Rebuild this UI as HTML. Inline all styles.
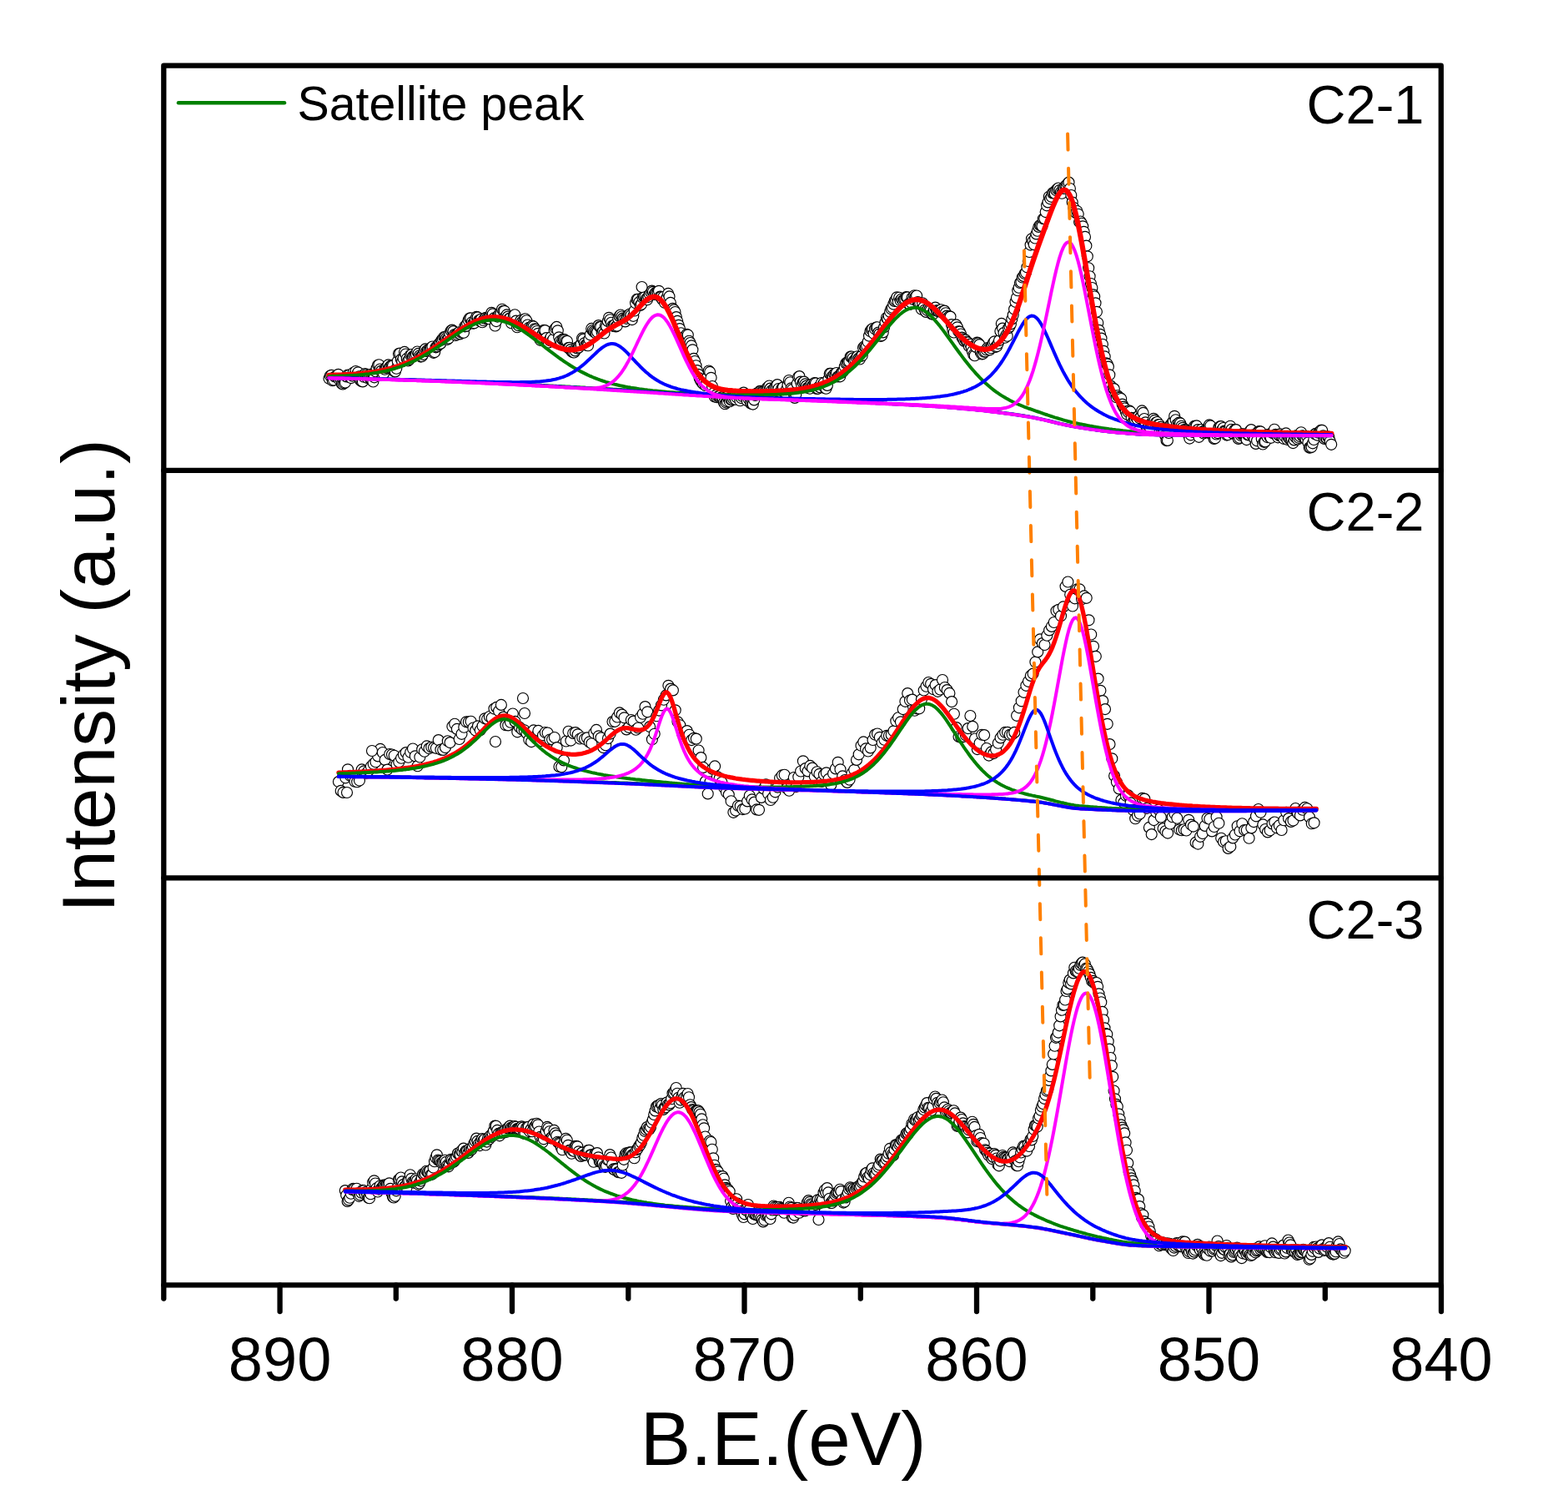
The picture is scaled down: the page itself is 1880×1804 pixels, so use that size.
<!DOCTYPE html><html><head><meta charset="utf-8"><style>html,body{margin:0;padding:0;background:#fff;}svg{display:block;}text{font-family:"Liberation Sans",Arial,sans-serif;fill:#000;}</style></head><body>
<svg width="1880" height="1804" viewBox="0 0 1880 1804">
<rect width="1880" height="1804" fill="#fff"/>
<g fill="#fff" stroke="#000" stroke-width="1.15"><circle cx="394.5" cy="453.8" r="6.5"/><circle cx="395.9" cy="450.5" r="6.5"/><circle cx="397.3" cy="449.8" r="6.5"/><circle cx="398.7" cy="456.2" r="6.5"/><circle cx="400.1" cy="455.5" r="6.5"/><circle cx="401.5" cy="451.5" r="6.5"/><circle cx="402.9" cy="451.2" r="6.5"/><circle cx="404.2" cy="451.1" r="6.5"/><circle cx="405.6" cy="448.8" r="6.5"/><circle cx="407" cy="455.3" r="6.5"/><circle cx="408.4" cy="454.1" r="6.5"/><circle cx="409.8" cy="460.1" r="6.5"/><circle cx="411.2" cy="460.5" r="6.5"/><circle cx="412.6" cy="459.3" r="6.5"/><circle cx="414" cy="458.6" r="6.5"/><circle cx="415.4" cy="451.4" r="6.5"/><circle cx="416.8" cy="449.5" r="6.5"/><circle cx="418.2" cy="450" r="6.5"/><circle cx="419.6" cy="452.2" r="6.5"/><circle cx="421" cy="453.1" r="6.5"/><circle cx="422.3" cy="450.6" r="6.5"/><circle cx="423.7" cy="446.8" r="6.5"/><circle cx="425.1" cy="449.1" r="6.5"/><circle cx="426.5" cy="445" r="6.5"/><circle cx="427.9" cy="449.1" r="6.5"/><circle cx="429.3" cy="446.3" r="6.5"/><circle cx="430.7" cy="451.3" r="6.5"/><circle cx="432.1" cy="456.1" r="6.5"/><circle cx="433.5" cy="457" r="6.5"/><circle cx="434.9" cy="457.4" r="6.5"/><circle cx="436.3" cy="451.7" r="6.5"/><circle cx="437.7" cy="448.1" r="6.5"/><circle cx="439.1" cy="449.2" r="6.5"/><circle cx="440.5" cy="453" r="6.5"/><circle cx="441.8" cy="451.3" r="6.5"/><circle cx="443.2" cy="449.1" r="6.5"/><circle cx="444.6" cy="454.9" r="6.5"/><circle cx="446" cy="455.6" r="6.5"/><circle cx="447.4" cy="457.5" r="6.5"/><circle cx="448.8" cy="452.3" r="6.5"/><circle cx="450.2" cy="445.3" r="6.5"/><circle cx="451.6" cy="441.4" r="6.5"/><circle cx="453" cy="437.8" r="6.5"/><circle cx="454.4" cy="437.2" r="6.5"/><circle cx="455.8" cy="442.5" r="6.5"/><circle cx="457.2" cy="444.6" r="6.5"/><circle cx="458.6" cy="449.6" r="6.5"/><circle cx="459.9" cy="448" r="6.5"/><circle cx="461.3" cy="442.7" r="6.5"/><circle cx="462.7" cy="441" r="6.5"/><circle cx="464.1" cy="439.6" r="6.5"/><circle cx="465.5" cy="437.4" r="6.5"/><circle cx="466.9" cy="440.6" r="6.5"/><circle cx="468.3" cy="438.8" r="6.5"/><circle cx="469.7" cy="437.9" r="6.5"/><circle cx="471.1" cy="438.3" r="6.5"/><circle cx="472.5" cy="445.1" r="6.5"/><circle cx="473.9" cy="445.4" r="6.5"/><circle cx="475.3" cy="441.7" r="6.5"/><circle cx="476.7" cy="432.9" r="6.5"/><circle cx="478" cy="424" r="6.5"/><circle cx="479.4" cy="423.6" r="6.5"/><circle cx="480.8" cy="430.8" r="6.5"/><circle cx="482.2" cy="433.2" r="6.5"/><circle cx="483.6" cy="429.5" r="6.5"/><circle cx="485" cy="421.9" r="6.5"/><circle cx="486.4" cy="424.5" r="6.5"/><circle cx="487.8" cy="429.9" r="6.5"/><circle cx="489.2" cy="432.5" r="6.5"/><circle cx="490.6" cy="431.3" r="6.5"/><circle cx="492" cy="425.7" r="6.5"/><circle cx="493.4" cy="425" r="6.5"/><circle cx="494.8" cy="427.4" r="6.5"/><circle cx="496.2" cy="427" r="6.5"/><circle cx="497.5" cy="425.7" r="6.5"/><circle cx="498.9" cy="424.2" r="6.5"/><circle cx="500.3" cy="421.5" r="6.5"/><circle cx="501.7" cy="423.8" r="6.5"/><circle cx="503.1" cy="426.2" r="6.5"/><circle cx="504.5" cy="427.6" r="6.5"/><circle cx="505.9" cy="427" r="6.5"/><circle cx="507.3" cy="424.8" r="6.5"/><circle cx="508.7" cy="419.9" r="6.5"/><circle cx="510.1" cy="418.3" r="6.5"/><circle cx="511.5" cy="420.8" r="6.5"/><circle cx="512.9" cy="419.4" r="6.5"/><circle cx="514.3" cy="419.7" r="6.5"/><circle cx="515.6" cy="418.3" r="6.5"/><circle cx="517" cy="416.9" r="6.5"/><circle cx="518.4" cy="415.5" r="6.5"/><circle cx="519.8" cy="422.8" r="6.5"/><circle cx="521.2" cy="422.1" r="6.5"/><circle cx="522.6" cy="416.3" r="6.5"/><circle cx="524" cy="415.4" r="6.5"/><circle cx="525.4" cy="413.4" r="6.5"/><circle cx="526.8" cy="411.6" r="6.5"/><circle cx="528.2" cy="411.9" r="6.5"/><circle cx="529.6" cy="407.4" r="6.5"/><circle cx="531" cy="406.2" r="6.5"/><circle cx="532.4" cy="404" r="6.5"/><circle cx="533.7" cy="404.2" r="6.5"/><circle cx="535.1" cy="405.5" r="6.5"/><circle cx="536.5" cy="406.8" r="6.5"/><circle cx="537.9" cy="405.6" r="6.5"/><circle cx="539.3" cy="399.4" r="6.5"/><circle cx="540.7" cy="396.4" r="6.5"/><circle cx="542.1" cy="395.6" r="6.5"/><circle cx="543.5" cy="397.1" r="6.5"/><circle cx="544.9" cy="401.1" r="6.5"/><circle cx="546.3" cy="402" r="6.5"/><circle cx="547.7" cy="400.7" r="6.5"/><circle cx="549.1" cy="399.1" r="6.5"/><circle cx="550.5" cy="398.2" r="6.5"/><circle cx="551.9" cy="400.3" r="6.5"/><circle cx="553.2" cy="398.6" r="6.5"/><circle cx="554.6" cy="398.1" r="6.5"/><circle cx="556" cy="398.7" r="6.5"/><circle cx="557.4" cy="391.3" r="6.5"/><circle cx="558.8" cy="390.9" r="6.5"/><circle cx="560.2" cy="387.7" r="6.5"/><circle cx="561.6" cy="383.8" r="6.5"/><circle cx="563" cy="381.5" r="6.5"/><circle cx="564.4" cy="381.3" r="6.5"/><circle cx="565.8" cy="386.3" r="6.5"/><circle cx="567.2" cy="387.7" r="6.5"/><circle cx="568.6" cy="387.2" r="6.5"/><circle cx="570" cy="383" r="6.5"/><circle cx="571.3" cy="379.8" r="6.5"/><circle cx="572.7" cy="380.4" r="6.5"/><circle cx="574.1" cy="384.1" r="6.5"/><circle cx="575.5" cy="384.3" r="6.5"/><circle cx="576.9" cy="382.5" r="6.5"/><circle cx="578.3" cy="386.2" r="6.5"/><circle cx="579.7" cy="384" r="6.5"/><circle cx="581.1" cy="381.7" r="6.5"/><circle cx="582.5" cy="380.8" r="6.5"/><circle cx="583.9" cy="381.4" r="6.5"/><circle cx="585.3" cy="381.7" r="6.5"/><circle cx="586.7" cy="382.2" r="6.5"/><circle cx="588.1" cy="378.3" r="6.5"/><circle cx="589.4" cy="374.8" r="6.5"/><circle cx="590.8" cy="376.4" r="6.5"/><circle cx="592.2" cy="381.4" r="6.5"/><circle cx="593.6" cy="390.5" r="6.5"/><circle cx="595" cy="385.1" r="6.5"/><circle cx="596.4" cy="379.6" r="6.5"/><circle cx="597.8" cy="377.9" r="6.5"/><circle cx="599.2" cy="375.6" r="6.5"/><circle cx="600.6" cy="375.9" r="6.5"/><circle cx="602" cy="370.7" r="6.5"/><circle cx="603.4" cy="372.8" r="6.5"/><circle cx="604.8" cy="372.8" r="6.5"/><circle cx="606.2" cy="379.4" r="6.5"/><circle cx="607.6" cy="377.4" r="6.5"/><circle cx="608.9" cy="379.6" r="6.5"/><circle cx="610.3" cy="382" r="6.5"/><circle cx="611.7" cy="381.4" r="6.5"/><circle cx="613.1" cy="387.2" r="6.5"/><circle cx="614.5" cy="383.6" r="6.5"/><circle cx="615.9" cy="378.4" r="6.5"/><circle cx="617.3" cy="377.2" r="6.5"/><circle cx="618.7" cy="384.6" r="6.5"/><circle cx="620.1" cy="392.2" r="6.5"/><circle cx="621.5" cy="390.1" r="6.5"/><circle cx="622.9" cy="387.1" r="6.5"/><circle cx="624.3" cy="384.1" r="6.5"/><circle cx="625.7" cy="386.1" r="6.5"/><circle cx="627" cy="387.7" r="6.5"/><circle cx="628.4" cy="382.9" r="6.5"/><circle cx="629.8" cy="382.2" r="6.5"/><circle cx="631.2" cy="384.2" r="6.5"/><circle cx="632.6" cy="389.5" r="6.5"/><circle cx="634" cy="392.9" r="6.5"/><circle cx="635.4" cy="396.2" r="6.5"/><circle cx="636.8" cy="392.1" r="6.5"/><circle cx="638.2" cy="390.6" r="6.5"/><circle cx="639.6" cy="391.5" r="6.5"/><circle cx="641" cy="394.2" r="6.5"/><circle cx="642.4" cy="394.9" r="6.5"/><circle cx="643.8" cy="397" r="6.5"/><circle cx="645.1" cy="399.8" r="6.5"/><circle cx="646.5" cy="405.4" r="6.5"/><circle cx="647.9" cy="407.8" r="6.5"/><circle cx="649.3" cy="403.8" r="6.5"/><circle cx="650.7" cy="400.2" r="6.5"/><circle cx="652.1" cy="395.9" r="6.5"/><circle cx="653.5" cy="396.1" r="6.5"/><circle cx="654.9" cy="405.1" r="6.5"/><circle cx="656.3" cy="409.7" r="6.5"/><circle cx="657.7" cy="410.6" r="6.5"/><circle cx="659.1" cy="408" r="6.5"/><circle cx="660.5" cy="404.3" r="6.5"/><circle cx="661.9" cy="408.9" r="6.5"/><circle cx="663.3" cy="406.7" r="6.5"/><circle cx="664.6" cy="395.6" r="6.5"/><circle cx="666" cy="393.5" r="6.5"/><circle cx="667.4" cy="391.9" r="6.5"/><circle cx="668.8" cy="396.3" r="6.5"/><circle cx="670.2" cy="404.3" r="6.5"/><circle cx="671.6" cy="408.7" r="6.5"/><circle cx="673" cy="411.1" r="6.5"/><circle cx="674.4" cy="406.9" r="6.5"/><circle cx="675.8" cy="406.7" r="6.5"/><circle cx="677.2" cy="407.3" r="6.5"/><circle cx="678.6" cy="409" r="6.5"/><circle cx="680" cy="409" r="6.5"/><circle cx="681.4" cy="417.1" r="6.5"/><circle cx="682.7" cy="416.9" r="6.5"/><circle cx="684.1" cy="419.1" r="6.5"/><circle cx="685.5" cy="421.2" r="6.5"/><circle cx="686.9" cy="422.2" r="6.5"/><circle cx="688.3" cy="422.5" r="6.5"/><circle cx="689.7" cy="420.4" r="6.5"/><circle cx="691.1" cy="416.9" r="6.5"/><circle cx="692.5" cy="417.6" r="6.5"/><circle cx="693.9" cy="416.6" r="6.5"/><circle cx="695.3" cy="414" r="6.5"/><circle cx="696.7" cy="412.5" r="6.5"/><circle cx="698.1" cy="405.4" r="6.5"/><circle cx="699.5" cy="406.6" r="6.5"/><circle cx="700.8" cy="411.3" r="6.5"/><circle cx="702.2" cy="413.4" r="6.5"/><circle cx="703.6" cy="413.6" r="6.5"/><circle cx="705" cy="414.2" r="6.5"/><circle cx="706.4" cy="406.6" r="6.5"/><circle cx="707.8" cy="401.3" r="6.5"/><circle cx="709.2" cy="393.9" r="6.5"/><circle cx="710.6" cy="396" r="6.5"/><circle cx="712" cy="397.4" r="6.5"/><circle cx="713.4" cy="398.5" r="6.5"/><circle cx="714.8" cy="399.6" r="6.5"/><circle cx="716.2" cy="398" r="6.5"/><circle cx="717.6" cy="390.1" r="6.5"/><circle cx="719" cy="391.8" r="6.5"/><circle cx="720.3" cy="392" r="6.5"/><circle cx="721.7" cy="398.6" r="6.5"/><circle cx="723.1" cy="397.2" r="6.5"/><circle cx="724.5" cy="399.5" r="6.5"/><circle cx="725.9" cy="390.7" r="6.5"/><circle cx="727.3" cy="391.4" r="6.5"/><circle cx="728.7" cy="384.9" r="6.5"/><circle cx="730.1" cy="380.8" r="6.5"/><circle cx="731.5" cy="383.2" r="6.5"/><circle cx="732.9" cy="386.7" r="6.5"/><circle cx="734.3" cy="390.5" r="6.5"/><circle cx="735.7" cy="390.8" r="6.5"/><circle cx="737.1" cy="389.3" r="6.5"/><circle cx="738.4" cy="391.4" r="6.5"/><circle cx="739.8" cy="390.6" r="6.5"/><circle cx="741.2" cy="381.8" r="6.5"/><circle cx="742.6" cy="378.9" r="6.5"/><circle cx="744" cy="377.5" r="6.5"/><circle cx="745.4" cy="379.5" r="6.5"/><circle cx="746.8" cy="381.6" r="6.5"/><circle cx="748.2" cy="382.9" r="6.5"/><circle cx="749.6" cy="385.4" r="6.5"/><circle cx="751" cy="381.8" r="6.5"/><circle cx="752.4" cy="379.7" r="6.5"/><circle cx="753.8" cy="377.5" r="6.5"/><circle cx="755.2" cy="376.5" r="6.5"/><circle cx="756.5" cy="377.9" r="6.5"/><circle cx="757.9" cy="383.1" r="6.5"/><circle cx="759.3" cy="378.8" r="6.5"/><circle cx="760.7" cy="372.5" r="6.5"/><circle cx="762.1" cy="363.2" r="6.5"/><circle cx="763.5" cy="358.9" r="6.5"/><circle cx="764.9" cy="358.8" r="6.5"/><circle cx="766.3" cy="362.2" r="6.5"/><circle cx="767.7" cy="365.9" r="6.5"/><circle cx="769.1" cy="364.7" r="6.5"/><circle cx="770.5" cy="356.7" r="6.5"/><circle cx="771.9" cy="355.7" r="6.5"/><circle cx="773.3" cy="355.9" r="6.5"/><circle cx="774.7" cy="358.4" r="6.5"/><circle cx="776" cy="359.2" r="6.5"/><circle cx="777.4" cy="355.8" r="6.5"/><circle cx="778.8" cy="352.4" r="6.5"/><circle cx="780.2" cy="350" r="6.5"/><circle cx="781.6" cy="348.6" r="6.5"/><circle cx="783" cy="349.8" r="6.5"/><circle cx="784.4" cy="353" r="6.5"/><circle cx="785.8" cy="350.9" r="6.5"/><circle cx="787.2" cy="351" r="6.5"/><circle cx="788.6" cy="350.2" r="6.5"/><circle cx="790" cy="348.8" r="6.5"/><circle cx="791.4" cy="355.6" r="6.5"/><circle cx="792.8" cy="355.8" r="6.5"/><circle cx="794.1" cy="359.1" r="6.5"/><circle cx="795.5" cy="355.8" r="6.5"/><circle cx="796.9" cy="362.8" r="6.5"/><circle cx="798.3" cy="360.1" r="6.5"/><circle cx="799.7" cy="356.5" r="6.5"/><circle cx="801.1" cy="351.9" r="6.5"/><circle cx="802.5" cy="355.4" r="6.5"/><circle cx="803.9" cy="362.9" r="6.5"/><circle cx="805.3" cy="370.7" r="6.5"/><circle cx="806.7" cy="369.9" r="6.5"/><circle cx="808.1" cy="371.4" r="6.5"/><circle cx="809.5" cy="374" r="6.5"/><circle cx="810.9" cy="380.1" r="6.5"/><circle cx="812.2" cy="384.9" r="6.5"/><circle cx="813.6" cy="389.8" r="6.5"/><circle cx="815" cy="394.1" r="6.5"/><circle cx="816.4" cy="399.2" r="6.5"/><circle cx="817.8" cy="405.5" r="6.5"/><circle cx="819.2" cy="405.8" r="6.5"/><circle cx="820.6" cy="403.8" r="6.5"/><circle cx="822" cy="404.5" r="6.5"/><circle cx="823.4" cy="400.8" r="6.5"/><circle cx="824.8" cy="401.5" r="6.5"/><circle cx="826.2" cy="408.7" r="6.5"/><circle cx="827.6" cy="411" r="6.5"/><circle cx="829" cy="414.4" r="6.5"/><circle cx="830.4" cy="419.3" r="6.5"/><circle cx="831.7" cy="429.9" r="6.5"/><circle cx="833.1" cy="433" r="6.5"/><circle cx="834.5" cy="438.2" r="6.5"/><circle cx="835.9" cy="444.1" r="6.5"/><circle cx="837.3" cy="448.8" r="6.5"/><circle cx="838.7" cy="453.4" r="6.5"/><circle cx="840.1" cy="456.3" r="6.5"/><circle cx="841.5" cy="458.3" r="6.5"/><circle cx="842.9" cy="460.1" r="6.5"/><circle cx="844.3" cy="458.7" r="6.5"/><circle cx="845.7" cy="462.1" r="6.5"/><circle cx="847.1" cy="460.5" r="6.5"/><circle cx="848.5" cy="452" r="6.5"/><circle cx="849.8" cy="444.5" r="6.5"/><circle cx="851.2" cy="445.9" r="6.5"/><circle cx="852.6" cy="452.8" r="6.5"/><circle cx="854" cy="463" r="6.5"/><circle cx="855.4" cy="471.4" r="6.5"/><circle cx="856.8" cy="475.4" r="6.5"/><circle cx="858.2" cy="473.9" r="6.5"/><circle cx="859.6" cy="476.2" r="6.5"/><circle cx="861" cy="475.3" r="6.5"/><circle cx="862.4" cy="474.9" r="6.5"/><circle cx="863.8" cy="477.1" r="6.5"/><circle cx="865.2" cy="476.4" r="6.5"/><circle cx="866.6" cy="478.3" r="6.5"/><circle cx="867.9" cy="482.6" r="6.5"/><circle cx="869.3" cy="484.2" r="6.5"/><circle cx="870.7" cy="482.6" r="6.5"/><circle cx="872.1" cy="481.2" r="6.5"/><circle cx="873.5" cy="478" r="6.5"/><circle cx="874.9" cy="481.2" r="6.5"/><circle cx="876.3" cy="479.1" r="6.5"/><circle cx="877.7" cy="479.4" r="6.5"/><circle cx="879.1" cy="478.1" r="6.5"/><circle cx="880.5" cy="476.2" r="6.5"/><circle cx="881.9" cy="478.7" r="6.5"/><circle cx="883.3" cy="476.2" r="6.5"/><circle cx="884.7" cy="474.1" r="6.5"/><circle cx="886.1" cy="475.2" r="6.5"/><circle cx="887.4" cy="480.2" r="6.5"/><circle cx="888.8" cy="477.1" r="6.5"/><circle cx="890.2" cy="475" r="6.5"/><circle cx="891.6" cy="470.6" r="6.5"/><circle cx="893" cy="474.4" r="6.5"/><circle cx="894.4" cy="475.6" r="6.5"/><circle cx="895.8" cy="480.2" r="6.5"/><circle cx="897.2" cy="477.8" r="6.5"/><circle cx="898.6" cy="476" r="6.5"/><circle cx="900" cy="483.5" r="6.5"/><circle cx="901.4" cy="483.9" r="6.5"/><circle cx="902.8" cy="484.6" r="6.5"/><circle cx="904.2" cy="479.4" r="6.5"/><circle cx="905.5" cy="473.9" r="6.5"/><circle cx="906.9" cy="471.8" r="6.5"/><circle cx="908.3" cy="471.4" r="6.5"/><circle cx="909.7" cy="473" r="6.5"/><circle cx="911.1" cy="468.8" r="6.5"/><circle cx="912.5" cy="468.7" r="6.5"/><circle cx="913.9" cy="469.6" r="6.5"/><circle cx="915.3" cy="469.2" r="6.5"/><circle cx="916.7" cy="471.2" r="6.5"/><circle cx="918.1" cy="468.2" r="6.5"/><circle cx="919.5" cy="465.3" r="6.5"/><circle cx="920.9" cy="464" r="6.5"/><circle cx="922.3" cy="462.5" r="6.5"/><circle cx="923.6" cy="465.6" r="6.5"/><circle cx="925" cy="468.3" r="6.5"/><circle cx="926.4" cy="470.4" r="6.5"/><circle cx="927.8" cy="466.2" r="6.5"/><circle cx="929.2" cy="464" r="6.5"/><circle cx="930.6" cy="462.7" r="6.5"/><circle cx="932" cy="461.1" r="6.5"/><circle cx="933.4" cy="466" r="6.5"/><circle cx="934.8" cy="470.2" r="6.5"/><circle cx="936.2" cy="470.4" r="6.5"/><circle cx="937.6" cy="465.2" r="6.5"/><circle cx="939" cy="464.3" r="6.5"/><circle cx="940.4" cy="470.8" r="6.5"/><circle cx="941.8" cy="471.1" r="6.5"/><circle cx="943.1" cy="466.7" r="6.5"/><circle cx="944.5" cy="461.6" r="6.5"/><circle cx="945.9" cy="456" r="6.5"/><circle cx="947.3" cy="458.2" r="6.5"/><circle cx="948.7" cy="465.3" r="6.5"/><circle cx="950.1" cy="466.8" r="6.5"/><circle cx="951.5" cy="471.6" r="6.5"/><circle cx="952.9" cy="476.9" r="6.5"/><circle cx="954.3" cy="472.7" r="6.5"/><circle cx="955.7" cy="459.9" r="6.5"/><circle cx="957.1" cy="452" r="6.5"/><circle cx="958.5" cy="451.1" r="6.5"/><circle cx="959.9" cy="457.6" r="6.5"/><circle cx="961.2" cy="461.9" r="6.5"/><circle cx="962.6" cy="458.8" r="6.5"/><circle cx="964" cy="457.6" r="6.5"/><circle cx="965.4" cy="460.4" r="6.5"/><circle cx="966.8" cy="462.6" r="6.5"/><circle cx="968.2" cy="464.7" r="6.5"/><circle cx="969.6" cy="464.6" r="6.5"/><circle cx="971" cy="465.7" r="6.5"/><circle cx="972.4" cy="461.1" r="6.5"/><circle cx="973.8" cy="462.7" r="6.5"/><circle cx="975.2" cy="461.8" r="6.5"/><circle cx="976.6" cy="459" r="6.5"/><circle cx="978" cy="459.4" r="6.5"/><circle cx="979.3" cy="465.9" r="6.5"/><circle cx="980.7" cy="465.8" r="6.5"/><circle cx="982.1" cy="463.5" r="6.5"/><circle cx="983.5" cy="464.4" r="6.5"/><circle cx="984.9" cy="459" r="6.5"/><circle cx="986.3" cy="461.7" r="6.5"/><circle cx="987.7" cy="459.2" r="6.5"/><circle cx="989.1" cy="465.2" r="6.5"/><circle cx="990.5" cy="465.7" r="6.5"/><circle cx="991.9" cy="461.9" r="6.5"/><circle cx="993.3" cy="454.5" r="6.5"/><circle cx="994.7" cy="447.9" r="6.5"/><circle cx="996.1" cy="447.8" r="6.5"/><circle cx="997.5" cy="451.5" r="6.5"/><circle cx="998.8" cy="452.3" r="6.5"/><circle cx="1000.2" cy="448.6" r="6.5"/><circle cx="1001.6" cy="449.1" r="6.5"/><circle cx="1003" cy="447" r="6.5"/><circle cx="1004.4" cy="451.5" r="6.5"/><circle cx="1005.8" cy="451" r="6.5"/><circle cx="1007.2" cy="451.3" r="6.5"/><circle cx="1008.6" cy="447.1" r="6.5"/><circle cx="1010" cy="446.1" r="6.5"/><circle cx="1011.4" cy="444.4" r="6.5"/><circle cx="1012.8" cy="439.6" r="6.5"/><circle cx="1014.2" cy="435.4" r="6.5"/><circle cx="1015.6" cy="434.8" r="6.5"/><circle cx="1016.9" cy="433.5" r="6.5"/><circle cx="1018.3" cy="433.3" r="6.5"/><circle cx="1019.7" cy="427.6" r="6.5"/><circle cx="1021.1" cy="427.5" r="6.5"/><circle cx="1022.5" cy="429.4" r="6.5"/><circle cx="1023.9" cy="432.5" r="6.5"/><circle cx="1025.3" cy="431.2" r="6.5"/><circle cx="1026.7" cy="428.7" r="6.5"/><circle cx="1028.1" cy="427.2" r="6.5"/><circle cx="1029.5" cy="429.6" r="6.5"/><circle cx="1030.9" cy="430.5" r="6.5"/><circle cx="1032.3" cy="426.7" r="6.5"/><circle cx="1033.7" cy="426.3" r="6.5"/><circle cx="1035" cy="416.8" r="6.5"/><circle cx="1036.4" cy="415.2" r="6.5"/><circle cx="1037.8" cy="415.9" r="6.5"/><circle cx="1039.2" cy="414.5" r="6.5"/><circle cx="1040.6" cy="409.8" r="6.5"/><circle cx="1042" cy="402.6" r="6.5"/><circle cx="1043.4" cy="397.1" r="6.5"/><circle cx="1044.8" cy="395.1" r="6.5"/><circle cx="1046.2" cy="394" r="6.5"/><circle cx="1047.6" cy="399.7" r="6.5"/><circle cx="1049" cy="394.3" r="6.5"/><circle cx="1050.4" cy="392.5" r="6.5"/><circle cx="1051.8" cy="392.2" r="6.5"/><circle cx="1053.2" cy="398.6" r="6.5"/><circle cx="1054.5" cy="400.3" r="6.5"/><circle cx="1055.9" cy="403" r="6.5"/><circle cx="1057.3" cy="402" r="6.5"/><circle cx="1058.7" cy="398.4" r="6.5"/><circle cx="1060.1" cy="392.2" r="6.5"/><circle cx="1061.5" cy="386.4" r="6.5"/><circle cx="1062.9" cy="381" r="6.5"/><circle cx="1064.3" cy="382.2" r="6.5"/><circle cx="1065.7" cy="378.6" r="6.5"/><circle cx="1067.1" cy="373.7" r="6.5"/><circle cx="1068.5" cy="370.3" r="6.5"/><circle cx="1069.9" cy="368.7" r="6.5"/><circle cx="1071.3" cy="364.6" r="6.5"/><circle cx="1072.6" cy="360.9" r="6.5"/><circle cx="1074" cy="359.7" r="6.5"/><circle cx="1075.4" cy="356.3" r="6.5"/><circle cx="1076.8" cy="361.5" r="6.5"/><circle cx="1078.2" cy="356.7" r="6.5"/><circle cx="1079.6" cy="360.3" r="6.5"/><circle cx="1081" cy="358.5" r="6.5"/><circle cx="1082.4" cy="360.3" r="6.5"/><circle cx="1083.8" cy="359" r="6.5"/><circle cx="1085.2" cy="358.5" r="6.5"/><circle cx="1086.6" cy="356.1" r="6.5"/><circle cx="1088" cy="356.3" r="6.5"/><circle cx="1089.4" cy="364.2" r="6.5"/><circle cx="1090.7" cy="364.9" r="6.5"/><circle cx="1092.1" cy="362.2" r="6.5"/><circle cx="1093.5" cy="357.1" r="6.5"/><circle cx="1094.9" cy="358.8" r="6.5"/><circle cx="1096.3" cy="354.2" r="6.5"/><circle cx="1097.7" cy="355.5" r="6.5"/><circle cx="1099.1" cy="354.5" r="6.5"/><circle cx="1100.5" cy="362" r="6.5"/><circle cx="1101.9" cy="363.9" r="6.5"/><circle cx="1103.3" cy="363.6" r="6.5"/><circle cx="1104.7" cy="370.6" r="6.5"/><circle cx="1106.1" cy="363.2" r="6.5"/><circle cx="1107.5" cy="368.3" r="6.5"/><circle cx="1108.9" cy="371.5" r="6.5"/><circle cx="1110.2" cy="373.9" r="6.5"/><circle cx="1111.6" cy="371.7" r="6.5"/><circle cx="1113" cy="370" r="6.5"/><circle cx="1114.4" cy="371.1" r="6.5"/><circle cx="1115.8" cy="371.9" r="6.5"/><circle cx="1117.2" cy="376.4" r="6.5"/><circle cx="1118.6" cy="376.6" r="6.5"/><circle cx="1120" cy="371.3" r="6.5"/><circle cx="1121.4" cy="368.6" r="6.5"/><circle cx="1122.8" cy="372.4" r="6.5"/><circle cx="1124.2" cy="372.5" r="6.5"/><circle cx="1125.6" cy="373.5" r="6.5"/><circle cx="1127" cy="372.9" r="6.5"/><circle cx="1128.3" cy="371.2" r="6.5"/><circle cx="1129.7" cy="373.6" r="6.5"/><circle cx="1131.1" cy="375.7" r="6.5"/><circle cx="1132.5" cy="372.6" r="6.5"/><circle cx="1133.9" cy="375.2" r="6.5"/><circle cx="1135.3" cy="378.6" r="6.5"/><circle cx="1136.7" cy="380.8" r="6.5"/><circle cx="1138.1" cy="379.2" r="6.5"/><circle cx="1139.5" cy="379.6" r="6.5"/><circle cx="1140.9" cy="389.1" r="6.5"/><circle cx="1142.3" cy="395.2" r="6.5"/><circle cx="1143.7" cy="398.5" r="6.5"/><circle cx="1145.1" cy="391.2" r="6.5"/><circle cx="1146.4" cy="389.4" r="6.5"/><circle cx="1147.8" cy="392.3" r="6.5"/><circle cx="1149.2" cy="397.2" r="6.5"/><circle cx="1150.6" cy="397.6" r="6.5"/><circle cx="1152" cy="400.5" r="6.5"/><circle cx="1153.4" cy="404.6" r="6.5"/><circle cx="1154.8" cy="406.3" r="6.5"/><circle cx="1156.2" cy="408.9" r="6.5"/><circle cx="1157.6" cy="407.4" r="6.5"/><circle cx="1159" cy="409.5" r="6.5"/><circle cx="1160.4" cy="410.4" r="6.5"/><circle cx="1161.8" cy="415" r="6.5"/><circle cx="1163.2" cy="412.6" r="6.5"/><circle cx="1164.6" cy="415.9" r="6.5"/><circle cx="1165.9" cy="421.2" r="6.5"/><circle cx="1167.3" cy="425.3" r="6.5"/><circle cx="1168.7" cy="426.2" r="6.5"/><circle cx="1170.1" cy="415.9" r="6.5"/><circle cx="1171.5" cy="410.6" r="6.5"/><circle cx="1172.9" cy="411.4" r="6.5"/><circle cx="1174.3" cy="413.1" r="6.5"/><circle cx="1175.7" cy="422.2" r="6.5"/><circle cx="1177.1" cy="424.5" r="6.5"/><circle cx="1178.5" cy="424.1" r="6.5"/><circle cx="1179.9" cy="421.7" r="6.5"/><circle cx="1181.3" cy="421.3" r="6.5"/><circle cx="1182.7" cy="419.2" r="6.5"/><circle cx="1184" cy="417.1" r="6.5"/><circle cx="1185.4" cy="418.3" r="6.5"/><circle cx="1186.8" cy="419.3" r="6.5"/><circle cx="1188.2" cy="417.2" r="6.5"/><circle cx="1189.6" cy="413.6" r="6.5"/><circle cx="1191" cy="411.1" r="6.5"/><circle cx="1192.4" cy="409.3" r="6.5"/><circle cx="1193.8" cy="415.8" r="6.5"/><circle cx="1195.2" cy="415.1" r="6.5"/><circle cx="1196.6" cy="411.8" r="6.5"/><circle cx="1198" cy="408.1" r="6.5"/><circle cx="1199.4" cy="397.1" r="6.5"/><circle cx="1200.8" cy="387.9" r="6.5"/><circle cx="1202.1" cy="393.6" r="6.5"/><circle cx="1203.5" cy="399.1" r="6.5"/><circle cx="1204.9" cy="404.7" r="6.5"/><circle cx="1206.3" cy="401.8" r="6.5"/><circle cx="1207.7" cy="402.7" r="6.5"/><circle cx="1209.1" cy="393.3" r="6.5"/><circle cx="1210.5" cy="391.5" r="6.5"/><circle cx="1211.9" cy="388.4" r="6.5"/><circle cx="1213.3" cy="382.4" r="6.5"/><circle cx="1214.7" cy="377.6" r="6.5"/><circle cx="1216.1" cy="370.6" r="6.5"/><circle cx="1217.5" cy="361.8" r="6.5"/><circle cx="1218.9" cy="356.9" r="6.5"/><circle cx="1220.3" cy="348.2" r="6.5"/><circle cx="1221.6" cy="344.7" r="6.5"/><circle cx="1223" cy="339" r="6.5"/><circle cx="1224.4" cy="338" r="6.5"/><circle cx="1225.8" cy="332.5" r="6.5"/><circle cx="1227.2" cy="330.9" r="6.5"/><circle cx="1228.6" cy="328" r="6.5"/><circle cx="1230" cy="326.8" r="6.5"/><circle cx="1231.4" cy="320.3" r="6.5"/><circle cx="1232.8" cy="313" r="6.5"/><circle cx="1234.2" cy="302" r="6.5"/><circle cx="1235.6" cy="293.6" r="6.5"/><circle cx="1237" cy="286.3" r="6.5"/><circle cx="1238.4" cy="289.2" r="6.5"/><circle cx="1239.7" cy="293.1" r="6.5"/><circle cx="1241.1" cy="285.5" r="6.5"/><circle cx="1242.5" cy="280.4" r="6.5"/><circle cx="1243.9" cy="276.7" r="6.5"/><circle cx="1245.3" cy="271.9" r="6.5"/><circle cx="1246.7" cy="270" r="6.5"/><circle cx="1248.1" cy="270.3" r="6.5"/><circle cx="1249.5" cy="271.1" r="6.5"/><circle cx="1250.9" cy="262.2" r="6.5"/><circle cx="1252.3" cy="262" r="6.5"/><circle cx="1253.7" cy="254.1" r="6.5"/><circle cx="1255.1" cy="246.3" r="6.5"/><circle cx="1256.5" cy="242.4" r="6.5"/><circle cx="1257.8" cy="235.8" r="6.5"/><circle cx="1259.2" cy="238.3" r="6.5"/><circle cx="1260.6" cy="235.8" r="6.5"/><circle cx="1262" cy="231.4" r="6.5"/><circle cx="1263.4" cy="231" r="6.5"/><circle cx="1264.8" cy="231.8" r="6.5"/><circle cx="1266.2" cy="228.1" r="6.5"/><circle cx="1267.6" cy="226.6" r="6.5"/><circle cx="1269" cy="225.5" r="6.5"/><circle cx="1270.4" cy="228" r="6.5"/><circle cx="1271.8" cy="230.5" r="6.5"/><circle cx="1273.2" cy="231.7" r="6.5"/><circle cx="1274.6" cy="225.8" r="6.5"/><circle cx="1276" cy="225.9" r="6.5"/><circle cx="1277.3" cy="222.9" r="6.5"/><circle cx="1278.7" cy="223.2" r="6.5"/><circle cx="1280.1" cy="220.1" r="6.5"/><circle cx="1281.5" cy="218.6" r="6.5"/><circle cx="1282.9" cy="226" r="6.5"/><circle cx="1284.3" cy="234" r="6.5"/><circle cx="1285.7" cy="242.5" r="6.5"/><circle cx="1287.1" cy="248.7" r="6.5"/><circle cx="1288.5" cy="253.8" r="6.5"/><circle cx="1289.9" cy="255.1" r="6.5"/><circle cx="1291.3" cy="253" r="6.5"/><circle cx="1292.7" cy="256.7" r="6.5"/><circle cx="1294.1" cy="266.1" r="6.5"/><circle cx="1295.4" cy="265.5" r="6.5"/><circle cx="1296.8" cy="267.7" r="6.5"/><circle cx="1298.2" cy="271.3" r="6.5"/><circle cx="1299.6" cy="277.8" r="6.5"/><circle cx="1301" cy="283.9" r="6.5"/><circle cx="1302.4" cy="294.6" r="6.5"/><circle cx="1303.8" cy="307.3" r="6.5"/><circle cx="1305.2" cy="321.2" r="6.5"/><circle cx="1306.6" cy="331.2" r="6.5"/><circle cx="1308" cy="340" r="6.5"/><circle cx="1309.4" cy="345" r="6.5"/><circle cx="1310.8" cy="353.3" r="6.5"/><circle cx="1312.2" cy="355.5" r="6.5"/><circle cx="1313.5" cy="363.3" r="6.5"/><circle cx="1314.9" cy="373.8" r="6.5"/><circle cx="1316.3" cy="387" r="6.5"/><circle cx="1317.7" cy="395.9" r="6.5"/><circle cx="1319.1" cy="400.9" r="6.5"/><circle cx="1320.5" cy="405.6" r="6.5"/><circle cx="1321.9" cy="412.7" r="6.5"/><circle cx="1323.3" cy="420.9" r="6.5"/><circle cx="1324.7" cy="427.4" r="6.5"/><circle cx="1326.1" cy="435.4" r="6.5"/><circle cx="1327.5" cy="436.3" r="6.5"/><circle cx="1328.9" cy="439.6" r="6.5"/><circle cx="1330.3" cy="449.3" r="6.5"/><circle cx="1331.7" cy="462.6" r="6.5"/><circle cx="1333" cy="468.1" r="6.5"/><circle cx="1334.4" cy="465.5" r="6.5"/><circle cx="1335.8" cy="466.1" r="6.5"/><circle cx="1337.2" cy="474.5" r="6.5"/><circle cx="1338.6" cy="476.2" r="6.5"/><circle cx="1340" cy="474.2" r="6.5"/><circle cx="1341.4" cy="476" r="6.5"/><circle cx="1342.8" cy="476.7" r="6.5"/><circle cx="1344.2" cy="478" r="6.5"/><circle cx="1345.6" cy="484.6" r="6.5"/><circle cx="1347" cy="487.6" r="6.5"/><circle cx="1348.4" cy="489.5" r="6.5"/><circle cx="1349.8" cy="493.3" r="6.5"/><circle cx="1351.1" cy="496.6" r="6.5"/><circle cx="1352.5" cy="493.7" r="6.5"/><circle cx="1353.9" cy="492.3" r="6.5"/><circle cx="1355.3" cy="493.4" r="6.5"/><circle cx="1356.7" cy="500.9" r="6.5"/><circle cx="1358.1" cy="506.2" r="6.5"/><circle cx="1359.5" cy="503" r="6.5"/><circle cx="1360.9" cy="502.6" r="6.5"/><circle cx="1362.3" cy="500.4" r="6.5"/><circle cx="1363.7" cy="502.6" r="6.5"/><circle cx="1365.1" cy="499" r="6.5"/><circle cx="1366.5" cy="501.3" r="6.5"/><circle cx="1367.9" cy="499.6" r="6.5"/><circle cx="1369.2" cy="492.4" r="6.5"/><circle cx="1370.6" cy="494.9" r="6.5"/><circle cx="1372" cy="502" r="6.5"/><circle cx="1373.4" cy="506.3" r="6.5"/><circle cx="1374.8" cy="514.2" r="6.5"/><circle cx="1376.2" cy="514.7" r="6.5"/><circle cx="1377.6" cy="511.4" r="6.5"/><circle cx="1379" cy="512.8" r="6.5"/><circle cx="1380.4" cy="507.5" r="6.5"/><circle cx="1381.8" cy="507.1" r="6.5"/><circle cx="1383.2" cy="501.8" r="6.5"/><circle cx="1384.6" cy="503.8" r="6.5"/><circle cx="1386" cy="506.5" r="6.5"/><circle cx="1387.4" cy="506" r="6.5"/><circle cx="1388.7" cy="509" r="6.5"/><circle cx="1390.1" cy="509.2" r="6.5"/><circle cx="1391.5" cy="511.9" r="6.5"/><circle cx="1392.9" cy="514.6" r="6.5"/><circle cx="1394.3" cy="514.3" r="6.5"/><circle cx="1395.7" cy="517.9" r="6.5"/><circle cx="1397.1" cy="522" r="6.5"/><circle cx="1398.5" cy="528.1" r="6.5"/><circle cx="1399.9" cy="527.9" r="6.5"/><circle cx="1401.3" cy="519" r="6.5"/><circle cx="1402.7" cy="510.3" r="6.5"/><circle cx="1404.1" cy="508.4" r="6.5"/><circle cx="1405.5" cy="506.6" r="6.5"/><circle cx="1406.8" cy="504.9" r="6.5"/><circle cx="1408.2" cy="498.8" r="6.5"/><circle cx="1409.6" cy="503.2" r="6.5"/><circle cx="1411" cy="508.8" r="6.5"/><circle cx="1412.4" cy="509.9" r="6.5"/><circle cx="1413.8" cy="506.6" r="6.5"/><circle cx="1415.2" cy="507.4" r="6.5"/><circle cx="1416.6" cy="510.7" r="6.5"/><circle cx="1418" cy="512.8" r="6.5"/><circle cx="1419.4" cy="515.3" r="6.5"/><circle cx="1420.8" cy="515" r="6.5"/><circle cx="1422.2" cy="515.4" r="6.5"/><circle cx="1423.6" cy="516.6" r="6.5"/><circle cx="1424.9" cy="521.2" r="6.5"/><circle cx="1426.3" cy="525.6" r="6.5"/><circle cx="1427.7" cy="521.3" r="6.5"/><circle cx="1429.1" cy="517.2" r="6.5"/><circle cx="1430.5" cy="517.9" r="6.5"/><circle cx="1431.9" cy="510.9" r="6.5"/><circle cx="1433.3" cy="511.2" r="6.5"/><circle cx="1434.7" cy="510.4" r="6.5"/><circle cx="1436.1" cy="515.1" r="6.5"/><circle cx="1437.5" cy="523.8" r="6.5"/><circle cx="1438.9" cy="516.9" r="6.5"/><circle cx="1440.3" cy="515" r="6.5"/><circle cx="1441.7" cy="517.6" r="6.5"/><circle cx="1443.1" cy="519.6" r="6.5"/><circle cx="1444.4" cy="518.2" r="6.5"/><circle cx="1445.8" cy="514.8" r="6.5"/><circle cx="1447.2" cy="514.9" r="6.5"/><circle cx="1448.6" cy="514.2" r="6.5"/><circle cx="1450" cy="509.3" r="6.5"/><circle cx="1451.4" cy="510.4" r="6.5"/><circle cx="1452.8" cy="520.9" r="6.5"/><circle cx="1454.2" cy="521" r="6.5"/><circle cx="1455.6" cy="525.9" r="6.5"/><circle cx="1457" cy="525.2" r="6.5"/><circle cx="1458.4" cy="520.5" r="6.5"/><circle cx="1459.8" cy="519.1" r="6.5"/><circle cx="1461.2" cy="512.7" r="6.5"/><circle cx="1462.5" cy="511.4" r="6.5"/><circle cx="1463.9" cy="511.1" r="6.5"/><circle cx="1465.3" cy="514.9" r="6.5"/><circle cx="1466.7" cy="513" r="6.5"/><circle cx="1468.1" cy="516.6" r="6.5"/><circle cx="1469.5" cy="516.9" r="6.5"/><circle cx="1470.9" cy="521.6" r="6.5"/><circle cx="1472.3" cy="521" r="6.5"/><circle cx="1473.7" cy="514.2" r="6.5"/><circle cx="1475.1" cy="510.7" r="6.5"/><circle cx="1476.5" cy="514.7" r="6.5"/><circle cx="1477.9" cy="519.4" r="6.5"/><circle cx="1479.3" cy="517.3" r="6.5"/><circle cx="1480.6" cy="515.1" r="6.5"/><circle cx="1482" cy="515.1" r="6.5"/><circle cx="1483.4" cy="522.8" r="6.5"/><circle cx="1484.8" cy="525.9" r="6.5"/><circle cx="1486.2" cy="524.7" r="6.5"/><circle cx="1487.6" cy="521.8" r="6.5"/><circle cx="1489" cy="520.4" r="6.5"/><circle cx="1490.4" cy="520.2" r="6.5"/><circle cx="1491.8" cy="521.1" r="6.5"/><circle cx="1493.2" cy="520.9" r="6.5"/><circle cx="1494.6" cy="527.1" r="6.5"/><circle cx="1496" cy="521.2" r="6.5"/><circle cx="1497.4" cy="521.4" r="6.5"/><circle cx="1498.8" cy="516.5" r="6.5"/><circle cx="1500.1" cy="515.1" r="6.5"/><circle cx="1501.5" cy="522.1" r="6.5"/><circle cx="1502.9" cy="521.3" r="6.5"/><circle cx="1504.3" cy="526.4" r="6.5"/><circle cx="1505.7" cy="531.9" r="6.5"/><circle cx="1507.1" cy="528.3" r="6.5"/><circle cx="1508.5" cy="517.6" r="6.5"/><circle cx="1509.9" cy="517.1" r="6.5"/><circle cx="1511.3" cy="517.3" r="6.5"/><circle cx="1512.7" cy="525.9" r="6.5"/><circle cx="1514.1" cy="532.5" r="6.5"/><circle cx="1515.5" cy="529.8" r="6.5"/><circle cx="1516.9" cy="529.4" r="6.5"/><circle cx="1518.2" cy="521.5" r="6.5"/><circle cx="1519.6" cy="524.1" r="6.5"/><circle cx="1521" cy="520.7" r="6.5"/><circle cx="1522.4" cy="523.7" r="6.5"/><circle cx="1523.8" cy="524.8" r="6.5"/><circle cx="1525.2" cy="518.8" r="6.5"/><circle cx="1526.6" cy="519.1" r="6.5"/><circle cx="1528" cy="514.7" r="6.5"/><circle cx="1529.4" cy="520.8" r="6.5"/><circle cx="1530.8" cy="521.7" r="6.5"/><circle cx="1532.2" cy="524.3" r="6.5"/><circle cx="1533.6" cy="521.9" r="6.5"/><circle cx="1535" cy="520.3" r="6.5"/><circle cx="1536.3" cy="522.9" r="6.5"/><circle cx="1537.7" cy="522" r="6.5"/><circle cx="1539.1" cy="525.8" r="6.5"/><circle cx="1540.5" cy="523.3" r="6.5"/><circle cx="1541.9" cy="519.4" r="6.5"/><circle cx="1543.3" cy="526.8" r="6.5"/><circle cx="1544.7" cy="524.2" r="6.5"/><circle cx="1546.1" cy="526.3" r="6.5"/><circle cx="1547.5" cy="526.4" r="6.5"/><circle cx="1548.9" cy="526.8" r="6.5"/><circle cx="1550.3" cy="531.1" r="6.5"/><circle cx="1551.7" cy="527.4" r="6.5"/><circle cx="1553.1" cy="523.9" r="6.5"/><circle cx="1554.5" cy="522" r="6.5"/><circle cx="1555.8" cy="526.5" r="6.5"/><circle cx="1557.2" cy="524.8" r="6.5"/><circle cx="1558.6" cy="523.1" r="6.5"/><circle cx="1560" cy="518.2" r="6.5"/><circle cx="1561.4" cy="522.2" r="6.5"/><circle cx="1562.8" cy="522.8" r="6.5"/><circle cx="1564.2" cy="524.7" r="6.5"/><circle cx="1565.6" cy="526.2" r="6.5"/><circle cx="1567" cy="523" r="6.5"/><circle cx="1568.4" cy="530.4" r="6.5"/><circle cx="1569.8" cy="536.6" r="6.5"/><circle cx="1571.2" cy="536.4" r="6.5"/><circle cx="1572.6" cy="535.8" r="6.5"/><circle cx="1573.9" cy="531.3" r="6.5"/><circle cx="1575.3" cy="527" r="6.5"/><circle cx="1576.7" cy="520.3" r="6.5"/><circle cx="1578.1" cy="519.5" r="6.5"/><circle cx="1579.5" cy="521.6" r="6.5"/><circle cx="1580.9" cy="518.7" r="6.5"/><circle cx="1582.3" cy="517.6" r="6.5"/><circle cx="1583.7" cy="515.8" r="6.5"/><circle cx="1585.1" cy="515.8" r="6.5"/><circle cx="1586.5" cy="522.4" r="6.5"/><circle cx="1587.9" cy="525.9" r="6.5"/><circle cx="1589.3" cy="524.4" r="6.5"/><circle cx="1590.7" cy="525.4" r="6.5"/><circle cx="1592" cy="523.4" r="6.5"/><circle cx="1593.4" cy="524.1" r="6.5"/><circle cx="1594.8" cy="528.9" r="6.5"/><circle cx="1596.2" cy="532.8" r="6.5"/><circle cx="769.6" cy="344" r="6.5"/></g>
<g fill="none" stroke-linejoin="round" stroke-linecap="round">
<path d="M394.5,449.9 L396.5,449.8 L398.5,449.8 L400.5,449.7 L402.5,449.7 L404.5,449.6 L406.5,449.6 L408.5,449.5 L410.5,449.4 L412.5,449.3 L414.5,449.2 L416.5,449.1 L418.5,449 L420.5,448.9 L422.5,448.8 L424.5,448.7 L426.5,448.5 L428.5,448.4 L430.5,448.2 L432.5,448 L434.5,447.8 L436.5,447.6 L438.5,447.4 L440.5,447.2 L442.5,446.9 L444.5,446.6 L446.5,446.3 L448.5,446 L450.5,445.7 L452.5,445.4 L454.5,445 L456.5,444.6 L458.5,444.2 L460.5,443.7 L462.5,443.3 L464.5,442.8 L466.5,442.3 L468.5,441.7 L470.5,441.1 L472.5,440.5 L474.5,439.9 L476.5,439.3 L478.5,438.6 L480.5,437.8 L482.5,437.1 L484.5,436.3 L486.5,435.5 L488.5,434.6 L490.5,433.7 L492.5,432.8 L494.5,431.9 L496.5,430.9 L498.5,429.9 L500.5,428.9 L502.5,427.8 L504.5,426.7 L506.5,425.5 L508.5,424.4 L510.5,423.2 L512.5,422 L514.5,420.7 L516.5,419.5 L518.5,418.2 L520.5,416.9 L522.5,415.5 L524.5,414.2 L526.5,412.8 L528.5,411.5 L530.5,410.1 L532.5,408.7 L534.5,407.3 L536.5,405.9 L538.5,404.5 L540.5,403.1 L542.5,401.7 L544.5,400.4 L546.5,399 L548.5,397.7 L550.5,396.4 L552.5,395.1 L554.5,393.8 L556.5,392.6 L558.5,391.4 L560.5,390.2 L562.5,389.1 L564.5,388.1 L566.5,387 L568.5,386.1 L570.5,385.2 L572.5,384.4 L574.5,383.6 L576.5,382.9 L578.5,382.3 L580.5,381.8 L582.5,381.3 L584.5,380.9 L586.5,380.6 L588.5,380.4 L590.5,380.3 L592.5,380.2 L594.5,380.3 L596.5,380.4 L598.5,380.6 L600.5,381 L602.5,381.3 L604.5,381.8 L606.5,382.4 L608.5,383 L610.5,383.7 L612.5,384.5 L614.5,385.3 L616.5,386.2 L618.5,387.1 L620.5,388.2 L622.5,389.2 L624.5,390.3 L626.5,391.5 L628.5,392.7 L630.5,393.9 L632.5,395.1 L634.5,396.4 L636.5,397.6 L638.5,398.9 L640.5,400.2 L642.5,401.5 L644.5,402.8 L646.5,404.1 L648.5,405.4 L650.5,406.6 L652.5,407.8 L654.5,409 L656.5,410.2 L658.5,411.3 L660.5,412.4 L662.5,413.4 L664.5,414.3 L666.5,415.2 L668.5,416.1 L670.5,416.8 L672.5,417.5 L674.5,418 L676.5,418.5 L678.5,418.9 L680.5,419.2 L682.5,419.3 L684.5,419.4 L686.5,419.4 L688.5,419.2 L690.5,418.9 L692.5,418.5 L694.5,418 L696.5,417.3 L698.5,416.5 L700.5,415.7 L702.5,414.7 L704.5,413.5 L706.5,412.3 L708.5,411 L710.5,409.6 L712.5,408.1 L714.5,406.6 L716.5,405 L718.5,403.4 L720.5,401.8 L722.5,400.2 L724.5,398.6 L726.5,397.1 L728.5,395.6 L730.5,394.3 L732.5,393 L734.5,391.8 L736.5,390.7 L738.5,389.6 L740.5,388.6 L742.5,387.6 L744.5,386.5 L746.5,385.4 L748.5,384.2 L750.5,383 L752.5,381.5 L754.5,380 L756.5,378.3 L758.5,376.4 L760.5,374.4 L762.5,372.4 L764.5,370.2 L766.5,368.1 L768.5,365.9 L770.5,363.9 L772.5,361.9 L774.5,360.1 L776.5,358.6 L778.5,357.3 L780.5,356.4 L782.5,355.9 L784.5,355.7 L786.5,356.1 L788.5,356.8 L790.5,358.1 L792.5,359.8 L794.5,362.1 L796.5,364.7 L798.5,367.8 L800.5,371.3 L802.5,375.2 L804.5,379.3 L806.5,383.7 L808.5,388.3 L810.5,393.1 L812.5,397.9 L814.5,402.8 L816.5,407.7 L818.5,412.5 L820.5,417.2 L822.5,421.7 L824.5,426.1 L826.5,430.2 L828.5,434.2 L830.5,437.8 L832.5,441.3 L834.5,444.4 L836.5,447.3 L838.5,450 L840.5,452.3 L842.5,454.5 L844.5,456.4 L846.5,458.1 L848.5,459.6 L850.5,461 L852.5,462.1 L854.5,463.1 L856.5,464 L858.5,464.8 L860.5,465.4 L862.5,466 L864.5,466.5 L866.5,466.9 L868.5,467.2 L870.5,467.5 L872.5,467.8 L874.5,468 L876.5,468.2 L878.5,468.4 L880.5,468.5 L882.5,468.7 L884.5,468.8 L886.5,468.9 L888.5,469 L890.5,469 L892.5,469.1 L894.5,469.1 L896.5,469.2 L898.5,469.2 L900.5,469.3 L902.5,469.3 L904.5,469.3 L906.5,469.3 L908.5,469.3 L910.5,469.3 L912.5,469.3 L914.5,469.3 L916.5,469.3 L918.5,469.2 L920.5,469.2 L922.5,469.2 L924.5,469.1 L926.5,469.1 L928.5,469 L930.5,468.9 L932.5,468.8 L934.5,468.7 L936.5,468.6 L938.5,468.5 L940.5,468.4 L942.5,468.2 L944.5,468.1 L946.5,467.9 L948.5,467.7 L950.5,467.5 L952.5,467.3 L954.5,467 L956.5,466.8 L958.5,466.5 L960.5,466.2 L962.5,465.9 L964.5,465.5 L966.5,465.1 L968.5,464.7 L970.5,464.3 L972.5,463.8 L974.5,463.3 L976.5,462.8 L978.5,462.2 L980.5,461.6 L982.5,461 L984.5,460.3 L986.5,459.5 L988.5,458.7 L990.5,457.9 L992.5,457 L994.5,456 L996.5,455 L998.5,454 L1000.5,452.9 L1002.5,451.7 L1004.5,450.5 L1006.5,449.2 L1008.5,447.8 L1010.5,446.3 L1012.5,444.8 L1014.5,443.3 L1016.5,441.6 L1018.5,439.9 L1020.5,438.1 L1022.5,436.3 L1024.5,434.3 L1026.5,432.3 L1028.5,430.3 L1030.5,428.2 L1032.5,426 L1034.5,423.7 L1036.5,421.4 L1038.5,419 L1040.5,416.6 L1042.5,414.1 L1044.5,411.6 L1046.5,409.1 L1048.5,406.5 L1050.5,403.9 L1052.5,401.3 L1054.5,398.6 L1056.5,396 L1058.5,393.3 L1060.5,390.7 L1062.5,388.1 L1064.5,385.5 L1066.5,383 L1068.5,380.5 L1070.5,378.1 L1072.5,375.8 L1074.5,373.6 L1076.5,371.5 L1078.5,369.5 L1080.5,367.6 L1082.5,365.9 L1084.5,364.4 L1086.5,363 L1088.5,361.9 L1090.5,360.9 L1092.5,360.1 L1094.5,359.5 L1096.5,359.2 L1098.5,359 L1100.5,359.1 L1102.5,359.4 L1104.5,359.9 L1106.5,360.6 L1108.5,361.5 L1110.5,362.6 L1112.5,363.8 L1114.5,365.2 L1116.5,366.8 L1118.5,368.5 L1120.5,370.3 L1122.5,372.2 L1124.5,374.2 L1126.5,376.3 L1128.5,378.4 L1130.5,380.6 L1132.5,382.8 L1134.5,385 L1136.5,387.2 L1138.5,389.5 L1140.5,391.7 L1142.5,393.9 L1144.5,396 L1146.5,398.1 L1148.5,400.2 L1150.5,402.2 L1152.5,404.1 L1154.5,405.9 L1156.5,407.6 L1158.5,409.3 L1160.5,410.8 L1162.5,412.2 L1164.5,413.5 L1166.5,414.7 L1168.5,415.8 L1170.5,416.7 L1172.5,417.4 L1174.5,418 L1176.5,418.5 L1178.5,418.7 L1180.5,418.8 L1182.5,418.7 L1184.5,418.5 L1186.5,418 L1188.5,417.3 L1190.5,416.3 L1192.5,415.1 L1194.5,413.7 L1196.5,412 L1198.5,410.1 L1200.5,407.8 L1202.5,405.3 L1204.5,402.4 L1206.5,399.3 L1208.5,395.8 L1210.5,391.9 L1212.5,387.7 L1214.5,383.2 L1216.5,378.4 L1218.5,373.2 L1220.5,367.8 L1222.5,362.1 L1224.5,356.2 L1226.5,350.1 L1228.5,344 L1230.5,337.8 L1232.5,331.6 L1234.5,325.4 L1236.5,319.3 L1238.5,313.3 L1240.5,307.4 L1242.5,301.7 L1244.5,296 L1246.5,290.4 L1248.5,284.9 L1250.5,279.4 L1252.5,273.9 L1254.5,268.5 L1256.5,263 L1258.5,257.7 L1260.5,252.4 L1262.5,247.4 L1264.5,242.7 L1266.5,238.4 L1268.5,234.6 L1270.5,231.6 L1272.5,229.3 L1274.5,227.9 L1276.5,227.6 L1278.5,228.4 L1280.5,230.5 L1282.5,233.8 L1284.5,238.3 L1286.5,244.1 L1288.5,251.1 L1290.5,259.1 L1292.5,268.1 L1294.5,277.9 L1296.5,288.4 L1298.5,299.5 L1300.5,311 L1302.5,322.8 L1304.5,334.6 L1306.5,346.5 L1308.5,358.3 L1310.5,369.8 L1312.5,381 L1314.5,391.8 L1316.5,402.1 L1318.5,411.9 L1320.5,421.1 L1322.5,429.8 L1324.5,437.8 L1326.5,445.2 L1328.5,452 L1330.5,458.2 L1332.5,463.8 L1334.5,468.8 L1336.5,473.4 L1338.5,477.5 L1340.5,481.1 L1342.5,484.3 L1344.5,487.2 L1346.5,489.7 L1348.5,492 L1350.5,494 L1352.5,495.8 L1354.5,497.4 L1356.5,498.8 L1358.5,500 L1360.5,501.1 L1362.5,502.1 L1364.5,503 L1366.5,503.9 L1368.5,504.6 L1370.5,505.3 L1372.5,505.9 L1374.5,506.4 L1376.5,507 L1378.5,507.4 L1380.5,507.9 L1382.5,508.3 L1384.5,508.7 L1386.5,509 L1388.5,509.4 L1390.5,509.7 L1392.5,510 L1394.5,510.3 L1396.5,510.6 L1398.5,510.9 L1400.5,511.2 L1402.5,511.4 L1404.5,511.7 L1406.5,511.9 L1408.5,512.2 L1410.5,512.4 L1412.5,512.6 L1414.5,512.8 L1416.5,513 L1418.5,513.2 L1420.5,513.4 L1422.5,513.6 L1424.5,513.8 L1426.5,513.9 L1428.5,514.1 L1430.5,514.3 L1432.5,514.4 L1434.5,514.6 L1436.5,514.7 L1438.5,514.9 L1440.5,515 L1442.5,515.1 L1444.5,515.2 L1446.5,515.4 L1448.5,515.5 L1450.5,515.6 L1452.5,515.7 L1454.5,515.8 L1456.5,515.9 L1458.5,516.1 L1460.5,516.2 L1462.5,516.3 L1464.5,516.4 L1466.5,516.5 L1468.5,516.5 L1470.5,516.6 L1472.5,516.7 L1474.5,516.8 L1476.5,516.9 L1478.5,517 L1480.5,517.1 L1482.5,517.1 L1484.5,517.2 L1486.5,517.3 L1488.5,517.4 L1490.5,517.4 L1492.5,517.5 L1494.5,517.6 L1496.5,517.7 L1498.5,517.7 L1500.5,517.8 L1502.5,517.9 L1504.5,517.9 L1506.5,518 L1508.5,518 L1510.5,518.1 L1512.5,518.2 L1514.5,518.2 L1516.5,518.3 L1518.5,518.3 L1520.5,518.4 L1522.5,518.4 L1524.5,518.5 L1526.5,518.5 L1528.5,518.6 L1530.5,518.6 L1532.5,518.7 L1534.5,518.7 L1536.5,518.8 L1538.5,518.8 L1540.5,518.9 L1542.5,518.9 L1544.5,518.9 L1546.5,519 L1548.5,519 L1550.5,519.1 L1552.5,519.1 L1554.5,519.1 L1556.5,519.2 L1558.5,519.2 L1560.5,519.2 L1562.5,519.3 L1564.5,519.3 L1566.5,519.4 L1568.5,519.4 L1570.5,519.4 L1572.5,519.4 L1574.5,519.5 L1576.5,519.5 L1578.5,519.5 L1580.5,519.6 L1582.5,519.6 L1584.5,519.6 L1586.5,519.7 L1588.5,519.7 L1590.5,519.7 L1592.5,519.7 L1594.5,519.8 L1596.4,519.8" stroke="#FF0000" stroke-width="6.2"/>
<path d="M394.5,450.9 L396.5,450.9 L398.5,450.8 L400.5,450.8 L402.5,450.8 L404.5,450.7 L406.5,450.6 L408.5,450.6 L410.5,450.5 L412.5,450.4 L414.5,450.4 L416.5,450.3 L418.5,450.2 L420.5,450.1 L422.5,450 L424.5,449.8 L426.5,449.7 L428.5,449.6 L430.5,449.4 L432.5,449.2 L434.5,449.1 L436.5,448.9 L438.5,448.6 L440.5,448.4 L442.5,448.2 L444.5,447.9 L446.5,447.6 L448.5,447.3 L450.5,447 L452.5,446.7 L454.5,446.3 L456.5,445.9 L458.5,445.5 L460.5,445.1 L462.5,444.7 L464.5,444.2 L466.5,443.7 L468.5,443.1 L470.5,442.6 L472.5,442 L474.5,441.4 L476.5,440.7 L478.5,440.1 L480.5,439.4 L482.5,438.6 L484.5,437.8 L486.5,437 L488.5,436.2 L490.5,435.3 L492.5,434.4 L494.5,433.5 L496.5,432.6 L498.5,431.6 L500.5,430.5 L502.5,429.5 L504.5,428.4 L506.5,427.3 L508.5,426.1 L510.5,425 L512.5,423.8 L514.5,422.6 L516.5,421.3 L518.5,420 L520.5,418.8 L522.5,417.5 L524.5,416.1 L526.5,414.8 L528.5,413.5 L530.5,412.1 L532.5,410.7 L534.5,409.4 L536.5,408 L538.5,406.6 L540.5,405.3 L542.5,403.9 L544.5,402.6 L546.5,401.3 L548.5,400 L550.5,398.7 L552.5,397.4 L554.5,396.2 L556.5,395 L558.5,393.8 L560.5,392.7 L562.5,391.6 L564.5,390.6 L566.5,389.7 L568.5,388.7 L570.5,387.9 L572.5,387.1 L574.5,386.4 L576.5,385.8 L578.5,385.2 L580.5,384.7 L582.5,384.3 L584.5,384 L586.5,383.7 L588.5,383.6 L590.5,383.5 L592.5,383.5 L594.5,383.6 L596.5,383.8 L598.5,384.1 L600.5,384.5 L602.5,385 L604.5,385.5 L606.5,386.2 L608.5,386.9 L610.5,387.7 L612.5,388.5 L614.5,389.5 L616.5,390.5 L618.5,391.5 L620.5,392.6 L622.5,393.8 L624.5,395.1 L626.5,396.3 L628.5,397.7 L630.5,399 L632.5,400.4 L634.5,401.8 L636.5,403.3 L638.5,404.8 L640.5,406.3 L642.5,407.8 L644.5,409.3 L646.5,410.9 L648.5,412.4 L650.5,414 L652.5,415.5 L654.5,417.1 L656.5,418.6 L658.5,420.1 L660.5,421.7 L662.5,423.2 L664.5,424.7 L666.5,426.2 L668.5,427.6 L670.5,429.1 L672.5,430.5 L674.5,431.9 L676.5,433.3 L678.5,434.6 L680.5,435.9 L682.5,437.2 L684.5,438.5 L686.5,439.7 L688.5,440.9 L690.5,442.1 L692.5,443.2 L694.5,444.3 L696.5,445.4 L698.5,446.4 L700.5,447.4 L702.5,448.4 L704.5,449.4 L706.5,450.3 L708.5,451.1 L710.5,452 L712.5,452.8 L714.5,453.6 L716.5,454.4 L718.5,455.1 L720.5,455.8 L722.5,456.5 L724.5,457.1 L726.5,457.8 L728.5,458.4 L730.5,459 L732.5,459.5 L734.5,460 L736.5,460.6 L738.5,461 L740.5,461.5 L742.5,462 L744.5,462.4 L746.5,462.8 L748.5,463.2 L750.5,463.6 L752.5,464 L754.5,464.3 L756.5,464.7 L758.5,465 L760.5,465.3 L762.5,465.6 L764.5,465.9 L766.5,466.2 L768.5,466.4 L770.5,466.7 L772.5,467 L774.5,467.2 L776.5,467.5 L778.5,467.7 L780.5,467.9 L782.5,468.2 L784.5,468.4 L786.5,468.6 L788.5,468.8 L790.5,469 L792.5,469.2 L794.5,469.4 L796.5,469.6 L798.5,469.8 L800.5,470 L802.5,470.2 L804.5,470.4 L806.5,470.6 L808.5,470.8 L810.5,471 L812.5,471.1 L814.5,471.3 L816.5,471.5 L818.5,471.6 L820.5,471.8 L822.5,472 L824.5,472.1 L826.5,472.3 L828.5,472.5 L830.5,472.6 L832.5,472.8 L834.5,472.9 L836.5,473.1 L838.5,473.2 L840.5,473.4 L842.5,473.5 L844.5,473.7 L846.5,473.8 L848.5,474 L850.5,474.1 L852.5,474.2 L854.5,474.4 L856.5,474.5 L858.5,474.7 L860.5,474.8 L862.5,474.9 L864.5,475 L866.5,475.2 L868.5,475.3 L870.5,475.4 L872.5,475.5 L874.5,475.6 L876.5,475.8 L878.5,475.9 L880.5,476 L882.5,476.1 L884.5,476.2 L886.5,476.3 L888.5,476.4 L890.5,476.5 L892.5,476.6 L894.5,476.7 L896.5,476.8 L898.5,476.9 L900.5,477 L902.5,477.1 L904.5,477.1 L906.5,477.2 L908.5,477.3 L910.5,477.4 L912.5,477.5 L914.5,477.6 L916.5,477.7 L918.5,477.7 L920.5,477.8 L922.5,477.9 L924.5,478 L926.5,478.1 L928.5,478.1 L930.5,478.2 L932.5,478.3 L934.5,478.4 L936.5,478.5 L938.5,478.5 L940.5,478.6 L942.5,478.7 L944.5,478.8 L946.5,478.8 L948.5,478.9 L950.5,479 L952.5,479.1 L954.5,479.1 L956.5,479.2 L958.5,479.3 L960.5,479.4 L962.5,479.4 L964.5,479.5 L966.5,479.6 L968.5,479.7 L970.5,479.7 L972.5,479.8 L974.5,479.9 L976.5,480 L978.5,480.1 L980.5,480.1 L982.5,480.2 L984.5,480.3 L986.5,480.4 L988.5,480.5 L990.5,480.5 L992.5,480.6 L994.5,480.7 L996.5,480.8 L998.5,480.9 L1000.5,481 L1002.5,481.1 L1004.5,481.2 L1006.5,481.2 L1008.5,481.3 L1010.5,481.4 L1012.5,481.5 L1014.5,481.6 L1016.5,481.7 L1018.5,481.8 L1020.5,481.9 L1022.5,482 L1024.5,482 L1026.5,482.1 L1028.5,482.2 L1030.5,482.3 L1032.5,482.4 L1034.5,482.5 L1036.5,482.6 L1038.5,482.7 L1040.5,482.8 L1042.5,482.8 L1044.5,482.9 L1046.5,483 L1048.5,483.1 L1050.5,483.2 L1052.5,483.3 L1054.5,483.4 L1056.5,483.5 L1058.5,483.6 L1060.5,483.7 L1062.5,483.8 L1064.5,483.9 L1066.5,484 L1068.5,484.1 L1070.5,484.2 L1072.5,484.3 L1074.5,484.4 L1076.5,484.5 L1078.5,484.6 L1080.5,484.7 L1082.5,484.8 L1084.5,484.9 L1086.5,485 L1088.5,485.1 L1090.5,485.2 L1092.5,485.3 L1094.5,485.4 L1096.5,485.5 L1098.5,485.7 L1100.5,485.8 L1102.5,485.9 L1104.5,486 L1106.5,486.1 L1108.5,486.2 L1110.5,486.4 L1112.5,486.5 L1114.5,486.6 L1116.5,486.7 L1118.5,486.9 L1120.5,487 L1122.5,487.1 L1124.5,487.3 L1126.5,487.4 L1128.5,487.6 L1130.5,487.7 L1132.5,487.9 L1134.5,488 L1136.5,488.2 L1138.5,488.3 L1140.5,488.5 L1142.5,488.7 L1144.5,488.8 L1146.5,489 L1148.5,489.2 L1150.5,489.3 L1152.5,489.5 L1154.5,489.7 L1156.5,489.9 L1158.5,490.1 L1160.5,490.3 L1162.5,490.5 L1164.5,490.6 L1166.5,490.8 L1168.5,491 L1170.5,491.2 L1172.5,491.5 L1174.5,491.7 L1176.5,491.9 L1178.5,492.1 L1180.5,492.3 L1182.5,492.5 L1184.5,492.7 L1186.5,492.9 L1188.5,493.2 L1190.5,493.4 L1192.5,493.6 L1194.5,493.9 L1196.5,494.1 L1198.5,494.4 L1200.5,494.6 L1202.5,494.9 L1204.5,495.2 L1206.5,495.4 L1208.5,495.7 L1210.5,496 L1212.5,496.2 L1214.5,496.5 L1216.5,496.8 L1218.5,497.1 L1220.5,497.4 L1222.5,497.7 L1224.5,498 L1226.5,498.3 L1228.5,498.6 L1230.5,499 L1232.5,499.3 L1234.5,499.6 L1236.5,500 L1238.5,500.4 L1240.5,500.7 L1242.5,501.2 L1244.5,501.6 L1246.5,502 L1248.5,502.5 L1250.5,502.9 L1252.5,503.4 L1254.5,503.8 L1256.5,504.3 L1258.5,504.8 L1260.5,505.3 L1262.5,505.7 L1264.5,506.2 L1266.5,506.7 L1268.5,507.2 L1270.5,507.6 L1272.5,508.1 L1274.5,508.5 L1276.5,509 L1278.5,509.4 L1280.5,509.8 L1282.5,510.2 L1284.5,510.6 L1286.5,511 L1288.5,511.4 L1290.5,511.7 L1292.5,512 L1294.5,512.3 L1296.5,512.7 L1298.5,513 L1300.5,513.3 L1302.5,513.6 L1304.5,513.9 L1306.5,514.2 L1308.5,514.5 L1310.5,514.8 L1312.5,515.1 L1314.5,515.4 L1316.5,515.7 L1318.5,515.9 L1320.5,516.2 L1322.5,516.4 L1324.5,516.7 L1326.5,516.9 L1328.5,517.2 L1330.5,517.4 L1332.5,517.6 L1334.5,517.8 L1336.5,518 L1338.5,518.2 L1340.5,518.4 L1342.5,518.6 L1344.5,518.7 L1346.5,518.9 L1348.5,519.1 L1350.5,519.3 L1352.5,519.4 L1354.5,519.6 L1356.5,519.8 L1358.5,519.9 L1360.5,520.1 L1362.5,520.2 L1364.5,520.3 L1366.5,520.5 L1368.5,520.6 L1370.5,520.7 L1372.5,520.8 L1374.5,520.9 L1376.5,521 L1378.5,521 L1380.5,521.1 L1382.5,521.1 L1384.5,521.1 L1386.5,521.2 L1388.5,521.2 L1390.5,521.3 L1392.5,521.3 L1394.5,521.3 L1396.5,521.4 L1398.5,521.4 L1400.5,521.4 L1402.5,521.5 L1404.5,521.5 L1406.5,521.5 L1408.5,521.5 L1410.5,521.6 L1412.5,521.6 L1414.5,521.6 L1416.5,521.6 L1418.5,521.7 L1420.5,521.7 L1422.5,521.7 L1424.5,521.7 L1426.5,521.7 L1428.5,521.7 L1430.5,521.8 L1432.5,521.8 L1434.5,521.8 L1436.5,521.8 L1438.5,521.8 L1440.5,521.8 L1442.5,521.8 L1444.5,521.9 L1446.5,521.9 L1448.5,521.9 L1450.5,521.9 L1452.5,521.9 L1454.5,521.9 L1456.5,521.9 L1458.5,521.9 L1460.5,521.9 L1462.5,521.9 L1464.5,521.9 L1466.5,521.9 L1468.5,521.9 L1470.5,522 L1472.5,522 L1474.5,522 L1476.5,522 L1478.5,522 L1480.5,522 L1482.5,522 L1484.5,522 L1486.5,522 L1488.5,522 L1490.5,522 L1492.5,522 L1494.5,522 L1496.5,522 L1498.5,522 L1500.5,522.1 L1502.5,522.1 L1504.5,522.1 L1506.5,522.1 L1508.5,522.1 L1510.5,522.1 L1512.5,522.1 L1514.5,522.1 L1516.5,522.1 L1518.5,522.1 L1520.5,522.1 L1522.5,522.1 L1524.5,522.1 L1526.5,522.1 L1528.5,522.1 L1530.5,522.1 L1532.5,522.1 L1534.5,522.1 L1536.5,522.1 L1538.5,522.1 L1540.5,522.1 L1542.5,522.2 L1544.5,522.2 L1546.5,522.2 L1548.5,522.2 L1550.5,522.2 L1552.5,522.2 L1554.5,522.2 L1556.5,522.2 L1558.5,522.2 L1560.5,522.2 L1562.5,522.2 L1564.5,522.2 L1566.5,522.2 L1568.5,522.2 L1570.5,522.2 L1572.5,522.2 L1574.5,522.2 L1576.5,522.2 L1578.5,522.2 L1580.5,522.2 L1582.5,522.2 L1584.5,522.2 L1586.5,522.2 L1588.5,522.2 L1590.5,522.2 L1592.5,522.2 L1594.5,522.2 L1596.4,522.2" stroke="#008000" stroke-width="4"/>
<path d="M394.5,452.9 L396.5,453 L398.5,453 L400.5,453 L402.5,453.1 L404.5,453.1 L406.5,453.2 L408.5,453.2 L410.5,453.3 L412.5,453.3 L414.5,453.3 L416.5,453.4 L418.5,453.4 L420.5,453.5 L422.5,453.5 L424.5,453.6 L426.5,453.6 L428.5,453.7 L430.5,453.7 L432.5,453.8 L434.5,453.8 L436.5,453.9 L438.5,453.9 L440.5,454 L442.5,454 L444.5,454.1 L446.5,454.1 L448.5,454.2 L450.5,454.2 L452.5,454.3 L454.5,454.3 L456.5,454.4 L458.5,454.4 L460.5,454.5 L462.5,454.5 L464.5,454.6 L466.5,454.7 L468.5,454.7 L470.5,454.8 L472.5,454.8 L474.5,454.9 L476.5,455 L478.5,455 L480.5,455.1 L482.5,455.1 L484.5,455.2 L486.5,455.3 L488.5,455.3 L490.5,455.4 L492.5,455.4 L494.5,455.5 L496.5,455.6 L498.5,455.6 L500.5,455.7 L502.5,455.8 L504.5,455.8 L506.5,455.9 L508.5,455.9 L510.5,456 L512.5,456.1 L514.5,456.1 L516.5,456.2 L518.5,456.3 L520.5,456.3 L522.5,456.4 L524.5,456.5 L526.5,456.5 L528.5,456.6 L530.5,456.7 L532.5,456.8 L534.5,456.8 L536.5,456.9 L538.5,457 L540.5,457.1 L542.5,457.1 L544.5,457.2 L546.5,457.3 L548.5,457.4 L550.5,457.4 L552.5,457.5 L554.5,457.6 L556.5,457.7 L558.5,457.8 L560.5,457.8 L562.5,457.9 L564.5,458 L566.5,458.1 L568.5,458.2 L570.5,458.3 L572.5,458.3 L574.5,458.4 L576.5,458.5 L578.5,458.6 L580.5,458.7 L582.5,458.8 L584.5,458.9 L586.5,458.9 L588.5,459 L590.5,459.1 L592.5,459.2 L594.5,459.3 L596.5,459.4 L598.5,459.5 L600.5,459.6 L602.5,459.7 L604.5,459.8 L606.5,459.9 L608.5,459.9 L610.5,460 L612.5,460.1 L614.5,460.2 L616.5,460.3 L618.5,460.4 L620.5,460.5 L622.5,460.6 L624.5,460.7 L626.5,460.8 L628.5,460.9 L630.5,461 L632.5,461.1 L634.5,461.2 L636.5,461.3 L638.5,461.4 L640.5,461.5 L642.5,461.6 L644.5,461.7 L646.5,461.8 L648.5,461.8 L650.5,461.9 L652.5,462.1 L654.5,462.2 L656.5,462.3 L658.5,462.4 L660.5,462.5 L662.5,462.6 L664.5,462.7 L666.5,462.8 L668.5,462.9 L670.5,463 L672.5,463.1 L674.5,463.2 L676.5,463.3 L678.5,463.4 L680.5,463.5 L682.5,463.6 L684.5,463.8 L686.5,463.9 L688.5,464 L690.5,464.1 L692.5,464.2 L694.5,464.3 L696.5,464.4 L698.5,464.5 L700.5,464.6 L702.5,464.8 L704.5,464.9 L706.5,465 L708.5,465.1 L710.5,465.2 L712.5,465.3 L714.5,465.4 L716.5,465.5 L718.5,465.7 L720.5,465.8 L722.5,465.9 L724.5,466 L726.5,466.1 L728.5,466.2 L730.5,466.3 L732.5,466.4 L734.5,466.6 L736.5,466.7 L738.5,466.8 L740.5,466.9 L742.5,467 L744.5,467.1 L746.5,467.2 L748.5,467.3 L750.5,467.4 L752.5,467.5 L754.5,467.6 L756.5,467.7 L758.5,467.9 L760.5,468 L762.5,468.1 L764.5,468.2 L766.5,468.3 L768.5,468.4 L770.5,468.5 L772.5,468.6 L774.5,468.7 L776.5,468.8 L778.5,468.9 L780.5,469 L782.5,469.1 L784.5,469.3 L786.5,469.4 L788.5,469.5 L790.5,469.6 L792.5,469.7 L794.5,469.8 L796.5,469.9 L798.5,470 L800.5,470.1 L802.5,470.3 L804.5,470.4 L806.5,470.5 L808.5,470.6 L810.5,470.7 L812.5,470.8 L814.5,470.9 L816.5,471 L818.5,471.1 L820.5,471.2 L822.5,471.3 L824.5,471.4 L826.5,471.5 L828.5,471.6 L830.5,471.7 L832.5,471.8 L834.5,471.9 L836.5,472 L838.5,472.1 L840.5,472.2 L842.5,472.2 L844.5,472.3 L846.5,472.4 L848.5,472.5 L850.5,472.6 L852.5,472.6 L854.5,472.7 L856.5,472.8 L858.5,472.8 L860.5,472.9 L862.5,473 L864.5,473 L866.5,473.1 L868.5,473.1 L870.5,473.2 L872.5,473.2 L874.5,473.3 L876.5,473.3 L878.5,473.4 L880.5,473.4 L882.5,473.4 L884.5,473.4 L886.5,473.5 L888.5,473.5 L890.5,473.5 L892.5,473.5 L894.5,473.5 L896.5,473.5 L898.5,473.5 L900.5,473.5 L902.5,473.5 L904.5,473.5 L906.5,473.5 L908.5,473.5 L910.5,473.4 L912.5,473.4 L914.5,473.4 L916.5,473.3 L918.5,473.3 L920.5,473.2 L922.5,473.2 L924.5,473.1 L926.5,473 L928.5,473 L930.5,472.9 L932.5,472.8 L934.5,472.7 L936.5,472.6 L938.5,472.5 L940.5,472.3 L942.5,472.2 L944.5,472 L946.5,471.9 L948.5,471.7 L950.5,471.5 L952.5,471.3 L954.5,471 L956.5,470.8 L958.5,470.5 L960.5,470.2 L962.5,469.9 L964.5,469.6 L966.5,469.2 L968.5,468.8 L970.5,468.4 L972.5,468 L974.5,467.5 L976.5,467 L978.5,466.4 L980.5,465.8 L982.5,465.2 L984.5,464.5 L986.5,463.8 L988.5,463 L990.5,462.2 L992.5,461.4 L994.5,460.5 L996.5,459.5 L998.5,458.5 L1000.5,457.4 L1002.5,456.3 L1004.5,455.1 L1006.5,453.8 L1008.5,452.5 L1010.5,451.1 L1012.5,449.6 L1014.5,448.1 L1016.5,446.5 L1018.5,444.8 L1020.5,443.1 L1022.5,441.3 L1024.5,439.5 L1026.5,437.5 L1028.5,435.5 L1030.5,433.5 L1032.5,431.3 L1034.5,429.2 L1036.5,426.9 L1038.5,424.6 L1040.5,422.3 L1042.5,419.9 L1044.5,417.5 L1046.5,415 L1048.5,412.5 L1050.5,410 L1052.5,407.5 L1054.5,404.9 L1056.5,402.4 L1058.5,399.9 L1060.5,397.3 L1062.5,394.8 L1064.5,392.4 L1066.5,390 L1068.5,387.7 L1070.5,385.4 L1072.5,383.2 L1074.5,381.1 L1076.5,379.2 L1078.5,377.3 L1080.5,375.7 L1082.5,374.1 L1084.5,372.8 L1086.5,371.6 L1088.5,370.6 L1090.5,369.8 L1092.5,369.2 L1094.5,368.9 L1096.5,368.7 L1098.5,368.8 L1100.5,369.1 L1102.5,369.7 L1104.5,370.4 L1106.5,371.4 L1108.5,372.6 L1110.5,373.9 L1112.5,375.5 L1114.5,377.2 L1116.5,379.1 L1118.5,381.1 L1120.5,383.3 L1122.5,385.6 L1124.5,388 L1126.5,390.4 L1128.5,393 L1130.5,395.6 L1132.5,398.3 L1134.5,401 L1136.5,403.8 L1138.5,406.6 L1140.5,409.4 L1142.5,412.2 L1144.5,415 L1146.5,417.7 L1148.5,420.5 L1150.5,423.2 L1152.5,425.9 L1154.5,428.6 L1156.5,431.2 L1158.5,433.8 L1160.5,436.3 L1162.5,438.8 L1164.5,441.2 L1166.5,443.5 L1168.5,445.8 L1170.5,448.1 L1172.5,450.2 L1174.5,452.3 L1176.5,454.3 L1178.5,456.3 L1180.5,458.2 L1182.5,460.1 L1184.5,461.8 L1186.5,463.5 L1188.5,465.2 L1190.5,466.8 L1192.5,468.3 L1194.5,469.8 L1196.5,471.2 L1198.5,472.6 L1200.5,473.9 L1202.5,475.1 L1204.5,476.3 L1206.5,477.5 L1208.5,478.6 L1210.5,479.7 L1212.5,480.7 L1214.5,481.7 L1216.5,482.7 L1218.5,483.6 L1220.5,484.5 L1222.5,485.3 L1224.5,486.2 L1226.5,487 L1228.5,487.8 L1230.5,488.5 L1232.5,489.3 L1234.5,490 L1236.5,490.7 L1238.5,491.4 L1240.5,492.1 L1242.5,492.8 L1244.5,493.5 L1246.5,494.2 L1248.5,494.9 L1250.5,495.6 L1252.5,496.3 L1254.5,497 L1256.5,497.7 L1258.5,498.3 L1260.5,499 L1262.5,499.6 L1264.5,500.3 L1266.5,500.9 L1268.5,501.5 L1270.5,502.1 L1272.5,502.7 L1274.5,503.3 L1276.5,503.9 L1278.5,504.4 L1280.5,505 L1282.5,505.5 L1284.5,506 L1286.5,506.4 L1288.5,506.9 L1290.5,507.3 L1292.5,507.7 L1294.5,508.1 L1296.5,508.5 L1298.5,508.9 L1300.5,509.3 L1302.5,509.7 L1304.5,510.1 L1306.5,510.5 L1308.5,510.8 L1310.5,511.2 L1312.5,511.6 L1314.5,511.9 L1316.5,512.2 L1318.5,512.6 L1320.5,512.9 L1322.5,513.2 L1324.5,513.5 L1326.5,513.8 L1328.5,514.1 L1330.5,514.4 L1332.5,514.6 L1334.5,514.9 L1336.5,515.1 L1338.5,515.4 L1340.5,515.6 L1342.5,515.8 L1344.5,516 L1346.5,516.3 L1348.5,516.5 L1350.5,516.7 L1352.5,516.9 L1354.5,517.1 L1356.5,517.3 L1358.5,517.5 L1360.5,517.7 L1362.5,517.9 L1364.5,518 L1366.5,518.2 L1368.5,518.3 L1370.5,518.5 L1372.5,518.6 L1374.5,518.7 L1376.5,518.8 L1378.5,518.9 L1380.5,519 L1382.5,519.1 L1384.5,519.1 L1386.5,519.2 L1388.5,519.3 L1390.5,519.3 L1392.5,519.4 L1394.5,519.5 L1396.5,519.5 L1398.5,519.6 L1400.5,519.6 L1402.5,519.7 L1404.5,519.7 L1406.5,519.8 L1408.5,519.8 L1410.5,519.9 L1412.5,519.9 L1414.5,520 L1416.5,520 L1418.5,520.1 L1420.5,520.1 L1422.5,520.1 L1424.5,520.2 L1426.5,520.2 L1428.5,520.2 L1430.5,520.3 L1432.5,520.3 L1434.5,520.3 L1436.5,520.4 L1438.5,520.4 L1440.5,520.4 L1442.5,520.5 L1444.5,520.5 L1446.5,520.5 L1448.5,520.5 L1450.5,520.6 L1452.5,520.6 L1454.5,520.6 L1456.5,520.6 L1458.5,520.7 L1460.5,520.7 L1462.5,520.7 L1464.5,520.7 L1466.5,520.7 L1468.5,520.8 L1470.5,520.8 L1472.5,520.8 L1474.5,520.8 L1476.5,520.8 L1478.5,520.9 L1480.5,520.9 L1482.5,520.9 L1484.5,520.9 L1486.5,520.9 L1488.5,521 L1490.5,521 L1492.5,521 L1494.5,521 L1496.5,521 L1498.5,521 L1500.5,521.1 L1502.5,521.1 L1504.5,521.1 L1506.5,521.1 L1508.5,521.1 L1510.5,521.1 L1512.5,521.1 L1514.5,521.2 L1516.5,521.2 L1518.5,521.2 L1520.5,521.2 L1522.5,521.2 L1524.5,521.2 L1526.5,521.2 L1528.5,521.3 L1530.5,521.3 L1532.5,521.3 L1534.5,521.3 L1536.5,521.3 L1538.5,521.3 L1540.5,521.3 L1542.5,521.3 L1544.5,521.4 L1546.5,521.4 L1548.5,521.4 L1550.5,521.4 L1552.5,521.4 L1554.5,521.4 L1556.5,521.4 L1558.5,521.4 L1560.5,521.4 L1562.5,521.4 L1564.5,521.5 L1566.5,521.5 L1568.5,521.5 L1570.5,521.5 L1572.5,521.5 L1574.5,521.5 L1576.5,521.5 L1578.5,521.5 L1580.5,521.5 L1582.5,521.5 L1584.5,521.5 L1586.5,521.5 L1588.5,521.5 L1590.5,521.6 L1592.5,521.6 L1594.5,521.6 L1596.4,521.6" stroke="#008000" stroke-width="4"/>
<path d="M394.5,452.9 L396.5,453 L398.5,453 L400.5,453 L402.5,453.1 L404.5,453.1 L406.5,453.1 L408.5,453.2 L410.5,453.2 L412.5,453.3 L414.5,453.3 L416.5,453.3 L418.5,453.4 L420.5,453.4 L422.5,453.5 L424.5,453.5 L426.5,453.6 L428.5,453.6 L430.5,453.6 L432.5,453.7 L434.5,453.7 L436.5,453.8 L438.5,453.8 L440.5,453.9 L442.5,453.9 L444.5,454 L446.5,454 L448.5,454.1 L450.5,454.1 L452.5,454.2 L454.5,454.2 L456.5,454.3 L458.5,454.3 L460.5,454.4 L462.5,454.4 L464.5,454.5 L466.5,454.5 L468.5,454.6 L470.5,454.6 L472.5,454.7 L474.5,454.7 L476.5,454.8 L478.5,454.8 L480.5,454.9 L482.5,454.9 L484.5,455 L486.5,455 L488.5,455.1 L490.5,455.1 L492.5,455.2 L494.5,455.2 L496.5,455.3 L498.5,455.4 L500.5,455.4 L502.5,455.5 L504.5,455.5 L506.5,455.6 L508.5,455.6 L510.5,455.7 L512.5,455.7 L514.5,455.8 L516.5,455.8 L518.5,455.9 L520.5,455.9 L522.5,456 L524.5,456 L526.5,456.1 L528.5,456.2 L530.5,456.2 L532.5,456.3 L534.5,456.3 L536.5,456.4 L538.5,456.4 L540.5,456.5 L542.5,456.5 L544.5,456.6 L546.5,456.7 L548.5,456.7 L550.5,456.8 L552.5,456.8 L554.5,456.9 L556.5,456.9 L558.5,457 L560.5,457.1 L562.5,457.1 L564.5,457.2 L566.5,457.2 L568.5,457.3 L570.5,457.3 L572.5,457.4 L574.5,457.4 L576.5,457.5 L578.5,457.5 L580.5,457.6 L582.5,457.6 L584.5,457.7 L586.5,457.7 L588.5,457.8 L590.5,457.8 L592.5,457.8 L594.5,457.9 L596.5,457.9 L598.5,458 L600.5,458 L602.5,458 L604.5,458.1 L606.5,458.1 L608.5,458.1 L610.5,458.1 L612.5,458.1 L614.5,458.2 L616.5,458.2 L618.5,458.2 L620.5,458.2 L622.5,458.2 L624.5,458.1 L626.5,458.1 L628.5,458.1 L630.5,458.1 L632.5,458 L634.5,458 L636.5,457.9 L638.5,457.8 L640.5,457.7 L642.5,457.6 L644.5,457.5 L646.5,457.4 L648.5,457.2 L650.5,457 L652.5,456.8 L654.5,456.6 L656.5,456.3 L658.5,456 L660.5,455.7 L662.5,455.3 L664.5,454.9 L666.5,454.5 L668.5,453.9 L670.5,453.4 L672.5,452.7 L674.5,452.1 L676.5,451.3 L678.5,450.5 L680.5,449.6 L682.5,448.6 L684.5,447.5 L686.5,446.4 L688.5,445.2 L690.5,443.9 L692.5,442.5 L694.5,441.1 L696.5,439.5 L698.5,437.9 L700.5,436.2 L702.5,434.4 L704.5,432.6 L706.5,430.8 L708.5,428.9 L710.5,427 L712.5,425.1 L714.5,423.2 L716.5,421.3 L718.5,419.6 L720.5,417.9 L722.5,416.4 L724.5,415.1 L726.5,413.9 L728.5,413 L730.5,412.4 L732.5,412.1 L734.5,412 L736.5,412.3 L738.5,412.8 L740.5,413.7 L742.5,414.8 L744.5,416.2 L746.5,417.8 L748.5,419.5 L750.5,421.4 L752.5,423.4 L754.5,425.5 L756.5,427.6 L758.5,429.8 L760.5,431.9 L762.5,434.1 L764.5,436.2 L766.5,438.2 L768.5,440.3 L770.5,442.2 L772.5,444.1 L774.5,445.9 L776.5,447.6 L778.5,449.3 L780.5,450.8 L782.5,452.3 L784.5,453.7 L786.5,455 L788.5,456.2 L790.5,457.4 L792.5,458.5 L794.5,459.5 L796.5,460.5 L798.5,461.3 L800.5,462.2 L802.5,462.9 L804.5,463.7 L806.5,464.3 L808.5,464.9 L810.5,465.5 L812.5,466.1 L814.5,466.6 L816.5,467.1 L818.5,467.5 L820.5,467.9 L822.5,468.3 L824.5,468.7 L826.5,469.1 L828.5,469.4 L830.5,469.7 L832.5,470.1 L834.5,470.4 L836.5,470.6 L838.5,470.9 L840.5,471.2 L842.5,471.4 L844.5,471.7 L846.5,471.9 L848.5,472.1 L850.5,472.4 L852.5,472.6 L854.5,472.8 L856.5,473 L858.5,473.2 L860.5,473.4 L862.5,473.6 L864.5,473.8 L866.5,473.9 L868.5,474.1 L870.5,474.3 L872.5,474.4 L874.5,474.6 L876.5,474.7 L878.5,474.9 L880.5,475 L882.5,475.2 L884.5,475.3 L886.5,475.5 L888.5,475.6 L890.5,475.7 L892.5,475.9 L894.5,476 L896.5,476.1 L898.5,476.2 L900.5,476.3 L902.5,476.5 L904.5,476.6 L906.5,476.7 L908.5,476.8 L910.5,476.9 L912.5,477 L914.5,477.1 L916.5,477.2 L918.5,477.3 L920.5,477.4 L922.5,477.5 L924.5,477.6 L926.5,477.7 L928.5,477.8 L930.5,477.9 L932.5,478 L934.5,478 L936.5,478.1 L938.5,478.2 L940.5,478.3 L942.5,478.4 L944.5,478.5 L946.5,478.6 L948.5,478.7 L950.5,478.7 L952.5,478.8 L954.5,478.9 L956.5,479 L958.5,479.1 L960.5,479.2 L962.5,479.2 L964.5,479.3 L966.5,479.4 L968.5,479.5 L970.5,479.6 L972.5,479.7 L974.5,479.7 L976.5,479.8 L978.5,479.9 L980.5,480 L982.5,480.1 L984.5,480.2 L986.5,480.3 L988.5,480.4 L990.5,480.4 L992.5,480.5 L994.5,480.6 L996.5,480.7 L998.5,480.8 L1000.5,480.9 L1002.5,481 L1004.5,481.1 L1006.5,481.2 L1008.5,481.3 L1010.5,481.4 L1012.5,481.5 L1014.5,481.5 L1016.5,481.6 L1018.5,481.7 L1020.5,481.8 L1022.5,481.9 L1024.5,482 L1026.5,482.1 L1028.5,482.2 L1030.5,482.3 L1032.5,482.4 L1034.5,482.5 L1036.5,482.6 L1038.5,482.6 L1040.5,482.7 L1042.5,482.8 L1044.5,482.9 L1046.5,483 L1048.5,483.1 L1050.5,483.2 L1052.5,483.3 L1054.5,483.4 L1056.5,483.5 L1058.5,483.6 L1060.5,483.7 L1062.5,483.8 L1064.5,483.9 L1066.5,484 L1068.5,484.1 L1070.5,484.2 L1072.5,484.3 L1074.5,484.4 L1076.5,484.5 L1078.5,484.6 L1080.5,484.7 L1082.5,484.8 L1084.5,484.9 L1086.5,485 L1088.5,485.1 L1090.5,485.2 L1092.5,485.3 L1094.5,485.5 L1096.5,485.6 L1098.5,485.7 L1100.5,485.8 L1102.5,485.9 L1104.5,486 L1106.5,486.2 L1108.5,486.3 L1110.5,486.4 L1112.5,486.5 L1114.5,486.6 L1116.5,486.8 L1118.5,486.9 L1120.5,487 L1122.5,487.2 L1124.5,487.3 L1126.5,487.4 L1128.5,487.6 L1130.5,487.7 L1132.5,487.9 L1134.5,488 L1136.5,488.2 L1138.5,488.4 L1140.5,488.5 L1142.5,488.7 L1144.5,488.9 L1146.5,489 L1148.5,489.2 L1150.5,489.4 L1152.5,489.6 L1154.5,489.7 L1156.5,489.9 L1158.5,490.1 L1160.5,490.3 L1162.5,490.5 L1164.5,490.7 L1166.5,490.9 L1168.5,491.1 L1170.5,491.3 L1172.5,491.5 L1174.5,491.7 L1176.5,491.9 L1178.5,492.1 L1180.5,492.3 L1182.5,492.5 L1184.5,492.8 L1186.5,493 L1188.5,493.2 L1190.5,493.5 L1192.5,493.7 L1194.5,493.9 L1196.5,494.2 L1198.5,494.4 L1200.5,494.7 L1202.5,494.9 L1204.5,495.2 L1206.5,495.5 L1208.5,495.7 L1210.5,496 L1212.5,496.3 L1214.5,496.6 L1216.5,496.9 L1218.5,497.2 L1220.5,497.5 L1222.5,497.8 L1224.5,498.1 L1226.5,498.4 L1228.5,498.7 L1230.5,499 L1232.5,499.3 L1234.5,499.7 L1236.5,500 L1238.5,500.4 L1240.5,500.8 L1242.5,501.2 L1244.5,501.6 L1246.5,502.1 L1248.5,502.5 L1250.5,502.9 L1252.5,503.4 L1254.5,503.9 L1256.5,504.3 L1258.5,504.8 L1260.5,505.3 L1262.5,505.8 L1264.5,506.3 L1266.5,506.7 L1268.5,507.2 L1270.5,507.7 L1272.5,508.1 L1274.5,508.6 L1276.5,509 L1278.5,509.5 L1280.5,509.9 L1282.5,510.3 L1284.5,510.7 L1286.5,511 L1288.5,511.4 L1290.5,511.7 L1292.5,512.1 L1294.5,512.4 L1296.5,512.7 L1298.5,513 L1300.5,513.3 L1302.5,513.7 L1304.5,514 L1306.5,514.3 L1308.5,514.6 L1310.5,514.9 L1312.5,515.1 L1314.5,515.4 L1316.5,515.7 L1318.5,516 L1320.5,516.2 L1322.5,516.5 L1324.5,516.7 L1326.5,517 L1328.5,517.2 L1330.5,517.4 L1332.5,517.6 L1334.5,517.9 L1336.5,518.1 L1338.5,518.2 L1340.5,518.4 L1342.5,518.6 L1344.5,518.8 L1346.5,519 L1348.5,519.1 L1350.5,519.3 L1352.5,519.5 L1354.5,519.6 L1356.5,519.8 L1358.5,520 L1360.5,520.1 L1362.5,520.3 L1364.5,520.4 L1366.5,520.5 L1368.5,520.6 L1370.5,520.7 L1372.5,520.8 L1374.5,520.9 L1376.5,521 L1378.5,521.1 L1380.5,521.1 L1382.5,521.1 L1384.5,521.2 L1386.5,521.2 L1388.5,521.3 L1390.5,521.3 L1392.5,521.3 L1394.5,521.4 L1396.5,521.4 L1398.5,521.4 L1400.5,521.5 L1402.5,521.5 L1404.5,521.5 L1406.5,521.5 L1408.5,521.6 L1410.5,521.6 L1412.5,521.6 L1414.5,521.6 L1416.5,521.7 L1418.5,521.7 L1420.5,521.7 L1422.5,521.7 L1424.5,521.7 L1426.5,521.8 L1428.5,521.8 L1430.5,521.8 L1432.5,521.8 L1434.5,521.8 L1436.5,521.8 L1438.5,521.9 L1440.5,521.9 L1442.5,521.9 L1444.5,521.9 L1446.5,521.9 L1448.5,521.9 L1450.5,521.9 L1452.5,521.9 L1454.5,521.9 L1456.5,521.9 L1458.5,521.9 L1460.5,522 L1462.5,522 L1464.5,522 L1466.5,522 L1468.5,522 L1470.5,522 L1472.5,522 L1474.5,522 L1476.5,522 L1478.5,522 L1480.5,522 L1482.5,522 L1484.5,522 L1486.5,522 L1488.5,522.1 L1490.5,522.1 L1492.5,522.1 L1494.5,522.1 L1496.5,522.1 L1498.5,522.1 L1500.5,522.1 L1502.5,522.1 L1504.5,522.1 L1506.5,522.1 L1508.5,522.1 L1510.5,522.1 L1512.5,522.1 L1514.5,522.1 L1516.5,522.1 L1518.5,522.1 L1520.5,522.1 L1522.5,522.1 L1524.5,522.2 L1526.5,522.2 L1528.5,522.2 L1530.5,522.2 L1532.5,522.2 L1534.5,522.2 L1536.5,522.2 L1538.5,522.2 L1540.5,522.2 L1542.5,522.2 L1544.5,522.2 L1546.5,522.2 L1548.5,522.2 L1550.5,522.2 L1552.5,522.2 L1554.5,522.2 L1556.5,522.2 L1558.5,522.2 L1560.5,522.2 L1562.5,522.2 L1564.5,522.2 L1566.5,522.2 L1568.5,522.2 L1570.5,522.2 L1572.5,522.2 L1574.5,522.2 L1576.5,522.2 L1578.5,522.2 L1580.5,522.2 L1582.5,522.2 L1584.5,522.2 L1586.5,522.2 L1588.5,522.2 L1590.5,522.2 L1592.5,522.2 L1594.5,522.2 L1596.4,522.2" stroke="#0000FF" stroke-width="4"/>
<path d="M394.5,453.1 L396.5,453.1 L398.5,453.1 L400.5,453.2 L402.5,453.2 L404.5,453.3 L406.5,453.3 L408.5,453.3 L410.5,453.4 L412.5,453.4 L414.5,453.5 L416.5,453.5 L418.5,453.6 L420.5,453.6 L422.5,453.7 L424.5,453.7 L426.5,453.8 L428.5,453.8 L430.5,453.9 L432.5,453.9 L434.5,454 L436.5,454 L438.5,454.1 L440.5,454.1 L442.5,454.2 L444.5,454.2 L446.5,454.3 L448.5,454.3 L450.5,454.4 L452.5,454.4 L454.5,454.5 L456.5,454.5 L458.5,454.6 L460.5,454.7 L462.5,454.7 L464.5,454.8 L466.5,454.8 L468.5,454.9 L470.5,455 L472.5,455 L474.5,455.1 L476.5,455.1 L478.5,455.2 L480.5,455.3 L482.5,455.3 L484.5,455.4 L486.5,455.4 L488.5,455.5 L490.5,455.6 L492.5,455.6 L494.5,455.7 L496.5,455.8 L498.5,455.8 L500.5,455.9 L502.5,456 L504.5,456 L506.5,456.1 L508.5,456.1 L510.5,456.2 L512.5,456.3 L514.5,456.3 L516.5,456.4 L518.5,456.5 L520.5,456.6 L522.5,456.6 L524.5,456.7 L526.5,456.8 L528.5,456.8 L530.5,456.9 L532.5,457 L534.5,457.1 L536.5,457.1 L538.5,457.2 L540.5,457.3 L542.5,457.4 L544.5,457.4 L546.5,457.5 L548.5,457.6 L550.5,457.7 L552.5,457.8 L554.5,457.8 L556.5,457.9 L558.5,458 L560.5,458.1 L562.5,458.2 L564.5,458.3 L566.5,458.3 L568.5,458.4 L570.5,458.5 L572.5,458.6 L574.5,458.7 L576.5,458.8 L578.5,458.9 L580.5,459 L582.5,459.1 L584.5,459.1 L586.5,459.2 L588.5,459.3 L590.5,459.4 L592.5,459.5 L594.5,459.6 L596.5,459.7 L598.5,459.8 L600.5,459.9 L602.5,460 L604.5,460.1 L606.5,460.2 L608.5,460.3 L610.5,460.4 L612.5,460.5 L614.5,460.6 L616.5,460.7 L618.5,460.8 L620.5,460.9 L622.5,461 L624.5,461.1 L626.5,461.1 L628.5,461.2 L630.5,461.3 L632.5,461.4 L634.5,461.5 L636.5,461.6 L638.5,461.7 L640.5,461.8 L642.5,461.9 L644.5,462 L646.5,462.1 L648.5,462.3 L650.5,462.4 L652.5,462.5 L654.5,462.6 L656.5,462.7 L658.5,462.8 L660.5,462.9 L662.5,463 L664.5,463.1 L666.5,463.2 L668.5,463.3 L670.5,463.4 L672.5,463.6 L674.5,463.7 L676.5,463.8 L678.5,463.9 L680.5,464 L682.5,464.1 L684.5,464.2 L686.5,464.4 L688.5,464.5 L690.5,464.6 L692.5,464.7 L694.5,464.8 L696.5,465 L698.5,465.1 L700.5,465.2 L702.5,465.3 L704.5,465.4 L706.5,465.6 L708.5,465.7 L710.5,465.8 L712.5,465.9 L714.5,466 L716.5,466.2 L718.5,466.3 L720.5,466.4 L722.5,466.5 L724.5,466.6 L726.5,466.8 L728.5,466.9 L730.5,467 L732.5,467.1 L734.5,467.2 L736.5,467.4 L738.5,467.5 L740.5,467.6 L742.5,467.7 L744.5,467.8 L746.5,468 L748.5,468.1 L750.5,468.2 L752.5,468.3 L754.5,468.4 L756.5,468.5 L758.5,468.7 L760.5,468.8 L762.5,468.9 L764.5,469 L766.5,469.1 L768.5,469.3 L770.5,469.4 L772.5,469.5 L774.5,469.6 L776.5,469.7 L778.5,469.9 L780.5,470 L782.5,470.1 L784.5,470.2 L786.5,470.4 L788.5,470.5 L790.5,470.6 L792.5,470.7 L794.5,470.9 L796.5,471 L798.5,471.1 L800.5,471.3 L802.5,471.4 L804.5,471.5 L806.5,471.6 L808.5,471.8 L810.5,471.9 L812.5,472 L814.5,472.1 L816.5,472.3 L818.5,472.4 L820.5,472.5 L822.5,472.6 L824.5,472.8 L826.5,472.9 L828.5,473 L830.5,473.1 L832.5,473.2 L834.5,473.4 L836.5,473.5 L838.5,473.6 L840.5,473.7 L842.5,473.8 L844.5,473.9 L846.5,474.1 L848.5,474.2 L850.5,474.3 L852.5,474.4 L854.5,474.5 L856.5,474.6 L858.5,474.7 L860.5,474.8 L862.5,474.9 L864.5,475 L866.5,475.1 L868.5,475.2 L870.5,475.3 L872.5,475.4 L874.5,475.4 L876.5,475.5 L878.5,475.6 L880.5,475.7 L882.5,475.8 L884.5,475.8 L886.5,475.9 L888.5,476 L890.5,476.1 L892.5,476.1 L894.5,476.2 L896.5,476.3 L898.5,476.3 L900.5,476.4 L902.5,476.5 L904.5,476.5 L906.5,476.6 L908.5,476.6 L910.5,476.7 L912.5,476.7 L914.5,476.8 L916.5,476.9 L918.5,476.9 L920.5,477 L922.5,477 L924.5,477.1 L926.5,477.1 L928.5,477.2 L930.5,477.2 L932.5,477.2 L934.5,477.3 L936.5,477.3 L938.5,477.4 L940.5,477.4 L942.5,477.5 L944.5,477.5 L946.5,477.5 L948.5,477.6 L950.5,477.6 L952.5,477.7 L954.5,477.7 L956.5,477.7 L958.5,477.8 L960.5,477.8 L962.5,477.9 L964.5,477.9 L966.5,477.9 L968.5,478 L970.5,478 L972.5,478 L974.5,478.1 L976.5,478.1 L978.5,478.2 L980.5,478.2 L982.5,478.2 L984.5,478.3 L986.5,478.3 L988.5,478.3 L990.5,478.4 L992.5,478.4 L994.5,478.4 L996.5,478.5 L998.5,478.5 L1000.5,478.5 L1002.5,478.6 L1004.5,478.6 L1006.5,478.6 L1008.5,478.7 L1010.5,478.7 L1012.5,478.7 L1014.5,478.8 L1016.5,478.8 L1018.5,478.8 L1020.5,478.8 L1022.5,478.8 L1024.5,478.9 L1026.5,478.9 L1028.5,478.9 L1030.5,478.9 L1032.5,478.9 L1034.5,478.9 L1036.5,478.9 L1038.5,478.9 L1040.5,479 L1042.5,479 L1044.5,479 L1046.5,479 L1048.5,478.9 L1050.5,478.9 L1052.5,478.9 L1054.5,478.9 L1056.5,478.9 L1058.5,478.9 L1060.5,478.9 L1062.5,478.9 L1064.5,478.8 L1066.5,478.8 L1068.5,478.8 L1070.5,478.7 L1072.5,478.7 L1074.5,478.7 L1076.5,478.6 L1078.5,478.6 L1080.5,478.5 L1082.5,478.4 L1084.5,478.4 L1086.5,478.3 L1088.5,478.2 L1090.5,478.2 L1092.5,478.1 L1094.5,478 L1096.5,477.9 L1098.5,477.8 L1100.5,477.7 L1102.5,477.6 L1104.5,477.4 L1106.5,477.3 L1108.5,477.2 L1110.5,477 L1112.5,476.8 L1114.5,476.7 L1116.5,476.5 L1118.5,476.3 L1120.5,476.1 L1122.5,475.8 L1124.5,475.6 L1126.5,475.4 L1128.5,475.1 L1130.5,474.8 L1132.5,474.5 L1134.5,474.2 L1136.5,473.9 L1138.5,473.5 L1140.5,473.1 L1142.5,472.7 L1144.5,472.3 L1146.5,471.8 L1148.5,471.3 L1150.5,470.8 L1152.5,470.2 L1154.5,469.6 L1156.5,468.9 L1158.5,468.3 L1160.5,467.5 L1162.5,466.7 L1164.5,465.9 L1166.5,464.9 L1168.5,464 L1170.5,462.9 L1172.5,461.8 L1174.5,460.6 L1176.5,459.3 L1178.5,457.9 L1180.5,456.4 L1182.5,454.8 L1184.5,453.1 L1186.5,451.3 L1188.5,449.3 L1190.5,447.2 L1192.5,445 L1194.5,442.6 L1196.5,440.1 L1198.5,437.4 L1200.5,434.5 L1202.5,431.5 L1204.5,428.3 L1206.5,424.9 L1208.5,421.4 L1210.5,417.7 L1212.5,413.9 L1214.5,410.1 L1216.5,406.2 L1218.5,402.3 L1220.5,398.4 L1222.5,394.7 L1224.5,391.2 L1226.5,387.9 L1228.5,385 L1230.5,382.6 L1232.5,380.6 L1234.5,379.3 L1236.5,378.6 L1238.5,378.7 L1240.5,379.4 L1242.5,380.8 L1244.5,382.9 L1246.5,385.6 L1248.5,388.8 L1250.5,392.5 L1252.5,396.5 L1254.5,400.8 L1256.5,405.3 L1258.5,409.9 L1260.5,414.6 L1262.5,419.3 L1264.5,423.9 L1266.5,428.4 L1268.5,432.8 L1270.5,437.1 L1272.5,441.1 L1274.5,445.1 L1276.5,448.8 L1278.5,452.3 L1280.5,455.7 L1282.5,458.9 L1284.5,461.9 L1286.5,464.8 L1288.5,467.4 L1290.5,470 L1292.5,472.3 L1294.5,474.6 L1296.5,476.7 L1298.5,478.7 L1300.5,480.6 L1302.5,482.5 L1304.5,484.2 L1306.5,485.8 L1308.5,487.3 L1310.5,488.8 L1312.5,490.2 L1314.5,491.5 L1316.5,492.8 L1318.5,494 L1320.5,495.1 L1322.5,496.2 L1324.5,497.3 L1326.5,498.2 L1328.5,499.2 L1330.5,500.1 L1332.5,500.9 L1334.5,501.7 L1336.5,502.5 L1338.5,503.2 L1340.5,503.9 L1342.5,504.6 L1344.5,505.2 L1346.5,505.9 L1348.5,506.5 L1350.5,507 L1352.5,507.6 L1354.5,508.1 L1356.5,508.7 L1358.5,509.2 L1360.5,509.6 L1362.5,510.1 L1364.5,510.5 L1366.5,510.9 L1368.5,511.3 L1370.5,511.7 L1372.5,512 L1374.5,512.4 L1376.5,512.7 L1378.5,512.9 L1380.5,513.2 L1382.5,513.5 L1384.5,513.7 L1386.5,513.9 L1388.5,514.1 L1390.5,514.4 L1392.5,514.6 L1394.5,514.8 L1396.5,515 L1398.5,515.1 L1400.5,515.3 L1402.5,515.5 L1404.5,515.7 L1406.5,515.8 L1408.5,516 L1410.5,516.1 L1412.5,516.3 L1414.5,516.4 L1416.5,516.5 L1418.5,516.7 L1420.5,516.8 L1422.5,516.9 L1424.5,517 L1426.5,517.2 L1428.5,517.3 L1430.5,517.4 L1432.5,517.5 L1434.5,517.6 L1436.5,517.7 L1438.5,517.8 L1440.5,517.9 L1442.5,518 L1444.5,518 L1446.5,518.1 L1448.5,518.2 L1450.5,518.3 L1452.5,518.3 L1454.5,518.4 L1456.5,518.5 L1458.5,518.6 L1460.5,518.6 L1462.5,518.7 L1464.5,518.8 L1466.5,518.8 L1468.5,518.9 L1470.5,518.9 L1472.5,519 L1474.5,519.1 L1476.5,519.1 L1478.5,519.2 L1480.5,519.2 L1482.5,519.3 L1484.5,519.3 L1486.5,519.4 L1488.5,519.4 L1490.5,519.5 L1492.5,519.5 L1494.5,519.6 L1496.5,519.6 L1498.5,519.7 L1500.5,519.7 L1502.5,519.7 L1504.5,519.8 L1506.5,519.8 L1508.5,519.9 L1510.5,519.9 L1512.5,519.9 L1514.5,520 L1516.5,520 L1518.5,520 L1520.5,520.1 L1522.5,520.1 L1524.5,520.1 L1526.5,520.2 L1528.5,520.2 L1530.5,520.2 L1532.5,520.3 L1534.5,520.3 L1536.5,520.3 L1538.5,520.4 L1540.5,520.4 L1542.5,520.4 L1544.5,520.4 L1546.5,520.5 L1548.5,520.5 L1550.5,520.5 L1552.5,520.5 L1554.5,520.6 L1556.5,520.6 L1558.5,520.6 L1560.5,520.6 L1562.5,520.7 L1564.5,520.7 L1566.5,520.7 L1568.5,520.7 L1570.5,520.7 L1572.5,520.8 L1574.5,520.8 L1576.5,520.8 L1578.5,520.8 L1580.5,520.8 L1582.5,520.9 L1584.5,520.9 L1586.5,520.9 L1588.5,520.9 L1590.5,520.9 L1592.5,520.9 L1594.5,521 L1596.4,521" stroke="#0000FF" stroke-width="4"/>
<path d="M394.5,453.3 L396.5,453.3 L398.5,453.4 L400.5,453.4 L402.5,453.5 L404.5,453.5 L406.5,453.5 L408.5,453.6 L410.5,453.6 L412.5,453.7 L414.5,453.7 L416.5,453.8 L418.5,453.8 L420.5,453.9 L422.5,453.9 L424.5,454 L426.5,454 L428.5,454.1 L430.5,454.1 L432.5,454.2 L434.5,454.2 L436.5,454.3 L438.5,454.3 L440.5,454.4 L442.5,454.4 L444.5,454.5 L446.5,454.5 L448.5,454.6 L450.5,454.6 L452.5,454.7 L454.5,454.8 L456.5,454.8 L458.5,454.9 L460.5,454.9 L462.5,455 L464.5,455.1 L466.5,455.1 L468.5,455.2 L470.5,455.2 L472.5,455.3 L474.5,455.4 L476.5,455.4 L478.5,455.5 L480.5,455.5 L482.5,455.6 L484.5,455.7 L486.5,455.7 L488.5,455.8 L490.5,455.9 L492.5,455.9 L494.5,456 L496.5,456.1 L498.5,456.1 L500.5,456.2 L502.5,456.3 L504.5,456.3 L506.5,456.4 L508.5,456.5 L510.5,456.5 L512.5,456.6 L514.5,456.7 L516.5,456.7 L518.5,456.8 L520.5,456.9 L522.5,456.9 L524.5,457 L526.5,457.1 L528.5,457.2 L530.5,457.2 L532.5,457.3 L534.5,457.4 L536.5,457.5 L538.5,457.5 L540.5,457.6 L542.5,457.7 L544.5,457.8 L546.5,457.9 L548.5,457.9 L550.5,458 L552.5,458.1 L554.5,458.2 L556.5,458.3 L558.5,458.4 L560.5,458.5 L562.5,458.5 L564.5,458.6 L566.5,458.7 L568.5,458.8 L570.5,458.9 L572.5,459 L574.5,459.1 L576.5,459.2 L578.5,459.3 L580.5,459.3 L582.5,459.4 L584.5,459.5 L586.5,459.6 L588.5,459.7 L590.5,459.8 L592.5,459.9 L594.5,460 L596.5,460.1 L598.5,460.2 L600.5,460.3 L602.5,460.4 L604.5,460.5 L606.5,460.6 L608.5,460.7 L610.5,460.8 L612.5,460.9 L614.5,461 L616.5,461.1 L618.5,461.2 L620.5,461.3 L622.5,461.4 L624.5,461.5 L626.5,461.6 L628.5,461.7 L630.5,461.8 L632.5,461.9 L634.5,462 L636.5,462.1 L638.5,462.2 L640.5,462.3 L642.5,462.4 L644.5,462.5 L646.5,462.6 L648.5,462.7 L650.5,462.8 L652.5,462.9 L654.5,463 L656.5,463.1 L658.5,463.2 L660.5,463.4 L662.5,463.5 L664.5,463.6 L666.5,463.7 L668.5,463.8 L670.5,463.9 L672.5,464 L674.5,464.1 L676.5,464.3 L678.5,464.4 L680.5,464.5 L682.5,464.6 L684.5,464.7 L686.5,464.8 L688.5,464.9 L690.5,465 L692.5,465.1 L694.5,465.2 L696.5,465.3 L698.5,465.4 L700.5,465.4 L702.5,465.5 L704.5,465.5 L706.5,465.5 L708.5,465.4 L710.5,465.4 L712.5,465.2 L714.5,465.1 L716.5,464.8 L718.5,464.5 L720.5,464.1 L722.5,463.6 L724.5,463 L726.5,462.3 L728.5,461.4 L730.5,460.3 L732.5,459.1 L734.5,457.7 L736.5,456.1 L738.5,454.2 L740.5,452.1 L742.5,449.8 L744.5,447.3 L746.5,444.4 L748.5,441.4 L750.5,438.1 L752.5,434.6 L754.5,430.9 L756.5,426.9 L758.5,422.9 L760.5,418.7 L762.5,414.5 L764.5,410.2 L766.5,406 L768.5,401.8 L770.5,397.8 L772.5,394 L774.5,390.5 L776.5,387.3 L778.5,384.4 L780.5,382 L782.5,380 L784.5,378.6 L786.5,377.7 L788.5,377.3 L790.5,377.5 L792.5,378.2 L794.5,379.5 L796.5,381.3 L798.5,383.7 L800.5,386.4 L802.5,389.6 L804.5,393.2 L806.5,397.1 L808.5,401.2 L810.5,405.5 L812.5,409.9 L814.5,414.4 L816.5,418.9 L818.5,423.4 L820.5,427.8 L822.5,432.1 L824.5,436.2 L826.5,440.2 L828.5,443.9 L830.5,447.4 L832.5,450.7 L834.5,453.7 L836.5,456.5 L838.5,459 L840.5,461.3 L842.5,463.3 L844.5,465.1 L846.5,466.8 L848.5,468.2 L850.5,469.5 L852.5,470.6 L854.5,471.5 L856.5,472.3 L858.5,473.1 L860.5,473.7 L862.5,474.2 L864.5,474.7 L866.5,475.1 L868.5,475.4 L870.5,475.7 L872.5,476 L874.5,476.2 L876.5,476.4 L878.5,476.6 L880.5,476.7 L882.5,476.9 L884.5,477 L886.5,477.1 L888.5,477.2 L890.5,477.3 L892.5,477.4 L894.5,477.5 L896.5,477.6 L898.5,477.7 L900.5,477.8 L902.5,477.9 L904.5,478 L906.5,478.1 L908.5,478.1 L910.5,478.2 L912.5,478.3 L914.5,478.4 L916.5,478.4 L918.5,478.5 L920.5,478.6 L922.5,478.7 L924.5,478.7 L926.5,478.8 L928.5,478.9 L930.5,479 L932.5,479 L934.5,479.1 L936.5,479.2 L938.5,479.2 L940.5,479.3 L942.5,479.4 L944.5,479.4 L946.5,479.5 L948.5,479.6 L950.5,479.6 L952.5,479.7 L954.5,479.8 L956.5,479.8 L958.5,479.9 L960.5,480 L962.5,480.1 L964.5,480.1 L966.5,480.2 L968.5,480.3 L970.5,480.3 L972.5,480.4 L974.5,480.5 L976.5,480.6 L978.5,480.6 L980.5,480.7 L982.5,480.8 L984.5,480.9 L986.5,480.9 L988.5,481 L990.5,481.1 L992.5,481.2 L994.5,481.3 L996.5,481.3 L998.5,481.4 L1000.5,481.5 L1002.5,481.6 L1004.5,481.7 L1006.5,481.8 L1008.5,481.8 L1010.5,481.9 L1012.5,482 L1014.5,482.1 L1016.5,482.2 L1018.5,482.3 L1020.5,482.3 L1022.5,482.4 L1024.5,482.5 L1026.5,482.6 L1028.5,482.7 L1030.5,482.8 L1032.5,482.8 L1034.5,482.9 L1036.5,483 L1038.5,483.1 L1040.5,483.2 L1042.5,483.3 L1044.5,483.4 L1046.5,483.5 L1048.5,483.5 L1050.5,483.6 L1052.5,483.7 L1054.5,483.8 L1056.5,483.9 L1058.5,484 L1060.5,484.1 L1062.5,484.2 L1064.5,484.3 L1066.5,484.4 L1068.5,484.5 L1070.5,484.6 L1072.5,484.7 L1074.5,484.7 L1076.5,484.8 L1078.5,484.9 L1080.5,485 L1082.5,485.1 L1084.5,485.3 L1086.5,485.4 L1088.5,485.5 L1090.5,485.6 L1092.5,485.7 L1094.5,485.8 L1096.5,485.9 L1098.5,486 L1100.5,486.1 L1102.5,486.2 L1104.5,486.3 L1106.5,486.5 L1108.5,486.6 L1110.5,486.7 L1112.5,486.8 L1114.5,486.9 L1116.5,487.1 L1118.5,487.2 L1120.5,487.3 L1122.5,487.5 L1124.5,487.6 L1126.5,487.7 L1128.5,487.9 L1130.5,488 L1132.5,488.2 L1134.5,488.3 L1136.5,488.5 L1138.5,488.6 L1140.5,488.8 L1142.5,488.9 L1144.5,489.1 L1146.5,489.3 L1148.5,489.5 L1150.5,489.6 L1152.5,489.8 L1154.5,490 L1156.5,490.2 L1158.5,490.4 L1160.5,490.5 L1162.5,490.7 L1164.5,490.9 L1166.5,491.1 L1168.5,491.3 L1170.5,491.5 L1172.5,491.7 L1174.5,491.9 L1176.5,492.1 L1178.5,492.3 L1180.5,492.5 L1182.5,492.8 L1184.5,493 L1186.5,493.2 L1188.5,493.4 L1190.5,493.7 L1192.5,493.9 L1194.5,494.1 L1196.5,494.4 L1198.5,494.6 L1200.5,494.9 L1202.5,495.1 L1204.5,495.4 L1206.5,495.7 L1208.5,495.9 L1210.5,496.2 L1212.5,496.5 L1214.5,496.8 L1216.5,497 L1218.5,497.3 L1220.5,497.6 L1222.5,497.9 L1224.5,498.2 L1226.5,498.6 L1228.5,498.9 L1230.5,499.2 L1232.5,499.5 L1234.5,499.8 L1236.5,500.2 L1238.5,500.6 L1240.5,501 L1242.5,501.4 L1244.5,501.8 L1246.5,502.2 L1248.5,502.7 L1250.5,503.1 L1252.5,503.6 L1254.5,504 L1256.5,504.5 L1258.5,505 L1260.5,505.5 L1262.5,505.9 L1264.5,506.4 L1266.5,506.9 L1268.5,507.4 L1270.5,507.8 L1272.5,508.3 L1274.5,508.7 L1276.5,509.2 L1278.5,509.6 L1280.5,510 L1282.5,510.4 L1284.5,510.8 L1286.5,511.2 L1288.5,511.5 L1290.5,511.9 L1292.5,512.2 L1294.5,512.5 L1296.5,512.8 L1298.5,513.2 L1300.5,513.5 L1302.5,513.8 L1304.5,514.1 L1306.5,514.4 L1308.5,514.7 L1310.5,515 L1312.5,515.3 L1314.5,515.5 L1316.5,515.8 L1318.5,516.1 L1320.5,516.4 L1322.5,516.6 L1324.5,516.9 L1326.5,517.1 L1328.5,517.3 L1330.5,517.6 L1332.5,517.8 L1334.5,518 L1336.5,518.2 L1338.5,518.4 L1340.5,518.5 L1342.5,518.7 L1344.5,518.9 L1346.5,519.1 L1348.5,519.2 L1350.5,519.4 L1352.5,519.6 L1354.5,519.8 L1356.5,519.9 L1358.5,520.1 L1360.5,520.2 L1362.5,520.4 L1364.5,520.5 L1366.5,520.6 L1368.5,520.7 L1370.5,520.9 L1372.5,520.9 L1374.5,521 L1376.5,521.1 L1378.5,521.2 L1380.5,521.2 L1382.5,521.2 L1384.5,521.3 L1386.5,521.3 L1388.5,521.4 L1390.5,521.4 L1392.5,521.4 L1394.5,521.5 L1396.5,521.5 L1398.5,521.5 L1400.5,521.6 L1402.5,521.6 L1404.5,521.6 L1406.5,521.6 L1408.5,521.7 L1410.5,521.7 L1412.5,521.7 L1414.5,521.7 L1416.5,521.8 L1418.5,521.8 L1420.5,521.8 L1422.5,521.8 L1424.5,521.8 L1426.5,521.9 L1428.5,521.9 L1430.5,521.9 L1432.5,521.9 L1434.5,521.9 L1436.5,521.9 L1438.5,521.9 L1440.5,522 L1442.5,522 L1444.5,522 L1446.5,522 L1448.5,522 L1450.5,522 L1452.5,522 L1454.5,522 L1456.5,522 L1458.5,522 L1460.5,522 L1462.5,522 L1464.5,522.1 L1466.5,522.1 L1468.5,522.1 L1470.5,522.1 L1472.5,522.1 L1474.5,522.1 L1476.5,522.1 L1478.5,522.1 L1480.5,522.1 L1482.5,522.1 L1484.5,522.1 L1486.5,522.1 L1488.5,522.1 L1490.5,522.1 L1492.5,522.1 L1494.5,522.1 L1496.5,522.2 L1498.5,522.2 L1500.5,522.2 L1502.5,522.2 L1504.5,522.2 L1506.5,522.2 L1508.5,522.2 L1510.5,522.2 L1512.5,522.2 L1514.5,522.2 L1516.5,522.2 L1518.5,522.2 L1520.5,522.2 L1522.5,522.2 L1524.5,522.2 L1526.5,522.2 L1528.5,522.2 L1530.5,522.2 L1532.5,522.2 L1534.5,522.2 L1536.5,522.2 L1538.5,522.2 L1540.5,522.3 L1542.5,522.3 L1544.5,522.3 L1546.5,522.3 L1548.5,522.3 L1550.5,522.3 L1552.5,522.3 L1554.5,522.3 L1556.5,522.3 L1558.5,522.3 L1560.5,522.3 L1562.5,522.3 L1564.5,522.3 L1566.5,522.3 L1568.5,522.3 L1570.5,522.3 L1572.5,522.3 L1574.5,522.3 L1576.5,522.3 L1578.5,522.3 L1580.5,522.3 L1582.5,522.3 L1584.5,522.3 L1586.5,522.3 L1588.5,522.3 L1590.5,522.3 L1592.5,522.3 L1594.5,522.3 L1596.4,522.3" stroke="#FF00FF" stroke-width="4"/>
<path d="M394.5,453.3 L396.5,453.3 L398.5,453.3 L400.5,453.4 L402.5,453.4 L404.5,453.5 L406.5,453.5 L408.5,453.6 L410.5,453.6 L412.5,453.6 L414.5,453.7 L416.5,453.7 L418.5,453.8 L420.5,453.8 L422.5,453.9 L424.5,453.9 L426.5,454 L428.5,454 L430.5,454.1 L432.5,454.1 L434.5,454.2 L436.5,454.2 L438.5,454.3 L440.5,454.3 L442.5,454.4 L444.5,454.4 L446.5,454.5 L448.5,454.6 L450.5,454.6 L452.5,454.7 L454.5,454.7 L456.5,454.8 L458.5,454.8 L460.5,454.9 L462.5,455 L464.5,455 L466.5,455.1 L468.5,455.1 L470.5,455.2 L472.5,455.3 L474.5,455.3 L476.5,455.4 L478.5,455.4 L480.5,455.5 L482.5,455.6 L484.5,455.6 L486.5,455.7 L488.5,455.8 L490.5,455.8 L492.5,455.9 L494.5,456 L496.5,456 L498.5,456.1 L500.5,456.2 L502.5,456.2 L504.5,456.3 L506.5,456.4 L508.5,456.4 L510.5,456.5 L512.5,456.6 L514.5,456.6 L516.5,456.7 L518.5,456.8 L520.5,456.8 L522.5,456.9 L524.5,457 L526.5,457.1 L528.5,457.1 L530.5,457.2 L532.5,457.3 L534.5,457.4 L536.5,457.4 L538.5,457.5 L540.5,457.6 L542.5,457.7 L544.5,457.7 L546.5,457.8 L548.5,457.9 L550.5,458 L552.5,458.1 L554.5,458.2 L556.5,458.2 L558.5,458.3 L560.5,458.4 L562.5,458.5 L564.5,458.6 L566.5,458.7 L568.5,458.8 L570.5,458.9 L572.5,458.9 L574.5,459 L576.5,459.1 L578.5,459.2 L580.5,459.3 L582.5,459.4 L584.5,459.5 L586.5,459.6 L588.5,459.7 L590.5,459.8 L592.5,459.9 L594.5,460 L596.5,460.1 L598.5,460.2 L600.5,460.3 L602.5,460.3 L604.5,460.4 L606.5,460.5 L608.5,460.6 L610.5,460.7 L612.5,460.8 L614.5,460.9 L616.5,461 L618.5,461.1 L620.5,461.2 L622.5,461.3 L624.5,461.4 L626.5,461.5 L628.5,461.6 L630.5,461.7 L632.5,461.8 L634.5,461.9 L636.5,462 L638.5,462.2 L640.5,462.3 L642.5,462.4 L644.5,462.5 L646.5,462.6 L648.5,462.7 L650.5,462.8 L652.5,462.9 L654.5,463 L656.5,463.1 L658.5,463.2 L660.5,463.3 L662.5,463.4 L664.5,463.6 L666.5,463.7 L668.5,463.8 L670.5,463.9 L672.5,464 L674.5,464.1 L676.5,464.2 L678.5,464.4 L680.5,464.5 L682.5,464.6 L684.5,464.7 L686.5,464.8 L688.5,465 L690.5,465.1 L692.5,465.2 L694.5,465.3 L696.5,465.5 L698.5,465.6 L700.5,465.7 L702.5,465.8 L704.5,465.9 L706.5,466.1 L708.5,466.2 L710.5,466.3 L712.5,466.4 L714.5,466.6 L716.5,466.7 L718.5,466.8 L720.5,466.9 L722.5,467.1 L724.5,467.2 L726.5,467.3 L728.5,467.4 L730.5,467.6 L732.5,467.7 L734.5,467.8 L736.5,467.9 L738.5,468.1 L740.5,468.2 L742.5,468.3 L744.5,468.4 L746.5,468.6 L748.5,468.7 L750.5,468.8 L752.5,468.9 L754.5,469.1 L756.5,469.2 L758.5,469.3 L760.5,469.4 L762.5,469.5 L764.5,469.7 L766.5,469.8 L768.5,469.9 L770.5,470 L772.5,470.2 L774.5,470.3 L776.5,470.4 L778.5,470.6 L780.5,470.7 L782.5,470.8 L784.5,471 L786.5,471.1 L788.5,471.2 L790.5,471.4 L792.5,471.5 L794.5,471.6 L796.5,471.8 L798.5,471.9 L800.5,472 L802.5,472.2 L804.5,472.3 L806.5,472.4 L808.5,472.6 L810.5,472.7 L812.5,472.8 L814.5,473 L816.5,473.1 L818.5,473.2 L820.5,473.4 L822.5,473.5 L824.5,473.6 L826.5,473.8 L828.5,473.9 L830.5,474 L832.5,474.1 L834.5,474.3 L836.5,474.4 L838.5,474.5 L840.5,474.6 L842.5,474.8 L844.5,474.9 L846.5,475 L848.5,475.1 L850.5,475.3 L852.5,475.4 L854.5,475.5 L856.5,475.6 L858.5,475.7 L860.5,475.8 L862.5,475.9 L864.5,476 L866.5,476.1 L868.5,476.3 L870.5,476.4 L872.5,476.5 L874.5,476.6 L876.5,476.7 L878.5,476.7 L880.5,476.8 L882.5,476.9 L884.5,477 L886.5,477.1 L888.5,477.2 L890.5,477.3 L892.5,477.4 L894.5,477.4 L896.5,477.5 L898.5,477.6 L900.5,477.7 L902.5,477.8 L904.5,477.8 L906.5,477.9 L908.5,478 L910.5,478.1 L912.5,478.1 L914.5,478.2 L916.5,478.3 L918.5,478.3 L920.5,478.4 L922.5,478.5 L924.5,478.6 L926.5,478.6 L928.5,478.7 L930.5,478.8 L932.5,478.8 L934.5,478.9 L936.5,479 L938.5,479 L940.5,479.1 L942.5,479.1 L944.5,479.2 L946.5,479.3 L948.5,479.3 L950.5,479.4 L952.5,479.5 L954.5,479.5 L956.5,479.6 L958.5,479.7 L960.5,479.7 L962.5,479.8 L964.5,479.9 L966.5,479.9 L968.5,480 L970.5,480.1 L972.5,480.1 L974.5,480.2 L976.5,480.3 L978.5,480.3 L980.5,480.4 L982.5,480.5 L984.5,480.5 L986.5,480.6 L988.5,480.7 L990.5,480.8 L992.5,480.8 L994.5,480.9 L996.5,481 L998.5,481.1 L1000.5,481.1 L1002.5,481.2 L1004.5,481.3 L1006.5,481.4 L1008.5,481.5 L1010.5,481.5 L1012.5,481.6 L1014.5,481.7 L1016.5,481.8 L1018.5,481.9 L1020.5,481.9 L1022.5,482 L1024.5,482.1 L1026.5,482.2 L1028.5,482.2 L1030.5,482.3 L1032.5,482.4 L1034.5,482.5 L1036.5,482.5 L1038.5,482.6 L1040.5,482.7 L1042.5,482.8 L1044.5,482.9 L1046.5,482.9 L1048.5,483 L1050.5,483.1 L1052.5,483.2 L1054.5,483.3 L1056.5,483.3 L1058.5,483.4 L1060.5,483.5 L1062.5,483.6 L1064.5,483.7 L1066.5,483.7 L1068.5,483.8 L1070.5,483.9 L1072.5,484 L1074.5,484.1 L1076.5,484.2 L1078.5,484.3 L1080.5,484.3 L1082.5,484.4 L1084.5,484.5 L1086.5,484.6 L1088.5,484.7 L1090.5,484.8 L1092.5,484.9 L1094.5,485 L1096.5,485.1 L1098.5,485.1 L1100.5,485.2 L1102.5,485.3 L1104.5,485.4 L1106.5,485.5 L1108.5,485.6 L1110.5,485.7 L1112.5,485.8 L1114.5,485.9 L1116.5,486 L1118.5,486.1 L1120.5,486.2 L1122.5,486.3 L1124.5,486.4 L1126.5,486.5 L1128.5,486.7 L1130.5,486.8 L1132.5,486.9 L1134.5,487 L1136.5,487.1 L1138.5,487.2 L1140.5,487.4 L1142.5,487.5 L1144.5,487.6 L1146.5,487.7 L1148.5,487.9 L1150.5,488 L1152.5,488.1 L1154.5,488.2 L1156.5,488.4 L1158.5,488.5 L1160.5,488.6 L1162.5,488.8 L1164.5,488.9 L1166.5,489 L1168.5,489.1 L1170.5,489.3 L1172.5,489.4 L1174.5,489.5 L1176.5,489.6 L1178.5,489.7 L1180.5,489.8 L1182.5,489.9 L1184.5,490 L1186.5,490 L1188.5,490.1 L1190.5,490.1 L1192.5,490.1 L1194.5,490.1 L1196.5,490 L1198.5,489.9 L1200.5,489.7 L1202.5,489.4 L1204.5,489.1 L1206.5,488.7 L1208.5,488.1 L1210.5,487.4 L1212.5,486.5 L1214.5,485.4 L1216.5,484 L1218.5,482.4 L1220.5,480.6 L1222.5,478.4 L1224.5,475.8 L1226.5,472.8 L1228.5,469.4 L1230.5,465.5 L1232.5,461.1 L1234.5,456.2 L1236.5,450.7 L1238.5,444.8 L1240.5,438.2 L1242.5,431.1 L1244.5,423.5 L1246.5,415.4 L1248.5,406.9 L1250.5,397.9 L1252.5,388.7 L1254.5,379.1 L1256.5,369.5 L1258.5,359.8 L1260.5,350.2 L1262.5,340.8 L1264.5,331.8 L1266.5,323.2 L1268.5,315.4 L1270.5,308.4 L1272.5,302.3 L1274.5,297.4 L1276.5,293.6 L1278.5,291.2 L1280.5,290.2 L1282.5,290.6 L1284.5,292.4 L1286.5,295.7 L1288.5,300.2 L1290.5,305.9 L1292.5,312.8 L1294.5,320.6 L1296.5,329.2 L1298.5,338.5 L1300.5,348.3 L1302.5,358.5 L1304.5,368.9 L1306.5,379.4 L1308.5,389.8 L1310.5,400.1 L1312.5,410.1 L1314.5,419.8 L1316.5,429.1 L1318.5,437.9 L1320.5,446.1 L1322.5,453.9 L1324.5,461 L1326.5,467.6 L1328.5,473.7 L1330.5,479.1 L1332.5,484.1 L1334.5,488.5 L1336.5,492.4 L1338.5,495.9 L1340.5,499 L1342.5,501.6 L1344.5,504 L1346.5,506.1 L1348.5,507.8 L1350.5,509.4 L1352.5,510.7 L1354.5,511.9 L1356.5,512.9 L1358.5,513.8 L1360.5,514.5 L1362.5,515.2 L1364.5,515.8 L1366.5,516.3 L1368.5,516.7 L1370.5,517.1 L1372.5,517.4 L1374.5,517.7 L1376.5,517.9 L1378.5,518.2 L1380.5,518.3 L1382.5,518.5 L1384.5,518.7 L1386.5,518.8 L1388.5,518.9 L1390.5,519.1 L1392.5,519.2 L1394.5,519.3 L1396.5,519.4 L1398.5,519.5 L1400.5,519.6 L1402.5,519.7 L1404.5,519.8 L1406.5,519.8 L1408.5,519.9 L1410.5,520 L1412.5,520.1 L1414.5,520.1 L1416.5,520.2 L1418.5,520.3 L1420.5,520.3 L1422.5,520.4 L1424.5,520.5 L1426.5,520.5 L1428.5,520.6 L1430.5,520.6 L1432.5,520.7 L1434.5,520.7 L1436.5,520.7 L1438.5,520.8 L1440.5,520.8 L1442.5,520.9 L1444.5,520.9 L1446.5,520.9 L1448.5,521 L1450.5,521 L1452.5,521 L1454.5,521.1 L1456.5,521.1 L1458.5,521.1 L1460.5,521.1 L1462.5,521.2 L1464.5,521.2 L1466.5,521.2 L1468.5,521.2 L1470.5,521.3 L1472.5,521.3 L1474.5,521.3 L1476.5,521.3 L1478.5,521.4 L1480.5,521.4 L1482.5,521.4 L1484.5,521.4 L1486.5,521.4 L1488.5,521.5 L1490.5,521.5 L1492.5,521.5 L1494.5,521.5 L1496.5,521.5 L1498.5,521.5 L1500.5,521.6 L1502.5,521.6 L1504.5,521.6 L1506.5,521.6 L1508.5,521.6 L1510.5,521.6 L1512.5,521.6 L1514.5,521.7 L1516.5,521.7 L1518.5,521.7 L1520.5,521.7 L1522.5,521.7 L1524.5,521.7 L1526.5,521.7 L1528.5,521.8 L1530.5,521.8 L1532.5,521.8 L1534.5,521.8 L1536.5,521.8 L1538.5,521.8 L1540.5,521.8 L1542.5,521.8 L1544.5,521.8 L1546.5,521.8 L1548.5,521.9 L1550.5,521.9 L1552.5,521.9 L1554.5,521.9 L1556.5,521.9 L1558.5,521.9 L1560.5,521.9 L1562.5,521.9 L1564.5,521.9 L1566.5,521.9 L1568.5,521.9 L1570.5,521.9 L1572.5,521.9 L1574.5,522 L1576.5,522 L1578.5,522 L1580.5,522 L1582.5,522 L1584.5,522 L1586.5,522 L1588.5,522 L1590.5,522 L1592.5,522 L1594.5,522 L1596.4,522" stroke="#FF00FF" stroke-width="4"/>
</g>
<g fill="#fff" stroke="#000" stroke-width="1.15"><circle cx="405.9" cy="937.1" r="6.5"/><circle cx="408.7" cy="947.9" r="6.5"/><circle cx="411.5" cy="949.9" r="6.5"/><circle cx="414.3" cy="932.3" r="6.5"/><circle cx="417" cy="922.3" r="6.5"/><circle cx="419.8" cy="929.8" r="6.5"/><circle cx="422.6" cy="930.6" r="6.5"/><circle cx="425.4" cy="936.7" r="6.5"/><circle cx="428.2" cy="937.2" r="6.5"/><circle cx="431" cy="935.6" r="6.5"/><circle cx="433.8" cy="922.4" r="6.5"/><circle cx="436.5" cy="924.3" r="6.5"/><circle cx="439.3" cy="927.1" r="6.5"/><circle cx="442.1" cy="923.5" r="6.5"/><circle cx="444.9" cy="918.8" r="6.5"/><circle cx="447.7" cy="915.8" r="6.5"/><circle cx="450.5" cy="913.2" r="6.5"/><circle cx="453.2" cy="906.4" r="6.5"/><circle cx="456" cy="897.9" r="6.5"/><circle cx="458.8" cy="902" r="6.5"/><circle cx="461.6" cy="910.9" r="6.5"/><circle cx="464.4" cy="922.6" r="6.5"/><circle cx="467.2" cy="904" r="6.5"/><circle cx="470" cy="904.5" r="6.5"/><circle cx="472.7" cy="905.7" r="6.5"/><circle cx="475.5" cy="916.2" r="6.5"/><circle cx="478.3" cy="913.4" r="6.5"/><circle cx="481.1" cy="908.7" r="6.5"/><circle cx="483.9" cy="904.7" r="6.5"/><circle cx="486.7" cy="902.1" r="6.5"/><circle cx="489.5" cy="907.7" r="6.5"/><circle cx="492.2" cy="901.8" r="6.5"/><circle cx="495" cy="897.5" r="6.5"/><circle cx="497.8" cy="906.3" r="6.5"/><circle cx="500.6" cy="918.2" r="6.5"/><circle cx="503.4" cy="907.5" r="6.5"/><circle cx="506.2" cy="898.2" r="6.5"/><circle cx="508.9" cy="900.7" r="6.5"/><circle cx="511.7" cy="894.4" r="6.5"/><circle cx="514.5" cy="897.1" r="6.5"/><circle cx="517.3" cy="895.5" r="6.5"/><circle cx="520.1" cy="896.1" r="6.5"/><circle cx="522.9" cy="896.8" r="6.5"/><circle cx="525.7" cy="887.1" r="6.5"/><circle cx="528.4" cy="898.6" r="6.5"/><circle cx="531.2" cy="898.9" r="6.5"/><circle cx="534" cy="896.1" r="6.5"/><circle cx="536.8" cy="888.2" r="6.5"/><circle cx="539.6" cy="890.1" r="6.5"/><circle cx="542.4" cy="870.8" r="6.5"/><circle cx="545.2" cy="867.7" r="6.5"/><circle cx="547.9" cy="873.9" r="6.5"/><circle cx="550.7" cy="886" r="6.5"/><circle cx="553.5" cy="879.8" r="6.5"/><circle cx="556.3" cy="871.7" r="6.5"/><circle cx="559.1" cy="865.3" r="6.5"/><circle cx="561.9" cy="865.4" r="6.5"/><circle cx="564.6" cy="864.7" r="6.5"/><circle cx="567.4" cy="872.5" r="6.5"/><circle cx="570.2" cy="875.6" r="6.5"/><circle cx="573" cy="870.3" r="6.5"/><circle cx="575.8" cy="875.2" r="6.5"/><circle cx="578.6" cy="870.3" r="6.5"/><circle cx="581.4" cy="861.3" r="6.5"/><circle cx="584.1" cy="861.9" r="6.5"/><circle cx="586.9" cy="859" r="6.5"/><circle cx="589.7" cy="860.7" r="6.5"/><circle cx="592.5" cy="849.6" r="6.5"/><circle cx="595.3" cy="847.9" r="6.5"/><circle cx="598.1" cy="852.3" r="6.5"/><circle cx="600.9" cy="844.9" r="6.5"/><circle cx="603.6" cy="859.6" r="6.5"/><circle cx="606.4" cy="869.2" r="6.5"/><circle cx="609.2" cy="869.4" r="6.5"/><circle cx="612" cy="865.7" r="6.5"/><circle cx="614.8" cy="855.5" r="6.5"/><circle cx="617.6" cy="864.9" r="6.5"/><circle cx="620.3" cy="877.3" r="6.5"/><circle cx="623.1" cy="871.9" r="6.5"/><circle cx="625.9" cy="874.5" r="6.5"/><circle cx="628.7" cy="875.2" r="6.5"/><circle cx="631.5" cy="879.1" r="6.5"/><circle cx="634.3" cy="886.8" r="6.5"/><circle cx="637.1" cy="889.1" r="6.5"/><circle cx="639.8" cy="875.4" r="6.5"/><circle cx="642.6" cy="882.3" r="6.5"/><circle cx="645.4" cy="875.9" r="6.5"/><circle cx="648.2" cy="888.1" r="6.5"/><circle cx="651" cy="881.4" r="6.5"/><circle cx="653.8" cy="878" r="6.5"/><circle cx="656.6" cy="878.5" r="6.5"/><circle cx="659.3" cy="886.5" r="6.5"/><circle cx="662.1" cy="886.4" r="6.5"/><circle cx="664.9" cy="884" r="6.5"/><circle cx="667.7" cy="896.1" r="6.5"/><circle cx="670.5" cy="918.9" r="6.5"/><circle cx="673.3" cy="919.3" r="6.5"/><circle cx="676" cy="911.4" r="6.5"/><circle cx="678.8" cy="888.5" r="6.5"/><circle cx="681.6" cy="876.7" r="6.5"/><circle cx="684.4" cy="887.6" r="6.5"/><circle cx="687.2" cy="878.9" r="6.5"/><circle cx="690" cy="878.1" r="6.5"/><circle cx="692.8" cy="880.3" r="6.5"/><circle cx="695.5" cy="885.5" r="6.5"/><circle cx="698.3" cy="884.2" r="6.5"/><circle cx="701.1" cy="885.8" r="6.5"/><circle cx="703.9" cy="884.4" r="6.5"/><circle cx="706.7" cy="889.4" r="6.5"/><circle cx="709.5" cy="891.2" r="6.5"/><circle cx="712.3" cy="878.7" r="6.5"/><circle cx="715" cy="874.9" r="6.5"/><circle cx="717.8" cy="882.3" r="6.5"/><circle cx="720.6" cy="884.3" r="6.5"/><circle cx="723.4" cy="896.1" r="6.5"/><circle cx="726.2" cy="893.2" r="6.5"/><circle cx="729" cy="885.1" r="6.5"/><circle cx="731.7" cy="879.6" r="6.5"/><circle cx="734.5" cy="865.1" r="6.5"/><circle cx="737.3" cy="864.8" r="6.5"/><circle cx="740.1" cy="859.5" r="6.5"/><circle cx="742.9" cy="854.4" r="6.5"/><circle cx="745.7" cy="856.6" r="6.5"/><circle cx="748.5" cy="860.3" r="6.5"/><circle cx="751.2" cy="874.4" r="6.5"/><circle cx="754" cy="871.8" r="6.5"/><circle cx="756.8" cy="863" r="6.5"/><circle cx="759.6" cy="864.6" r="6.5"/><circle cx="762.4" cy="874.7" r="6.5"/><circle cx="765.2" cy="872.5" r="6.5"/><circle cx="768" cy="859.8" r="6.5"/><circle cx="770.7" cy="855.7" r="6.5"/><circle cx="773.5" cy="847.1" r="6.5"/><circle cx="776.3" cy="853.3" r="6.5"/><circle cx="779.1" cy="871.1" r="6.5"/><circle cx="781.9" cy="886.3" r="6.5"/><circle cx="784.7" cy="879.7" r="6.5"/><circle cx="787.4" cy="858.2" r="6.5"/><circle cx="790.2" cy="851.6" r="6.5"/><circle cx="793" cy="845.3" r="6.5"/><circle cx="795.8" cy="838.7" r="6.5"/><circle cx="798.6" cy="833.4" r="6.5"/><circle cx="801.4" cy="821.8" r="6.5"/><circle cx="804.2" cy="825.6" r="6.5"/><circle cx="806.9" cy="827.4" r="6.5"/><circle cx="809.7" cy="851.3" r="6.5"/><circle cx="812.5" cy="865.3" r="6.5"/><circle cx="815.3" cy="869.2" r="6.5"/><circle cx="818.1" cy="879.5" r="6.5"/><circle cx="820.9" cy="878.2" r="6.5"/><circle cx="823.7" cy="876.1" r="6.5"/><circle cx="826.4" cy="880.7" r="6.5"/><circle cx="829.2" cy="887.1" r="6.5"/><circle cx="832" cy="884.8" r="6.5"/><circle cx="834.8" cy="885.6" r="6.5"/><circle cx="837.6" cy="899.5" r="6.5"/><circle cx="840.4" cy="908.1" r="6.5"/><circle cx="843.1" cy="919.9" r="6.5"/><circle cx="845.9" cy="936.6" r="6.5"/><circle cx="848.7" cy="951.4" r="6.5"/><circle cx="851.5" cy="937.2" r="6.5"/><circle cx="854.3" cy="921.8" r="6.5"/><circle cx="857.1" cy="918.4" r="6.5"/><circle cx="859.9" cy="931" r="6.5"/><circle cx="862.6" cy="933.1" r="6.5"/><circle cx="865.4" cy="937.7" r="6.5"/><circle cx="868.2" cy="944.3" r="6.5"/><circle cx="871" cy="949.7" r="6.5"/><circle cx="873.8" cy="952.6" r="6.5"/><circle cx="876.6" cy="960.2" r="6.5"/><circle cx="879.4" cy="973.8" r="6.5"/><circle cx="882.1" cy="971.6" r="6.5"/><circle cx="884.9" cy="965.7" r="6.5"/><circle cx="887.7" cy="966.3" r="6.5"/><circle cx="890.5" cy="970.1" r="6.5"/><circle cx="893.3" cy="969.5" r="6.5"/><circle cx="896.1" cy="960.4" r="6.5"/><circle cx="898.8" cy="953.7" r="6.5"/><circle cx="901.6" cy="958.4" r="6.5"/><circle cx="904.4" cy="961.6" r="6.5"/><circle cx="907.2" cy="970.4" r="6.5"/><circle cx="910" cy="970.8" r="6.5"/><circle cx="912.8" cy="955.9" r="6.5"/><circle cx="915.6" cy="945.4" r="6.5"/><circle cx="918.3" cy="940.3" r="6.5"/><circle cx="921.1" cy="951.5" r="6.5"/><circle cx="923.9" cy="959" r="6.5"/><circle cx="926.7" cy="955.7" r="6.5"/><circle cx="929.5" cy="949.3" r="6.5"/><circle cx="932.3" cy="943.6" r="6.5"/><circle cx="935.1" cy="932.8" r="6.5"/><circle cx="937.8" cy="929.4" r="6.5"/><circle cx="940.6" cy="928.7" r="6.5"/><circle cx="943.4" cy="945" r="6.5"/><circle cx="946.2" cy="947.7" r="6.5"/><circle cx="949" cy="938.8" r="6.5"/><circle cx="951.8" cy="932" r="6.5"/><circle cx="954.5" cy="943.1" r="6.5"/><circle cx="957.3" cy="931.3" r="6.5"/><circle cx="960.1" cy="924.5" r="6.5"/><circle cx="962.9" cy="912.3" r="6.5"/><circle cx="965.7" cy="921.1" r="6.5"/><circle cx="968.5" cy="924.4" r="6.5"/><circle cx="971.3" cy="917.9" r="6.5"/><circle cx="974" cy="920.6" r="6.5"/><circle cx="976.8" cy="930.8" r="6.5"/><circle cx="979.6" cy="925.2" r="6.5"/><circle cx="982.4" cy="927.9" r="6.5"/><circle cx="985.2" cy="936.9" r="6.5"/><circle cx="988" cy="928.6" r="6.5"/><circle cx="990.8" cy="926.3" r="6.5"/><circle cx="993.5" cy="933.9" r="6.5"/><circle cx="996.3" cy="940.9" r="6.5"/><circle cx="999.1" cy="927.3" r="6.5"/><circle cx="1001.9" cy="921.4" r="6.5"/><circle cx="1004.7" cy="913.8" r="6.5"/><circle cx="1007.5" cy="922.3" r="6.5"/><circle cx="1010.2" cy="930.4" r="6.5"/><circle cx="1013" cy="935" r="6.5"/><circle cx="1015.8" cy="937.9" r="6.5"/><circle cx="1018.6" cy="934.6" r="6.5"/><circle cx="1021.4" cy="927" r="6.5"/><circle cx="1024.2" cy="922.8" r="6.5"/><circle cx="1027" cy="910.9" r="6.5"/><circle cx="1029.7" cy="904.3" r="6.5"/><circle cx="1032.5" cy="893.7" r="6.5"/><circle cx="1035.3" cy="889.4" r="6.5"/><circle cx="1038.1" cy="897.4" r="6.5"/><circle cx="1040.9" cy="900.5" r="6.5"/><circle cx="1043.7" cy="896.4" r="6.5"/><circle cx="1046.5" cy="887" r="6.5"/><circle cx="1049.2" cy="880.6" r="6.5"/><circle cx="1052" cy="879.5" r="6.5"/><circle cx="1054.8" cy="883.8" r="6.5"/><circle cx="1057.6" cy="890.2" r="6.5"/><circle cx="1060.4" cy="886.7" r="6.5"/><circle cx="1063.2" cy="881.8" r="6.5"/><circle cx="1065.9" cy="881.9" r="6.5"/><circle cx="1068.7" cy="880.9" r="6.5"/><circle cx="1071.5" cy="876.3" r="6.5"/><circle cx="1074.3" cy="864.2" r="6.5"/><circle cx="1077.1" cy="860.2" r="6.5"/><circle cx="1079.9" cy="865.3" r="6.5"/><circle cx="1082.7" cy="850.1" r="6.5"/><circle cx="1085.4" cy="840.8" r="6.5"/><circle cx="1088.2" cy="831.1" r="6.5"/><circle cx="1091" cy="839.5" r="6.5"/><circle cx="1093.8" cy="838.6" r="6.5"/><circle cx="1096.6" cy="851.7" r="6.5"/><circle cx="1099.4" cy="849.3" r="6.5"/><circle cx="1102.2" cy="849.3" r="6.5"/><circle cx="1104.9" cy="838.4" r="6.5"/><circle cx="1107.7" cy="827.5" r="6.5"/><circle cx="1110.5" cy="822.7" r="6.5"/><circle cx="1113.3" cy="818" r="6.5"/><circle cx="1116.1" cy="819.8" r="6.5"/><circle cx="1118.9" cy="826.1" r="6.5"/><circle cx="1121.6" cy="821.1" r="6.5"/><circle cx="1124.4" cy="828.8" r="6.5"/><circle cx="1127.2" cy="826.5" r="6.5"/><circle cx="1130" cy="815" r="6.5"/><circle cx="1132.8" cy="824" r="6.5"/><circle cx="1135.6" cy="827.1" r="6.5"/><circle cx="1138.4" cy="830.9" r="6.5"/><circle cx="1141.1" cy="841.1" r="6.5"/><circle cx="1143.9" cy="855.7" r="6.5"/><circle cx="1146.7" cy="872.1" r="6.5"/><circle cx="1149.5" cy="883" r="6.5"/><circle cx="1152.3" cy="883.9" r="6.5"/><circle cx="1155.1" cy="882.9" r="6.5"/><circle cx="1157.9" cy="881.3" r="6.5"/><circle cx="1160.6" cy="873.1" r="6.5"/><circle cx="1163.4" cy="858" r="6.5"/><circle cx="1166.2" cy="870.9" r="6.5"/><circle cx="1169" cy="885.5" r="6.5"/><circle cx="1171.8" cy="898.1" r="6.5"/><circle cx="1174.6" cy="890.7" r="6.5"/><circle cx="1177.3" cy="880.7" r="6.5"/><circle cx="1180.1" cy="881.1" r="6.5"/><circle cx="1182.9" cy="897" r="6.5"/><circle cx="1185.7" cy="905.6" r="6.5"/><circle cx="1188.5" cy="901.4" r="6.5"/><circle cx="1191.3" cy="903.1" r="6.5"/><circle cx="1194.1" cy="898.5" r="6.5"/><circle cx="1196.8" cy="890.7" r="6.5"/><circle cx="1199.6" cy="884.4" r="6.5"/><circle cx="1202.4" cy="880.7" r="6.5"/><circle cx="1205.2" cy="877.8" r="6.5"/><circle cx="1208" cy="877.8" r="6.5"/><circle cx="1210.8" cy="880.8" r="6.5"/><circle cx="1213.6" cy="880.2" r="6.5"/><circle cx="1216.3" cy="877.9" r="6.5"/><circle cx="1219.1" cy="857.8" r="6.5"/><circle cx="1221.9" cy="848.3" r="6.5"/><circle cx="1224.7" cy="840.3" r="6.5"/><circle cx="1227.5" cy="829.8" r="6.5"/><circle cx="1230.3" cy="821.8" r="6.5"/><circle cx="1233" cy="816.8" r="6.5"/><circle cx="1235.8" cy="809.9" r="6.5"/><circle cx="1238.6" cy="807.6" r="6.5"/><circle cx="1241.4" cy="793.5" r="6.5"/><circle cx="1244.2" cy="781.4" r="6.5"/><circle cx="1247" cy="766.4" r="6.5"/><circle cx="1249.8" cy="771.1" r="6.5"/><circle cx="1252.5" cy="773" r="6.5"/><circle cx="1255.3" cy="761.7" r="6.5"/><circle cx="1258.1" cy="755.4" r="6.5"/><circle cx="1260.9" cy="750.9" r="6.5"/><circle cx="1263.7" cy="746" r="6.5"/><circle cx="1266.5" cy="732.2" r="6.5"/><circle cx="1269.3" cy="730.8" r="6.5"/><circle cx="1272" cy="738.3" r="6.5"/><circle cx="1274.8" cy="727.4" r="6.5"/><circle cx="1277.6" cy="702.9" r="6.5"/><circle cx="1280.4" cy="697.5" r="6.5"/><circle cx="1283.2" cy="712.7" r="6.5"/><circle cx="1286" cy="726.5" r="6.5"/><circle cx="1288.7" cy="717.3" r="6.5"/><circle cx="1291.5" cy="706.4" r="6.5"/><circle cx="1294.3" cy="706.3" r="6.5"/><circle cx="1297.1" cy="718.2" r="6.5"/><circle cx="1299.9" cy="714.4" r="6.5"/><circle cx="1302.7" cy="716.8" r="6.5"/><circle cx="1305.5" cy="743.3" r="6.5"/><circle cx="1308.2" cy="760.5" r="6.5"/><circle cx="1311" cy="774.8" r="6.5"/><circle cx="1313.8" cy="786.8" r="6.5"/><circle cx="1316.6" cy="813.6" r="6.5"/><circle cx="1319.4" cy="827.8" r="6.5"/><circle cx="1322.2" cy="840.1" r="6.5"/><circle cx="1325" cy="850.1" r="6.5"/><circle cx="1327.7" cy="867.8" r="6.5"/><circle cx="1330.5" cy="892.1" r="6.5"/><circle cx="1333.3" cy="909.3" r="6.5"/><circle cx="1336.1" cy="930.1" r="6.5"/><circle cx="1338.9" cy="937.4" r="6.5"/><circle cx="1341.7" cy="945.4" r="6.5"/><circle cx="1344.4" cy="958.9" r="6.5"/><circle cx="1347.2" cy="962.1" r="6.5"/><circle cx="1350" cy="953.8" r="6.5"/><circle cx="1352.8" cy="953.4" r="6.5"/><circle cx="1355.6" cy="962.4" r="6.5"/><circle cx="1358.4" cy="970.7" r="6.5"/><circle cx="1361.2" cy="981.2" r="6.5"/><circle cx="1363.9" cy="977.8" r="6.5"/><circle cx="1366.7" cy="975.5" r="6.5"/><circle cx="1369.5" cy="956.9" r="6.5"/><circle cx="1372.3" cy="957.6" r="6.5"/><circle cx="1375.1" cy="968.8" r="6.5"/><circle cx="1377.9" cy="991.9" r="6.5"/><circle cx="1380.7" cy="1000.1" r="6.5"/><circle cx="1383.4" cy="983.1" r="6.5"/><circle cx="1386.2" cy="973.5" r="6.5"/><circle cx="1389" cy="970.6" r="6.5"/><circle cx="1391.8" cy="979.5" r="6.5"/><circle cx="1394.6" cy="993.1" r="6.5"/><circle cx="1397.4" cy="996.2" r="6.5"/><circle cx="1400.1" cy="998.6" r="6.5"/><circle cx="1402.9" cy="987.5" r="6.5"/><circle cx="1405.7" cy="979.2" r="6.5"/><circle cx="1408.5" cy="975.5" r="6.5"/><circle cx="1411.3" cy="980.7" r="6.5"/><circle cx="1414.1" cy="994.3" r="6.5"/><circle cx="1416.9" cy="995.2" r="6.5"/><circle cx="1419.6" cy="994.2" r="6.5"/><circle cx="1422.4" cy="995.5" r="6.5"/><circle cx="1425.2" cy="982.8" r="6.5"/><circle cx="1428" cy="988.6" r="6.5"/><circle cx="1430.8" cy="990.6" r="6.5"/><circle cx="1433.6" cy="1009.9" r="6.5"/><circle cx="1436.4" cy="1011.6" r="6.5"/><circle cx="1439.1" cy="1002.8" r="6.5"/><circle cx="1441.9" cy="999.1" r="6.5"/><circle cx="1444.7" cy="989.9" r="6.5"/><circle cx="1447.5" cy="980.8" r="6.5"/><circle cx="1450.3" cy="981.7" r="6.5"/><circle cx="1453.1" cy="996.4" r="6.5"/><circle cx="1455.8" cy="991" r="6.5"/><circle cx="1458.6" cy="979.2" r="6.5"/><circle cx="1461.4" cy="986.7" r="6.5"/><circle cx="1464.2" cy="1004.7" r="6.5"/><circle cx="1467" cy="1009.1" r="6.5"/><circle cx="1469.8" cy="1008.2" r="6.5"/><circle cx="1472.6" cy="1016.9" r="6.5"/><circle cx="1475.3" cy="1014.7" r="6.5"/><circle cx="1478.1" cy="1004.4" r="6.5"/><circle cx="1480.9" cy="1000.5" r="6.5"/><circle cx="1483.7" cy="990.2" r="6.5"/><circle cx="1486.5" cy="996.3" r="6.5"/><circle cx="1489.3" cy="987.2" r="6.5"/><circle cx="1492.1" cy="995.1" r="6.5"/><circle cx="1494.8" cy="995" r="6.5"/><circle cx="1497.6" cy="1004.7" r="6.5"/><circle cx="1500.4" cy="992.4" r="6.5"/><circle cx="1503.2" cy="985.1" r="6.5"/><circle cx="1506" cy="978.3" r="6.5"/><circle cx="1508.8" cy="970" r="6.5"/><circle cx="1511.5" cy="973.7" r="6.5"/><circle cx="1514.3" cy="988.4" r="6.5"/><circle cx="1517.1" cy="994" r="6.5"/><circle cx="1519.9" cy="997.4" r="6.5"/><circle cx="1522.7" cy="995.2" r="6.5"/><circle cx="1525.5" cy="987.4" r="6.5"/><circle cx="1528.3" cy="985.5" r="6.5"/><circle cx="1531" cy="992.3" r="6.5"/><circle cx="1533.8" cy="989.4" r="6.5"/><circle cx="1536.6" cy="995" r="6.5"/><circle cx="1539.4" cy="983.2" r="6.5"/><circle cx="1542.2" cy="973.7" r="6.5"/><circle cx="1545" cy="981.1" r="6.5"/><circle cx="1547.8" cy="984.9" r="6.5"/><circle cx="1550.5" cy="983.5" r="6.5"/><circle cx="1553.3" cy="969" r="6.5"/><circle cx="1556.1" cy="975.1" r="6.5"/><circle cx="1558.9" cy="977.4" r="6.5"/><circle cx="1561.7" cy="970.7" r="6.5"/><circle cx="1564.5" cy="967.9" r="6.5"/><circle cx="1567.2" cy="969.2" r="6.5"/><circle cx="1570" cy="979.4" r="6.5"/><circle cx="1572.8" cy="987.2" r="6.5"/><circle cx="1575.6" cy="986.3" r="6.5"/><circle cx="446" cy="900" r="6.5"/><circle cx="627" cy="837" r="6.5"/><circle cx="629" cy="855" r="6.5"/><circle cx="594" cy="889" r="6.5"/><circle cx="416" cy="950" r="6.5"/></g>
<g fill="none" stroke-linejoin="round" stroke-linecap="round">
<path d="M405.9,926.2 L407.9,926.1 L409.9,926.1 L411.9,926 L413.9,925.9 L415.9,925.9 L417.9,925.8 L419.9,925.7 L421.9,925.6 L423.9,925.5 L425.9,925.4 L427.9,925.4 L429.9,925.3 L431.9,925.2 L433.9,925.1 L435.9,925 L437.9,924.9 L439.9,924.8 L441.9,924.6 L443.9,924.5 L445.9,924.4 L447.9,924.3 L449.9,924.2 L451.9,924 L453.9,923.9 L455.9,923.7 L457.9,923.6 L459.9,923.4 L461.9,923.3 L463.9,923.1 L465.9,922.9 L467.9,922.7 L469.9,922.6 L471.9,922.4 L473.9,922.2 L475.9,921.9 L477.9,921.7 L479.9,921.5 L481.9,921.2 L483.9,921 L485.9,920.7 L487.9,920.5 L489.9,920.2 L491.9,919.9 L493.9,919.5 L495.9,919.2 L497.9,918.9 L499.9,918.5 L501.9,918.1 L503.9,917.7 L505.9,917.3 L507.9,916.9 L509.9,916.4 L511.9,915.9 L513.9,915.4 L515.9,914.9 L517.9,914.3 L519.9,913.8 L521.9,913.1 L523.9,912.5 L525.9,911.8 L527.9,911.1 L529.9,910.3 L531.9,909.5 L533.9,908.7 L535.9,907.8 L537.9,906.9 L539.9,905.9 L541.9,904.9 L543.9,903.8 L545.9,902.7 L547.9,901.5 L549.9,900.2 L551.9,898.9 L553.9,897.5 L555.9,896 L557.9,894.5 L559.9,892.9 L561.9,891.2 L563.9,889.5 L565.9,887.7 L567.9,885.9 L569.9,884 L571.9,882 L573.9,880 L575.9,878 L577.9,876 L579.9,874 L581.9,871.9 L583.9,870 L585.9,868.1 L587.9,866.2 L589.9,864.5 L591.9,863 L593.9,861.6 L595.9,860.4 L597.9,859.4 L599.9,858.6 L601.9,858.1 L603.9,857.8 L605.9,857.8 L607.9,858.1 L609.9,858.6 L611.9,859.4 L613.9,860.4 L615.9,861.6 L617.9,863 L619.9,864.5 L621.9,866.2 L623.9,867.9 L625.9,869.8 L627.9,871.7 L629.9,873.6 L631.9,875.5 L633.9,877.4 L635.9,879.3 L637.9,881.2 L639.9,883 L641.9,884.7 L643.9,886.4 L645.9,888 L647.9,889.5 L649.9,891 L651.9,892.4 L653.9,893.7 L655.9,894.9 L657.9,896.1 L659.9,897.1 L661.9,898.1 L663.9,899 L665.9,899.9 L667.9,900.7 L669.9,901.3 L671.9,902 L673.9,902.5 L675.9,903 L677.9,903.4 L679.9,903.7 L681.9,904 L683.9,904.2 L685.9,904.3 L687.9,904.3 L689.9,904.3 L691.9,904.1 L693.9,903.9 L695.9,903.7 L697.9,903.3 L699.9,902.8 L701.9,902.3 L703.9,901.6 L705.9,900.9 L707.9,900.1 L709.9,899.1 L711.9,898 L713.9,896.9 L715.9,895.6 L717.9,894.2 L719.9,892.7 L721.9,891.1 L723.9,889.5 L725.9,887.7 L727.9,885.9 L729.9,884.1 L731.9,882.3 L733.9,880.6 L735.9,878.9 L737.9,877.4 L739.9,876 L741.9,874.9 L743.9,873.9 L745.9,873.2 L747.9,872.8 L749.9,872.6 L751.9,872.7 L753.9,872.9 L755.9,873.3 L757.9,873.8 L759.9,874.2 L761.9,874.7 L763.9,875 L765.9,875.2 L767.9,875.1 L769.9,874.7 L771.9,874 L773.9,872.8 L775.9,871.2 L777.9,869 L779.9,866.3 L781.9,863 L783.9,859.1 L785.9,854.6 L787.9,849.8 L789.9,844.7 L791.9,839.7 L793.9,835.3 L795.9,831.9 L797.9,830 L799.9,830 L801.9,832 L803.9,835.8 L805.9,841.2 L807.9,847.5 L809.9,854.4 L811.9,861.4 L813.9,868.2 L815.9,874.6 L817.9,880.5 L819.9,885.9 L821.9,890.7 L823.9,895 L825.9,898.9 L827.9,902.3 L829.9,905.4 L831.9,908.1 L833.9,910.6 L835.9,912.7 L837.9,914.7 L839.9,916.5 L841.9,918.1 L843.9,919.6 L845.9,920.9 L847.9,922.1 L849.9,923.2 L851.9,924.2 L853.9,925.1 L855.9,926 L857.9,926.8 L859.9,927.5 L861.9,928.2 L863.9,928.8 L865.9,929.4 L867.9,930 L869.9,930.5 L871.9,931 L873.9,931.4 L875.9,931.8 L877.9,932.2 L879.9,932.6 L881.9,933 L883.9,933.3 L885.9,933.6 L887.9,933.9 L889.9,934.2 L891.9,934.4 L893.9,934.7 L895.9,934.9 L897.9,935.1 L899.9,935.3 L901.9,935.5 L903.9,935.7 L905.9,935.9 L907.9,936.1 L909.9,936.2 L911.9,936.4 L913.9,936.5 L915.9,936.6 L917.9,936.8 L919.9,936.9 L921.9,937 L923.9,937.1 L925.9,937.2 L927.9,937.3 L929.9,937.4 L931.9,937.4 L933.9,937.5 L935.9,937.6 L937.9,937.6 L939.9,937.7 L941.9,937.7 L943.9,937.7 L945.9,937.8 L947.9,937.8 L949.9,937.8 L951.9,937.8 L953.9,937.8 L955.9,937.8 L957.9,937.8 L959.9,937.8 L961.9,937.8 L963.9,937.7 L965.9,937.7 L967.9,937.6 L969.9,937.6 L971.9,937.5 L973.9,937.4 L975.9,937.3 L977.9,937.2 L979.9,937.1 L981.9,937 L983.9,936.8 L985.9,936.7 L987.9,936.5 L989.9,936.3 L991.9,936.1 L993.9,935.8 L995.9,935.6 L997.9,935.3 L999.9,935 L1001.9,934.6 L1003.9,934.2 L1005.9,933.8 L1007.9,933.4 L1009.9,932.9 L1011.9,932.3 L1013.9,931.7 L1015.9,931.1 L1017.9,930.4 L1019.9,929.6 L1021.9,928.8 L1023.9,927.9 L1025.9,927 L1027.9,926 L1029.9,924.9 L1031.9,923.7 L1033.9,922.4 L1035.9,921.1 L1037.9,919.6 L1039.9,918.1 L1041.9,916.5 L1043.9,914.8 L1045.9,913 L1047.9,911.1 L1049.9,909.1 L1051.9,907 L1053.9,904.8 L1055.9,902.5 L1057.9,900.1 L1059.9,897.6 L1061.9,895 L1063.9,892.3 L1065.9,889.6 L1067.9,886.8 L1069.9,883.9 L1071.9,881 L1073.9,878 L1075.9,874.9 L1077.9,871.9 L1079.9,868.9 L1081.9,865.8 L1083.9,862.8 L1085.9,859.8 L1087.9,856.9 L1089.9,854.1 L1091.9,851.4 L1093.9,848.9 L1095.9,846.5 L1097.9,844.3 L1099.9,842.4 L1101.9,840.6 L1103.9,839.2 L1105.9,838 L1107.9,837.2 L1109.9,836.6 L1111.9,836.4 L1113.9,836.5 L1115.9,837 L1117.9,837.7 L1119.9,838.8 L1121.9,840.1 L1123.9,841.7 L1125.9,843.6 L1127.9,845.6 L1129.9,847.8 L1131.9,850.2 L1133.9,852.8 L1135.9,855.4 L1137.9,858.1 L1139.9,860.9 L1141.9,863.7 L1143.9,866.5 L1145.9,869.3 L1147.9,872.1 L1149.9,874.8 L1151.9,877.5 L1153.9,880.1 L1155.9,882.7 L1157.9,885.1 L1159.9,887.5 L1161.9,889.7 L1163.9,891.8 L1165.9,893.8 L1167.9,895.7 L1169.9,897.4 L1171.9,899 L1173.9,900.5 L1175.9,901.8 L1177.9,902.9 L1179.9,903.8 L1181.9,904.6 L1183.9,905.3 L1185.9,905.7 L1187.9,905.9 L1189.9,906 L1191.9,905.8 L1193.9,905.5 L1195.9,904.9 L1197.9,904 L1199.9,903 L1201.9,901.6 L1203.9,900 L1205.9,898 L1207.9,895.8 L1209.9,893.2 L1211.9,890.2 L1213.9,886.8 L1215.9,883 L1217.9,878.7 L1219.9,874 L1221.9,868.9 L1223.9,863.3 L1225.9,857.3 L1227.9,851.1 L1229.9,844.6 L1231.9,837.9 L1233.9,831.4 L1235.9,825 L1237.9,819 L1239.9,813.6 L1241.9,808.8 L1243.9,804.6 L1245.9,801.1 L1247.9,798.1 L1249.9,795.5 L1251.9,792.9 L1253.9,790.3 L1255.9,787.4 L1257.9,784.1 L1259.9,780.1 L1261.9,775.6 L1263.9,770.3 L1265.9,764.5 L1267.9,758.2 L1269.9,751.4 L1271.9,744.5 L1273.9,737.5 L1275.9,730.7 L1277.9,724.3 L1279.9,718.6 L1281.9,713.9 L1283.9,710.4 L1285.9,708.3 L1287.9,707.8 L1289.9,709.1 L1291.9,712.1 L1293.9,716.8 L1295.9,723.2 L1297.9,731.1 L1299.9,740.3 L1301.9,750.6 L1303.9,761.7 L1305.9,773.5 L1307.9,785.6 L1309.9,798 L1311.9,810.4 L1313.9,822.6 L1315.9,834.5 L1317.9,846.1 L1319.9,857.1 L1321.9,867.5 L1323.9,877.3 L1325.9,886.3 L1327.9,894.7 L1329.9,902.4 L1331.9,909.4 L1333.9,915.7 L1335.9,921.3 L1337.9,926.4 L1339.9,930.8 L1341.9,934.8 L1343.9,938.2 L1345.9,941.3 L1347.9,943.9 L1349.9,946.2 L1351.9,948.2 L1353.9,950 L1355.9,951.5 L1357.9,952.8 L1359.9,954 L1361.9,955 L1363.9,955.9 L1365.9,956.7 L1367.9,957.4 L1369.9,958.1 L1371.9,958.7 L1373.9,959.2 L1375.9,959.7 L1377.9,960.2 L1379.9,960.6 L1381.9,961 L1383.9,961.3 L1385.9,961.7 L1387.9,962 L1389.9,962.3 L1391.9,962.6 L1393.9,962.8 L1395.9,963.1 L1397.9,963.4 L1399.9,963.6 L1401.9,963.8 L1403.9,964 L1405.9,964.2 L1407.9,964.4 L1409.9,964.6 L1411.9,964.8 L1413.9,965 L1415.9,965.1 L1417.9,965.3 L1419.9,965.5 L1421.9,965.6 L1423.9,965.8 L1425.9,965.9 L1427.9,966 L1429.9,966.2 L1431.9,966.3 L1433.9,966.4 L1435.9,966.5 L1437.9,966.6 L1439.9,966.8 L1441.9,966.9 L1443.9,967 L1445.9,967.1 L1447.9,967.2 L1449.9,967.2 L1451.9,967.3 L1453.9,967.4 L1455.9,967.5 L1457.9,967.6 L1459.9,967.7 L1461.9,967.7 L1463.9,967.8 L1465.9,967.9 L1467.9,968 L1469.9,968 L1471.9,968.1 L1473.9,968.1 L1475.9,968.2 L1477.9,968.3 L1479.9,968.3 L1481.9,968.4 L1483.9,968.4 L1485.9,968.5 L1487.9,968.5 L1489.9,968.6 L1491.9,968.6 L1493.9,968.7 L1495.9,968.7 L1497.9,968.7 L1499.9,968.8 L1501.9,968.8 L1503.9,968.9 L1505.9,968.9 L1507.9,968.9 L1509.9,969 L1511.9,969 L1513.9,969 L1515.9,969.1 L1517.9,969.1 L1519.9,969.1 L1521.9,969.1 L1523.9,969.2 L1525.9,969.2 L1527.9,969.2 L1529.9,969.2 L1531.9,969.2 L1533.9,969.3 L1535.9,969.3 L1537.9,969.3 L1539.9,969.3 L1541.9,969.3 L1543.9,969.3 L1545.9,969.3 L1547.9,969.3 L1549.9,969.3 L1551.9,969.4 L1553.9,969.4 L1555.9,969.4 L1557.9,969.4 L1559.9,969.4 L1561.9,969.4 L1563.9,969.4 L1565.9,969.4 L1567.9,969.4 L1569.9,969.4 L1571.9,969.4 L1573.9,969.4 L1575.9,969.4 L1577.9,969.4 L1578.3,969.4" stroke="#FF0000" stroke-width="5.3"/>
<path d="M405.9,927.3 L407.9,927.3 L409.9,927.2 L411.9,927.1 L413.9,927.1 L415.9,927 L417.9,926.9 L419.9,926.9 L421.9,926.8 L423.9,926.7 L425.9,926.7 L427.9,926.6 L429.9,926.5 L431.9,926.4 L433.9,926.3 L435.9,926.2 L437.9,926.1 L439.9,926 L441.9,925.9 L443.9,925.8 L445.9,925.7 L447.9,925.6 L449.9,925.5 L451.9,925.4 L453.9,925.3 L455.9,925.1 L457.9,925 L459.9,924.9 L461.9,924.7 L463.9,924.6 L465.9,924.4 L467.9,924.2 L469.9,924.1 L471.9,923.9 L473.9,923.7 L475.9,923.5 L477.9,923.3 L479.9,923.1 L481.9,922.9 L483.9,922.6 L485.9,922.4 L487.9,922.1 L489.9,921.9 L491.9,921.6 L493.9,921.3 L495.9,921 L497.9,920.7 L499.9,920.3 L501.9,920 L503.9,919.6 L505.9,919.2 L507.9,918.8 L509.9,918.3 L511.9,917.9 L513.9,917.4 L515.9,916.9 L517.9,916.4 L519.9,915.8 L521.9,915.2 L523.9,914.6 L525.9,913.9 L527.9,913.3 L529.9,912.5 L531.9,911.8 L533.9,911 L535.9,910.1 L537.9,909.2 L539.9,908.3 L541.9,907.3 L543.9,906.2 L545.9,905.1 L547.9,904 L549.9,902.7 L551.9,901.5 L553.9,900.1 L555.9,898.7 L557.9,897.2 L559.9,895.7 L561.9,894.1 L563.9,892.4 L565.9,890.6 L567.9,888.8 L569.9,887 L571.9,885.1 L573.9,883.2 L575.9,881.2 L577.9,879.2 L579.9,877.2 L581.9,875.3 L583.9,873.4 L585.9,871.5 L587.9,869.8 L589.9,868.1 L591.9,866.7 L593.9,865.3 L595.9,864.2 L597.9,863.3 L599.9,862.6 L601.9,862.2 L603.9,862 L605.9,862.1 L607.9,862.5 L609.9,863.1 L611.9,864 L613.9,865.1 L615.9,866.4 L617.9,867.9 L619.9,869.5 L621.9,871.3 L623.9,873.2 L625.9,875.2 L627.9,877.2 L629.9,879.3 L631.9,881.4 L633.9,883.4 L635.9,885.5 L637.9,887.5 L639.9,889.5 L641.9,891.4 L643.9,893.3 L645.9,895.1 L647.9,896.9 L649.9,898.6 L651.9,900.2 L653.9,901.8 L655.9,903.3 L657.9,904.7 L659.9,906.1 L661.9,907.4 L663.9,908.6 L665.9,909.8 L667.9,911 L669.9,912 L671.9,913.1 L673.9,914.1 L675.9,915 L677.9,915.9 L679.9,916.8 L681.9,917.6 L683.9,918.4 L685.9,919.1 L687.9,919.8 L689.9,920.5 L691.9,921.2 L693.9,921.8 L695.9,922.4 L697.9,923 L699.9,923.6 L701.9,924.1 L703.9,924.6 L705.9,925.1 L707.9,925.6 L709.9,926.1 L711.9,926.5 L713.9,926.9 L715.9,927.4 L717.9,927.8 L719.9,928.1 L721.9,928.5 L723.9,928.9 L725.9,929.2 L727.9,929.6 L729.9,929.9 L731.9,930.2 L733.9,930.5 L735.9,930.8 L737.9,931.1 L739.9,931.4 L741.9,931.7 L743.9,932 L745.9,932.2 L747.9,932.5 L749.9,932.7 L751.9,933 L753.9,933.2 L755.9,933.5 L757.9,933.7 L759.9,933.9 L761.9,934.2 L763.9,934.4 L765.9,934.6 L767.9,934.8 L769.9,935.1 L771.9,935.3 L773.9,935.5 L775.9,935.7 L777.9,935.9 L779.9,936.1 L781.9,936.3 L783.9,936.5 L785.9,936.7 L787.9,936.9 L789.9,937.1 L791.9,937.3 L793.9,937.5 L795.9,937.7 L797.9,937.8 L799.9,938 L801.9,938.2 L803.9,938.4 L805.9,938.6 L807.9,938.7 L809.9,938.9 L811.9,939.1 L813.9,939.2 L815.9,939.4 L817.9,939.6 L819.9,939.7 L821.9,939.9 L823.9,940 L825.9,940.2 L827.9,940.4 L829.9,940.5 L831.9,940.7 L833.9,940.8 L835.9,940.9 L837.9,941.1 L839.9,941.2 L841.9,941.4 L843.9,941.5 L845.9,941.6 L847.9,941.7 L849.9,941.9 L851.9,942 L853.9,942.1 L855.9,942.2 L857.9,942.3 L859.9,942.5 L861.9,942.6 L863.9,942.7 L865.9,942.8 L867.9,942.9 L869.9,943 L871.9,943.1 L873.9,943.2 L875.9,943.3 L877.9,943.4 L879.9,943.5 L881.9,943.6 L883.9,943.7 L885.9,943.8 L887.9,943.8 L889.9,943.9 L891.9,944 L893.9,944.1 L895.9,944.2 L897.9,944.3 L899.9,944.4 L901.9,944.5 L903.9,944.5 L905.9,944.6 L907.9,944.7 L909.9,944.8 L911.9,944.9 L913.9,944.9 L915.9,945 L917.9,945.1 L919.9,945.2 L921.9,945.2 L923.9,945.3 L925.9,945.4 L927.9,945.5 L929.9,945.5 L931.9,945.6 L933.9,945.7 L935.9,945.7 L937.9,945.8 L939.9,945.9 L941.9,946 L943.9,946 L945.9,946.1 L947.9,946.2 L949.9,946.2 L951.9,946.3 L953.9,946.4 L955.9,946.4 L957.9,946.5 L959.9,946.6 L961.9,946.7 L963.9,946.7 L965.9,946.8 L967.9,946.9 L969.9,946.9 L971.9,947 L973.9,947.1 L975.9,947.1 L977.9,947.2 L979.9,947.3 L981.9,947.4 L983.9,947.4 L985.9,947.5 L987.9,947.6 L989.9,947.6 L991.9,947.7 L993.9,947.8 L995.9,947.9 L997.9,947.9 L999.9,948 L1001.9,948.1 L1003.9,948.2 L1005.9,948.2 L1007.9,948.3 L1009.9,948.4 L1011.9,948.4 L1013.9,948.5 L1015.9,948.6 L1017.9,948.7 L1019.9,948.7 L1021.9,948.8 L1023.9,948.9 L1025.9,948.9 L1027.9,949 L1029.9,949.1 L1031.9,949.1 L1033.9,949.2 L1035.9,949.3 L1037.9,949.3 L1039.9,949.4 L1041.9,949.5 L1043.9,949.6 L1045.9,949.6 L1047.9,949.7 L1049.9,949.8 L1051.9,949.8 L1053.9,949.9 L1055.9,950 L1057.9,950 L1059.9,950.1 L1061.9,950.2 L1063.9,950.2 L1065.9,950.3 L1067.9,950.4 L1069.9,950.5 L1071.9,950.5 L1073.9,950.6 L1075.9,950.7 L1077.9,950.8 L1079.9,950.8 L1081.9,950.9 L1083.9,951 L1085.9,951 L1087.9,951.1 L1089.9,951.2 L1091.9,951.3 L1093.9,951.4 L1095.9,951.4 L1097.9,951.5 L1099.9,951.6 L1101.9,951.7 L1103.9,951.8 L1105.9,951.8 L1107.9,951.9 L1109.9,952 L1111.9,952.1 L1113.9,952.2 L1115.9,952.3 L1117.9,952.4 L1119.9,952.5 L1121.9,952.6 L1123.9,952.6 L1125.9,952.7 L1127.9,952.8 L1129.9,952.9 L1131.9,953 L1133.9,953.1 L1135.9,953.2 L1137.9,953.3 L1139.9,953.4 L1141.9,953.5 L1143.9,953.6 L1145.9,953.7 L1147.9,953.8 L1149.9,954 L1151.9,954.1 L1153.9,954.2 L1155.9,954.3 L1157.9,954.4 L1159.9,954.5 L1161.9,954.6 L1163.9,954.7 L1165.9,954.9 L1167.9,955 L1169.9,955.1 L1171.9,955.2 L1173.9,955.3 L1175.9,955.5 L1177.9,955.6 L1179.9,955.7 L1181.9,955.9 L1183.9,956 L1185.9,956.1 L1187.9,956.3 L1189.9,956.4 L1191.9,956.5 L1193.9,956.7 L1195.9,956.8 L1197.9,957 L1199.9,957.1 L1201.9,957.3 L1203.9,957.4 L1205.9,957.6 L1207.9,957.7 L1209.9,957.9 L1211.9,958.1 L1213.9,958.2 L1215.9,958.4 L1217.9,958.6 L1219.9,958.7 L1221.9,958.9 L1223.9,959.1 L1225.9,959.3 L1227.9,959.5 L1229.9,959.6 L1231.9,959.8 L1233.9,960 L1235.9,960.2 L1237.9,960.4 L1239.9,960.6 L1241.9,960.8 L1243.9,961 L1245.9,961.3 L1247.9,961.6 L1249.9,961.9 L1251.9,962.2 L1253.9,962.5 L1255.9,962.9 L1257.9,963.3 L1259.9,963.6 L1261.9,964 L1263.9,964.4 L1265.9,964.8 L1267.9,965.2 L1269.9,965.6 L1271.9,966 L1273.9,966.3 L1275.9,966.7 L1277.9,967.1 L1279.9,967.4 L1281.9,967.7 L1283.9,968 L1285.9,968.3 L1287.9,968.6 L1289.9,968.8 L1291.9,969 L1293.9,969.1 L1295.9,969.3 L1297.9,969.4 L1299.9,969.5 L1301.9,969.6 L1303.9,969.7 L1305.9,969.8 L1307.9,969.9 L1309.9,970 L1311.9,970.1 L1313.9,970.2 L1315.9,970.3 L1317.9,970.4 L1319.9,970.5 L1321.9,970.5 L1323.9,970.6 L1325.9,970.7 L1327.9,970.8 L1329.9,970.9 L1331.9,970.9 L1333.9,971 L1335.9,971.1 L1337.9,971.2 L1339.9,971.2 L1341.9,971.3 L1343.9,971.4 L1345.9,971.4 L1347.9,971.5 L1349.9,971.5 L1351.9,971.6 L1353.9,971.7 L1355.9,971.7 L1357.9,971.8 L1359.9,971.8 L1361.9,971.8 L1363.9,971.9 L1365.9,971.9 L1367.9,972 L1369.9,972 L1371.9,972 L1373.9,972 L1375.9,972.1 L1377.9,972.1 L1379.9,972.1 L1381.9,972.1 L1383.9,972.1 L1385.9,972.1 L1387.9,972.1 L1389.9,972.1 L1391.9,972.1 L1393.9,972.1 L1395.9,972.1 L1397.9,972.2 L1399.9,972.2 L1401.9,972.2 L1403.9,972.2 L1405.9,972.2 L1407.9,972.2 L1409.9,972.2 L1411.9,972.2 L1413.9,972.2 L1415.9,972.2 L1417.9,972.2 L1419.9,972.2 L1421.9,972.2 L1423.9,972.2 L1425.9,972.2 L1427.9,972.2 L1429.9,972.2 L1431.9,972.2 L1433.9,972.2 L1435.9,972.2 L1437.9,972.2 L1439.9,972.2 L1441.9,972.2 L1443.9,972.2 L1445.9,972.2 L1447.9,972.2 L1449.9,972.2 L1451.9,972.1 L1453.9,972.1 L1455.9,972.1 L1457.9,972.1 L1459.9,972.1 L1461.9,972.1 L1463.9,972.1 L1465.9,972.1 L1467.9,972.1 L1469.9,972.1 L1471.9,972.1 L1473.9,972.1 L1475.9,972.1 L1477.9,972.1 L1479.9,972.1 L1481.9,972.1 L1483.9,972.1 L1485.9,972.1 L1487.9,972.1 L1489.9,972.1 L1491.9,972.1 L1493.9,972.1 L1495.9,972 L1497.9,972 L1499.9,972 L1501.9,972 L1503.9,972 L1505.9,972 L1507.9,972 L1509.9,972 L1511.9,972 L1513.9,972 L1515.9,971.9 L1517.9,971.9 L1519.9,971.9 L1521.9,971.9 L1523.9,971.9 L1525.9,971.9 L1527.9,971.9 L1529.9,971.8 L1531.9,971.8 L1533.9,971.8 L1535.9,971.8 L1537.9,971.8 L1539.9,971.8 L1541.9,971.7 L1543.9,971.7 L1545.9,971.7 L1547.9,971.7 L1549.9,971.7 L1551.9,971.7 L1553.9,971.6 L1555.9,971.6 L1557.9,971.6 L1559.9,971.6 L1561.9,971.5 L1563.9,971.5 L1565.9,971.5 L1567.9,971.5 L1569.9,971.4 L1571.9,971.4 L1573.9,971.4 L1575.9,971.4 L1577.9,971.3 L1578.3,971.3" stroke="#008000" stroke-width="4"/>
<path d="M405.9,930.9 L407.9,930.9 L409.9,930.9 L411.9,930.9 L413.9,930.9 L415.9,930.9 L417.9,930.9 L419.9,931 L421.9,931 L423.9,931 L425.9,931 L427.9,931 L429.9,931.1 L431.9,931.1 L433.9,931.1 L435.9,931.1 L437.9,931.1 L439.9,931.2 L441.9,931.2 L443.9,931.2 L445.9,931.2 L447.9,931.2 L449.9,931.3 L451.9,931.3 L453.9,931.3 L455.9,931.3 L457.9,931.4 L459.9,931.4 L461.9,931.4 L463.9,931.4 L465.9,931.5 L467.9,931.5 L469.9,931.5 L471.9,931.6 L473.9,931.6 L475.9,931.6 L477.9,931.6 L479.9,931.7 L481.9,931.7 L483.9,931.7 L485.9,931.8 L487.9,931.8 L489.9,931.8 L491.9,931.9 L493.9,931.9 L495.9,931.9 L497.9,932 L499.9,932 L501.9,932 L503.9,932.1 L505.9,932.1 L507.9,932.1 L509.9,932.2 L511.9,932.2 L513.9,932.2 L515.9,932.3 L517.9,932.3 L519.9,932.3 L521.9,932.4 L523.9,932.4 L525.9,932.4 L527.9,932.5 L529.9,932.5 L531.9,932.6 L533.9,932.6 L535.9,932.6 L537.9,932.7 L539.9,932.7 L541.9,932.7 L543.9,932.8 L545.9,932.8 L547.9,932.9 L549.9,932.9 L551.9,932.9 L553.9,933 L555.9,933 L557.9,933.1 L559.9,933.1 L561.9,933.1 L563.9,933.2 L565.9,933.2 L567.9,933.3 L569.9,933.3 L571.9,933.3 L573.9,933.4 L575.9,933.4 L577.9,933.5 L579.9,933.5 L581.9,933.6 L583.9,933.6 L585.9,933.6 L587.9,933.7 L589.9,933.7 L591.9,933.8 L593.9,933.8 L595.9,933.8 L597.9,933.9 L599.9,933.9 L601.9,934 L603.9,934 L605.9,934.1 L607.9,934.1 L609.9,934.2 L611.9,934.2 L613.9,934.2 L615.9,934.3 L617.9,934.3 L619.9,934.4 L621.9,934.4 L623.9,934.5 L625.9,934.5 L627.9,934.6 L629.9,934.6 L631.9,934.7 L633.9,934.8 L635.9,934.8 L637.9,934.9 L639.9,934.9 L641.9,935 L643.9,935 L645.9,935.1 L647.9,935.2 L649.9,935.2 L651.9,935.3 L653.9,935.3 L655.9,935.4 L657.9,935.4 L659.9,935.5 L661.9,935.6 L663.9,935.6 L665.9,935.7 L667.9,935.8 L669.9,935.8 L671.9,935.9 L673.9,935.9 L675.9,936 L677.9,936.1 L679.9,936.1 L681.9,936.2 L683.9,936.3 L685.9,936.3 L687.9,936.4 L689.9,936.5 L691.9,936.5 L693.9,936.6 L695.9,936.7 L697.9,936.7 L699.9,936.8 L701.9,936.9 L703.9,937 L705.9,937 L707.9,937.1 L709.9,937.2 L711.9,937.2 L713.9,937.3 L715.9,937.4 L717.9,937.4 L719.9,937.5 L721.9,937.6 L723.9,937.6 L725.9,937.7 L727.9,937.8 L729.9,937.9 L731.9,937.9 L733.9,938 L735.9,938.1 L737.9,938.1 L739.9,938.2 L741.9,938.3 L743.9,938.4 L745.9,938.4 L747.9,938.5 L749.9,938.6 L751.9,938.6 L753.9,938.7 L755.9,938.8 L757.9,938.9 L759.9,938.9 L761.9,939 L763.9,939.1 L765.9,939.2 L767.9,939.3 L769.9,939.3 L771.9,939.4 L773.9,939.5 L775.9,939.6 L777.9,939.7 L779.9,939.8 L781.9,939.9 L783.9,940 L785.9,940 L787.9,940.1 L789.9,940.2 L791.9,940.3 L793.9,940.4 L795.9,940.5 L797.9,940.6 L799.9,940.7 L801.9,940.8 L803.9,940.9 L805.9,940.9 L807.9,941 L809.9,941.1 L811.9,941.2 L813.9,941.3 L815.9,941.4 L817.9,941.5 L819.9,941.6 L821.9,941.6 L823.9,941.7 L825.9,941.8 L827.9,941.9 L829.9,942 L831.9,942 L833.9,942.1 L835.9,942.2 L837.9,942.3 L839.9,942.3 L841.9,942.4 L843.9,942.5 L845.9,942.5 L847.9,942.6 L849.9,942.6 L851.9,942.7 L853.9,942.8 L855.9,942.8 L857.9,942.9 L859.9,942.9 L861.9,943 L863.9,943 L865.9,943 L867.9,943.1 L869.9,943.1 L871.9,943.2 L873.9,943.2 L875.9,943.2 L877.9,943.3 L879.9,943.3 L881.9,943.3 L883.9,943.3 L885.9,943.4 L887.9,943.4 L889.9,943.4 L891.9,943.4 L893.9,943.5 L895.9,943.5 L897.9,943.5 L899.9,943.5 L901.9,943.5 L903.9,943.5 L905.9,943.5 L907.9,943.5 L909.9,943.5 L911.9,943.5 L913.9,943.5 L915.9,943.5 L917.9,943.5 L919.9,943.5 L921.9,943.5 L923.9,943.5 L925.9,943.5 L927.9,943.5 L929.9,943.5 L931.9,943.5 L933.9,943.4 L935.9,943.4 L937.9,943.4 L939.9,943.4 L941.9,943.3 L943.9,943.3 L945.9,943.3 L947.9,943.2 L949.9,943.2 L951.9,943.1 L953.9,943.1 L955.9,943 L957.9,942.9 L959.9,942.9 L961.9,942.8 L963.9,942.7 L965.9,942.6 L967.9,942.6 L969.9,942.5 L971.9,942.3 L973.9,942.2 L975.9,942.1 L977.9,942 L979.9,941.8 L981.9,941.7 L983.9,941.5 L985.9,941.3 L987.9,941.1 L989.9,940.9 L991.9,940.7 L993.9,940.4 L995.9,940.1 L997.9,939.8 L999.9,939.5 L1001.9,939.2 L1003.9,938.8 L1005.9,938.3 L1007.9,937.9 L1009.9,937.4 L1011.9,936.8 L1013.9,936.2 L1015.9,935.6 L1017.9,934.9 L1019.9,934.2 L1021.9,933.4 L1023.9,932.5 L1025.9,931.5 L1027.9,930.5 L1029.9,929.4 L1031.9,928.3 L1033.9,927 L1035.9,925.7 L1037.9,924.3 L1039.9,922.8 L1041.9,921.2 L1043.9,919.5 L1045.9,917.7 L1047.9,915.9 L1049.9,913.9 L1051.9,911.8 L1053.9,909.7 L1055.9,907.4 L1057.9,905 L1059.9,902.6 L1061.9,900.1 L1063.9,897.4 L1065.9,894.7 L1067.9,892 L1069.9,889.2 L1071.9,886.3 L1073.9,883.4 L1075.9,880.4 L1077.9,877.4 L1079.9,874.4 L1081.9,871.5 L1083.9,868.5 L1085.9,865.6 L1087.9,862.8 L1089.9,860.1 L1091.9,857.5 L1093.9,855.1 L1095.9,852.8 L1097.9,850.7 L1099.9,848.9 L1101.9,847.3 L1103.9,845.9 L1105.9,844.9 L1107.9,844.2 L1109.9,843.8 L1111.9,843.7 L1113.9,844 L1115.9,844.6 L1117.9,845.5 L1119.9,846.7 L1121.9,848.2 L1123.9,850 L1125.9,852.1 L1127.9,854.3 L1129.9,856.8 L1131.9,859.4 L1133.9,862.2 L1135.9,865.1 L1137.9,868.1 L1139.9,871.2 L1141.9,874.3 L1143.9,877.4 L1145.9,880.5 L1147.9,883.7 L1149.9,886.8 L1151.9,889.9 L1153.9,893 L1155.9,896 L1157.9,898.9 L1159.9,901.7 L1161.9,904.5 L1163.9,907.2 L1165.9,909.8 L1167.9,912.4 L1169.9,914.8 L1171.9,917.1 L1173.9,919.4 L1175.9,921.5 L1177.9,923.6 L1179.9,925.5 L1181.9,927.4 L1183.9,929.2 L1185.9,930.9 L1187.9,932.5 L1189.9,934 L1191.9,935.4 L1193.9,936.8 L1195.9,938.1 L1197.9,939.3 L1199.9,940.4 L1201.9,941.5 L1203.9,942.5 L1205.9,943.5 L1207.9,944.4 L1209.9,945.2 L1211.9,946 L1213.9,946.8 L1215.9,947.5 L1217.9,948.2 L1219.9,948.8 L1221.9,949.5 L1223.9,950.1 L1225.9,950.6 L1227.9,951.2 L1229.9,951.7 L1231.9,952.2 L1233.9,952.7 L1235.9,953.1 L1237.9,953.6 L1239.9,954 L1241.9,954.5 L1243.9,954.9 L1245.9,955.3 L1247.9,955.8 L1249.9,956.3 L1251.9,956.8 L1253.9,957.3 L1255.9,957.8 L1257.9,958.3 L1259.9,958.8 L1261.9,959.3 L1263.9,959.8 L1265.9,960.4 L1267.9,960.9 L1269.9,961.4 L1271.9,961.9 L1273.9,962.3 L1275.9,962.8 L1277.9,963.2 L1279.9,963.7 L1281.9,964.1 L1283.9,964.5 L1285.9,964.8 L1287.9,965.2 L1289.9,965.5 L1291.9,965.7 L1293.9,966 L1295.9,966.2 L1297.9,966.3 L1299.9,966.5 L1301.9,966.7 L1303.9,966.8 L1305.9,967 L1307.9,967.2 L1309.9,967.3 L1311.9,967.5 L1313.9,967.6 L1315.9,967.8 L1317.9,967.9 L1319.9,968 L1321.9,968.2 L1323.9,968.3 L1325.9,968.4 L1327.9,968.6 L1329.9,968.7 L1331.9,968.8 L1333.9,968.9 L1335.9,969 L1337.9,969.1 L1339.9,969.2 L1341.9,969.3 L1343.9,969.4 L1345.9,969.5 L1347.9,969.6 L1349.9,969.7 L1351.9,969.8 L1353.9,969.9 L1355.9,970 L1357.9,970.1 L1359.9,970.1 L1361.9,970.2 L1363.9,970.3 L1365.9,970.3 L1367.9,970.4 L1369.9,970.5 L1371.9,970.5 L1373.9,970.6 L1375.9,970.6 L1377.9,970.6 L1379.9,970.7 L1381.9,970.7 L1383.9,970.8 L1385.9,970.8 L1387.9,970.8 L1389.9,970.8 L1391.9,970.9 L1393.9,970.9 L1395.9,970.9 L1397.9,970.9 L1399.9,970.9 L1401.9,971 L1403.9,971 L1405.9,971 L1407.9,971 L1409.9,971 L1411.9,971.1 L1413.9,971.1 L1415.9,971.1 L1417.9,971.1 L1419.9,971.1 L1421.9,971.1 L1423.9,971.2 L1425.9,971.2 L1427.9,971.2 L1429.9,971.2 L1431.9,971.2 L1433.9,971.2 L1435.9,971.2 L1437.9,971.2 L1439.9,971.3 L1441.9,971.3 L1443.9,971.3 L1445.9,971.3 L1447.9,971.3 L1449.9,971.3 L1451.9,971.3 L1453.9,971.3 L1455.9,971.3 L1457.9,971.3 L1459.9,971.4 L1461.9,971.4 L1463.9,971.4 L1465.9,971.4 L1467.9,971.4 L1469.9,971.4 L1471.9,971.4 L1473.9,971.4 L1475.9,971.4 L1477.9,971.4 L1479.9,971.4 L1481.9,971.4 L1483.9,971.4 L1485.9,971.4 L1487.9,971.4 L1489.9,971.4 L1491.9,971.4 L1493.9,971.4 L1495.9,971.4 L1497.9,971.4 L1499.9,971.4 L1501.9,971.4 L1503.9,971.4 L1505.9,971.4 L1507.9,971.4 L1509.9,971.4 L1511.9,971.4 L1513.9,971.4 L1515.9,971.4 L1517.9,971.4 L1519.9,971.4 L1521.9,971.4 L1523.9,971.4 L1525.9,971.3 L1527.9,971.3 L1529.9,971.3 L1531.9,971.3 L1533.9,971.3 L1535.9,971.3 L1537.9,971.3 L1539.9,971.3 L1541.9,971.3 L1543.9,971.3 L1545.9,971.2 L1547.9,971.2 L1549.9,971.2 L1551.9,971.2 L1553.9,971.2 L1555.9,971.2 L1557.9,971.1 L1559.9,971.1 L1561.9,971.1 L1563.9,971.1 L1565.9,971.1 L1567.9,971.1 L1569.9,971 L1571.9,971 L1573.9,971 L1575.9,971 L1577.9,970.9 L1578.3,970.9" stroke="#008000" stroke-width="4"/>
<path d="M405.9,930.9 L407.9,930.9 L409.9,930.9 L411.9,930.9 L413.9,930.9 L415.9,931 L417.9,931 L419.9,931 L421.9,931 L423.9,931 L425.9,931 L427.9,931.1 L429.9,931.1 L431.9,931.1 L433.9,931.1 L435.9,931.1 L437.9,931.2 L439.9,931.2 L441.9,931.2 L443.9,931.2 L445.9,931.2 L447.9,931.3 L449.9,931.3 L451.9,931.3 L453.9,931.3 L455.9,931.4 L457.9,931.4 L459.9,931.4 L461.9,931.4 L463.9,931.4 L465.9,931.5 L467.9,931.5 L469.9,931.5 L471.9,931.6 L473.9,931.6 L475.9,931.6 L477.9,931.6 L479.9,931.7 L481.9,931.7 L483.9,931.7 L485.9,931.7 L487.9,931.8 L489.9,931.8 L491.9,931.8 L493.9,931.9 L495.9,931.9 L497.9,931.9 L499.9,932 L501.9,932 L503.9,932 L505.9,932 L507.9,932.1 L509.9,932.1 L511.9,932.1 L513.9,932.2 L515.9,932.2 L517.9,932.2 L519.9,932.3 L521.9,932.3 L523.9,932.3 L525.9,932.4 L527.9,932.4 L529.9,932.4 L531.9,932.5 L533.9,932.5 L535.9,932.5 L537.9,932.6 L539.9,932.6 L541.9,932.6 L543.9,932.7 L545.9,932.7 L547.9,932.7 L549.9,932.8 L551.9,932.8 L553.9,932.8 L555.9,932.9 L557.9,932.9 L559.9,932.9 L561.9,933 L563.9,933 L565.9,933 L567.9,933.1 L569.9,933.1 L571.9,933.1 L573.9,933.2 L575.9,933.2 L577.9,933.2 L579.9,933.3 L581.9,933.3 L583.9,933.3 L585.9,933.4 L587.9,933.4 L589.9,933.4 L591.9,933.5 L593.9,933.5 L595.9,933.5 L597.9,933.5 L599.9,933.6 L601.9,933.6 L603.9,933.6 L605.9,933.7 L607.9,933.7 L609.9,933.7 L611.9,933.8 L613.9,933.8 L615.9,933.8 L617.9,933.9 L619.9,933.9 L621.9,933.9 L623.9,934 L625.9,934 L627.9,934 L629.9,934 L631.9,934.1 L633.9,934.1 L635.9,934.1 L637.9,934.2 L639.9,934.2 L641.9,934.2 L643.9,934.3 L645.9,934.3 L647.9,934.3 L649.9,934.3 L651.9,934.4 L653.9,934.4 L655.9,934.4 L657.9,934.4 L659.9,934.5 L661.9,934.5 L663.9,934.5 L665.9,934.5 L667.9,934.5 L669.9,934.5 L671.9,934.5 L673.9,934.6 L675.9,934.6 L677.9,934.6 L679.9,934.6 L681.9,934.6 L683.9,934.6 L685.9,934.5 L687.9,934.5 L689.9,934.5 L691.9,934.5 L693.9,934.5 L695.9,934.4 L697.9,934.4 L699.9,934.3 L701.9,934.3 L703.9,934.2 L705.9,934.2 L707.9,934.1 L709.9,934 L711.9,933.9 L713.9,933.8 L715.9,933.7 L717.9,933.6 L719.9,933.4 L721.9,933.2 L723.9,933.1 L725.9,932.9 L727.9,932.6 L729.9,932.4 L731.9,932.1 L733.9,931.8 L735.9,931.5 L737.9,931.1 L739.9,930.7 L741.9,930.3 L743.9,929.8 L745.9,929.2 L747.9,928.6 L749.9,927.9 L751.9,927.1 L753.9,926.3 L755.9,925.3 L757.9,924.2 L759.9,923 L761.9,921.6 L763.9,920 L765.9,918.3 L767.9,916.3 L769.9,914 L771.9,911.4 L773.9,908.5 L775.9,905.1 L777.9,901.3 L779.9,897.1 L781.9,892.3 L783.9,887 L785.9,881.2 L787.9,875.1 L789.9,868.9 L791.9,862.8 L793.9,857.4 L795.9,853.1 L797.9,850.3 L799.9,849.5 L801.9,850.8 L803.9,853.9 L805.9,858.6 L807.9,864.3 L809.9,870.6 L811.9,877 L813.9,883.3 L815.9,889.2 L817.9,894.7 L819.9,899.6 L821.9,904 L823.9,908 L825.9,911.5 L827.9,914.6 L829.9,917.3 L831.9,919.8 L833.9,922 L835.9,923.9 L837.9,925.6 L839.9,927.2 L841.9,928.5 L843.9,929.8 L845.9,930.9 L847.9,932 L849.9,932.9 L851.9,933.7 L853.9,934.5 L855.9,935.2 L857.9,935.9 L859.9,936.5 L861.9,937 L863.9,937.6 L865.9,938 L867.9,938.5 L869.9,938.9 L871.9,939.3 L873.9,939.7 L875.9,940 L877.9,940.3 L879.9,940.6 L881.9,940.9 L883.9,941.2 L885.9,941.4 L887.9,941.7 L889.9,941.9 L891.9,942.2 L893.9,942.4 L895.9,942.6 L897.9,942.8 L899.9,942.9 L901.9,943.1 L903.9,943.3 L905.9,943.5 L907.9,943.6 L909.9,943.8 L911.9,943.9 L913.9,944.1 L915.9,944.2 L917.9,944.3 L919.9,944.5 L921.9,944.6 L923.9,944.7 L925.9,944.8 L927.9,945 L929.9,945.1 L931.9,945.2 L933.9,945.3 L935.9,945.4 L937.9,945.5 L939.9,945.6 L941.9,945.7 L943.9,945.8 L945.9,945.9 L947.9,946 L949.9,946.1 L951.9,946.2 L953.9,946.3 L955.9,946.4 L957.9,946.5 L959.9,946.5 L961.9,946.6 L963.9,946.7 L965.9,946.8 L967.9,946.9 L969.9,947 L971.9,947 L973.9,947.1 L975.9,947.2 L977.9,947.3 L979.9,947.4 L981.9,947.5 L983.9,947.5 L985.9,947.6 L987.9,947.7 L989.9,947.8 L991.9,947.9 L993.9,947.9 L995.9,948 L997.9,948.1 L999.9,948.2 L1001.9,948.3 L1003.9,948.3 L1005.9,948.4 L1007.9,948.5 L1009.9,948.6 L1011.9,948.6 L1013.9,948.7 L1015.9,948.8 L1017.9,948.9 L1019.9,948.9 L1021.9,949 L1023.9,949.1 L1025.9,949.2 L1027.9,949.2 L1029.9,949.3 L1031.9,949.4 L1033.9,949.5 L1035.9,949.5 L1037.9,949.6 L1039.9,949.7 L1041.9,949.7 L1043.9,949.8 L1045.9,949.9 L1047.9,949.9 L1049.9,950 L1051.9,950.1 L1053.9,950.2 L1055.9,950.2 L1057.9,950.3 L1059.9,950.4 L1061.9,950.4 L1063.9,950.5 L1065.9,950.6 L1067.9,950.7 L1069.9,950.7 L1071.9,950.8 L1073.9,950.9 L1075.9,950.9 L1077.9,951 L1079.9,951.1 L1081.9,951.2 L1083.9,951.2 L1085.9,951.3 L1087.9,951.4 L1089.9,951.5 L1091.9,951.6 L1093.9,951.6 L1095.9,951.7 L1097.9,951.8 L1099.9,951.9 L1101.9,952 L1103.9,952 L1105.9,952.1 L1107.9,952.2 L1109.9,952.3 L1111.9,952.4 L1113.9,952.5 L1115.9,952.5 L1117.9,952.6 L1119.9,952.7 L1121.9,952.8 L1123.9,952.9 L1125.9,953 L1127.9,953.1 L1129.9,953.2 L1131.9,953.3 L1133.9,953.4 L1135.9,953.5 L1137.9,953.6 L1139.9,953.7 L1141.9,953.8 L1143.9,953.9 L1145.9,954 L1147.9,954.1 L1149.9,954.2 L1151.9,954.3 L1153.9,954.4 L1155.9,954.5 L1157.9,954.6 L1159.9,954.8 L1161.9,954.9 L1163.9,955 L1165.9,955.1 L1167.9,955.2 L1169.9,955.3 L1171.9,955.5 L1173.9,955.6 L1175.9,955.7 L1177.9,955.8 L1179.9,956 L1181.9,956.1 L1183.9,956.2 L1185.9,956.4 L1187.9,956.5 L1189.9,956.6 L1191.9,956.8 L1193.9,956.9 L1195.9,957.1 L1197.9,957.2 L1199.9,957.4 L1201.9,957.5 L1203.9,957.7 L1205.9,957.8 L1207.9,958 L1209.9,958.1 L1211.9,958.3 L1213.9,958.5 L1215.9,958.6 L1217.9,958.8 L1219.9,959 L1221.9,959.1 L1223.9,959.3 L1225.9,959.5 L1227.9,959.7 L1229.9,959.9 L1231.9,960 L1233.9,960.2 L1235.9,960.4 L1237.9,960.6 L1239.9,960.8 L1241.9,961 L1243.9,961.3 L1245.9,961.5 L1247.9,961.8 L1249.9,962.1 L1251.9,962.4 L1253.9,962.8 L1255.9,963.1 L1257.9,963.5 L1259.9,963.8 L1261.9,964.2 L1263.9,964.6 L1265.9,965 L1267.9,965.4 L1269.9,965.8 L1271.9,966.2 L1273.9,966.5 L1275.9,966.9 L1277.9,967.3 L1279.9,967.6 L1281.9,967.9 L1283.9,968.2 L1285.9,968.5 L1287.9,968.8 L1289.9,969 L1291.9,969.2 L1293.9,969.3 L1295.9,969.5 L1297.9,969.6 L1299.9,969.7 L1301.9,969.8 L1303.9,969.9 L1305.9,970 L1307.9,970.1 L1309.9,970.2 L1311.9,970.3 L1313.9,970.4 L1315.9,970.5 L1317.9,970.5 L1319.9,970.6 L1321.9,970.7 L1323.9,970.8 L1325.9,970.9 L1327.9,971 L1329.9,971 L1331.9,971.1 L1333.9,971.2 L1335.9,971.3 L1337.9,971.3 L1339.9,971.4 L1341.9,971.5 L1343.9,971.5 L1345.9,971.6 L1347.9,971.7 L1349.9,971.7 L1351.9,971.8 L1353.9,971.8 L1355.9,971.9 L1357.9,971.9 L1359.9,972 L1361.9,972 L1363.9,972 L1365.9,972.1 L1367.9,972.1 L1369.9,972.1 L1371.9,972.2 L1373.9,972.2 L1375.9,972.2 L1377.9,972.2 L1379.9,972.3 L1381.9,972.3 L1383.9,972.3 L1385.9,972.3 L1387.9,972.3 L1389.9,972.3 L1391.9,972.3 L1393.9,972.3 L1395.9,972.3 L1397.9,972.3 L1399.9,972.3 L1401.9,972.3 L1403.9,972.3 L1405.9,972.3 L1407.9,972.3 L1409.9,972.3 L1411.9,972.3 L1413.9,972.3 L1415.9,972.3 L1417.9,972.3 L1419.9,972.3 L1421.9,972.3 L1423.9,972.3 L1425.9,972.3 L1427.9,972.3 L1429.9,972.3 L1431.9,972.3 L1433.9,972.3 L1435.9,972.3 L1437.9,972.3 L1439.9,972.3 L1441.9,972.3 L1443.9,972.3 L1445.9,972.3 L1447.9,972.3 L1449.9,972.3 L1451.9,972.3 L1453.9,972.3 L1455.9,972.3 L1457.9,972.3 L1459.9,972.3 L1461.9,972.3 L1463.9,972.3 L1465.9,972.3 L1467.9,972.3 L1469.9,972.3 L1471.9,972.3 L1473.9,972.2 L1475.9,972.2 L1477.9,972.2 L1479.9,972.2 L1481.9,972.2 L1483.9,972.2 L1485.9,972.2 L1487.9,972.2 L1489.9,972.2 L1491.9,972.2 L1493.9,972.2 L1495.9,972.2 L1497.9,972.2 L1499.9,972.2 L1501.9,972.1 L1503.9,972.1 L1505.9,972.1 L1507.9,972.1 L1509.9,972.1 L1511.9,972.1 L1513.9,972.1 L1515.9,972.1 L1517.9,972.1 L1519.9,972 L1521.9,972 L1523.9,972 L1525.9,972 L1527.9,972 L1529.9,972 L1531.9,972 L1533.9,971.9 L1535.9,971.9 L1537.9,971.9 L1539.9,971.9 L1541.9,971.9 L1543.9,971.8 L1545.9,971.8 L1547.9,971.8 L1549.9,971.8 L1551.9,971.8 L1553.9,971.7 L1555.9,971.7 L1557.9,971.7 L1559.9,971.7 L1561.9,971.7 L1563.9,971.6 L1565.9,971.6 L1567.9,971.6 L1569.9,971.6 L1571.9,971.5 L1573.9,971.5 L1575.9,971.5 L1577.9,971.5 L1578.3,971.4" stroke="#FF00FF" stroke-width="4"/>
<path d="M405.9,931 L407.9,931.1 L409.9,931.1 L411.9,931.1 L413.9,931.1 L415.9,931.1 L417.9,931.1 L419.9,931.2 L421.9,931.2 L423.9,931.2 L425.9,931.2 L427.9,931.2 L429.9,931.3 L431.9,931.3 L433.9,931.3 L435.9,931.3 L437.9,931.3 L439.9,931.4 L441.9,931.4 L443.9,931.4 L445.9,931.4 L447.9,931.5 L449.9,931.5 L451.9,931.5 L453.9,931.5 L455.9,931.6 L457.9,931.6 L459.9,931.6 L461.9,931.6 L463.9,931.7 L465.9,931.7 L467.9,931.7 L469.9,931.8 L471.9,931.8 L473.9,931.8 L475.9,931.8 L477.9,931.9 L479.9,931.9 L481.9,931.9 L483.9,932 L485.9,932 L487.9,932 L489.9,932.1 L491.9,932.1 L493.9,932.1 L495.9,932.2 L497.9,932.2 L499.9,932.2 L501.9,932.3 L503.9,932.3 L505.9,932.3 L507.9,932.4 L509.9,932.4 L511.9,932.5 L513.9,932.5 L515.9,932.5 L517.9,932.6 L519.9,932.6 L521.9,932.6 L523.9,932.7 L525.9,932.7 L527.9,932.8 L529.9,932.8 L531.9,932.8 L533.9,932.9 L535.9,932.9 L537.9,933 L539.9,933 L541.9,933 L543.9,933.1 L545.9,933.1 L547.9,933.2 L549.9,933.2 L551.9,933.2 L553.9,933.3 L555.9,933.3 L557.9,933.4 L559.9,933.4 L561.9,933.5 L563.9,933.5 L565.9,933.5 L567.9,933.6 L569.9,933.6 L571.9,933.7 L573.9,933.7 L575.9,933.8 L577.9,933.8 L579.9,933.8 L581.9,933.9 L583.9,933.9 L585.9,934 L587.9,934 L589.9,934.1 L591.9,934.1 L593.9,934.2 L595.9,934.2 L597.9,934.3 L599.9,934.3 L601.9,934.3 L603.9,934.4 L605.9,934.4 L607.9,934.5 L609.9,934.5 L611.9,934.6 L613.9,934.6 L615.9,934.7 L617.9,934.7 L619.9,934.8 L621.9,934.8 L623.9,934.9 L625.9,935 L627.9,935 L629.9,935.1 L631.9,935.1 L633.9,935.2 L635.9,935.2 L637.9,935.3 L639.9,935.4 L641.9,935.4 L643.9,935.5 L645.9,935.5 L647.9,935.6 L649.9,935.7 L651.9,935.7 L653.9,935.8 L655.9,935.9 L657.9,935.9 L659.9,936 L661.9,936.1 L663.9,936.1 L665.9,936.2 L667.9,936.3 L669.9,936.3 L671.9,936.4 L673.9,936.5 L675.9,936.5 L677.9,936.6 L679.9,936.7 L681.9,936.7 L683.9,936.8 L685.9,936.9 L687.9,937 L689.9,937 L691.9,937.1 L693.9,937.2 L695.9,937.2 L697.9,937.3 L699.9,937.4 L701.9,937.5 L703.9,937.5 L705.9,937.6 L707.9,937.7 L709.9,937.8 L711.9,937.8 L713.9,937.9 L715.9,938 L717.9,938.1 L719.9,938.2 L721.9,938.2 L723.9,938.3 L725.9,938.4 L727.9,938.5 L729.9,938.5 L731.9,938.6 L733.9,938.7 L735.9,938.8 L737.9,938.9 L739.9,938.9 L741.9,939 L743.9,939.1 L745.9,939.2 L747.9,939.3 L749.9,939.3 L751.9,939.4 L753.9,939.5 L755.9,939.6 L757.9,939.7 L759.9,939.7 L761.9,939.8 L763.9,939.9 L765.9,940 L767.9,940.1 L769.9,940.2 L771.9,940.3 L773.9,940.4 L775.9,940.5 L777.9,940.6 L779.9,940.7 L781.9,940.8 L783.9,940.9 L785.9,941 L787.9,941.1 L789.9,941.2 L791.9,941.3 L793.9,941.4 L795.9,941.5 L797.9,941.6 L799.9,941.7 L801.9,941.8 L803.9,941.9 L805.9,942 L807.9,942.1 L809.9,942.2 L811.9,942.3 L813.9,942.4 L815.9,942.5 L817.9,942.6 L819.9,942.8 L821.9,942.9 L823.9,943 L825.9,943.1 L827.9,943.1 L829.9,943.2 L831.9,943.3 L833.9,943.4 L835.9,943.5 L837.9,943.6 L839.9,943.7 L841.9,943.8 L843.9,943.9 L845.9,944 L847.9,944.1 L849.9,944.1 L851.9,944.2 L853.9,944.3 L855.9,944.4 L857.9,944.5 L859.9,944.5 L861.9,944.6 L863.9,944.7 L865.9,944.7 L867.9,944.8 L869.9,944.9 L871.9,945 L873.9,945 L875.9,945.1 L877.9,945.1 L879.9,945.2 L881.9,945.3 L883.9,945.3 L885.9,945.4 L887.9,945.5 L889.9,945.5 L891.9,945.6 L893.9,945.6 L895.9,945.7 L897.9,945.8 L899.9,945.8 L901.9,945.9 L903.9,945.9 L905.9,946 L907.9,946 L909.9,946.1 L911.9,946.1 L913.9,946.2 L915.9,946.3 L917.9,946.3 L919.9,946.4 L921.9,946.4 L923.9,946.5 L925.9,946.5 L927.9,946.6 L929.9,946.6 L931.9,946.7 L933.9,946.7 L935.9,946.8 L937.9,946.8 L939.9,946.9 L941.9,946.9 L943.9,947 L945.9,947 L947.9,947.1 L949.9,947.1 L951.9,947.2 L953.9,947.2 L955.9,947.3 L957.9,947.3 L959.9,947.4 L961.9,947.4 L963.9,947.5 L965.9,947.5 L967.9,947.6 L969.9,947.6 L971.9,947.7 L973.9,947.7 L975.9,947.8 L977.9,947.8 L979.9,947.9 L981.9,947.9 L983.9,948 L985.9,948 L987.9,948.1 L989.9,948.1 L991.9,948.2 L993.9,948.3 L995.9,948.3 L997.9,948.4 L999.9,948.4 L1001.9,948.5 L1003.9,948.5 L1005.9,948.6 L1007.9,948.6 L1009.9,948.7 L1011.9,948.8 L1013.9,948.8 L1015.9,948.9 L1017.9,948.9 L1019.9,949 L1021.9,949 L1023.9,949.1 L1025.9,949.1 L1027.9,949.2 L1029.9,949.2 L1031.9,949.3 L1033.9,949.3 L1035.9,949.4 L1037.9,949.4 L1039.9,949.5 L1041.9,949.5 L1043.9,949.6 L1045.9,949.6 L1047.9,949.7 L1049.9,949.7 L1051.9,949.8 L1053.9,949.8 L1055.9,949.9 L1057.9,949.9 L1059.9,949.9 L1061.9,950 L1063.9,950 L1065.9,950.1 L1067.9,950.1 L1069.9,950.2 L1071.9,950.2 L1073.9,950.3 L1075.9,950.3 L1077.9,950.4 L1079.9,950.4 L1081.9,950.5 L1083.9,950.5 L1085.9,950.6 L1087.9,950.6 L1089.9,950.7 L1091.9,950.7 L1093.9,950.8 L1095.9,950.8 L1097.9,950.9 L1099.9,950.9 L1101.9,951 L1103.9,951 L1105.9,951.1 L1107.9,951.1 L1109.9,951.2 L1111.9,951.2 L1113.9,951.3 L1115.9,951.3 L1117.9,951.4 L1119.9,951.4 L1121.9,951.5 L1123.9,951.5 L1125.9,951.6 L1127.9,951.6 L1129.9,951.6 L1131.9,951.7 L1133.9,951.7 L1135.9,951.8 L1137.9,951.8 L1139.9,951.9 L1141.9,951.9 L1143.9,952 L1145.9,952 L1147.9,952 L1149.9,952.1 L1151.9,952.1 L1153.9,952.2 L1155.9,952.2 L1157.9,952.2 L1159.9,952.3 L1161.9,952.3 L1163.9,952.3 L1165.9,952.3 L1167.9,952.4 L1169.9,952.4 L1171.9,952.4 L1173.9,952.4 L1175.9,952.4 L1177.9,952.4 L1179.9,952.4 L1181.9,952.4 L1183.9,952.4 L1185.9,952.4 L1187.9,952.4 L1189.9,952.3 L1191.9,952.3 L1193.9,952.2 L1195.9,952.2 L1197.9,952.1 L1199.9,952 L1201.9,951.9 L1203.9,951.7 L1205.9,951.6 L1207.9,951.4 L1209.9,951.1 L1211.9,950.8 L1213.9,950.5 L1215.9,950.1 L1217.9,949.5 L1219.9,948.9 L1221.9,948.2 L1223.9,947.3 L1225.9,946.2 L1227.9,944.9 L1229.9,943.4 L1231.9,941.6 L1233.9,939.4 L1235.9,936.9 L1237.9,934 L1239.9,930.6 L1241.9,926.7 L1243.9,922.2 L1245.9,917.2 L1247.9,911.6 L1249.9,905.4 L1251.9,898.5 L1253.9,891 L1255.9,882.8 L1257.9,873.9 L1259.9,864.5 L1261.9,854.5 L1263.9,844.1 L1265.9,833.3 L1267.9,822.3 L1269.9,811.3 L1271.9,800.3 L1273.9,789.5 L1275.9,779.3 L1277.9,769.8 L1279.9,761.2 L1281.9,753.8 L1283.9,747.8 L1285.9,743.5 L1287.9,741 L1289.9,740.3 L1291.9,741.6 L1293.9,744.7 L1295.9,749.6 L1297.9,756.1 L1299.9,764.1 L1301.9,773.2 L1303.9,783.3 L1305.9,794 L1307.9,805.3 L1309.9,816.8 L1311.9,828.3 L1313.9,839.8 L1315.9,851 L1317.9,861.9 L1319.9,872.3 L1321.9,882.1 L1323.9,891.3 L1325.9,899.9 L1327.9,907.8 L1329.9,915 L1331.9,921.5 L1333.9,927.4 L1335.9,932.7 L1337.9,937.4 L1339.9,941.5 L1341.9,945.1 L1343.9,948.2 L1345.9,951 L1347.9,953.3 L1349.9,955.3 L1351.9,957.1 L1353.9,958.6 L1355.9,959.9 L1357.9,961 L1359.9,961.9 L1361.9,962.7 L1363.9,963.5 L1365.9,964.1 L1367.9,964.6 L1369.9,965.1 L1371.9,965.5 L1373.9,965.9 L1375.9,966.2 L1377.9,966.5 L1379.9,966.8 L1381.9,967.1 L1383.9,967.3 L1385.9,967.5 L1387.9,967.7 L1389.9,967.9 L1391.9,968 L1393.9,968.2 L1395.9,968.3 L1397.9,968.5 L1399.9,968.6 L1401.9,968.7 L1403.9,968.9 L1405.9,969 L1407.9,969.1 L1409.9,969.2 L1411.9,969.3 L1413.9,969.4 L1415.9,969.5 L1417.9,969.6 L1419.9,969.6 L1421.9,969.7 L1423.9,969.8 L1425.9,969.9 L1427.9,969.9 L1429.9,970 L1431.9,970.1 L1433.9,970.1 L1435.9,970.2 L1437.9,970.2 L1439.9,970.3 L1441.9,970.3 L1443.9,970.4 L1445.9,970.4 L1447.9,970.5 L1449.9,970.5 L1451.9,970.6 L1453.9,970.6 L1455.9,970.6 L1457.9,970.7 L1459.9,970.7 L1461.9,970.8 L1463.9,970.8 L1465.9,970.8 L1467.9,970.8 L1469.9,970.9 L1471.9,970.9 L1473.9,970.9 L1475.9,970.9 L1477.9,971 L1479.9,971 L1481.9,971 L1483.9,971 L1485.9,971 L1487.9,971.1 L1489.9,971.1 L1491.9,971.1 L1493.9,971.1 L1495.9,971.1 L1497.9,971.1 L1499.9,971.1 L1501.9,971.1 L1503.9,971.2 L1505.9,971.2 L1507.9,971.2 L1509.9,971.2 L1511.9,971.2 L1513.9,971.2 L1515.9,971.2 L1517.9,971.2 L1519.9,971.2 L1521.9,971.2 L1523.9,971.2 L1525.9,971.2 L1527.9,971.2 L1529.9,971.2 L1531.9,971.2 L1533.9,971.2 L1535.9,971.2 L1537.9,971.2 L1539.9,971.2 L1541.9,971.2 L1543.9,971.2 L1545.9,971.2 L1547.9,971.1 L1549.9,971.1 L1551.9,971.1 L1553.9,971.1 L1555.9,971.1 L1557.9,971.1 L1559.9,971.1 L1561.9,971.1 L1563.9,971.1 L1565.9,971 L1567.9,971 L1569.9,971 L1571.9,971 L1573.9,971 L1575.9,970.9 L1577.9,970.9 L1578.3,970.9" stroke="#FF00FF" stroke-width="4"/>
<path d="M405.9,930.6 L407.9,930.6 L409.9,930.7 L411.9,930.7 L413.9,930.7 L415.9,930.7 L417.9,930.7 L419.9,930.7 L421.9,930.7 L423.9,930.7 L425.9,930.7 L427.9,930.8 L429.9,930.8 L431.9,930.8 L433.9,930.8 L435.9,930.8 L437.9,930.8 L439.9,930.9 L441.9,930.9 L443.9,930.9 L445.9,930.9 L447.9,930.9 L449.9,930.9 L451.9,931 L453.9,931 L455.9,931 L457.9,931 L459.9,931 L461.9,931 L463.9,931.1 L465.9,931.1 L467.9,931.1 L469.9,931.1 L471.9,931.1 L473.9,931.2 L475.9,931.2 L477.9,931.2 L479.9,931.2 L481.9,931.2 L483.9,931.3 L485.9,931.3 L487.9,931.3 L489.9,931.3 L491.9,931.3 L493.9,931.4 L495.9,931.4 L497.9,931.4 L499.9,931.4 L501.9,931.5 L503.9,931.5 L505.9,931.5 L507.9,931.5 L509.9,931.5 L511.9,931.6 L513.9,931.6 L515.9,931.6 L517.9,931.6 L519.9,931.6 L521.9,931.7 L523.9,931.7 L525.9,931.7 L527.9,931.7 L529.9,931.7 L531.9,931.8 L533.9,931.8 L535.9,931.8 L537.9,931.8 L539.9,931.8 L541.9,931.9 L543.9,931.9 L545.9,931.9 L547.9,931.9 L549.9,931.9 L551.9,931.9 L553.9,931.9 L555.9,932 L557.9,932 L559.9,932 L561.9,932 L563.9,932 L565.9,932 L567.9,932 L569.9,932 L571.9,932 L573.9,932 L575.9,932 L577.9,932 L579.9,932 L581.9,932 L583.9,932 L585.9,932 L587.9,932 L589.9,932 L591.9,932 L593.9,932 L595.9,932 L597.9,932 L599.9,932 L601.9,932 L603.9,931.9 L605.9,931.9 L607.9,931.9 L609.9,931.9 L611.9,931.8 L613.9,931.8 L615.9,931.8 L617.9,931.7 L619.9,931.7 L621.9,931.7 L623.9,931.6 L625.9,931.6 L627.9,931.5 L629.9,931.5 L631.9,931.4 L633.9,931.3 L635.9,931.3 L637.9,931.2 L639.9,931.1 L641.9,931 L643.9,930.9 L645.9,930.8 L647.9,930.7 L649.9,930.6 L651.9,930.4 L653.9,930.3 L655.9,930.1 L657.9,930 L659.9,929.8 L661.9,929.6 L663.9,929.4 L665.9,929.2 L667.9,928.9 L669.9,928.7 L671.9,928.4 L673.9,928.1 L675.9,927.8 L677.9,927.4 L679.9,927 L681.9,926.6 L683.9,926.2 L685.9,925.7 L687.9,925.2 L689.9,924.6 L691.9,924 L693.9,923.4 L695.9,922.7 L697.9,921.9 L699.9,921.1 L701.9,920.3 L703.9,919.3 L705.9,918.3 L707.9,917.2 L709.9,916 L711.9,914.8 L713.9,913.5 L715.9,912.1 L717.9,910.6 L719.9,909 L721.9,907.4 L723.9,905.7 L725.9,904 L727.9,902.2 L729.9,900.5 L731.9,898.8 L733.9,897.3 L735.9,895.8 L737.9,894.5 L739.9,893.4 L741.9,892.6 L743.9,892.1 L745.9,891.9 L747.9,892 L749.9,892.4 L751.9,893.2 L753.9,894.2 L755.9,895.5 L757.9,897 L759.9,898.6 L761.9,900.4 L763.9,902.3 L765.9,904.2 L767.9,906.1 L769.9,908 L771.9,909.8 L773.9,911.6 L775.9,913.3 L777.9,915 L779.9,916.6 L781.9,918.1 L783.9,919.5 L785.9,920.8 L787.9,922 L789.9,923.2 L791.9,924.3 L793.9,925.4 L795.9,926.4 L797.9,927.3 L799.9,928.1 L801.9,929 L803.9,929.7 L805.9,930.5 L807.9,931.1 L809.9,931.8 L811.9,932.4 L813.9,933 L815.9,933.5 L817.9,934 L819.9,934.5 L821.9,935 L823.9,935.5 L825.9,935.9 L827.9,936.3 L829.9,936.7 L831.9,937 L833.9,937.4 L835.9,937.7 L837.9,938.1 L839.9,938.4 L841.9,938.7 L843.9,939 L845.9,939.2 L847.9,939.5 L849.9,939.7 L851.9,940 L853.9,940.2 L855.9,940.4 L857.9,940.7 L859.9,940.9 L861.9,941.1 L863.9,941.3 L865.9,941.4 L867.9,941.6 L869.9,941.8 L871.9,942 L873.9,942.1 L875.9,942.3 L877.9,942.4 L879.9,942.6 L881.9,942.7 L883.9,942.9 L885.9,943 L887.9,943.2 L889.9,943.3 L891.9,943.4 L893.9,943.5 L895.9,943.7 L897.9,943.8 L899.9,943.9 L901.9,944 L903.9,944.1 L905.9,944.2 L907.9,944.3 L909.9,944.4 L911.9,944.6 L913.9,944.7 L915.9,944.8 L917.9,944.8 L919.9,944.9 L921.9,945 L923.9,945.1 L925.9,945.2 L927.9,945.3 L929.9,945.4 L931.9,945.5 L933.9,945.6 L935.9,945.7 L937.9,945.8 L939.9,945.8 L941.9,945.9 L943.9,946 L945.9,946.1 L947.9,946.2 L949.9,946.2 L951.9,946.3 L953.9,946.4 L955.9,946.5 L957.9,946.6 L959.9,946.6 L961.9,946.7 L963.9,946.8 L965.9,946.9 L967.9,946.9 L969.9,947 L971.9,947.1 L973.9,947.2 L975.9,947.2 L977.9,947.3 L979.9,947.4 L981.9,947.5 L983.9,947.5 L985.9,947.6 L987.9,947.7 L989.9,947.8 L991.9,947.8 L993.9,947.9 L995.9,948 L997.9,948.1 L999.9,948.2 L1001.9,948.2 L1003.9,948.3 L1005.9,948.4 L1007.9,948.5 L1009.9,948.5 L1011.9,948.6 L1013.9,948.7 L1015.9,948.8 L1017.9,948.8 L1019.9,948.9 L1021.9,949 L1023.9,949 L1025.9,949.1 L1027.9,949.2 L1029.9,949.3 L1031.9,949.3 L1033.9,949.4 L1035.9,949.5 L1037.9,949.5 L1039.9,949.6 L1041.9,949.7 L1043.9,949.7 L1045.9,949.8 L1047.9,949.9 L1049.9,950 L1051.9,950 L1053.9,950.1 L1055.9,950.2 L1057.9,950.2 L1059.9,950.3 L1061.9,950.4 L1063.9,950.4 L1065.9,950.5 L1067.9,950.6 L1069.9,950.7 L1071.9,950.7 L1073.9,950.8 L1075.9,950.9 L1077.9,951 L1079.9,951 L1081.9,951.1 L1083.9,951.2 L1085.9,951.3 L1087.9,951.3 L1089.9,951.4 L1091.9,951.5 L1093.9,951.6 L1095.9,951.6 L1097.9,951.7 L1099.9,951.8 L1101.9,951.9 L1103.9,952 L1105.9,952 L1107.9,952.1 L1109.9,952.2 L1111.9,952.3 L1113.9,952.4 L1115.9,952.5 L1117.9,952.6 L1119.9,952.7 L1121.9,952.7 L1123.9,952.8 L1125.9,952.9 L1127.9,953 L1129.9,953.1 L1131.9,953.2 L1133.9,953.3 L1135.9,953.4 L1137.9,953.5 L1139.9,953.6 L1141.9,953.7 L1143.9,953.8 L1145.9,953.9 L1147.9,954 L1149.9,954.1 L1151.9,954.2 L1153.9,954.4 L1155.9,954.5 L1157.9,954.6 L1159.9,954.7 L1161.9,954.8 L1163.9,954.9 L1165.9,955 L1167.9,955.2 L1169.9,955.3 L1171.9,955.4 L1173.9,955.5 L1175.9,955.7 L1177.9,955.8 L1179.9,955.9 L1181.9,956 L1183.9,956.2 L1185.9,956.3 L1187.9,956.4 L1189.9,956.6 L1191.9,956.7 L1193.9,956.9 L1195.9,957 L1197.9,957.2 L1199.9,957.3 L1201.9,957.5 L1203.9,957.6 L1205.9,957.8 L1207.9,957.9 L1209.9,958.1 L1211.9,958.2 L1213.9,958.4 L1215.9,958.6 L1217.9,958.7 L1219.9,958.9 L1221.9,959.1 L1223.9,959.3 L1225.9,959.4 L1227.9,959.6 L1229.9,959.8 L1231.9,960 L1233.9,960.2 L1235.9,960.4 L1237.9,960.6 L1239.9,960.8 L1241.9,961 L1243.9,961.2 L1245.9,961.5 L1247.9,961.7 L1249.9,962 L1251.9,962.4 L1253.9,962.7 L1255.9,963.1 L1257.9,963.4 L1259.9,963.8 L1261.9,964.2 L1263.9,964.6 L1265.9,965 L1267.9,965.3 L1269.9,965.7 L1271.9,966.1 L1273.9,966.5 L1275.9,966.9 L1277.9,967.2 L1279.9,967.6 L1281.9,967.9 L1283.9,968.2 L1285.9,968.5 L1287.9,968.7 L1289.9,968.9 L1291.9,969.1 L1293.9,969.3 L1295.9,969.4 L1297.9,969.5 L1299.9,969.6 L1301.9,969.7 L1303.9,969.8 L1305.9,969.9 L1307.9,970 L1309.9,970.1 L1311.9,970.2 L1313.9,970.3 L1315.9,970.4 L1317.9,970.5 L1319.9,970.6 L1321.9,970.7 L1323.9,970.8 L1325.9,970.8 L1327.9,970.9 L1329.9,971 L1331.9,971.1 L1333.9,971.2 L1335.9,971.2 L1337.9,971.3 L1339.9,971.4 L1341.9,971.4 L1343.9,971.5 L1345.9,971.6 L1347.9,971.6 L1349.9,971.7 L1351.9,971.7 L1353.9,971.8 L1355.9,971.8 L1357.9,971.9 L1359.9,971.9 L1361.9,972 L1363.9,972 L1365.9,972 L1367.9,972.1 L1369.9,972.1 L1371.9,972.1 L1373.9,972.2 L1375.9,972.2 L1377.9,972.2 L1379.9,972.2 L1381.9,972.2 L1383.9,972.3 L1385.9,972.3 L1387.9,972.3 L1389.9,972.3 L1391.9,972.3 L1393.9,972.3 L1395.9,972.3 L1397.9,972.3 L1399.9,972.3 L1401.9,972.3 L1403.9,972.3 L1405.9,972.3 L1407.9,972.3 L1409.9,972.3 L1411.9,972.3 L1413.9,972.3 L1415.9,972.3 L1417.9,972.3 L1419.9,972.3 L1421.9,972.3 L1423.9,972.3 L1425.9,972.3 L1427.9,972.3 L1429.9,972.3 L1431.9,972.3 L1433.9,972.3 L1435.9,972.3 L1437.9,972.3 L1439.9,972.3 L1441.9,972.3 L1443.9,972.3 L1445.9,972.3 L1447.9,972.3 L1449.9,972.3 L1451.9,972.3 L1453.9,972.3 L1455.9,972.3 L1457.9,972.2 L1459.9,972.2 L1461.9,972.2 L1463.9,972.2 L1465.9,972.2 L1467.9,972.2 L1469.9,972.2 L1471.9,972.2 L1473.9,972.2 L1475.9,972.2 L1477.9,972.2 L1479.9,972.2 L1481.9,972.2 L1483.9,972.2 L1485.9,972.2 L1487.9,972.2 L1489.9,972.2 L1491.9,972.2 L1493.9,972.2 L1495.9,972.1 L1497.9,972.1 L1499.9,972.1 L1501.9,972.1 L1503.9,972.1 L1505.9,972.1 L1507.9,972.1 L1509.9,972.1 L1511.9,972.1 L1513.9,972.1 L1515.9,972 L1517.9,972 L1519.9,972 L1521.9,972 L1523.9,972 L1525.9,972 L1527.9,972 L1529.9,971.9 L1531.9,971.9 L1533.9,971.9 L1535.9,971.9 L1537.9,971.9 L1539.9,971.9 L1541.9,971.8 L1543.9,971.8 L1545.9,971.8 L1547.9,971.8 L1549.9,971.8 L1551.9,971.7 L1553.9,971.7 L1555.9,971.7 L1557.9,971.7 L1559.9,971.7 L1561.9,971.6 L1563.9,971.6 L1565.9,971.6 L1567.9,971.6 L1569.9,971.5 L1571.9,971.5 L1573.9,971.5 L1575.9,971.5 L1577.9,971.4 L1578.3,971.4" stroke="#0000FF" stroke-width="4"/>
<path d="M405.9,931 L407.9,931 L409.9,931 L411.9,931 L413.9,931 L415.9,931.1 L417.9,931.1 L419.9,931.1 L421.9,931.1 L423.9,931.1 L425.9,931.2 L427.9,931.2 L429.9,931.2 L431.9,931.2 L433.9,931.2 L435.9,931.3 L437.9,931.3 L439.9,931.3 L441.9,931.3 L443.9,931.4 L445.9,931.4 L447.9,931.4 L449.9,931.4 L451.9,931.4 L453.9,931.5 L455.9,931.5 L457.9,931.5 L459.9,931.6 L461.9,931.6 L463.9,931.6 L465.9,931.6 L467.9,931.7 L469.9,931.7 L471.9,931.7 L473.9,931.8 L475.9,931.8 L477.9,931.8 L479.9,931.8 L481.9,931.9 L483.9,931.9 L485.9,931.9 L487.9,932 L489.9,932 L491.9,932 L493.9,932.1 L495.9,932.1 L497.9,932.1 L499.9,932.2 L501.9,932.2 L503.9,932.2 L505.9,932.3 L507.9,932.3 L509.9,932.4 L511.9,932.4 L513.9,932.4 L515.9,932.5 L517.9,932.5 L519.9,932.5 L521.9,932.6 L523.9,932.6 L525.9,932.6 L527.9,932.7 L529.9,932.7 L531.9,932.8 L533.9,932.8 L535.9,932.8 L537.9,932.9 L539.9,932.9 L541.9,933 L543.9,933 L545.9,933 L547.9,933.1 L549.9,933.1 L551.9,933.2 L553.9,933.2 L555.9,933.3 L557.9,933.3 L559.9,933.3 L561.9,933.4 L563.9,933.4 L565.9,933.5 L567.9,933.5 L569.9,933.5 L571.9,933.6 L573.9,933.6 L575.9,933.7 L577.9,933.7 L579.9,933.8 L581.9,933.8 L583.9,933.9 L585.9,933.9 L587.9,933.9 L589.9,934 L591.9,934 L593.9,934.1 L595.9,934.1 L597.9,934.2 L599.9,934.2 L601.9,934.3 L603.9,934.3 L605.9,934.3 L607.9,934.4 L609.9,934.4 L611.9,934.5 L613.9,934.5 L615.9,934.6 L617.9,934.6 L619.9,934.7 L621.9,934.7 L623.9,934.8 L625.9,934.9 L627.9,934.9 L629.9,935 L631.9,935 L633.9,935.1 L635.9,935.1 L637.9,935.2 L639.9,935.3 L641.9,935.3 L643.9,935.4 L645.9,935.4 L647.9,935.5 L649.9,935.6 L651.9,935.6 L653.9,935.7 L655.9,935.7 L657.9,935.8 L659.9,935.9 L661.9,935.9 L663.9,936 L665.9,936.1 L667.9,936.1 L669.9,936.2 L671.9,936.3 L673.9,936.3 L675.9,936.4 L677.9,936.5 L679.9,936.6 L681.9,936.6 L683.9,936.7 L685.9,936.8 L687.9,936.8 L689.9,936.9 L691.9,937 L693.9,937 L695.9,937.1 L697.9,937.2 L699.9,937.3 L701.9,937.3 L703.9,937.4 L705.9,937.5 L707.9,937.6 L709.9,937.6 L711.9,937.7 L713.9,937.8 L715.9,937.9 L717.9,937.9 L719.9,938 L721.9,938.1 L723.9,938.2 L725.9,938.2 L727.9,938.3 L729.9,938.4 L731.9,938.5 L733.9,938.6 L735.9,938.6 L737.9,938.7 L739.9,938.8 L741.9,938.9 L743.9,938.9 L745.9,939 L747.9,939.1 L749.9,939.2 L751.9,939.3 L753.9,939.3 L755.9,939.4 L757.9,939.5 L759.9,939.6 L761.9,939.7 L763.9,939.8 L765.9,939.8 L767.9,939.9 L769.9,940 L771.9,940.1 L773.9,940.2 L775.9,940.3 L777.9,940.4 L779.9,940.5 L781.9,940.6 L783.9,940.7 L785.9,940.8 L787.9,940.9 L789.9,941 L791.9,941.1 L793.9,941.2 L795.9,941.3 L797.9,941.4 L799.9,941.5 L801.9,941.6 L803.9,941.7 L805.9,941.8 L807.9,941.9 L809.9,942 L811.9,942.1 L813.9,942.2 L815.9,942.3 L817.9,942.4 L819.9,942.5 L821.9,942.6 L823.9,942.7 L825.9,942.8 L827.9,942.9 L829.9,943 L831.9,943.1 L833.9,943.2 L835.9,943.3 L837.9,943.4 L839.9,943.5 L841.9,943.6 L843.9,943.6 L845.9,943.7 L847.9,943.8 L849.9,943.9 L851.9,944 L853.9,944 L855.9,944.1 L857.9,944.2 L859.9,944.3 L861.9,944.3 L863.9,944.4 L865.9,944.5 L867.9,944.5 L869.9,944.6 L871.9,944.7 L873.9,944.7 L875.9,944.8 L877.9,944.8 L879.9,944.9 L881.9,945 L883.9,945 L885.9,945.1 L887.9,945.1 L889.9,945.2 L891.9,945.2 L893.9,945.3 L895.9,945.4 L897.9,945.4 L899.9,945.5 L901.9,945.5 L903.9,945.6 L905.9,945.6 L907.9,945.7 L909.9,945.7 L911.9,945.8 L913.9,945.8 L915.9,945.9 L917.9,945.9 L919.9,946 L921.9,946 L923.9,946 L925.9,946.1 L927.9,946.1 L929.9,946.2 L931.9,946.2 L933.9,946.3 L935.9,946.3 L937.9,946.4 L939.9,946.4 L941.9,946.5 L943.9,946.5 L945.9,946.5 L947.9,946.6 L949.9,946.6 L951.9,946.7 L953.9,946.7 L955.9,946.7 L957.9,946.8 L959.9,946.8 L961.9,946.9 L963.9,946.9 L965.9,947 L967.9,947 L969.9,947 L971.9,947.1 L973.9,947.1 L975.9,947.2 L977.9,947.2 L979.9,947.3 L981.9,947.3 L983.9,947.3 L985.9,947.4 L987.9,947.4 L989.9,947.5 L991.9,947.5 L993.9,947.5 L995.9,947.6 L997.9,947.6 L999.9,947.7 L1001.9,947.7 L1003.9,947.8 L1005.9,947.8 L1007.9,947.8 L1009.9,947.9 L1011.9,947.9 L1013.9,947.9 L1015.9,948 L1017.9,948 L1019.9,948.1 L1021.9,948.1 L1023.9,948.1 L1025.9,948.2 L1027.9,948.2 L1029.9,948.2 L1031.9,948.2 L1033.9,948.3 L1035.9,948.3 L1037.9,948.3 L1039.9,948.3 L1041.9,948.4 L1043.9,948.4 L1045.9,948.4 L1047.9,948.4 L1049.9,948.5 L1051.9,948.5 L1053.9,948.5 L1055.9,948.5 L1057.9,948.5 L1059.9,948.5 L1061.9,948.6 L1063.9,948.6 L1065.9,948.6 L1067.9,948.6 L1069.9,948.6 L1071.9,948.6 L1073.9,948.6 L1075.9,948.6 L1077.9,948.6 L1079.9,948.6 L1081.9,948.6 L1083.9,948.6 L1085.9,948.6 L1087.9,948.6 L1089.9,948.6 L1091.9,948.6 L1093.9,948.6 L1095.9,948.5 L1097.9,948.5 L1099.9,948.5 L1101.9,948.5 L1103.9,948.4 L1105.9,948.4 L1107.9,948.4 L1109.9,948.3 L1111.9,948.3 L1113.9,948.2 L1115.9,948.2 L1117.9,948.1 L1119.9,948 L1121.9,948 L1123.9,947.9 L1125.9,947.8 L1127.9,947.7 L1129.9,947.6 L1131.9,947.5 L1133.9,947.4 L1135.9,947.3 L1137.9,947.1 L1139.9,947 L1141.9,946.8 L1143.9,946.6 L1145.9,946.4 L1147.9,946.2 L1149.9,946 L1151.9,945.8 L1153.9,945.5 L1155.9,945.2 L1157.9,944.9 L1159.9,944.6 L1161.9,944.2 L1163.9,943.8 L1165.9,943.4 L1167.9,943 L1169.9,942.5 L1171.9,941.9 L1173.9,941.4 L1175.9,940.7 L1177.9,940 L1179.9,939.3 L1181.9,938.5 L1183.9,937.6 L1185.9,936.6 L1187.9,935.5 L1189.9,934.4 L1191.9,933.1 L1193.9,931.7 L1195.9,930.2 L1197.9,928.5 L1199.9,926.6 L1201.9,924.6 L1203.9,922.4 L1205.9,920 L1207.9,917.3 L1209.9,914.4 L1211.9,911.2 L1213.9,907.7 L1215.9,903.9 L1217.9,899.8 L1219.9,895.4 L1221.9,890.7 L1223.9,885.8 L1225.9,880.7 L1227.9,875.5 L1229.9,870.4 L1231.9,865.5 L1233.9,860.9 L1235.9,857 L1237.9,853.9 L1239.9,851.8 L1241.9,850.8 L1243.9,851.1 L1245.9,852.6 L1247.9,855.3 L1249.9,859 L1251.9,863.5 L1253.9,868.6 L1255.9,874.1 L1257.9,879.8 L1259.9,885.6 L1261.9,891.2 L1263.9,896.7 L1265.9,901.9 L1267.9,906.8 L1269.9,911.4 L1271.9,915.7 L1273.9,919.7 L1275.9,923.4 L1277.9,926.8 L1279.9,929.9 L1281.9,932.8 L1283.9,935.5 L1285.9,937.9 L1287.9,940.1 L1289.9,942.2 L1291.9,944 L1293.9,945.7 L1295.9,947.2 L1297.9,948.6 L1299.9,949.9 L1301.9,951.1 L1303.9,952.2 L1305.9,953.3 L1307.9,954.2 L1309.9,955.1 L1311.9,956 L1313.9,956.8 L1315.9,957.5 L1317.9,958.2 L1319.9,958.9 L1321.9,959.5 L1323.9,960.1 L1325.9,960.6 L1327.9,961.2 L1329.9,961.6 L1331.9,962.1 L1333.9,962.5 L1335.9,963 L1337.9,963.4 L1339.9,963.7 L1341.9,964.1 L1343.9,964.4 L1345.9,964.7 L1347.9,965 L1349.9,965.3 L1351.9,965.6 L1353.9,965.9 L1355.9,966.1 L1357.9,966.4 L1359.9,966.6 L1361.9,966.8 L1363.9,967 L1365.9,967.2 L1367.9,967.4 L1369.9,967.6 L1371.9,967.7 L1373.9,967.9 L1375.9,968 L1377.9,968.2 L1379.9,968.3 L1381.9,968.4 L1383.9,968.6 L1385.9,968.7 L1387.9,968.8 L1389.9,968.9 L1391.9,969 L1393.9,969 L1395.9,969.1 L1397.9,969.2 L1399.9,969.3 L1401.9,969.4 L1403.9,969.4 L1405.9,969.5 L1407.9,969.6 L1409.9,969.6 L1411.9,969.7 L1413.9,969.8 L1415.9,969.8 L1417.9,969.9 L1419.9,969.9 L1421.9,970 L1423.9,970 L1425.9,970.1 L1427.9,970.1 L1429.9,970.2 L1431.9,970.2 L1433.9,970.3 L1435.9,970.3 L1437.9,970.3 L1439.9,970.4 L1441.9,970.4 L1443.9,970.5 L1445.9,970.5 L1447.9,970.5 L1449.9,970.6 L1451.9,970.6 L1453.9,970.6 L1455.9,970.6 L1457.9,970.7 L1459.9,970.7 L1461.9,970.7 L1463.9,970.8 L1465.9,970.8 L1467.9,970.8 L1469.9,970.8 L1471.9,970.8 L1473.9,970.9 L1475.9,970.9 L1477.9,970.9 L1479.9,970.9 L1481.9,970.9 L1483.9,970.9 L1485.9,971 L1487.9,971 L1489.9,971 L1491.9,971 L1493.9,971 L1495.9,971 L1497.9,971 L1499.9,971 L1501.9,971 L1503.9,971.1 L1505.9,971.1 L1507.9,971.1 L1509.9,971.1 L1511.9,971.1 L1513.9,971.1 L1515.9,971.1 L1517.9,971.1 L1519.9,971.1 L1521.9,971.1 L1523.9,971.1 L1525.9,971.1 L1527.9,971.1 L1529.9,971.1 L1531.9,971.1 L1533.9,971.1 L1535.9,971.1 L1537.9,971.1 L1539.9,971.1 L1541.9,971.1 L1543.9,971 L1545.9,971 L1547.9,971 L1549.9,971 L1551.9,971 L1553.9,971 L1555.9,971 L1557.9,971 L1559.9,971 L1561.9,970.9 L1563.9,970.9 L1565.9,970.9 L1567.9,970.9 L1569.9,970.9 L1571.9,970.9 L1573.9,970.8 L1575.9,970.8 L1577.9,970.8 L1578.3,970.8" stroke="#0000FF" stroke-width="4"/>
</g>
<g fill="#fff" stroke="#000" stroke-width="1.15"><circle cx="413.8" cy="1427.1" r="6.5"/><circle cx="415.2" cy="1432.8" r="6.5"/><circle cx="416.6" cy="1439.9" r="6.5"/><circle cx="418" cy="1438.3" r="6.5"/><circle cx="419.4" cy="1435.7" r="6.5"/><circle cx="420.8" cy="1430.7" r="6.5"/><circle cx="422.2" cy="1425.9" r="6.5"/><circle cx="423.5" cy="1424.7" r="6.5"/><circle cx="424.9" cy="1425.2" r="6.5"/><circle cx="426.3" cy="1427.5" r="6.5"/><circle cx="427.7" cy="1424.7" r="6.5"/><circle cx="429.1" cy="1430.5" r="6.5"/><circle cx="430.5" cy="1433.8" r="6.5"/><circle cx="431.9" cy="1432.2" r="6.5"/><circle cx="433.3" cy="1429.7" r="6.5"/><circle cx="434.7" cy="1426.8" r="6.5"/><circle cx="436.1" cy="1427.2" r="6.5"/><circle cx="437.5" cy="1431.3" r="6.5"/><circle cx="438.9" cy="1428.7" r="6.5"/><circle cx="440.3" cy="1432.5" r="6.5"/><circle cx="441.6" cy="1435.7" r="6.5"/><circle cx="443" cy="1436.2" r="6.5"/><circle cx="444.4" cy="1431.2" r="6.5"/><circle cx="445.8" cy="1424.4" r="6.5"/><circle cx="447.2" cy="1417.3" r="6.5"/><circle cx="448.6" cy="1415.3" r="6.5"/><circle cx="450" cy="1418.5" r="6.5"/><circle cx="451.4" cy="1424.4" r="6.5"/><circle cx="452.8" cy="1428.5" r="6.5"/><circle cx="454.2" cy="1425.6" r="6.5"/><circle cx="455.6" cy="1421.5" r="6.5"/><circle cx="457" cy="1424.6" r="6.5"/><circle cx="458.4" cy="1423.4" r="6.5"/><circle cx="459.8" cy="1420.6" r="6.5"/><circle cx="461.1" cy="1421.1" r="6.5"/><circle cx="462.5" cy="1421.5" r="6.5"/><circle cx="463.9" cy="1419.7" r="6.5"/><circle cx="465.3" cy="1419.8" r="6.5"/><circle cx="466.7" cy="1418.3" r="6.5"/><circle cx="468.1" cy="1424.8" r="6.5"/><circle cx="469.5" cy="1430.1" r="6.5"/><circle cx="470.9" cy="1434.8" r="6.5"/><circle cx="472.3" cy="1435.5" r="6.5"/><circle cx="473.7" cy="1433.8" r="6.5"/><circle cx="475.1" cy="1427.3" r="6.5"/><circle cx="476.5" cy="1423.8" r="6.5"/><circle cx="477.9" cy="1414.1" r="6.5"/><circle cx="479.2" cy="1413.3" r="6.5"/><circle cx="480.6" cy="1411.5" r="6.5"/><circle cx="482" cy="1416.4" r="6.5"/><circle cx="483.4" cy="1420.1" r="6.5"/><circle cx="484.8" cy="1422.8" r="6.5"/><circle cx="486.2" cy="1421.6" r="6.5"/><circle cx="487.6" cy="1423.6" r="6.5"/><circle cx="489" cy="1415.2" r="6.5"/><circle cx="490.4" cy="1415.2" r="6.5"/><circle cx="491.8" cy="1408.2" r="6.5"/><circle cx="493.2" cy="1412.8" r="6.5"/><circle cx="494.6" cy="1416.7" r="6.5"/><circle cx="496" cy="1417.6" r="6.5"/><circle cx="497.3" cy="1415.6" r="6.5"/><circle cx="498.7" cy="1413.2" r="6.5"/><circle cx="500.1" cy="1415.1" r="6.5"/><circle cx="501.5" cy="1419.8" r="6.5"/><circle cx="502.9" cy="1418.5" r="6.5"/><circle cx="504.3" cy="1415.6" r="6.5"/><circle cx="505.7" cy="1412.5" r="6.5"/><circle cx="507.1" cy="1407.2" r="6.5"/><circle cx="508.5" cy="1407.7" r="6.5"/><circle cx="509.9" cy="1406.7" r="6.5"/><circle cx="511.3" cy="1403.7" r="6.5"/><circle cx="512.7" cy="1404.9" r="6.5"/><circle cx="514.1" cy="1405.8" r="6.5"/><circle cx="515.5" cy="1403.3" r="6.5"/><circle cx="516.8" cy="1408.1" r="6.5"/><circle cx="518.2" cy="1407.5" r="6.5"/><circle cx="519.6" cy="1399.6" r="6.5"/><circle cx="521" cy="1392.2" r="6.5"/><circle cx="522.4" cy="1387.7" r="6.5"/><circle cx="523.8" cy="1384.3" r="6.5"/><circle cx="525.2" cy="1390.5" r="6.5"/><circle cx="526.6" cy="1391.3" r="6.5"/><circle cx="528" cy="1391.9" r="6.5"/><circle cx="529.4" cy="1393.8" r="6.5"/><circle cx="530.8" cy="1392.9" r="6.5"/><circle cx="532.2" cy="1391.8" r="6.5"/><circle cx="533.6" cy="1390.7" r="6.5"/><circle cx="534.9" cy="1392.8" r="6.5"/><circle cx="536.3" cy="1396.8" r="6.5"/><circle cx="537.7" cy="1398.3" r="6.5"/><circle cx="539.1" cy="1395.3" r="6.5"/><circle cx="540.5" cy="1389.9" r="6.5"/><circle cx="541.9" cy="1390.9" r="6.5"/><circle cx="543.3" cy="1393.1" r="6.5"/><circle cx="544.7" cy="1391.9" r="6.5"/><circle cx="546.1" cy="1388.5" r="6.5"/><circle cx="547.5" cy="1386.2" r="6.5"/><circle cx="548.9" cy="1382.6" r="6.5"/><circle cx="550.3" cy="1384" r="6.5"/><circle cx="551.7" cy="1384.1" r="6.5"/><circle cx="553" cy="1379.8" r="6.5"/><circle cx="554.4" cy="1381" r="6.5"/><circle cx="555.8" cy="1376.6" r="6.5"/><circle cx="557.2" cy="1382.1" r="6.5"/><circle cx="558.6" cy="1379.6" r="6.5"/><circle cx="560" cy="1379.4" r="6.5"/><circle cx="561.4" cy="1381.9" r="6.5"/><circle cx="562.8" cy="1377.4" r="6.5"/><circle cx="564.2" cy="1378.7" r="6.5"/><circle cx="565.6" cy="1377.8" r="6.5"/><circle cx="567" cy="1374.4" r="6.5"/><circle cx="568.4" cy="1370.6" r="6.5"/><circle cx="569.8" cy="1368.1" r="6.5"/><circle cx="571.2" cy="1364.6" r="6.5"/><circle cx="572.5" cy="1367.9" r="6.5"/><circle cx="573.9" cy="1371.3" r="6.5"/><circle cx="575.3" cy="1373.1" r="6.5"/><circle cx="576.7" cy="1367.3" r="6.5"/><circle cx="578.1" cy="1365.1" r="6.5"/><circle cx="579.5" cy="1367" r="6.5"/><circle cx="580.9" cy="1365.7" r="6.5"/><circle cx="582.3" cy="1372.5" r="6.5"/><circle cx="583.7" cy="1368.6" r="6.5"/><circle cx="585.1" cy="1364.1" r="6.5"/><circle cx="586.5" cy="1365.6" r="6.5"/><circle cx="587.9" cy="1361.3" r="6.5"/><circle cx="589.3" cy="1362.8" r="6.5"/><circle cx="590.6" cy="1358.5" r="6.5"/><circle cx="592" cy="1355.3" r="6.5"/><circle cx="593.4" cy="1349.6" r="6.5"/><circle cx="594.8" cy="1349.7" r="6.5"/><circle cx="596.2" cy="1354.9" r="6.5"/><circle cx="597.6" cy="1358.9" r="6.5"/><circle cx="599" cy="1361.3" r="6.5"/><circle cx="600.4" cy="1357.7" r="6.5"/><circle cx="601.8" cy="1357.7" r="6.5"/><circle cx="603.2" cy="1356.6" r="6.5"/><circle cx="604.6" cy="1357.4" r="6.5"/><circle cx="606" cy="1354.4" r="6.5"/><circle cx="607.4" cy="1356.7" r="6.5"/><circle cx="608.7" cy="1352.4" r="6.5"/><circle cx="610.1" cy="1351" r="6.5"/><circle cx="611.5" cy="1349.6" r="6.5"/><circle cx="612.9" cy="1351.6" r="6.5"/><circle cx="614.3" cy="1351.9" r="6.5"/><circle cx="615.7" cy="1351.1" r="6.5"/><circle cx="617.1" cy="1350" r="6.5"/><circle cx="618.5" cy="1350.7" r="6.5"/><circle cx="619.9" cy="1353.1" r="6.5"/><circle cx="621.3" cy="1353.1" r="6.5"/><circle cx="622.7" cy="1353" r="6.5"/><circle cx="624.1" cy="1351.3" r="6.5"/><circle cx="625.5" cy="1350.3" r="6.5"/><circle cx="626.9" cy="1351.6" r="6.5"/><circle cx="628.2" cy="1358.8" r="6.5"/><circle cx="629.6" cy="1358.4" r="6.5"/><circle cx="631" cy="1351.9" r="6.5"/><circle cx="632.4" cy="1351" r="6.5"/><circle cx="633.8" cy="1350.7" r="6.5"/><circle cx="635.2" cy="1356.3" r="6.5"/><circle cx="636.6" cy="1353.6" r="6.5"/><circle cx="638" cy="1356.2" r="6.5"/><circle cx="639.4" cy="1347.6" r="6.5"/><circle cx="640.8" cy="1350.7" r="6.5"/><circle cx="642.2" cy="1350" r="6.5"/><circle cx="643.6" cy="1346.7" r="6.5"/><circle cx="645" cy="1348.3" r="6.5"/><circle cx="646.3" cy="1356.5" r="6.5"/><circle cx="647.7" cy="1362.8" r="6.5"/><circle cx="649.1" cy="1368" r="6.5"/><circle cx="650.5" cy="1369.2" r="6.5"/><circle cx="651.9" cy="1365.3" r="6.5"/><circle cx="653.3" cy="1360.1" r="6.5"/><circle cx="654.7" cy="1355.8" r="6.5"/><circle cx="656.1" cy="1350.9" r="6.5"/><circle cx="657.5" cy="1352.5" r="6.5"/><circle cx="658.9" cy="1356.2" r="6.5"/><circle cx="660.3" cy="1364.3" r="6.5"/><circle cx="661.7" cy="1363.1" r="6.5"/><circle cx="663.1" cy="1364.2" r="6.5"/><circle cx="664.4" cy="1354.9" r="6.5"/><circle cx="665.8" cy="1358.3" r="6.5"/><circle cx="667.2" cy="1361.1" r="6.5"/><circle cx="668.6" cy="1368.7" r="6.5"/><circle cx="670" cy="1369.9" r="6.5"/><circle cx="671.4" cy="1370.8" r="6.5"/><circle cx="672.8" cy="1375.4" r="6.5"/><circle cx="674.2" cy="1378.2" r="6.5"/><circle cx="675.6" cy="1371.4" r="6.5"/><circle cx="677" cy="1368.1" r="6.5"/><circle cx="678.4" cy="1364.8" r="6.5"/><circle cx="679.8" cy="1366.7" r="6.5"/><circle cx="681.2" cy="1372.8" r="6.5"/><circle cx="682.6" cy="1378.9" r="6.5"/><circle cx="683.9" cy="1378.8" r="6.5"/><circle cx="685.3" cy="1382.7" r="6.5"/><circle cx="686.7" cy="1379.3" r="6.5"/><circle cx="688.1" cy="1379.7" r="6.5"/><circle cx="689.5" cy="1374" r="6.5"/><circle cx="690.9" cy="1373.8" r="6.5"/><circle cx="692.3" cy="1374.3" r="6.5"/><circle cx="693.7" cy="1380.4" r="6.5"/><circle cx="695.1" cy="1384.3" r="6.5"/><circle cx="696.5" cy="1385.9" r="6.5"/><circle cx="697.9" cy="1381.6" r="6.5"/><circle cx="699.3" cy="1385.1" r="6.5"/><circle cx="700.7" cy="1384" r="6.5"/><circle cx="702" cy="1384.4" r="6.5"/><circle cx="703.4" cy="1381.7" r="6.5"/><circle cx="704.8" cy="1379" r="6.5"/><circle cx="706.2" cy="1378.8" r="6.5"/><circle cx="707.6" cy="1384.5" r="6.5"/><circle cx="709" cy="1384.3" r="6.5"/><circle cx="710.4" cy="1389.8" r="6.5"/><circle cx="711.8" cy="1392.7" r="6.5"/><circle cx="713.2" cy="1383.1" r="6.5"/><circle cx="714.6" cy="1383" r="6.5"/><circle cx="716" cy="1382.1" r="6.5"/><circle cx="717.4" cy="1387.3" r="6.5"/><circle cx="718.8" cy="1392.4" r="6.5"/><circle cx="720.1" cy="1392.2" r="6.5"/><circle cx="721.5" cy="1392" r="6.5"/><circle cx="722.9" cy="1394.3" r="6.5"/><circle cx="724.3" cy="1398" r="6.5"/><circle cx="725.7" cy="1398.8" r="6.5"/><circle cx="727.1" cy="1397.3" r="6.5"/><circle cx="728.5" cy="1390.2" r="6.5"/><circle cx="729.9" cy="1390.2" r="6.5"/><circle cx="731.3" cy="1384.1" r="6.5"/><circle cx="732.7" cy="1387.5" r="6.5"/><circle cx="734.1" cy="1396" r="6.5"/><circle cx="735.5" cy="1401.4" r="6.5"/><circle cx="736.9" cy="1402.2" r="6.5"/><circle cx="738.3" cy="1400.8" r="6.5"/><circle cx="739.6" cy="1401.3" r="6.5"/><circle cx="741" cy="1405.1" r="6.5"/><circle cx="742.4" cy="1405.1" r="6.5"/><circle cx="743.8" cy="1403.7" r="6.5"/><circle cx="745.2" cy="1405.8" r="6.5"/><circle cx="746.6" cy="1396.5" r="6.5"/><circle cx="748" cy="1389.8" r="6.5"/><circle cx="749.4" cy="1384" r="6.5"/><circle cx="750.8" cy="1382.2" r="6.5"/><circle cx="752.2" cy="1382.9" r="6.5"/><circle cx="753.6" cy="1381.9" r="6.5"/><circle cx="755" cy="1381.2" r="6.5"/><circle cx="756.4" cy="1381.4" r="6.5"/><circle cx="757.7" cy="1384.5" r="6.5"/><circle cx="759.1" cy="1384.3" r="6.5"/><circle cx="760.5" cy="1388.2" r="6.5"/><circle cx="761.9" cy="1381.2" r="6.5"/><circle cx="763.3" cy="1378" r="6.5"/><circle cx="764.7" cy="1376.8" r="6.5"/><circle cx="766.1" cy="1373.8" r="6.5"/><circle cx="767.5" cy="1372.6" r="6.5"/><circle cx="768.9" cy="1369.6" r="6.5"/><circle cx="770.3" cy="1364.1" r="6.5"/><circle cx="771.7" cy="1360.7" r="6.5"/><circle cx="773.1" cy="1355.8" r="6.5"/><circle cx="774.5" cy="1354.1" r="6.5"/><circle cx="775.8" cy="1351.1" r="6.5"/><circle cx="777.2" cy="1352.9" r="6.5"/><circle cx="778.6" cy="1353.7" r="6.5"/><circle cx="780" cy="1351.1" r="6.5"/><circle cx="781.4" cy="1345.7" r="6.5"/><circle cx="782.8" cy="1342.1" r="6.5"/><circle cx="784.2" cy="1336" r="6.5"/><circle cx="785.6" cy="1331.4" r="6.5"/><circle cx="787" cy="1326.4" r="6.5"/><circle cx="788.4" cy="1325.6" r="6.5"/><circle cx="789.8" cy="1324.7" r="6.5"/><circle cx="791.2" cy="1328.5" r="6.5"/><circle cx="792.6" cy="1323.1" r="6.5"/><circle cx="794" cy="1324.8" r="6.5"/><circle cx="795.3" cy="1329.9" r="6.5"/><circle cx="796.7" cy="1327.6" r="6.5"/><circle cx="798.1" cy="1327.2" r="6.5"/><circle cx="799.5" cy="1321.6" r="6.5"/><circle cx="800.9" cy="1323.9" r="6.5"/><circle cx="802.3" cy="1324.4" r="6.5"/><circle cx="803.7" cy="1322.3" r="6.5"/><circle cx="805.1" cy="1317.2" r="6.5"/><circle cx="806.5" cy="1310.6" r="6.5"/><circle cx="807.9" cy="1310.1" r="6.5"/><circle cx="809.3" cy="1307" r="6.5"/><circle cx="810.7" cy="1304" r="6.5"/><circle cx="812.1" cy="1310.7" r="6.5"/><circle cx="813.4" cy="1315.8" r="6.5"/><circle cx="814.8" cy="1321.7" r="6.5"/><circle cx="816.2" cy="1318.6" r="6.5"/><circle cx="817.6" cy="1314.2" r="6.5"/><circle cx="819" cy="1310.8" r="6.5"/><circle cx="820.4" cy="1315.5" r="6.5"/><circle cx="821.8" cy="1319.1" r="6.5"/><circle cx="823.2" cy="1314.3" r="6.5"/><circle cx="824.6" cy="1311" r="6.5"/><circle cx="826" cy="1315.2" r="6.5"/><circle cx="827.4" cy="1324.2" r="6.5"/><circle cx="828.8" cy="1327.1" r="6.5"/><circle cx="830.2" cy="1330.1" r="6.5"/><circle cx="831.5" cy="1331" r="6.5"/><circle cx="832.9" cy="1333.1" r="6.5"/><circle cx="834.3" cy="1331.6" r="6.5"/><circle cx="835.7" cy="1331.4" r="6.5"/><circle cx="837.1" cy="1331.3" r="6.5"/><circle cx="838.5" cy="1333.1" r="6.5"/><circle cx="839.9" cy="1335.7" r="6.5"/><circle cx="841.3" cy="1341.4" r="6.5"/><circle cx="842.7" cy="1348.2" r="6.5"/><circle cx="844.1" cy="1352.3" r="6.5"/><circle cx="845.5" cy="1362.5" r="6.5"/><circle cx="846.9" cy="1371.7" r="6.5"/><circle cx="848.3" cy="1374.6" r="6.5"/><circle cx="849.7" cy="1369.7" r="6.5"/><circle cx="851" cy="1367.5" r="6.5"/><circle cx="852.4" cy="1369" r="6.5"/><circle cx="853.8" cy="1377.7" r="6.5"/><circle cx="855.2" cy="1388.3" r="6.5"/><circle cx="856.6" cy="1396.7" r="6.5"/><circle cx="858" cy="1401.7" r="6.5"/><circle cx="859.4" cy="1402.2" r="6.5"/><circle cx="860.8" cy="1404.4" r="6.5"/><circle cx="862.2" cy="1409.5" r="6.5"/><circle cx="863.6" cy="1411.9" r="6.5"/><circle cx="865" cy="1410.7" r="6.5"/><circle cx="866.4" cy="1410.1" r="6.5"/><circle cx="867.8" cy="1412.7" r="6.5"/><circle cx="869.1" cy="1420.3" r="6.5"/><circle cx="870.5" cy="1423.9" r="6.5"/><circle cx="871.9" cy="1425.1" r="6.5"/><circle cx="873.3" cy="1426.3" r="6.5"/><circle cx="874.7" cy="1428.2" r="6.5"/><circle cx="876.1" cy="1439.7" r="6.5"/><circle cx="877.5" cy="1446.6" r="6.5"/><circle cx="878.9" cy="1448.9" r="6.5"/><circle cx="880.3" cy="1441" r="6.5"/><circle cx="881.7" cy="1437.5" r="6.5"/><circle cx="883.1" cy="1437.2" r="6.5"/><circle cx="884.5" cy="1442.6" r="6.5"/><circle cx="885.9" cy="1447.2" r="6.5"/><circle cx="887.2" cy="1448.7" r="6.5"/><circle cx="888.6" cy="1452.1" r="6.5"/><circle cx="890" cy="1456.3" r="6.5"/><circle cx="891.4" cy="1459" r="6.5"/><circle cx="892.8" cy="1455.3" r="6.5"/><circle cx="894.2" cy="1450.4" r="6.5"/><circle cx="895.6" cy="1444.9" r="6.5"/><circle cx="897" cy="1444" r="6.5"/><circle cx="898.4" cy="1450.1" r="6.5"/><circle cx="899.8" cy="1456.1" r="6.5"/><circle cx="901.2" cy="1457.7" r="6.5"/><circle cx="902.6" cy="1461" r="6.5"/><circle cx="904" cy="1455.2" r="6.5"/><circle cx="905.4" cy="1455.8" r="6.5"/><circle cx="906.7" cy="1456" r="6.5"/><circle cx="908.1" cy="1454" r="6.5"/><circle cx="909.5" cy="1457.2" r="6.5"/><circle cx="910.9" cy="1456.3" r="6.5"/><circle cx="912.3" cy="1460" r="6.5"/><circle cx="913.7" cy="1462.1" r="6.5"/><circle cx="915.1" cy="1464.4" r="6.5"/><circle cx="916.5" cy="1462.5" r="6.5"/><circle cx="917.9" cy="1456.8" r="6.5"/><circle cx="919.3" cy="1455.7" r="6.5"/><circle cx="920.7" cy="1457.1" r="6.5"/><circle cx="922.1" cy="1456.8" r="6.5"/><circle cx="923.5" cy="1461" r="6.5"/><circle cx="924.8" cy="1455.3" r="6.5"/><circle cx="926.2" cy="1450.5" r="6.5"/><circle cx="927.6" cy="1445.5" r="6.5"/><circle cx="929" cy="1446.9" r="6.5"/><circle cx="930.4" cy="1450.4" r="6.5"/><circle cx="931.8" cy="1446.8" r="6.5"/><circle cx="933.2" cy="1448" r="6.5"/><circle cx="934.6" cy="1446.7" r="6.5"/><circle cx="936" cy="1448" r="6.5"/><circle cx="937.4" cy="1448.9" r="6.5"/><circle cx="938.8" cy="1451.1" r="6.5"/><circle cx="940.2" cy="1453.7" r="6.5"/><circle cx="941.6" cy="1447.8" r="6.5"/><circle cx="942.9" cy="1448.8" r="6.5"/><circle cx="944.3" cy="1445.9" r="6.5"/><circle cx="945.7" cy="1441.7" r="6.5"/><circle cx="947.1" cy="1446.5" r="6.5"/><circle cx="948.5" cy="1447.8" r="6.5"/><circle cx="949.9" cy="1459.2" r="6.5"/><circle cx="951.3" cy="1459.6" r="6.5"/><circle cx="952.7" cy="1456.6" r="6.5"/><circle cx="954.1" cy="1450.3" r="6.5"/><circle cx="955.5" cy="1447.9" r="6.5"/><circle cx="956.9" cy="1448" r="6.5"/><circle cx="958.3" cy="1453.7" r="6.5"/><circle cx="959.7" cy="1449.3" r="6.5"/><circle cx="961.1" cy="1450.6" r="6.5"/><circle cx="962.4" cy="1449.3" r="6.5"/><circle cx="963.8" cy="1450.7" r="6.5"/><circle cx="965.2" cy="1451.4" r="6.5"/><circle cx="966.6" cy="1446.4" r="6.5"/><circle cx="968" cy="1441.2" r="6.5"/><circle cx="969.4" cy="1439.1" r="6.5"/><circle cx="970.8" cy="1440.9" r="6.5"/><circle cx="972.2" cy="1443.2" r="6.5"/><circle cx="973.6" cy="1444.2" r="6.5"/><circle cx="975" cy="1446" r="6.5"/><circle cx="976.4" cy="1448.9" r="6.5"/><circle cx="977.8" cy="1444.1" r="6.5"/><circle cx="979.2" cy="1442.2" r="6.5"/><circle cx="980.5" cy="1438.3" r="6.5"/><circle cx="981.9" cy="1442.8" r="6.5"/><circle cx="983.3" cy="1437.9" r="6.5"/><circle cx="984.7" cy="1440" r="6.5"/><circle cx="986.1" cy="1437.8" r="6.5"/><circle cx="987.5" cy="1429.5" r="6.5"/><circle cx="988.9" cy="1426.5" r="6.5"/><circle cx="990.3" cy="1429.4" r="6.5"/><circle cx="991.7" cy="1424.1" r="6.5"/><circle cx="993.1" cy="1429.4" r="6.5"/><circle cx="994.5" cy="1436.7" r="6.5"/><circle cx="995.9" cy="1441.9" r="6.5"/><circle cx="997.3" cy="1442" r="6.5"/><circle cx="998.6" cy="1438.8" r="6.5"/><circle cx="1000" cy="1439.4" r="6.5"/><circle cx="1001.4" cy="1432.1" r="6.5"/><circle cx="1002.8" cy="1430.1" r="6.5"/><circle cx="1004.2" cy="1429" r="6.5"/><circle cx="1005.6" cy="1429.1" r="6.5"/><circle cx="1007" cy="1425.7" r="6.5"/><circle cx="1008.4" cy="1428.1" r="6.5"/><circle cx="1009.8" cy="1438" r="6.5"/><circle cx="1011.2" cy="1441.6" r="6.5"/><circle cx="1012.6" cy="1440.5" r="6.5"/><circle cx="1014" cy="1435.3" r="6.5"/><circle cx="1015.4" cy="1432.7" r="6.5"/><circle cx="1016.8" cy="1429.6" r="6.5"/><circle cx="1018.1" cy="1425.3" r="6.5"/><circle cx="1019.5" cy="1423.2" r="6.5"/><circle cx="1020.9" cy="1424.4" r="6.5"/><circle cx="1022.3" cy="1426.5" r="6.5"/><circle cx="1023.7" cy="1425" r="6.5"/><circle cx="1025.1" cy="1426.9" r="6.5"/><circle cx="1026.5" cy="1424.4" r="6.5"/><circle cx="1027.9" cy="1423" r="6.5"/><circle cx="1029.3" cy="1422.1" r="6.5"/><circle cx="1030.7" cy="1422.9" r="6.5"/><circle cx="1032.1" cy="1421.2" r="6.5"/><circle cx="1033.5" cy="1417.6" r="6.5"/><circle cx="1034.9" cy="1415.9" r="6.5"/><circle cx="1036.2" cy="1410.5" r="6.5"/><circle cx="1037.6" cy="1406.7" r="6.5"/><circle cx="1039" cy="1405.9" r="6.5"/><circle cx="1040.4" cy="1411.3" r="6.5"/><circle cx="1041.8" cy="1412.6" r="6.5"/><circle cx="1043.2" cy="1408.1" r="6.5"/><circle cx="1044.6" cy="1402.4" r="6.5"/><circle cx="1046" cy="1400.3" r="6.5"/><circle cx="1047.4" cy="1406.2" r="6.5"/><circle cx="1048.8" cy="1407.8" r="6.5"/><circle cx="1050.2" cy="1407.4" r="6.5"/><circle cx="1051.6" cy="1402.5" r="6.5"/><circle cx="1053" cy="1398.7" r="6.5"/><circle cx="1054.3" cy="1396.2" r="6.5"/><circle cx="1055.7" cy="1389.6" r="6.5"/><circle cx="1057.1" cy="1391.2" r="6.5"/><circle cx="1058.5" cy="1390.6" r="6.5"/><circle cx="1059.9" cy="1394.6" r="6.5"/><circle cx="1061.3" cy="1393.9" r="6.5"/><circle cx="1062.7" cy="1389.5" r="6.5"/><circle cx="1064.1" cy="1386.4" r="6.5"/><circle cx="1065.5" cy="1382.7" r="6.5"/><circle cx="1066.9" cy="1376.9" r="6.5"/><circle cx="1068.3" cy="1381" r="6.5"/><circle cx="1069.7" cy="1384" r="6.5"/><circle cx="1071.1" cy="1385.1" r="6.5"/><circle cx="1072.5" cy="1378.1" r="6.5"/><circle cx="1073.8" cy="1372.3" r="6.5"/><circle cx="1075.2" cy="1372.4" r="6.5"/><circle cx="1076.6" cy="1375" r="6.5"/><circle cx="1078" cy="1371.7" r="6.5"/><circle cx="1079.4" cy="1370" r="6.5"/><circle cx="1080.8" cy="1366.6" r="6.5"/><circle cx="1082.2" cy="1367.1" r="6.5"/><circle cx="1083.6" cy="1365.8" r="6.5"/><circle cx="1085" cy="1362.9" r="6.5"/><circle cx="1086.4" cy="1358.9" r="6.5"/><circle cx="1087.8" cy="1357.9" r="6.5"/><circle cx="1089.2" cy="1358.7" r="6.5"/><circle cx="1090.6" cy="1356.3" r="6.5"/><circle cx="1091.9" cy="1352.9" r="6.5"/><circle cx="1093.3" cy="1347" r="6.5"/><circle cx="1094.7" cy="1348.2" r="6.5"/><circle cx="1096.1" cy="1341.7" r="6.5"/><circle cx="1097.5" cy="1343.1" r="6.5"/><circle cx="1098.9" cy="1342.3" r="6.5"/><circle cx="1100.3" cy="1339.2" r="6.5"/><circle cx="1101.7" cy="1342.9" r="6.5"/><circle cx="1103.1" cy="1340.9" r="6.5"/><circle cx="1104.5" cy="1336.9" r="6.5"/><circle cx="1105.9" cy="1335.4" r="6.5"/><circle cx="1107.3" cy="1330" r="6.5"/><circle cx="1108.7" cy="1327.5" r="6.5"/><circle cx="1110" cy="1324.9" r="6.5"/><circle cx="1111.4" cy="1322.1" r="6.5"/><circle cx="1112.8" cy="1327.7" r="6.5"/><circle cx="1114.2" cy="1328.2" r="6.5"/><circle cx="1115.6" cy="1333.3" r="6.5"/><circle cx="1117" cy="1330.8" r="6.5"/><circle cx="1118.4" cy="1326.4" r="6.5"/><circle cx="1119.8" cy="1317.3" r="6.5"/><circle cx="1121.2" cy="1314.5" r="6.5"/><circle cx="1122.6" cy="1316.8" r="6.5"/><circle cx="1124" cy="1321.8" r="6.5"/><circle cx="1125.4" cy="1325.4" r="6.5"/><circle cx="1126.8" cy="1322.3" r="6.5"/><circle cx="1128.2" cy="1320.4" r="6.5"/><circle cx="1129.5" cy="1318.5" r="6.5"/><circle cx="1130.9" cy="1321.2" r="6.5"/><circle cx="1132.3" cy="1327.4" r="6.5"/><circle cx="1133.7" cy="1332.7" r="6.5"/><circle cx="1135.1" cy="1331.3" r="6.5"/><circle cx="1136.5" cy="1329.7" r="6.5"/><circle cx="1137.9" cy="1331.7" r="6.5"/><circle cx="1139.3" cy="1333.9" r="6.5"/><circle cx="1140.7" cy="1334.3" r="6.5"/><circle cx="1142.1" cy="1333.1" r="6.5"/><circle cx="1143.5" cy="1331.2" r="6.5"/><circle cx="1144.9" cy="1334.4" r="6.5"/><circle cx="1146.3" cy="1344.1" r="6.5"/><circle cx="1147.6" cy="1349.8" r="6.5"/><circle cx="1149" cy="1349.2" r="6.5"/><circle cx="1150.4" cy="1344.5" r="6.5"/><circle cx="1151.8" cy="1339.6" r="6.5"/><circle cx="1153.2" cy="1342" r="6.5"/><circle cx="1154.6" cy="1346.4" r="6.5"/><circle cx="1156" cy="1350" r="6.5"/><circle cx="1157.4" cy="1350.9" r="6.5"/><circle cx="1158.8" cy="1356.6" r="6.5"/><circle cx="1160.2" cy="1357.4" r="6.5"/><circle cx="1161.6" cy="1354.3" r="6.5"/><circle cx="1163" cy="1348.2" r="6.5"/><circle cx="1164.4" cy="1346.6" r="6.5"/><circle cx="1165.7" cy="1344.7" r="6.5"/><circle cx="1167.1" cy="1347.8" r="6.5"/><circle cx="1168.5" cy="1350.9" r="6.5"/><circle cx="1169.9" cy="1361.4" r="6.5"/><circle cx="1171.3" cy="1368.1" r="6.5"/><circle cx="1172.7" cy="1367.1" r="6.5"/><circle cx="1174.1" cy="1359.8" r="6.5"/><circle cx="1175.5" cy="1364" r="6.5"/><circle cx="1176.9" cy="1370.1" r="6.5"/><circle cx="1178.3" cy="1371.4" r="6.5"/><circle cx="1179.7" cy="1370.7" r="6.5"/><circle cx="1181.1" cy="1378.2" r="6.5"/><circle cx="1182.5" cy="1379.4" r="6.5"/><circle cx="1183.9" cy="1381.7" r="6.5"/><circle cx="1185.2" cy="1384.7" r="6.5"/><circle cx="1186.6" cy="1382.6" r="6.5"/><circle cx="1188" cy="1385.1" r="6.5"/><circle cx="1189.4" cy="1389.1" r="6.5"/><circle cx="1190.8" cy="1386.9" r="6.5"/><circle cx="1192.2" cy="1383.1" r="6.5"/><circle cx="1193.6" cy="1384.9" r="6.5"/><circle cx="1195" cy="1388.5" r="6.5"/><circle cx="1196.4" cy="1395.9" r="6.5"/><circle cx="1197.8" cy="1397.3" r="6.5"/><circle cx="1199.2" cy="1391.6" r="6.5"/><circle cx="1200.6" cy="1387.2" r="6.5"/><circle cx="1202" cy="1385" r="6.5"/><circle cx="1203.3" cy="1386.8" r="6.5"/><circle cx="1204.7" cy="1387.8" r="6.5"/><circle cx="1206.1" cy="1388" r="6.5"/><circle cx="1207.5" cy="1389.2" r="6.5"/><circle cx="1208.9" cy="1389.3" r="6.5"/><circle cx="1210.3" cy="1392.1" r="6.5"/><circle cx="1211.7" cy="1386.2" r="6.5"/><circle cx="1213.1" cy="1388" r="6.5"/><circle cx="1214.5" cy="1381.4" r="6.5"/><circle cx="1215.9" cy="1383.4" r="6.5"/><circle cx="1217.3" cy="1391.6" r="6.5"/><circle cx="1218.7" cy="1397.1" r="6.5"/><circle cx="1220.1" cy="1397.2" r="6.5"/><circle cx="1221.4" cy="1392.2" r="6.5"/><circle cx="1222.8" cy="1387.3" r="6.5"/><circle cx="1224.2" cy="1381.5" r="6.5"/><circle cx="1225.6" cy="1377.6" r="6.5"/><circle cx="1227" cy="1373.9" r="6.5"/><circle cx="1228.4" cy="1374.5" r="6.5"/><circle cx="1229.8" cy="1378.9" r="6.5"/><circle cx="1231.2" cy="1379.6" r="6.5"/><circle cx="1232.6" cy="1371.6" r="6.5"/><circle cx="1234" cy="1374" r="6.5"/><circle cx="1235.4" cy="1366.1" r="6.5"/><circle cx="1236.8" cy="1366.4" r="6.5"/><circle cx="1238.2" cy="1362" r="6.5"/><circle cx="1239.6" cy="1353.8" r="6.5"/><circle cx="1240.9" cy="1349.1" r="6.5"/><circle cx="1242.3" cy="1349.3" r="6.5"/><circle cx="1243.7" cy="1350.5" r="6.5"/><circle cx="1245.1" cy="1340.6" r="6.5"/><circle cx="1246.5" cy="1337.7" r="6.5"/><circle cx="1247.9" cy="1330.8" r="6.5"/><circle cx="1249.3" cy="1326.5" r="6.5"/><circle cx="1250.7" cy="1323.1" r="6.5"/><circle cx="1252.1" cy="1316.8" r="6.5"/><circle cx="1253.5" cy="1312.3" r="6.5"/><circle cx="1254.9" cy="1307.6" r="6.5"/><circle cx="1256.3" cy="1306" r="6.5"/><circle cx="1257.7" cy="1294.9" r="6.5"/><circle cx="1259" cy="1290.2" r="6.5"/><circle cx="1260.4" cy="1283.4" r="6.5"/><circle cx="1261.8" cy="1275.9" r="6.5"/><circle cx="1263.2" cy="1263.5" r="6.5"/><circle cx="1264.6" cy="1253.7" r="6.5"/><circle cx="1266" cy="1243.8" r="6.5"/><circle cx="1267.4" cy="1242.5" r="6.5"/><circle cx="1268.8" cy="1237.6" r="6.5"/><circle cx="1270.2" cy="1229.3" r="6.5"/><circle cx="1271.6" cy="1218.4" r="6.5"/><circle cx="1273" cy="1210.7" r="6.5"/><circle cx="1274.4" cy="1204.8" r="6.5"/><circle cx="1275.8" cy="1204.6" r="6.5"/><circle cx="1277.1" cy="1198.5" r="6.5"/><circle cx="1278.5" cy="1188" r="6.5"/><circle cx="1279.9" cy="1185.4" r="6.5"/><circle cx="1281.3" cy="1177.9" r="6.5"/><circle cx="1282.7" cy="1174.6" r="6.5"/><circle cx="1284.1" cy="1179.4" r="6.5"/><circle cx="1285.5" cy="1175.7" r="6.5"/><circle cx="1286.9" cy="1166.4" r="6.5"/><circle cx="1288.3" cy="1159.7" r="6.5"/><circle cx="1289.7" cy="1163.9" r="6.5"/><circle cx="1291.1" cy="1164.7" r="6.5"/><circle cx="1292.5" cy="1164.7" r="6.5"/><circle cx="1293.9" cy="1160.7" r="6.5"/><circle cx="1295.3" cy="1156.8" r="6.5"/><circle cx="1296.6" cy="1154.9" r="6.5"/><circle cx="1298" cy="1153.6" r="6.5"/><circle cx="1299.4" cy="1157.2" r="6.5"/><circle cx="1300.8" cy="1155.4" r="6.5"/><circle cx="1302.2" cy="1160.8" r="6.5"/><circle cx="1303.6" cy="1161.4" r="6.5"/><circle cx="1305" cy="1164.5" r="6.5"/><circle cx="1306.4" cy="1167.6" r="6.5"/><circle cx="1307.8" cy="1171.8" r="6.5"/><circle cx="1309.2" cy="1176" r="6.5"/><circle cx="1310.6" cy="1175.8" r="6.5"/><circle cx="1312" cy="1178.3" r="6.5"/><circle cx="1313.4" cy="1178.6" r="6.5"/><circle cx="1314.7" cy="1178" r="6.5"/><circle cx="1316.1" cy="1182.8" r="6.5"/><circle cx="1317.5" cy="1191.3" r="6.5"/><circle cx="1318.9" cy="1196.5" r="6.5"/><circle cx="1320.3" cy="1201.2" r="6.5"/><circle cx="1321.7" cy="1212.9" r="6.5"/><circle cx="1323.1" cy="1222.5" r="6.5"/><circle cx="1324.5" cy="1232.3" r="6.5"/><circle cx="1325.9" cy="1239.1" r="6.5"/><circle cx="1327.3" cy="1239.8" r="6.5"/><circle cx="1328.7" cy="1248.3" r="6.5"/><circle cx="1330.1" cy="1257.6" r="6.5"/><circle cx="1331.5" cy="1268" r="6.5"/><circle cx="1332.8" cy="1277.3" r="6.5"/><circle cx="1334.2" cy="1290.8" r="6.5"/><circle cx="1335.6" cy="1307.5" r="6.5"/><circle cx="1337" cy="1317.3" r="6.5"/><circle cx="1338.4" cy="1323.9" r="6.5"/><circle cx="1339.8" cy="1326.4" r="6.5"/><circle cx="1341.2" cy="1335.3" r="6.5"/><circle cx="1342.6" cy="1341.5" r="6.5"/><circle cx="1344" cy="1348.3" r="6.5"/><circle cx="1345.4" cy="1351.6" r="6.5"/><circle cx="1346.8" cy="1354.3" r="6.5"/><circle cx="1348.2" cy="1358.4" r="6.5"/><circle cx="1349.6" cy="1369.4" r="6.5"/><circle cx="1351" cy="1378.7" r="6.5"/><circle cx="1352.3" cy="1394.1" r="6.5"/><circle cx="1353.7" cy="1405" r="6.5"/><circle cx="1355.1" cy="1408.2" r="6.5"/><circle cx="1356.5" cy="1412.4" r="6.5"/><circle cx="1357.9" cy="1415.6" r="6.5"/><circle cx="1359.3" cy="1420.4" r="6.5"/><circle cx="1360.7" cy="1427.5" r="6.5"/><circle cx="1362.1" cy="1435.8" r="6.5"/><circle cx="1363.5" cy="1437.3" r="6.5"/><circle cx="1364.9" cy="1437.6" r="6.5"/><circle cx="1366.3" cy="1446.1" r="6.5"/><circle cx="1367.7" cy="1454.4" r="6.5"/><circle cx="1369.1" cy="1459.8" r="6.5"/><circle cx="1370.4" cy="1456.3" r="6.5"/><circle cx="1371.8" cy="1464.1" r="6.5"/><circle cx="1373.2" cy="1467.6" r="6.5"/><circle cx="1374.6" cy="1467" r="6.5"/><circle cx="1376" cy="1466.9" r="6.5"/><circle cx="1377.4" cy="1470.5" r="6.5"/><circle cx="1378.8" cy="1476" r="6.5"/><circle cx="1380.2" cy="1481.6" r="6.5"/><circle cx="1381.6" cy="1485.9" r="6.5"/><circle cx="1383" cy="1485.4" r="6.5"/><circle cx="1384.4" cy="1484.9" r="6.5"/><circle cx="1385.8" cy="1485.6" r="6.5"/><circle cx="1387.2" cy="1486.7" r="6.5"/><circle cx="1388.5" cy="1490.7" r="6.5"/><circle cx="1389.9" cy="1493.2" r="6.5"/><circle cx="1391.3" cy="1491.6" r="6.5"/><circle cx="1392.7" cy="1491.7" r="6.5"/><circle cx="1394.1" cy="1489.2" r="6.5"/><circle cx="1395.5" cy="1490.4" r="6.5"/><circle cx="1396.9" cy="1492.2" r="6.5"/><circle cx="1398.3" cy="1491.7" r="6.5"/><circle cx="1399.7" cy="1490.4" r="6.5"/><circle cx="1401.1" cy="1492.8" r="6.5"/><circle cx="1402.5" cy="1490.8" r="6.5"/><circle cx="1403.9" cy="1496.2" r="6.5"/><circle cx="1405.3" cy="1497.1" r="6.5"/><circle cx="1406.7" cy="1499" r="6.5"/><circle cx="1408" cy="1495.6" r="6.5"/><circle cx="1409.4" cy="1493.7" r="6.5"/><circle cx="1410.8" cy="1490.1" r="6.5"/><circle cx="1412.2" cy="1492.5" r="6.5"/><circle cx="1413.6" cy="1490" r="6.5"/><circle cx="1415" cy="1494.2" r="6.5"/><circle cx="1416.4" cy="1493.9" r="6.5"/><circle cx="1417.8" cy="1488.4" r="6.5"/><circle cx="1419.2" cy="1489.9" r="6.5"/><circle cx="1420.6" cy="1488.6" r="6.5"/><circle cx="1422" cy="1496.6" r="6.5"/><circle cx="1423.4" cy="1499.5" r="6.5"/><circle cx="1424.8" cy="1502" r="6.5"/><circle cx="1426.1" cy="1500.3" r="6.5"/><circle cx="1427.5" cy="1495.9" r="6.5"/><circle cx="1428.9" cy="1500" r="6.5"/><circle cx="1430.3" cy="1502.6" r="6.5"/><circle cx="1431.7" cy="1500.4" r="6.5"/><circle cx="1433.1" cy="1498.2" r="6.5"/><circle cx="1434.5" cy="1493.1" r="6.5"/><circle cx="1435.9" cy="1491.8" r="6.5"/><circle cx="1437.3" cy="1494" r="6.5"/><circle cx="1438.7" cy="1498.1" r="6.5"/><circle cx="1440.1" cy="1494.4" r="6.5"/><circle cx="1441.5" cy="1497.2" r="6.5"/><circle cx="1442.9" cy="1502.5" r="6.5"/><circle cx="1444.2" cy="1504.1" r="6.5"/><circle cx="1445.6" cy="1503.6" r="6.5"/><circle cx="1447" cy="1504.7" r="6.5"/><circle cx="1448.4" cy="1496.9" r="6.5"/><circle cx="1449.8" cy="1494.5" r="6.5"/><circle cx="1451.2" cy="1499.6" r="6.5"/><circle cx="1452.6" cy="1495.6" r="6.5"/><circle cx="1454" cy="1499.5" r="6.5"/><circle cx="1455.4" cy="1497.3" r="6.5"/><circle cx="1456.8" cy="1496.2" r="6.5"/><circle cx="1458.2" cy="1493.3" r="6.5"/><circle cx="1459.6" cy="1487.5" r="6.5"/><circle cx="1461" cy="1494.1" r="6.5"/><circle cx="1462.4" cy="1502.2" r="6.5"/><circle cx="1463.7" cy="1505.1" r="6.5"/><circle cx="1465.1" cy="1501.8" r="6.5"/><circle cx="1466.5" cy="1497" r="6.5"/><circle cx="1467.9" cy="1497.9" r="6.5"/><circle cx="1469.3" cy="1495.1" r="6.5"/><circle cx="1470.7" cy="1493" r="6.5"/><circle cx="1472.1" cy="1495.7" r="6.5"/><circle cx="1473.5" cy="1504.1" r="6.5"/><circle cx="1474.9" cy="1503" r="6.5"/><circle cx="1476.3" cy="1506.4" r="6.5"/><circle cx="1477.7" cy="1504.4" r="6.5"/><circle cx="1479.1" cy="1500.8" r="6.5"/><circle cx="1480.5" cy="1499.6" r="6.5"/><circle cx="1481.8" cy="1497.9" r="6.5"/><circle cx="1483.2" cy="1495.6" r="6.5"/><circle cx="1484.6" cy="1498.5" r="6.5"/><circle cx="1486" cy="1502.2" r="6.5"/><circle cx="1487.4" cy="1506" r="6.5"/><circle cx="1488.8" cy="1508.1" r="6.5"/><circle cx="1490.2" cy="1502.3" r="6.5"/><circle cx="1491.6" cy="1498.2" r="6.5"/><circle cx="1493" cy="1499.4" r="6.5"/><circle cx="1494.4" cy="1503.3" r="6.5"/><circle cx="1495.8" cy="1501.4" r="6.5"/><circle cx="1497.2" cy="1501" r="6.5"/><circle cx="1498.6" cy="1503.8" r="6.5"/><circle cx="1499.9" cy="1505" r="6.5"/><circle cx="1501.3" cy="1504" r="6.5"/><circle cx="1502.7" cy="1499.2" r="6.5"/><circle cx="1504.1" cy="1496.9" r="6.5"/><circle cx="1505.5" cy="1501.3" r="6.5"/><circle cx="1506.9" cy="1499.4" r="6.5"/><circle cx="1508.3" cy="1498.3" r="6.5"/><circle cx="1509.7" cy="1494.4" r="6.5"/><circle cx="1511.1" cy="1497.5" r="6.5"/><circle cx="1512.5" cy="1496.1" r="6.5"/><circle cx="1513.9" cy="1495.7" r="6.5"/><circle cx="1515.3" cy="1495.3" r="6.5"/><circle cx="1516.7" cy="1493.2" r="6.5"/><circle cx="1518.1" cy="1498" r="6.5"/><circle cx="1519.4" cy="1501" r="6.5"/><circle cx="1520.8" cy="1500.9" r="6.5"/><circle cx="1522.2" cy="1501.1" r="6.5"/><circle cx="1523.6" cy="1495.1" r="6.5"/><circle cx="1525" cy="1490.4" r="6.5"/><circle cx="1526.4" cy="1494.6" r="6.5"/><circle cx="1527.8" cy="1499.4" r="6.5"/><circle cx="1529.2" cy="1501.2" r="6.5"/><circle cx="1530.6" cy="1499.7" r="6.5"/><circle cx="1532" cy="1499.3" r="6.5"/><circle cx="1533.4" cy="1501.9" r="6.5"/><circle cx="1534.8" cy="1497.8" r="6.5"/><circle cx="1536.2" cy="1496.7" r="6.5"/><circle cx="1537.5" cy="1493.7" r="6.5"/><circle cx="1538.9" cy="1492.6" r="6.5"/><circle cx="1540.3" cy="1502.5" r="6.5"/><circle cx="1541.7" cy="1500.4" r="6.5"/><circle cx="1543.1" cy="1495.8" r="6.5"/><circle cx="1544.5" cy="1486.5" r="6.5"/><circle cx="1545.9" cy="1489.5" r="6.5"/><circle cx="1547.3" cy="1492.3" r="6.5"/><circle cx="1548.7" cy="1498.2" r="6.5"/><circle cx="1550.1" cy="1499.6" r="6.5"/><circle cx="1551.5" cy="1498.6" r="6.5"/><circle cx="1552.9" cy="1501.1" r="6.5"/><circle cx="1554.3" cy="1498" r="6.5"/><circle cx="1555.6" cy="1504" r="6.5"/><circle cx="1557" cy="1503" r="6.5"/><circle cx="1558.4" cy="1503" r="6.5"/><circle cx="1559.8" cy="1501.3" r="6.5"/><circle cx="1561.2" cy="1500.8" r="6.5"/><circle cx="1562.6" cy="1497.7" r="6.5"/><circle cx="1564" cy="1498.9" r="6.5"/><circle cx="1565.4" cy="1500.1" r="6.5"/><circle cx="1566.8" cy="1499.6" r="6.5"/><circle cx="1568.2" cy="1504.1" r="6.5"/><circle cx="1569.6" cy="1509.7" r="6.5"/><circle cx="1571" cy="1508.6" r="6.5"/><circle cx="1572.4" cy="1503.9" r="6.5"/><circle cx="1573.8" cy="1499.8" r="6.5"/><circle cx="1575.1" cy="1494.9" r="6.5"/><circle cx="1576.5" cy="1496.6" r="6.5"/><circle cx="1577.9" cy="1494.5" r="6.5"/><circle cx="1579.3" cy="1496.2" r="6.5"/><circle cx="1580.7" cy="1500.9" r="6.5"/><circle cx="1582.1" cy="1496.6" r="6.5"/><circle cx="1583.5" cy="1493.2" r="6.5"/><circle cx="1584.9" cy="1492.4" r="6.5"/><circle cx="1586.3" cy="1497" r="6.5"/><circle cx="1587.7" cy="1498.8" r="6.5"/><circle cx="1589.1" cy="1498" r="6.5"/><circle cx="1590.5" cy="1494.3" r="6.5"/><circle cx="1591.9" cy="1491.9" r="6.5"/><circle cx="1593.2" cy="1490.1" r="6.5"/><circle cx="1594.6" cy="1494.7" r="6.5"/><circle cx="1596" cy="1502.1" r="6.5"/><circle cx="1597.4" cy="1503.2" r="6.5"/><circle cx="1598.8" cy="1503.6" r="6.5"/><circle cx="1600.2" cy="1502.9" r="6.5"/><circle cx="1601.6" cy="1500.2" r="6.5"/><circle cx="1603" cy="1493.2" r="6.5"/><circle cx="1604.4" cy="1488.4" r="6.5"/><circle cx="1605.8" cy="1491" r="6.5"/><circle cx="1607.2" cy="1497.4" r="6.5"/><circle cx="1608.6" cy="1499" r="6.5"/><circle cx="1610" cy="1498.6" r="6.5"/><circle cx="1611.3" cy="1501.7" r="6.5"/><circle cx="1612.7" cy="1499.2" r="6.5"/><circle cx="981.5" cy="1462" r="6.5"/></g>
<g fill="none" stroke-linejoin="round" stroke-linecap="round">
<path d="M413.8,1426.1 L415.8,1426.1 L417.8,1426.1 L419.8,1426.1 L421.8,1426.1 L423.8,1426.1 L425.8,1426.1 L427.8,1426 L429.8,1426 L431.8,1426 L433.8,1425.9 L435.8,1425.9 L437.8,1425.8 L439.8,1425.8 L441.8,1425.7 L443.8,1425.6 L445.8,1425.6 L447.8,1425.5 L449.8,1425.4 L451.8,1425.3 L453.8,1425.2 L455.8,1425 L457.8,1424.9 L459.8,1424.7 L461.8,1424.6 L463.8,1424.4 L465.8,1424.2 L467.8,1424 L469.8,1423.7 L471.8,1423.5 L473.8,1423.2 L475.8,1422.9 L477.8,1422.6 L479.8,1422.3 L481.8,1421.9 L483.8,1421.5 L485.8,1421.1 L487.8,1420.7 L489.8,1420.2 L491.8,1419.7 L493.8,1419.2 L495.8,1418.6 L497.8,1418 L499.8,1417.4 L501.8,1416.7 L503.8,1416 L505.8,1415.3 L507.8,1414.5 L509.8,1413.7 L511.8,1412.9 L513.8,1412 L515.8,1411.1 L517.8,1410.1 L519.8,1409.1 L521.8,1408.1 L523.8,1407 L525.8,1405.9 L527.8,1404.7 L529.8,1403.5 L531.8,1402.3 L533.8,1401.1 L535.8,1399.8 L537.8,1398.5 L539.8,1397.1 L541.8,1395.7 L543.8,1394.3 L545.8,1392.9 L547.8,1391.5 L549.8,1390 L551.8,1388.5 L553.8,1387 L555.8,1385.5 L557.8,1384 L559.8,1382.5 L561.8,1380.9 L563.8,1379.4 L565.8,1377.9 L567.8,1376.4 L569.8,1374.9 L571.8,1373.5 L573.8,1372 L575.8,1370.6 L577.8,1369.2 L579.8,1367.9 L581.8,1366.5 L583.8,1365.3 L585.8,1364.1 L587.8,1362.9 L589.8,1361.8 L591.8,1360.7 L593.8,1359.8 L595.8,1358.8 L597.8,1358 L599.8,1357.2 L601.8,1356.5 L603.8,1355.9 L605.8,1355.4 L607.8,1354.9 L609.8,1354.5 L611.8,1354.2 L613.8,1354 L615.8,1353.9 L617.8,1353.9 L619.8,1354 L621.8,1354.1 L623.8,1354.3 L625.8,1354.6 L627.8,1355 L629.8,1355.4 L631.8,1355.9 L633.8,1356.5 L635.8,1357.1 L637.8,1357.8 L639.8,1358.6 L641.8,1359.4 L643.8,1360.2 L645.8,1361.1 L647.8,1362 L649.8,1362.9 L651.8,1363.9 L653.8,1364.9 L655.8,1365.9 L657.8,1366.9 L659.8,1367.9 L661.8,1368.9 L663.8,1369.9 L665.8,1370.9 L667.8,1371.9 L669.8,1372.8 L671.8,1373.8 L673.8,1374.7 L675.8,1375.6 L677.8,1376.5 L679.8,1377.3 L681.8,1378.1 L683.8,1378.9 L685.8,1379.6 L687.8,1380.3 L689.8,1381 L691.8,1381.6 L693.8,1382.2 L695.8,1382.7 L697.8,1383.3 L699.8,1383.7 L701.8,1384.2 L703.8,1384.6 L705.8,1385 L707.8,1385.3 L709.8,1385.7 L711.8,1386 L713.8,1386.3 L715.8,1386.6 L717.8,1386.9 L719.8,1387.2 L721.8,1387.4 L723.8,1387.7 L725.8,1388 L727.8,1388.2 L729.8,1388.5 L731.8,1388.7 L733.8,1388.9 L735.8,1389.1 L737.8,1389.2 L739.8,1389.3 L741.8,1389.3 L743.8,1389.2 L745.8,1389 L747.8,1388.7 L749.8,1388.3 L751.8,1387.7 L753.8,1387 L755.8,1386.1 L757.8,1384.9 L759.8,1383.6 L761.8,1382 L763.8,1380.3 L765.8,1378.2 L767.8,1376 L769.8,1373.5 L771.8,1370.7 L773.8,1367.8 L775.8,1364.7 L777.8,1361.4 L779.8,1357.9 L781.8,1354.4 L783.8,1350.7 L785.8,1347 L787.8,1343.4 L789.8,1339.7 L791.8,1336.2 L793.8,1332.9 L795.8,1329.7 L797.8,1326.8 L799.8,1324.2 L801.8,1321.9 L803.8,1320 L805.8,1318.5 L807.8,1317.5 L809.8,1316.9 L811.8,1316.8 L813.8,1317.3 L815.8,1318.2 L817.8,1319.7 L819.8,1321.6 L821.8,1324 L823.8,1326.9 L825.8,1330.2 L827.8,1333.9 L829.8,1337.9 L831.8,1342.2 L833.8,1346.8 L835.8,1351.6 L837.8,1356.6 L839.8,1361.6 L841.8,1366.7 L843.8,1371.9 L845.8,1377 L847.8,1382 L849.8,1386.9 L851.8,1391.7 L853.8,1396.3 L855.8,1400.7 L857.8,1404.9 L859.8,1408.9 L861.8,1412.6 L863.8,1416.1 L865.8,1419.3 L867.8,1422.3 L869.8,1425 L871.8,1427.5 L873.8,1429.8 L875.8,1431.9 L877.8,1433.7 L879.8,1435.3 L881.8,1436.8 L883.8,1438.1 L885.8,1439.2 L887.8,1440.2 L889.8,1441.1 L891.8,1441.8 L893.8,1442.5 L895.8,1443.1 L897.8,1443.6 L899.8,1444 L901.8,1444.4 L903.8,1444.7 L905.8,1444.9 L907.8,1445.1 L909.8,1445.3 L911.8,1445.5 L913.8,1445.6 L915.8,1445.7 L917.8,1445.8 L919.8,1445.9 L921.8,1446 L923.8,1446 L925.8,1446 L927.8,1446.1 L929.8,1446.1 L931.8,1446.1 L933.8,1446.1 L935.8,1446.1 L937.8,1446.1 L939.8,1446.1 L941.8,1446.1 L943.8,1446 L945.8,1446 L947.8,1445.9 L949.8,1445.9 L951.8,1445.8 L953.8,1445.8 L955.8,1445.7 L957.8,1445.6 L959.8,1445.5 L961.8,1445.4 L963.8,1445.3 L965.8,1445.2 L967.8,1445.1 L969.8,1444.9 L971.8,1444.8 L973.8,1444.6 L975.8,1444.4 L977.8,1444.2 L979.8,1444 L981.8,1443.8 L983.8,1443.5 L985.8,1443.2 L987.8,1442.9 L989.8,1442.6 L991.8,1442.3 L993.8,1441.9 L995.8,1441.5 L997.8,1441.1 L999.8,1440.6 L1001.8,1440.1 L1003.8,1439.6 L1005.8,1439 L1007.8,1438.4 L1009.8,1437.7 L1011.8,1437 L1013.8,1436.2 L1015.8,1435.4 L1017.8,1434.6 L1019.8,1433.6 L1021.8,1432.6 L1023.8,1431.6 L1025.8,1430.5 L1027.8,1429.3 L1029.8,1428.1 L1031.8,1426.8 L1033.8,1425.4 L1035.8,1424 L1037.8,1422.5 L1039.8,1420.9 L1041.8,1419.2 L1043.8,1417.5 L1045.8,1415.7 L1047.8,1413.8 L1049.8,1411.8 L1051.8,1409.8 L1053.8,1407.7 L1055.8,1405.5 L1057.8,1403.3 L1059.8,1400.9 L1061.8,1398.5 L1063.8,1396.1 L1065.8,1393.6 L1067.8,1391 L1069.8,1388.4 L1071.8,1385.8 L1073.8,1383.1 L1075.8,1380.3 L1077.8,1377.6 L1079.8,1374.8 L1081.8,1372 L1083.8,1369.2 L1085.8,1366.4 L1087.8,1363.7 L1089.8,1360.9 L1091.8,1358.2 L1093.8,1355.6 L1095.8,1353 L1097.8,1350.4 L1099.8,1348 L1101.8,1345.7 L1103.8,1343.4 L1105.8,1341.3 L1107.8,1339.4 L1109.8,1337.6 L1111.8,1336 L1113.8,1334.5 L1115.8,1333.3 L1117.8,1332.2 L1119.8,1331.3 L1121.8,1330.7 L1123.8,1330.3 L1125.8,1330.1 L1127.8,1330.1 L1129.8,1330.4 L1131.8,1330.9 L1133.8,1331.7 L1135.8,1332.6 L1137.8,1333.7 L1139.8,1335.1 L1141.8,1336.6 L1143.8,1338.2 L1145.8,1340 L1147.8,1342 L1149.8,1344.1 L1151.8,1346.2 L1153.8,1348.5 L1155.8,1350.8 L1157.8,1353.1 L1159.8,1355.5 L1161.8,1357.9 L1163.8,1360.4 L1165.8,1362.8 L1167.8,1365.2 L1169.8,1367.5 L1171.8,1369.8 L1173.8,1372.1 L1175.8,1374.3 L1177.8,1376.4 L1179.8,1378.4 L1181.8,1380.3 L1183.8,1382.1 L1185.8,1383.7 L1187.8,1385.3 L1189.8,1386.7 L1191.8,1388 L1193.8,1389.1 L1195.8,1390 L1197.8,1390.8 L1199.8,1391.4 L1201.8,1391.8 L1203.8,1392 L1205.8,1392.1 L1207.8,1391.9 L1209.8,1391.5 L1211.8,1390.9 L1213.8,1390 L1215.8,1389 L1217.8,1387.7 L1219.8,1386.2 L1221.8,1384.5 L1223.8,1382.6 L1225.8,1380.5 L1227.8,1378.2 L1229.8,1375.7 L1231.8,1373 L1233.8,1370.2 L1235.8,1367.1 L1237.8,1363.9 L1239.8,1360.5 L1241.8,1356.9 L1243.8,1353.1 L1245.8,1349 L1247.8,1344.6 L1249.8,1339.8 L1251.8,1334.7 L1253.8,1329.2 L1255.8,1323.2 L1257.8,1316.8 L1259.8,1309.8 L1261.8,1302.4 L1263.8,1294.5 L1265.8,1286.2 L1267.8,1277.5 L1269.8,1268.4 L1271.8,1259.1 L1273.8,1249.7 L1275.8,1240.2 L1277.8,1230.7 L1279.8,1221.4 L1281.8,1212.3 L1283.8,1203.8 L1285.8,1195.7 L1287.8,1188.4 L1289.8,1181.9 L1291.8,1176.2 L1293.8,1171.6 L1295.8,1168.1 L1297.8,1165.8 L1299.8,1164.6 L1301.8,1164.8 L1303.8,1166.3 L1305.8,1169 L1307.8,1173 L1309.8,1178.3 L1311.8,1184.7 L1313.8,1192.3 L1315.8,1200.9 L1317.8,1210.4 L1319.8,1220.8 L1321.8,1231.9 L1323.8,1243.6 L1325.8,1255.8 L1327.8,1268.4 L1329.8,1281.2 L1331.8,1294.1 L1333.8,1307.1 L1335.8,1319.9 L1337.8,1332.4 L1339.8,1344.7 L1341.8,1356.6 L1343.8,1368 L1345.8,1378.9 L1347.8,1389.3 L1349.8,1399 L1351.8,1408.2 L1353.8,1416.6 L1355.8,1424.5 L1357.8,1431.7 L1359.8,1438.3 L1361.8,1444.2 L1363.8,1449.6 L1365.8,1454.5 L1367.8,1458.9 L1369.8,1462.8 L1371.8,1466.2 L1373.8,1469.3 L1375.8,1472 L1377.8,1474.3 L1379.8,1476.4 L1381.8,1478.2 L1383.8,1479.7 L1385.8,1481.1 L1387.8,1482.3 L1389.8,1483.3 L1391.8,1484.1 L1393.8,1484.9 L1395.8,1485.5 L1397.8,1486.1 L1399.8,1486.5 L1401.8,1486.9 L1403.8,1487.3 L1405.8,1487.6 L1407.8,1487.9 L1409.8,1488.2 L1411.8,1488.4 L1413.8,1488.6 L1415.8,1488.8 L1417.8,1488.9 L1419.8,1489.1 L1421.8,1489.3 L1423.8,1489.4 L1425.8,1489.5 L1427.8,1489.7 L1429.8,1489.8 L1431.8,1489.9 L1433.8,1490 L1435.8,1490.1 L1437.8,1490.2 L1439.8,1490.3 L1441.8,1490.4 L1443.8,1490.5 L1445.8,1490.6 L1447.8,1490.7 L1449.8,1490.8 L1451.8,1490.9 L1453.8,1491 L1455.8,1491.1 L1457.8,1491.2 L1459.8,1491.3 L1461.8,1491.4 L1463.8,1491.4 L1465.8,1491.5 L1467.8,1491.6 L1469.8,1491.7 L1471.8,1491.8 L1473.8,1491.8 L1475.8,1491.9 L1477.8,1492 L1479.8,1492 L1481.8,1492.1 L1483.8,1492.2 L1485.8,1492.2 L1487.8,1492.3 L1489.8,1492.4 L1491.8,1492.4 L1493.8,1492.5 L1495.8,1492.6 L1497.8,1492.6 L1499.8,1492.7 L1501.8,1492.7 L1503.8,1492.8 L1505.8,1492.9 L1507.8,1492.9 L1509.8,1493 L1511.8,1493 L1513.8,1493.1 L1515.8,1493.1 L1517.8,1493.2 L1519.8,1493.2 L1521.8,1493.3 L1523.8,1493.3 L1525.8,1493.4 L1527.8,1493.4 L1529.8,1493.5 L1531.8,1493.5 L1533.8,1493.6 L1535.8,1493.6 L1537.8,1493.6 L1539.8,1493.7 L1541.8,1493.7 L1543.8,1493.8 L1545.8,1493.8 L1547.8,1493.8 L1549.8,1493.9 L1551.8,1493.9 L1553.8,1493.9 L1555.8,1494 L1557.8,1494 L1559.8,1494.1 L1561.8,1494.1 L1563.8,1494.1 L1565.8,1494.1 L1567.8,1494.2 L1569.8,1494.2 L1571.8,1494.2 L1573.8,1494.3 L1575.8,1494.3 L1577.8,1494.3 L1579.8,1494.3 L1581.8,1494.4 L1583.8,1494.4 L1585.8,1494.4 L1587.8,1494.4 L1589.8,1494.5 L1591.8,1494.5 L1593.8,1494.5 L1595.8,1494.5 L1597.8,1494.6 L1599.8,1494.6 L1601.8,1494.6 L1603.8,1494.6 L1605.8,1494.6 L1607.8,1494.6 L1609.8,1494.7 L1611.8,1494.7 L1613.2,1494.7" stroke="#FF0000" stroke-width="5.3"/>
<path d="M413.8,1427.5 L415.8,1427.6 L417.8,1427.6 L419.8,1427.6 L421.8,1427.6 L423.8,1427.6 L425.8,1427.5 L427.8,1427.5 L429.8,1427.5 L431.8,1427.5 L433.8,1427.5 L435.8,1427.5 L437.8,1427.4 L439.8,1427.4 L441.8,1427.3 L443.8,1427.3 L445.8,1427.2 L447.8,1427.1 L449.8,1427.1 L451.8,1427 L453.8,1426.9 L455.8,1426.8 L457.8,1426.7 L459.8,1426.5 L461.8,1426.4 L463.8,1426.2 L465.8,1426 L467.8,1425.8 L469.8,1425.6 L471.8,1425.4 L473.8,1425.2 L475.8,1424.9 L477.8,1424.6 L479.8,1424.3 L481.8,1423.9 L483.8,1423.6 L485.8,1423.2 L487.8,1422.8 L489.8,1422.3 L491.8,1421.9 L493.8,1421.4 L495.8,1420.8 L497.8,1420.3 L499.8,1419.7 L501.8,1419 L503.8,1418.4 L505.8,1417.7 L507.8,1416.9 L509.8,1416.2 L511.8,1415.4 L513.8,1414.5 L515.8,1413.6 L517.8,1412.7 L519.8,1411.7 L521.8,1410.7 L523.8,1409.7 L525.8,1408.6 L527.8,1407.5 L529.8,1406.4 L531.8,1405.2 L533.8,1404 L535.8,1402.8 L537.8,1401.5 L539.8,1400.2 L541.8,1398.9 L543.8,1397.5 L545.8,1396.1 L547.8,1394.8 L549.8,1393.3 L551.8,1391.9 L553.8,1390.5 L555.8,1389 L557.8,1387.6 L559.8,1386.1 L561.8,1384.7 L563.8,1383.2 L565.8,1381.8 L567.8,1380.4 L569.8,1379 L571.8,1377.6 L573.8,1376.2 L575.8,1374.9 L577.8,1373.6 L579.8,1372.3 L581.8,1371.1 L583.8,1370 L585.8,1368.9 L587.8,1367.8 L589.8,1366.8 L591.8,1365.9 L593.8,1365 L595.8,1364.2 L597.8,1363.5 L599.8,1362.9 L601.8,1362.4 L603.8,1361.9 L605.8,1361.5 L607.8,1361.2 L609.8,1361.1 L611.8,1361 L613.8,1361 L615.8,1361.1 L617.8,1361.2 L619.8,1361.5 L621.8,1361.9 L623.8,1362.4 L625.8,1362.9 L627.8,1363.6 L629.8,1364.3 L631.8,1365.1 L633.8,1366 L635.8,1367 L637.8,1368 L639.8,1369.1 L641.8,1370.3 L643.8,1371.5 L645.8,1372.8 L647.8,1374.2 L649.8,1375.6 L651.8,1377 L653.8,1378.5 L655.8,1380 L657.8,1381.5 L659.8,1383.1 L661.8,1384.7 L663.8,1386.3 L665.8,1387.9 L667.8,1389.5 L669.8,1391.1 L671.8,1392.7 L673.8,1394.4 L675.8,1396 L677.8,1397.6 L679.8,1399.2 L681.8,1400.8 L683.8,1402.3 L685.8,1403.9 L687.8,1405.4 L689.8,1406.9 L691.8,1408.3 L693.8,1409.8 L695.8,1411.2 L697.8,1412.6 L699.8,1413.9 L701.8,1415.2 L703.8,1416.5 L705.8,1417.7 L707.8,1418.9 L709.8,1420.1 L711.8,1421.2 L713.8,1422.3 L715.8,1423.4 L717.8,1424.4 L719.8,1425.4 L721.8,1426.3 L723.8,1427.2 L725.8,1428.1 L727.8,1428.9 L729.8,1429.7 L731.8,1430.5 L733.8,1431.2 L735.8,1431.9 L737.8,1432.6 L739.8,1433.3 L741.8,1433.9 L743.8,1434.5 L745.8,1435.1 L747.8,1435.7 L749.8,1436.2 L751.8,1436.7 L753.8,1437.2 L755.8,1437.7 L757.8,1438.2 L759.8,1438.6 L761.8,1439 L763.8,1439.5 L765.8,1439.9 L767.8,1440.2 L769.8,1440.6 L771.8,1441 L773.8,1441.3 L775.8,1441.7 L777.8,1442 L779.8,1442.3 L781.8,1442.6 L783.8,1442.9 L785.8,1443.2 L787.8,1443.5 L789.8,1443.8 L791.8,1444.1 L793.8,1444.3 L795.8,1444.6 L797.8,1444.9 L799.8,1445.1 L801.8,1445.4 L803.8,1445.6 L805.8,1445.8 L807.8,1446.1 L809.8,1446.3 L811.8,1446.5 L813.8,1446.7 L815.8,1447 L817.8,1447.2 L819.8,1447.4 L821.8,1447.6 L823.8,1447.8 L825.8,1448 L827.8,1448.2 L829.8,1448.4 L831.8,1448.6 L833.8,1448.8 L835.8,1449 L837.8,1449.1 L839.8,1449.3 L841.8,1449.5 L843.8,1449.6 L845.8,1449.8 L847.8,1450 L849.8,1450.1 L851.8,1450.3 L853.8,1450.4 L855.8,1450.6 L857.8,1450.7 L859.8,1450.9 L861.8,1451 L863.8,1451.1 L865.8,1451.2 L867.8,1451.4 L869.8,1451.5 L871.8,1451.6 L873.8,1451.7 L875.8,1451.8 L877.8,1451.9 L879.8,1451.9 L881.8,1452 L883.8,1452.1 L885.8,1452.2 L887.8,1452.3 L889.8,1452.3 L891.8,1452.4 L893.8,1452.5 L895.8,1452.5 L897.8,1452.6 L899.8,1452.7 L901.8,1452.7 L903.8,1452.8 L905.8,1452.9 L907.8,1452.9 L909.8,1453 L911.8,1453 L913.8,1453.1 L915.8,1453.2 L917.8,1453.2 L919.8,1453.3 L921.8,1453.3 L923.8,1453.4 L925.8,1453.4 L927.8,1453.5 L929.8,1453.5 L931.8,1453.6 L933.8,1453.6 L935.8,1453.7 L937.8,1453.7 L939.8,1453.8 L941.8,1453.8 L943.8,1453.9 L945.8,1453.9 L947.8,1453.9 L949.8,1454 L951.8,1454 L953.8,1454.1 L955.8,1454.1 L957.8,1454.2 L959.8,1454.2 L961.8,1454.3 L963.8,1454.3 L965.8,1454.4 L967.8,1454.4 L969.8,1454.5 L971.8,1454.5 L973.8,1454.5 L975.8,1454.6 L977.8,1454.6 L979.8,1454.7 L981.8,1454.7 L983.8,1454.8 L985.8,1454.8 L987.8,1454.9 L989.8,1454.9 L991.8,1455 L993.8,1455.1 L995.8,1455.1 L997.8,1455.2 L999.8,1455.2 L1001.8,1455.3 L1003.8,1455.3 L1005.8,1455.4 L1007.8,1455.5 L1009.8,1455.5 L1011.8,1455.6 L1013.8,1455.6 L1015.8,1455.7 L1017.8,1455.7 L1019.8,1455.8 L1021.8,1455.8 L1023.8,1455.9 L1025.8,1455.9 L1027.8,1456 L1029.8,1456 L1031.8,1456.1 L1033.8,1456.2 L1035.8,1456.2 L1037.8,1456.3 L1039.8,1456.3 L1041.8,1456.4 L1043.8,1456.4 L1045.8,1456.5 L1047.8,1456.5 L1049.8,1456.6 L1051.8,1456.6 L1053.8,1456.7 L1055.8,1456.7 L1057.8,1456.8 L1059.8,1456.9 L1061.8,1456.9 L1063.8,1457 L1065.8,1457 L1067.8,1457.1 L1069.8,1457.1 L1071.8,1457.2 L1073.8,1457.3 L1075.8,1457.3 L1077.8,1457.4 L1079.8,1457.5 L1081.8,1457.5 L1083.8,1457.6 L1085.8,1457.7 L1087.8,1457.7 L1089.8,1457.8 L1091.8,1457.9 L1093.8,1458 L1095.8,1458 L1097.8,1458.1 L1099.8,1458.2 L1101.8,1458.3 L1103.8,1458.4 L1105.8,1458.5 L1107.8,1458.5 L1109.8,1458.6 L1111.8,1458.7 L1113.8,1458.8 L1115.8,1458.9 L1117.8,1459 L1119.8,1459.1 L1121.8,1459.2 L1123.8,1459.3 L1125.8,1459.4 L1127.8,1459.6 L1129.8,1459.7 L1131.8,1459.9 L1133.8,1460 L1135.8,1460.2 L1137.8,1460.4 L1139.8,1460.6 L1141.8,1460.8 L1143.8,1461.1 L1145.8,1461.3 L1147.8,1461.5 L1149.8,1461.8 L1151.8,1462 L1153.8,1462.2 L1155.8,1462.5 L1157.8,1462.7 L1159.8,1463 L1161.8,1463.2 L1163.8,1463.5 L1165.8,1463.7 L1167.8,1464 L1169.8,1464.2 L1171.8,1464.5 L1173.8,1464.7 L1175.8,1464.9 L1177.8,1465.1 L1179.8,1465.4 L1181.8,1465.6 L1183.8,1465.8 L1185.8,1465.9 L1187.8,1466.1 L1189.8,1466.3 L1191.8,1466.5 L1193.8,1466.7 L1195.8,1466.8 L1197.8,1467 L1199.8,1467.2 L1201.8,1467.4 L1203.8,1467.5 L1205.8,1467.7 L1207.8,1467.9 L1209.8,1468.1 L1211.8,1468.2 L1213.8,1468.4 L1215.8,1468.6 L1217.8,1468.8 L1219.8,1469 L1221.8,1469.2 L1223.8,1469.4 L1225.8,1469.6 L1227.8,1469.8 L1229.8,1470 L1231.8,1470.2 L1233.8,1470.4 L1235.8,1470.7 L1237.8,1470.9 L1239.8,1471.2 L1241.8,1471.5 L1243.8,1471.8 L1245.8,1472.1 L1247.8,1472.4 L1249.8,1472.8 L1251.8,1473.1 L1253.8,1473.5 L1255.8,1473.9 L1257.8,1474.3 L1259.8,1474.7 L1261.8,1475.1 L1263.8,1475.5 L1265.8,1475.9 L1267.8,1476.4 L1269.8,1476.8 L1271.8,1477.2 L1273.8,1477.6 L1275.8,1478.1 L1277.8,1478.5 L1279.8,1478.9 L1281.8,1479.3 L1283.8,1479.7 L1285.8,1480.1 L1287.8,1480.5 L1289.8,1481 L1291.8,1481.4 L1293.8,1481.8 L1295.8,1482.3 L1297.8,1482.7 L1299.8,1483.2 L1301.8,1483.6 L1303.8,1484 L1305.8,1484.5 L1307.8,1484.9 L1309.8,1485.3 L1311.8,1485.7 L1313.8,1486.1 L1315.8,1486.4 L1317.8,1486.8 L1319.8,1487.2 L1321.8,1487.5 L1323.8,1487.8 L1325.8,1488.2 L1327.8,1488.6 L1329.8,1488.9 L1331.8,1489.3 L1333.8,1489.6 L1335.8,1490 L1337.8,1490.3 L1339.8,1490.6 L1341.8,1490.9 L1343.8,1491.2 L1345.8,1491.5 L1347.8,1491.8 L1349.8,1492 L1351.8,1492.3 L1353.8,1492.5 L1355.8,1492.7 L1357.8,1492.8 L1359.8,1492.9 L1361.8,1493 L1363.8,1493.1 L1365.8,1493.2 L1367.8,1493.3 L1369.8,1493.4 L1371.8,1493.4 L1373.8,1493.5 L1375.8,1493.6 L1377.8,1493.6 L1379.8,1493.7 L1381.8,1493.7 L1383.8,1493.8 L1385.8,1493.8 L1387.8,1493.9 L1389.8,1493.9 L1391.8,1494 L1393.8,1494 L1395.8,1494.1 L1397.8,1494.1 L1399.8,1494.1 L1401.8,1494.2 L1403.8,1494.2 L1405.8,1494.2 L1407.8,1494.3 L1409.8,1494.3 L1411.8,1494.3 L1413.8,1494.4 L1415.8,1494.4 L1417.8,1494.4 L1419.8,1494.5 L1421.8,1494.5 L1423.8,1494.5 L1425.8,1494.6 L1427.8,1494.6 L1429.8,1494.6 L1431.8,1494.7 L1433.8,1494.7 L1435.8,1494.7 L1437.8,1494.7 L1439.8,1494.8 L1441.8,1494.8 L1443.8,1494.8 L1445.8,1494.9 L1447.8,1494.9 L1449.8,1494.9 L1451.8,1495 L1453.8,1495 L1455.8,1495 L1457.8,1495 L1459.8,1495.1 L1461.8,1495.1 L1463.8,1495.1 L1465.8,1495.1 L1467.8,1495.2 L1469.8,1495.2 L1471.8,1495.2 L1473.8,1495.3 L1475.8,1495.3 L1477.8,1495.3 L1479.8,1495.3 L1481.8,1495.4 L1483.8,1495.4 L1485.8,1495.4 L1487.8,1495.4 L1489.8,1495.5 L1491.8,1495.5 L1493.8,1495.5 L1495.8,1495.5 L1497.8,1495.5 L1499.8,1495.6 L1501.8,1495.6 L1503.8,1495.6 L1505.8,1495.6 L1507.8,1495.7 L1509.8,1495.7 L1511.8,1495.7 L1513.8,1495.7 L1515.8,1495.7 L1517.8,1495.8 L1519.8,1495.8 L1521.8,1495.8 L1523.8,1495.8 L1525.8,1495.8 L1527.8,1495.9 L1529.8,1495.9 L1531.8,1495.9 L1533.8,1495.9 L1535.8,1495.9 L1537.8,1495.9 L1539.8,1496 L1541.8,1496 L1543.8,1496 L1545.8,1496 L1547.8,1496 L1549.8,1496 L1551.8,1496 L1553.8,1496.1 L1555.8,1496.1 L1557.8,1496.1 L1559.8,1496.1 L1561.8,1496.1 L1563.8,1496.1 L1565.8,1496.1 L1567.8,1496.1 L1569.8,1496.1 L1571.8,1496.2 L1573.8,1496.2 L1575.8,1496.2 L1577.8,1496.2 L1579.8,1496.2 L1581.8,1496.2 L1583.8,1496.2 L1585.8,1496.2 L1587.8,1496.2 L1589.8,1496.2 L1591.8,1496.2 L1593.8,1496.2 L1595.8,1496.2 L1597.8,1496.2 L1599.8,1496.2 L1601.8,1496.3 L1603.8,1496.3 L1605.8,1496.3 L1607.8,1496.3 L1609.8,1496.3 L1611.8,1496.3 L1613.2,1496.3" stroke="#008000" stroke-width="4"/>
<path d="M413.8,1428.3 L415.8,1428.3 L417.8,1428.4 L419.8,1428.4 L421.8,1428.4 L423.8,1428.5 L425.8,1428.5 L427.8,1428.6 L429.8,1428.6 L431.8,1428.7 L433.8,1428.7 L435.8,1428.7 L437.8,1428.8 L439.8,1428.8 L441.8,1428.9 L443.8,1428.9 L445.8,1429 L447.8,1429 L449.8,1429.1 L451.8,1429.1 L453.8,1429.2 L455.8,1429.2 L457.8,1429.3 L459.8,1429.3 L461.8,1429.4 L463.8,1429.4 L465.8,1429.5 L467.8,1429.5 L469.8,1429.6 L471.8,1429.6 L473.8,1429.7 L475.8,1429.7 L477.8,1429.8 L479.8,1429.9 L481.8,1429.9 L483.8,1430 L485.8,1430 L487.8,1430.1 L489.8,1430.1 L491.8,1430.2 L493.8,1430.3 L495.8,1430.3 L497.8,1430.4 L499.8,1430.4 L501.8,1430.5 L503.8,1430.6 L505.8,1430.6 L507.8,1430.7 L509.8,1430.7 L511.8,1430.8 L513.8,1430.9 L515.8,1430.9 L517.8,1431 L519.8,1431 L521.8,1431.1 L523.8,1431.2 L525.8,1431.2 L527.8,1431.3 L529.8,1431.4 L531.8,1431.4 L533.8,1431.5 L535.8,1431.6 L537.8,1431.6 L539.8,1431.7 L541.8,1431.8 L543.8,1431.8 L545.8,1431.9 L547.8,1432 L549.8,1432 L551.8,1432.1 L553.8,1432.2 L555.8,1432.2 L557.8,1432.3 L559.8,1432.4 L561.8,1432.5 L563.8,1432.5 L565.8,1432.6 L567.8,1432.7 L569.8,1432.7 L571.8,1432.8 L573.8,1432.9 L575.8,1432.9 L577.8,1433 L579.8,1433.1 L581.8,1433.2 L583.8,1433.2 L585.8,1433.3 L587.8,1433.4 L589.8,1433.5 L591.8,1433.5 L593.8,1433.6 L595.8,1433.7 L597.8,1433.7 L599.8,1433.8 L601.8,1433.9 L603.8,1434 L605.8,1434 L607.8,1434.1 L609.8,1434.2 L611.8,1434.3 L613.8,1434.3 L615.8,1434.4 L617.8,1434.5 L619.8,1434.6 L621.8,1434.6 L623.8,1434.7 L625.8,1434.8 L627.8,1434.9 L629.8,1434.9 L631.8,1435 L633.8,1435.1 L635.8,1435.2 L637.8,1435.3 L639.8,1435.3 L641.8,1435.4 L643.8,1435.5 L645.8,1435.6 L647.8,1435.7 L649.8,1435.8 L651.8,1435.8 L653.8,1435.9 L655.8,1436 L657.8,1436.1 L659.8,1436.2 L661.8,1436.3 L663.8,1436.4 L665.8,1436.5 L667.8,1436.5 L669.8,1436.6 L671.8,1436.7 L673.8,1436.8 L675.8,1436.9 L677.8,1437 L679.8,1437.1 L681.8,1437.2 L683.8,1437.3 L685.8,1437.4 L687.8,1437.5 L689.8,1437.6 L691.8,1437.7 L693.8,1437.8 L695.8,1437.9 L697.8,1438 L699.8,1438.1 L701.8,1438.2 L703.8,1438.3 L705.8,1438.4 L707.8,1438.5 L709.8,1438.6 L711.8,1438.7 L713.8,1438.8 L715.8,1438.9 L717.8,1439 L719.8,1439.1 L721.8,1439.2 L723.8,1439.3 L725.8,1439.4 L727.8,1439.6 L729.8,1439.7 L731.8,1439.8 L733.8,1439.9 L735.8,1440 L737.8,1440.1 L739.8,1440.3 L741.8,1440.4 L743.8,1440.5 L745.8,1440.7 L747.8,1440.8 L749.8,1440.9 L751.8,1441.1 L753.8,1441.2 L755.8,1441.4 L757.8,1441.5 L759.8,1441.7 L761.8,1441.8 L763.8,1442 L765.8,1442.1 L767.8,1442.3 L769.8,1442.5 L771.8,1442.6 L773.8,1442.8 L775.8,1443 L777.8,1443.1 L779.8,1443.3 L781.8,1443.5 L783.8,1443.7 L785.8,1443.8 L787.8,1444 L789.8,1444.2 L791.8,1444.3 L793.8,1444.5 L795.8,1444.7 L797.8,1444.9 L799.8,1445 L801.8,1445.2 L803.8,1445.4 L805.8,1445.5 L807.8,1445.7 L809.8,1445.9 L811.8,1446 L813.8,1446.2 L815.8,1446.4 L817.8,1446.5 L819.8,1446.7 L821.8,1446.8 L823.8,1447 L825.8,1447.2 L827.8,1447.3 L829.8,1447.5 L831.8,1447.6 L833.8,1447.7 L835.8,1447.9 L837.8,1448 L839.8,1448.2 L841.8,1448.3 L843.8,1448.4 L845.8,1448.5 L847.8,1448.7 L849.8,1448.8 L851.8,1448.9 L853.8,1449 L855.8,1449.1 L857.8,1449.2 L859.8,1449.3 L861.8,1449.4 L863.8,1449.5 L865.8,1449.5 L867.8,1449.6 L869.8,1449.7 L871.8,1449.8 L873.8,1449.8 L875.8,1449.9 L877.8,1449.9 L879.8,1449.9 L881.8,1450 L883.8,1450 L885.8,1450 L887.8,1450.1 L889.8,1450.1 L891.8,1450.1 L893.8,1450.1 L895.8,1450.1 L897.8,1450.2 L899.8,1450.2 L901.8,1450.2 L903.8,1450.2 L905.8,1450.2 L907.8,1450.2 L909.8,1450.2 L911.8,1450.2 L913.8,1450.2 L915.8,1450.1 L917.8,1450.1 L919.8,1450.1 L921.8,1450.1 L923.8,1450.1 L925.8,1450 L927.8,1450 L929.8,1450 L931.8,1450 L933.8,1449.9 L935.8,1449.9 L937.8,1449.8 L939.8,1449.8 L941.8,1449.7 L943.8,1449.7 L945.8,1449.6 L947.8,1449.5 L949.8,1449.5 L951.8,1449.4 L953.8,1449.3 L955.8,1449.2 L957.8,1449.1 L959.8,1449 L961.8,1448.9 L963.8,1448.8 L965.8,1448.6 L967.8,1448.5 L969.8,1448.3 L971.8,1448.2 L973.8,1448 L975.8,1447.8 L977.8,1447.6 L979.8,1447.4 L981.8,1447.1 L983.8,1446.9 L985.8,1446.6 L987.8,1446.3 L989.8,1446 L991.8,1445.7 L993.8,1445.3 L995.8,1444.9 L997.8,1444.5 L999.8,1444 L1001.8,1443.5 L1003.8,1443 L1005.8,1442.4 L1007.8,1441.8 L1009.8,1441.2 L1011.8,1440.5 L1013.8,1439.7 L1015.8,1438.9 L1017.8,1438.1 L1019.8,1437.2 L1021.8,1436.2 L1023.8,1435.2 L1025.8,1434.1 L1027.8,1433 L1029.8,1431.8 L1031.8,1430.5 L1033.8,1429.1 L1035.8,1427.7 L1037.8,1426.2 L1039.8,1424.7 L1041.8,1423.1 L1043.8,1421.4 L1045.8,1419.6 L1047.8,1417.7 L1049.8,1415.8 L1051.8,1413.8 L1053.8,1411.8 L1055.8,1409.6 L1057.8,1407.4 L1059.8,1405.2 L1061.8,1402.8 L1063.8,1400.4 L1065.8,1398 L1067.8,1395.5 L1069.8,1393 L1071.8,1390.4 L1073.8,1387.7 L1075.8,1385.1 L1077.8,1382.4 L1079.8,1379.7 L1081.8,1377 L1083.8,1374.3 L1085.8,1371.6 L1087.8,1368.9 L1089.8,1366.3 L1091.8,1363.7 L1093.8,1361.1 L1095.8,1358.6 L1097.8,1356.2 L1099.8,1353.9 L1101.8,1351.7 L1103.8,1349.6 L1105.8,1347.6 L1107.8,1345.8 L1109.8,1344.2 L1111.8,1342.7 L1113.8,1341.4 L1115.8,1340.3 L1117.8,1339.4 L1119.8,1338.7 L1121.8,1338.3 L1123.8,1338.1 L1125.8,1338.1 L1127.8,1338.4 L1129.8,1338.9 L1131.8,1339.6 L1133.8,1340.6 L1135.8,1341.8 L1137.8,1343.2 L1139.8,1344.9 L1141.8,1346.7 L1143.8,1348.7 L1145.8,1350.8 L1147.8,1353.1 L1149.8,1355.6 L1151.8,1358.1 L1153.8,1360.8 L1155.8,1363.5 L1157.8,1366.4 L1159.8,1369.3 L1161.8,1372.2 L1163.8,1375.2 L1165.8,1378.2 L1167.8,1381.2 L1169.8,1384.2 L1171.8,1387.2 L1173.8,1390.2 L1175.8,1393.2 L1177.8,1396.1 L1179.8,1399 L1181.8,1401.8 L1183.8,1404.6 L1185.8,1407.4 L1187.8,1410 L1189.8,1412.6 L1191.8,1415.2 L1193.8,1417.7 L1195.8,1420.1 L1197.8,1422.4 L1199.8,1424.7 L1201.8,1426.9 L1203.8,1429 L1205.8,1431.1 L1207.8,1433.1 L1209.8,1435 L1211.8,1436.8 L1213.8,1438.6 L1215.8,1440.3 L1217.8,1441.9 L1219.8,1443.5 L1221.8,1445 L1223.8,1446.4 L1225.8,1447.8 L1227.8,1449.2 L1229.8,1450.4 L1231.8,1451.7 L1233.8,1452.8 L1235.8,1454 L1237.8,1455 L1239.8,1456.1 L1241.8,1457.1 L1243.8,1458.1 L1245.8,1459.1 L1247.8,1460 L1249.8,1460.9 L1251.8,1461.8 L1253.8,1462.7 L1255.8,1463.6 L1257.8,1464.4 L1259.8,1465.2 L1261.8,1466 L1263.8,1466.8 L1265.8,1467.6 L1267.8,1468.3 L1269.8,1469.1 L1271.8,1469.8 L1273.8,1470.4 L1275.8,1471.1 L1277.8,1471.7 L1279.8,1472.4 L1281.8,1473 L1283.8,1473.6 L1285.8,1474.2 L1287.8,1474.8 L1289.8,1475.4 L1291.8,1476 L1293.8,1476.6 L1295.8,1477.1 L1297.8,1477.7 L1299.8,1478.3 L1301.8,1478.8 L1303.8,1479.4 L1305.8,1479.9 L1307.8,1480.4 L1309.8,1480.9 L1311.8,1481.4 L1313.8,1481.9 L1315.8,1482.4 L1317.8,1482.8 L1319.8,1483.2 L1321.8,1483.7 L1323.8,1484.1 L1325.8,1484.5 L1327.8,1484.9 L1329.8,1485.4 L1331.8,1485.8 L1333.8,1486.2 L1335.8,1486.6 L1337.8,1487 L1339.8,1487.4 L1341.8,1487.8 L1343.8,1488.1 L1345.8,1488.5 L1347.8,1488.8 L1349.8,1489.1 L1351.8,1489.4 L1353.8,1489.6 L1355.8,1489.8 L1357.8,1490 L1359.8,1490.2 L1361.8,1490.3 L1363.8,1490.5 L1365.8,1490.6 L1367.8,1490.7 L1369.8,1490.8 L1371.8,1491 L1373.8,1491.1 L1375.8,1491.2 L1377.8,1491.3 L1379.8,1491.4 L1381.8,1491.5 L1383.8,1491.5 L1385.8,1491.6 L1387.8,1491.7 L1389.8,1491.8 L1391.8,1491.9 L1393.8,1491.9 L1395.8,1492 L1397.8,1492.1 L1399.8,1492.1 L1401.8,1492.2 L1403.8,1492.3 L1405.8,1492.3 L1407.8,1492.4 L1409.8,1492.4 L1411.8,1492.5 L1413.8,1492.5 L1415.8,1492.6 L1417.8,1492.7 L1419.8,1492.7 L1421.8,1492.8 L1423.8,1492.8 L1425.8,1492.9 L1427.8,1492.9 L1429.8,1493 L1431.8,1493 L1433.8,1493.1 L1435.8,1493.1 L1437.8,1493.2 L1439.8,1493.2 L1441.8,1493.3 L1443.8,1493.3 L1445.8,1493.4 L1447.8,1493.4 L1449.8,1493.5 L1451.8,1493.5 L1453.8,1493.6 L1455.8,1493.6 L1457.8,1493.7 L1459.8,1493.7 L1461.8,1493.8 L1463.8,1493.8 L1465.8,1493.8 L1467.8,1493.9 L1469.8,1493.9 L1471.8,1494 L1473.8,1494 L1475.8,1494 L1477.8,1494.1 L1479.8,1494.1 L1481.8,1494.2 L1483.8,1494.2 L1485.8,1494.2 L1487.8,1494.3 L1489.8,1494.3 L1491.8,1494.3 L1493.8,1494.4 L1495.8,1494.4 L1497.8,1494.5 L1499.8,1494.5 L1501.8,1494.5 L1503.8,1494.6 L1505.8,1494.6 L1507.8,1494.6 L1509.8,1494.7 L1511.8,1494.7 L1513.8,1494.7 L1515.8,1494.7 L1517.8,1494.8 L1519.8,1494.8 L1521.8,1494.8 L1523.8,1494.9 L1525.8,1494.9 L1527.8,1494.9 L1529.8,1494.9 L1531.8,1495 L1533.8,1495 L1535.8,1495 L1537.8,1495 L1539.8,1495.1 L1541.8,1495.1 L1543.8,1495.1 L1545.8,1495.1 L1547.8,1495.2 L1549.8,1495.2 L1551.8,1495.2 L1553.8,1495.2 L1555.8,1495.3 L1557.8,1495.3 L1559.8,1495.3 L1561.8,1495.3 L1563.8,1495.3 L1565.8,1495.3 L1567.8,1495.4 L1569.8,1495.4 L1571.8,1495.4 L1573.8,1495.4 L1575.8,1495.4 L1577.8,1495.4 L1579.8,1495.5 L1581.8,1495.5 L1583.8,1495.5 L1585.8,1495.5 L1587.8,1495.5 L1589.8,1495.5 L1591.8,1495.5 L1593.8,1495.5 L1595.8,1495.6 L1597.8,1495.6 L1599.8,1495.6 L1601.8,1495.6 L1603.8,1495.6 L1605.8,1495.6 L1607.8,1495.6 L1609.8,1495.6 L1611.8,1495.6 L1613.2,1495.6" stroke="#008000" stroke-width="4"/>
<path d="M413.8,1428.6 L415.8,1428.6 L417.8,1428.7 L419.8,1428.7 L421.8,1428.8 L423.8,1428.8 L425.8,1428.9 L427.8,1428.9 L429.8,1428.9 L431.8,1429 L433.8,1429 L435.8,1429.1 L437.8,1429.1 L439.8,1429.2 L441.8,1429.2 L443.8,1429.3 L445.8,1429.3 L447.8,1429.4 L449.8,1429.4 L451.8,1429.5 L453.8,1429.5 L455.8,1429.6 L457.8,1429.6 L459.8,1429.7 L461.8,1429.7 L463.8,1429.8 L465.8,1429.8 L467.8,1429.9 L469.8,1430 L471.8,1430 L473.8,1430.1 L475.8,1430.1 L477.8,1430.2 L479.8,1430.2 L481.8,1430.3 L483.8,1430.4 L485.8,1430.4 L487.8,1430.5 L489.8,1430.5 L491.8,1430.6 L493.8,1430.7 L495.8,1430.7 L497.8,1430.8 L499.8,1430.8 L501.8,1430.9 L503.8,1431 L505.8,1431 L507.8,1431.1 L509.8,1431.2 L511.8,1431.2 L513.8,1431.3 L515.8,1431.4 L517.8,1431.4 L519.8,1431.5 L521.8,1431.6 L523.8,1431.6 L525.8,1431.7 L527.8,1431.8 L529.8,1431.8 L531.8,1431.9 L533.8,1432 L535.8,1432 L537.8,1432.1 L539.8,1432.2 L541.8,1432.2 L543.8,1432.3 L545.8,1432.4 L547.8,1432.5 L549.8,1432.5 L551.8,1432.6 L553.8,1432.7 L555.8,1432.7 L557.8,1432.8 L559.8,1432.9 L561.8,1433 L563.8,1433 L565.8,1433.1 L567.8,1433.2 L569.8,1433.3 L571.8,1433.3 L573.8,1433.4 L575.8,1433.5 L577.8,1433.6 L579.8,1433.6 L581.8,1433.7 L583.8,1433.8 L585.8,1433.9 L587.8,1433.9 L589.8,1434 L591.8,1434.1 L593.8,1434.2 L595.8,1434.2 L597.8,1434.3 L599.8,1434.4 L601.8,1434.5 L603.8,1434.6 L605.8,1434.6 L607.8,1434.7 L609.8,1434.8 L611.8,1434.9 L613.8,1435 L615.8,1435 L617.8,1435.1 L619.8,1435.2 L621.8,1435.3 L623.8,1435.4 L625.8,1435.4 L627.8,1435.5 L629.8,1435.6 L631.8,1435.7 L633.8,1435.8 L635.8,1435.9 L637.8,1435.9 L639.8,1436 L641.8,1436.1 L643.8,1436.2 L645.8,1436.3 L647.8,1436.4 L649.8,1436.5 L651.8,1436.6 L653.8,1436.7 L655.8,1436.7 L657.8,1436.8 L659.8,1436.9 L661.8,1437 L663.8,1437.1 L665.8,1437.2 L667.8,1437.3 L669.8,1437.4 L671.8,1437.5 L673.8,1437.6 L675.8,1437.7 L677.8,1437.8 L679.8,1437.9 L681.8,1438 L683.8,1438.1 L685.8,1438.2 L687.8,1438.3 L689.8,1438.4 L691.8,1438.5 L693.8,1438.6 L695.8,1438.7 L697.8,1438.8 L699.8,1438.9 L701.8,1439 L703.8,1439.1 L705.8,1439.2 L707.8,1439.2 L709.8,1439.3 L711.8,1439.4 L713.8,1439.4 L715.8,1439.4 L717.8,1439.4 L719.8,1439.4 L721.8,1439.4 L723.8,1439.3 L725.8,1439.2 L727.8,1439 L729.8,1438.8 L731.8,1438.5 L733.8,1438.1 L735.8,1437.7 L737.8,1437.2 L739.8,1436.6 L741.8,1435.8 L743.8,1434.9 L745.8,1433.9 L747.8,1432.8 L749.8,1431.4 L751.8,1429.9 L753.8,1428.2 L755.8,1426.3 L757.8,1424.1 L759.8,1421.8 L761.8,1419.2 L763.8,1416.4 L765.8,1413.3 L767.8,1410 L769.8,1406.5 L771.8,1402.8 L773.8,1398.8 L775.8,1394.7 L777.8,1390.5 L779.8,1386.1 L781.8,1381.6 L783.8,1377.1 L785.8,1372.5 L787.8,1368 L789.8,1363.5 L791.8,1359.2 L793.8,1355.1 L795.8,1351.2 L797.8,1347.6 L799.8,1344.2 L801.8,1341.3 L803.8,1338.8 L805.8,1336.7 L807.8,1335 L809.8,1333.9 L811.8,1333.3 L813.8,1333.2 L815.8,1333.7 L817.8,1334.6 L819.8,1336.1 L821.8,1338.1 L823.8,1340.6 L825.8,1343.5 L827.8,1346.8 L829.8,1350.5 L831.8,1354.5 L833.8,1358.7 L835.8,1363.2 L837.8,1367.9 L839.8,1372.7 L841.8,1377.5 L843.8,1382.4 L845.8,1387.3 L847.8,1392.1 L849.8,1396.8 L851.8,1401.4 L853.8,1405.8 L855.8,1410.1 L857.8,1414.1 L859.8,1417.9 L861.8,1421.5 L863.8,1424.9 L865.8,1428 L867.8,1430.9 L869.8,1433.5 L871.8,1435.9 L873.8,1438.1 L875.8,1440 L877.8,1441.8 L879.8,1443.4 L881.8,1444.7 L883.8,1446 L885.8,1447.1 L887.8,1448 L889.8,1448.8 L891.8,1449.6 L893.8,1450.2 L895.8,1450.7 L897.8,1451.2 L899.8,1451.6 L901.8,1451.9 L903.8,1452.2 L905.8,1452.5 L907.8,1452.7 L909.8,1452.9 L911.8,1453.1 L913.8,1453.2 L915.8,1453.3 L917.8,1453.4 L919.8,1453.5 L921.8,1453.6 L923.8,1453.7 L925.8,1453.7 L927.8,1453.8 L929.8,1453.9 L931.8,1453.9 L933.8,1454 L935.8,1454 L937.8,1454.1 L939.8,1454.1 L941.8,1454.2 L943.8,1454.2 L945.8,1454.3 L947.8,1454.3 L949.8,1454.3 L951.8,1454.4 L953.8,1454.4 L955.8,1454.5 L957.8,1454.5 L959.8,1454.5 L961.8,1454.6 L963.8,1454.6 L965.8,1454.7 L967.8,1454.7 L969.8,1454.8 L971.8,1454.8 L973.8,1454.8 L975.8,1454.9 L977.8,1454.9 L979.8,1455 L981.8,1455 L983.8,1455.1 L985.8,1455.1 L987.8,1455.2 L989.8,1455.2 L991.8,1455.3 L993.8,1455.3 L995.8,1455.4 L997.8,1455.4 L999.8,1455.5 L1001.8,1455.6 L1003.8,1455.6 L1005.8,1455.7 L1007.8,1455.7 L1009.8,1455.8 L1011.8,1455.8 L1013.8,1455.9 L1015.8,1455.9 L1017.8,1456 L1019.8,1456 L1021.8,1456.1 L1023.8,1456.1 L1025.8,1456.2 L1027.8,1456.2 L1029.8,1456.3 L1031.8,1456.3 L1033.8,1456.4 L1035.8,1456.4 L1037.8,1456.5 L1039.8,1456.5 L1041.8,1456.6 L1043.8,1456.6 L1045.8,1456.7 L1047.8,1456.7 L1049.8,1456.8 L1051.8,1456.8 L1053.8,1456.9 L1055.8,1456.9 L1057.8,1457 L1059.8,1457.1 L1061.8,1457.1 L1063.8,1457.2 L1065.8,1457.2 L1067.8,1457.3 L1069.8,1457.3 L1071.8,1457.4 L1073.8,1457.5 L1075.8,1457.5 L1077.8,1457.6 L1079.8,1457.6 L1081.8,1457.7 L1083.8,1457.8 L1085.8,1457.9 L1087.8,1457.9 L1089.8,1458 L1091.8,1458.1 L1093.8,1458.1 L1095.8,1458.2 L1097.8,1458.3 L1099.8,1458.4 L1101.8,1458.5 L1103.8,1458.5 L1105.8,1458.6 L1107.8,1458.7 L1109.8,1458.8 L1111.8,1458.9 L1113.8,1459 L1115.8,1459.1 L1117.8,1459.2 L1119.8,1459.3 L1121.8,1459.4 L1123.8,1459.5 L1125.8,1459.6 L1127.8,1459.7 L1129.8,1459.9 L1131.8,1460 L1133.8,1460.2 L1135.8,1460.4 L1137.8,1460.6 L1139.8,1460.8 L1141.8,1461 L1143.8,1461.2 L1145.8,1461.4 L1147.8,1461.7 L1149.8,1461.9 L1151.8,1462.1 L1153.8,1462.4 L1155.8,1462.6 L1157.8,1462.9 L1159.8,1463.1 L1161.8,1463.4 L1163.8,1463.6 L1165.8,1463.9 L1167.8,1464.1 L1169.8,1464.4 L1171.8,1464.6 L1173.8,1464.8 L1175.8,1465.1 L1177.8,1465.3 L1179.8,1465.5 L1181.8,1465.7 L1183.8,1465.9 L1185.8,1466.1 L1187.8,1466.3 L1189.8,1466.4 L1191.8,1466.6 L1193.8,1466.8 L1195.8,1467 L1197.8,1467.1 L1199.8,1467.3 L1201.8,1467.5 L1203.8,1467.7 L1205.8,1467.8 L1207.8,1468 L1209.8,1468.2 L1211.8,1468.3 L1213.8,1468.5 L1215.8,1468.7 L1217.8,1468.9 L1219.8,1469.1 L1221.8,1469.3 L1223.8,1469.5 L1225.8,1469.7 L1227.8,1469.9 L1229.8,1470.1 L1231.8,1470.3 L1233.8,1470.6 L1235.8,1470.8 L1237.8,1471 L1239.8,1471.3 L1241.8,1471.6 L1243.8,1471.9 L1245.8,1472.2 L1247.8,1472.5 L1249.8,1472.9 L1251.8,1473.2 L1253.8,1473.6 L1255.8,1474 L1257.8,1474.4 L1259.8,1474.8 L1261.8,1475.2 L1263.8,1475.6 L1265.8,1476 L1267.8,1476.5 L1269.8,1476.9 L1271.8,1477.3 L1273.8,1477.7 L1275.8,1478.1 L1277.8,1478.6 L1279.8,1479 L1281.8,1479.4 L1283.8,1479.8 L1285.8,1480.2 L1287.8,1480.6 L1289.8,1481.1 L1291.8,1481.5 L1293.8,1481.9 L1295.8,1482.4 L1297.8,1482.8 L1299.8,1483.2 L1301.8,1483.7 L1303.8,1484.1 L1305.8,1484.5 L1307.8,1485 L1309.8,1485.4 L1311.8,1485.8 L1313.8,1486.2 L1315.8,1486.5 L1317.8,1486.9 L1319.8,1487.2 L1321.8,1487.6 L1323.8,1487.9 L1325.8,1488.3 L1327.8,1488.6 L1329.8,1489 L1331.8,1489.3 L1333.8,1489.7 L1335.8,1490 L1337.8,1490.4 L1339.8,1490.7 L1341.8,1491 L1343.8,1491.3 L1345.8,1491.6 L1347.8,1491.9 L1349.8,1492.1 L1351.8,1492.3 L1353.8,1492.5 L1355.8,1492.7 L1357.8,1492.9 L1359.8,1493 L1361.8,1493.1 L1363.8,1493.2 L1365.8,1493.3 L1367.8,1493.3 L1369.8,1493.4 L1371.8,1493.5 L1373.8,1493.6 L1375.8,1493.6 L1377.8,1493.7 L1379.8,1493.8 L1381.8,1493.8 L1383.8,1493.9 L1385.8,1493.9 L1387.8,1494 L1389.8,1494 L1391.8,1494 L1393.8,1494.1 L1395.8,1494.1 L1397.8,1494.2 L1399.8,1494.2 L1401.8,1494.2 L1403.8,1494.3 L1405.8,1494.3 L1407.8,1494.3 L1409.8,1494.4 L1411.8,1494.4 L1413.8,1494.4 L1415.8,1494.5 L1417.8,1494.5 L1419.8,1494.5 L1421.8,1494.6 L1423.8,1494.6 L1425.8,1494.6 L1427.8,1494.7 L1429.8,1494.7 L1431.8,1494.7 L1433.8,1494.7 L1435.8,1494.8 L1437.8,1494.8 L1439.8,1494.8 L1441.8,1494.9 L1443.8,1494.9 L1445.8,1494.9 L1447.8,1495 L1449.8,1495 L1451.8,1495 L1453.8,1495 L1455.8,1495.1 L1457.8,1495.1 L1459.8,1495.1 L1461.8,1495.1 L1463.8,1495.2 L1465.8,1495.2 L1467.8,1495.2 L1469.8,1495.3 L1471.8,1495.3 L1473.8,1495.3 L1475.8,1495.3 L1477.8,1495.4 L1479.8,1495.4 L1481.8,1495.4 L1483.8,1495.4 L1485.8,1495.5 L1487.8,1495.5 L1489.8,1495.5 L1491.8,1495.5 L1493.8,1495.6 L1495.8,1495.6 L1497.8,1495.6 L1499.8,1495.6 L1501.8,1495.6 L1503.8,1495.7 L1505.8,1495.7 L1507.8,1495.7 L1509.8,1495.7 L1511.8,1495.8 L1513.8,1495.8 L1515.8,1495.8 L1517.8,1495.8 L1519.8,1495.8 L1521.8,1495.8 L1523.8,1495.9 L1525.8,1495.9 L1527.8,1495.9 L1529.8,1495.9 L1531.8,1495.9 L1533.8,1496 L1535.8,1496 L1537.8,1496 L1539.8,1496 L1541.8,1496 L1543.8,1496 L1545.8,1496 L1547.8,1496.1 L1549.8,1496.1 L1551.8,1496.1 L1553.8,1496.1 L1555.8,1496.1 L1557.8,1496.1 L1559.8,1496.1 L1561.8,1496.2 L1563.8,1496.2 L1565.8,1496.2 L1567.8,1496.2 L1569.8,1496.2 L1571.8,1496.2 L1573.8,1496.2 L1575.8,1496.2 L1577.8,1496.2 L1579.8,1496.2 L1581.8,1496.2 L1583.8,1496.2 L1585.8,1496.3 L1587.8,1496.3 L1589.8,1496.3 L1591.8,1496.3 L1593.8,1496.3 L1595.8,1496.3 L1597.8,1496.3 L1599.8,1496.3 L1601.8,1496.3 L1603.8,1496.3 L1605.8,1496.3 L1607.8,1496.3 L1609.8,1496.3 L1611.8,1496.3 L1613.2,1496.3" stroke="#FF00FF" stroke-width="4"/>
<path d="M413.8,1428.6 L415.8,1428.6 L417.8,1428.7 L419.8,1428.7 L421.8,1428.8 L423.8,1428.8 L425.8,1428.9 L427.8,1428.9 L429.8,1428.9 L431.8,1429 L433.8,1429 L435.8,1429.1 L437.8,1429.1 L439.8,1429.2 L441.8,1429.2 L443.8,1429.3 L445.8,1429.3 L447.8,1429.4 L449.8,1429.4 L451.8,1429.5 L453.8,1429.5 L455.8,1429.6 L457.8,1429.6 L459.8,1429.7 L461.8,1429.7 L463.8,1429.8 L465.8,1429.8 L467.8,1429.9 L469.8,1430 L471.8,1430 L473.8,1430.1 L475.8,1430.1 L477.8,1430.2 L479.8,1430.2 L481.8,1430.3 L483.8,1430.4 L485.8,1430.4 L487.8,1430.5 L489.8,1430.5 L491.8,1430.6 L493.8,1430.7 L495.8,1430.7 L497.8,1430.8 L499.8,1430.8 L501.8,1430.9 L503.8,1431 L505.8,1431 L507.8,1431.1 L509.8,1431.2 L511.8,1431.2 L513.8,1431.3 L515.8,1431.4 L517.8,1431.4 L519.8,1431.5 L521.8,1431.6 L523.8,1431.6 L525.8,1431.7 L527.8,1431.8 L529.8,1431.8 L531.8,1431.9 L533.8,1432 L535.8,1432 L537.8,1432.1 L539.8,1432.2 L541.8,1432.2 L543.8,1432.3 L545.8,1432.4 L547.8,1432.5 L549.8,1432.5 L551.8,1432.6 L553.8,1432.7 L555.8,1432.7 L557.8,1432.8 L559.8,1432.9 L561.8,1433 L563.8,1433 L565.8,1433.1 L567.8,1433.2 L569.8,1433.3 L571.8,1433.3 L573.8,1433.4 L575.8,1433.5 L577.8,1433.6 L579.8,1433.6 L581.8,1433.7 L583.8,1433.8 L585.8,1433.9 L587.8,1433.9 L589.8,1434 L591.8,1434.1 L593.8,1434.2 L595.8,1434.2 L597.8,1434.3 L599.8,1434.4 L601.8,1434.5 L603.8,1434.6 L605.8,1434.6 L607.8,1434.7 L609.8,1434.8 L611.8,1434.9 L613.8,1435 L615.8,1435 L617.8,1435.1 L619.8,1435.2 L621.8,1435.3 L623.8,1435.4 L625.8,1435.4 L627.8,1435.5 L629.8,1435.6 L631.8,1435.7 L633.8,1435.8 L635.8,1435.9 L637.8,1435.9 L639.8,1436 L641.8,1436.1 L643.8,1436.2 L645.8,1436.3 L647.8,1436.4 L649.8,1436.5 L651.8,1436.6 L653.8,1436.7 L655.8,1436.7 L657.8,1436.8 L659.8,1436.9 L661.8,1437 L663.8,1437.1 L665.8,1437.2 L667.8,1437.3 L669.8,1437.4 L671.8,1437.5 L673.8,1437.6 L675.8,1437.7 L677.8,1437.8 L679.8,1437.9 L681.8,1438 L683.8,1438.1 L685.8,1438.2 L687.8,1438.3 L689.8,1438.4 L691.8,1438.5 L693.8,1438.6 L695.8,1438.7 L697.8,1438.9 L699.8,1439 L701.8,1439.1 L703.8,1439.2 L705.8,1439.3 L707.8,1439.4 L709.8,1439.5 L711.8,1439.6 L713.8,1439.7 L715.8,1439.9 L717.8,1440 L719.8,1440.1 L721.8,1440.2 L723.8,1440.3 L725.8,1440.4 L727.8,1440.6 L729.8,1440.7 L731.8,1440.8 L733.8,1440.9 L735.8,1441.1 L737.8,1441.2 L739.8,1441.3 L741.8,1441.5 L743.8,1441.6 L745.8,1441.8 L747.8,1441.9 L749.8,1442.1 L751.8,1442.2 L753.8,1442.4 L755.8,1442.5 L757.8,1442.7 L759.8,1442.9 L761.8,1443 L763.8,1443.2 L765.8,1443.4 L767.8,1443.5 L769.8,1443.7 L771.8,1443.9 L773.8,1444.1 L775.8,1444.3 L777.8,1444.4 L779.8,1444.6 L781.8,1444.8 L783.8,1445 L785.8,1445.2 L787.8,1445.4 L789.8,1445.6 L791.8,1445.8 L793.8,1445.9 L795.8,1446.1 L797.8,1446.3 L799.8,1446.5 L801.8,1446.7 L803.8,1446.9 L805.8,1447.1 L807.8,1447.3 L809.8,1447.5 L811.8,1447.6 L813.8,1447.8 L815.8,1448 L817.8,1448.2 L819.8,1448.4 L821.8,1448.5 L823.8,1448.7 L825.8,1448.9 L827.8,1449.1 L829.8,1449.2 L831.8,1449.4 L833.8,1449.6 L835.8,1449.8 L837.8,1449.9 L839.8,1450.1 L841.8,1450.2 L843.8,1450.4 L845.8,1450.5 L847.8,1450.7 L849.8,1450.8 L851.8,1451 L853.8,1451.1 L855.8,1451.2 L857.8,1451.4 L859.8,1451.5 L861.8,1451.6 L863.8,1451.7 L865.8,1451.8 L867.8,1451.9 L869.8,1452.1 L871.8,1452.1 L873.8,1452.2 L875.8,1452.3 L877.8,1452.4 L879.8,1452.5 L881.8,1452.6 L883.8,1452.6 L885.8,1452.7 L887.8,1452.8 L889.8,1452.8 L891.8,1452.9 L893.8,1453 L895.8,1453 L897.8,1453.1 L899.8,1453.2 L901.8,1453.2 L903.8,1453.3 L905.8,1453.3 L907.8,1453.4 L909.8,1453.4 L911.8,1453.5 L913.8,1453.5 L915.8,1453.6 L917.8,1453.6 L919.8,1453.7 L921.8,1453.7 L923.8,1453.8 L925.8,1453.8 L927.8,1453.9 L929.8,1453.9 L931.8,1454 L933.8,1454 L935.8,1454 L937.8,1454.1 L939.8,1454.1 L941.8,1454.2 L943.8,1454.2 L945.8,1454.3 L947.8,1454.3 L949.8,1454.3 L951.8,1454.4 L953.8,1454.4 L955.8,1454.5 L957.8,1454.5 L959.8,1454.5 L961.8,1454.6 L963.8,1454.6 L965.8,1454.7 L967.8,1454.7 L969.8,1454.8 L971.8,1454.8 L973.8,1454.8 L975.8,1454.9 L977.8,1454.9 L979.8,1455 L981.8,1455 L983.8,1455.1 L985.8,1455.1 L987.8,1455.2 L989.8,1455.2 L991.8,1455.3 L993.8,1455.3 L995.8,1455.4 L997.8,1455.4 L999.8,1455.5 L1001.8,1455.6 L1003.8,1455.6 L1005.8,1455.7 L1007.8,1455.7 L1009.8,1455.8 L1011.8,1455.8 L1013.8,1455.9 L1015.8,1455.9 L1017.8,1456 L1019.8,1456 L1021.8,1456.1 L1023.8,1456.1 L1025.8,1456.2 L1027.8,1456.2 L1029.8,1456.3 L1031.8,1456.3 L1033.8,1456.4 L1035.8,1456.4 L1037.8,1456.5 L1039.8,1456.5 L1041.8,1456.6 L1043.8,1456.6 L1045.8,1456.7 L1047.8,1456.7 L1049.8,1456.8 L1051.8,1456.8 L1053.8,1456.9 L1055.8,1456.9 L1057.8,1457 L1059.8,1457.1 L1061.8,1457.1 L1063.8,1457.2 L1065.8,1457.2 L1067.8,1457.3 L1069.8,1457.3 L1071.8,1457.4 L1073.8,1457.5 L1075.8,1457.5 L1077.8,1457.6 L1079.8,1457.6 L1081.8,1457.7 L1083.8,1457.8 L1085.8,1457.9 L1087.8,1457.9 L1089.8,1458 L1091.8,1458.1 L1093.8,1458.1 L1095.8,1458.2 L1097.8,1458.3 L1099.8,1458.4 L1101.8,1458.5 L1103.8,1458.5 L1105.8,1458.6 L1107.8,1458.7 L1109.8,1458.8 L1111.8,1458.9 L1113.8,1459 L1115.8,1459.1 L1117.8,1459.2 L1119.8,1459.3 L1121.8,1459.4 L1123.8,1459.5 L1125.8,1459.6 L1127.8,1459.7 L1129.8,1459.9 L1131.8,1460 L1133.8,1460.2 L1135.8,1460.4 L1137.8,1460.6 L1139.8,1460.8 L1141.8,1461 L1143.8,1461.2 L1145.8,1461.4 L1147.8,1461.7 L1149.8,1461.9 L1151.8,1462.1 L1153.8,1462.4 L1155.8,1462.6 L1157.8,1462.9 L1159.8,1463.1 L1161.8,1463.4 L1163.8,1463.6 L1165.8,1463.9 L1167.8,1464.1 L1169.8,1464.4 L1171.8,1464.6 L1173.8,1464.8 L1175.8,1465 L1177.8,1465.2 L1179.8,1465.4 L1181.8,1465.6 L1183.8,1465.8 L1185.8,1466 L1187.8,1466.1 L1189.8,1466.3 L1191.8,1466.4 L1193.8,1466.5 L1195.8,1466.6 L1197.8,1466.6 L1199.8,1466.7 L1201.8,1466.7 L1203.8,1466.6 L1205.8,1466.6 L1207.8,1466.4 L1209.8,1466.2 L1211.8,1465.9 L1213.8,1465.5 L1215.8,1465 L1217.8,1464.4 L1219.8,1463.6 L1221.8,1462.7 L1223.8,1461.6 L1225.8,1460.2 L1227.8,1458.6 L1229.8,1456.7 L1231.8,1454.5 L1233.8,1451.9 L1235.8,1449 L1237.8,1445.6 L1239.8,1441.8 L1241.8,1437.5 L1243.8,1432.8 L1245.8,1427.5 L1247.8,1421.6 L1249.8,1415.2 L1251.8,1408.1 L1253.8,1400.5 L1255.8,1392.3 L1257.8,1383.5 L1259.8,1374.2 L1261.8,1364.3 L1263.8,1354 L1265.8,1343.2 L1267.8,1332.1 L1269.8,1320.7 L1271.8,1309.1 L1273.8,1297.4 L1275.8,1285.8 L1277.8,1274.2 L1279.8,1263 L1281.8,1252.1 L1283.8,1241.7 L1285.8,1232 L1287.8,1223.1 L1289.8,1215 L1291.8,1207.9 L1293.8,1202 L1295.8,1197.2 L1297.8,1193.6 L1299.8,1191.4 L1301.8,1190.5 L1303.8,1190.9 L1305.8,1192.7 L1307.8,1195.8 L1309.8,1200.2 L1311.8,1205.8 L1313.8,1212.6 L1315.8,1220.5 L1317.8,1229.3 L1319.8,1239 L1321.8,1249.5 L1323.8,1260.6 L1325.8,1272.3 L1327.8,1284.3 L1329.8,1296.6 L1331.8,1309.1 L1333.8,1321.5 L1335.8,1333.9 L1337.8,1346 L1339.8,1357.9 L1341.8,1369.4 L1343.8,1380.5 L1345.8,1391 L1347.8,1401 L1349.8,1410.5 L1351.8,1419.3 L1353.8,1427.5 L1355.8,1435 L1357.8,1442 L1359.8,1448.3 L1361.8,1454 L1363.8,1459.2 L1365.8,1463.8 L1367.8,1467.9 L1369.8,1471.6 L1371.8,1474.9 L1373.8,1477.7 L1375.8,1480.2 L1377.8,1482.4 L1379.8,1484.3 L1381.8,1485.9 L1383.8,1487.3 L1385.8,1488.5 L1387.8,1489.5 L1389.8,1490.3 L1391.8,1491.1 L1393.8,1491.7 L1395.8,1492.2 L1397.8,1492.6 L1399.8,1492.9 L1401.8,1493.2 L1403.8,1493.5 L1405.8,1493.7 L1407.8,1493.8 L1409.8,1494 L1411.8,1494.1 L1413.8,1494.2 L1415.8,1494.3 L1417.8,1494.4 L1419.8,1494.4 L1421.8,1494.5 L1423.8,1494.5 L1425.8,1494.6 L1427.8,1494.6 L1429.8,1494.7 L1431.8,1494.7 L1433.8,1494.7 L1435.8,1494.8 L1437.8,1494.8 L1439.8,1494.8 L1441.8,1494.9 L1443.8,1494.9 L1445.8,1494.9 L1447.8,1495 L1449.8,1495 L1451.8,1495 L1453.8,1495 L1455.8,1495.1 L1457.8,1495.1 L1459.8,1495.1 L1461.8,1495.1 L1463.8,1495.2 L1465.8,1495.2 L1467.8,1495.2 L1469.8,1495.3 L1471.8,1495.3 L1473.8,1495.3 L1475.8,1495.3 L1477.8,1495.4 L1479.8,1495.4 L1481.8,1495.4 L1483.8,1495.4 L1485.8,1495.5 L1487.8,1495.5 L1489.8,1495.5 L1491.8,1495.5 L1493.8,1495.6 L1495.8,1495.6 L1497.8,1495.6 L1499.8,1495.6 L1501.8,1495.6 L1503.8,1495.7 L1505.8,1495.7 L1507.8,1495.7 L1509.8,1495.7 L1511.8,1495.8 L1513.8,1495.8 L1515.8,1495.8 L1517.8,1495.8 L1519.8,1495.8 L1521.8,1495.8 L1523.8,1495.9 L1525.8,1495.9 L1527.8,1495.9 L1529.8,1495.9 L1531.8,1495.9 L1533.8,1496 L1535.8,1496 L1537.8,1496 L1539.8,1496 L1541.8,1496 L1543.8,1496 L1545.8,1496 L1547.8,1496.1 L1549.8,1496.1 L1551.8,1496.1 L1553.8,1496.1 L1555.8,1496.1 L1557.8,1496.1 L1559.8,1496.1 L1561.8,1496.2 L1563.8,1496.2 L1565.8,1496.2 L1567.8,1496.2 L1569.8,1496.2 L1571.8,1496.2 L1573.8,1496.2 L1575.8,1496.2 L1577.8,1496.2 L1579.8,1496.2 L1581.8,1496.2 L1583.8,1496.2 L1585.8,1496.3 L1587.8,1496.3 L1589.8,1496.3 L1591.8,1496.3 L1593.8,1496.3 L1595.8,1496.3 L1597.8,1496.3 L1599.8,1496.3 L1601.8,1496.3 L1603.8,1496.3 L1605.8,1496.3 L1607.8,1496.3 L1609.8,1496.3 L1611.8,1496.3 L1613.2,1496.3" stroke="#FF00FF" stroke-width="4"/>
<path d="M413.8,1427.7 L415.8,1427.7 L417.8,1427.7 L419.8,1427.8 L421.8,1427.8 L423.8,1427.8 L425.8,1427.9 L427.8,1427.9 L429.8,1427.9 L431.8,1427.9 L433.8,1428 L435.8,1428 L437.8,1428 L439.8,1428.1 L441.8,1428.1 L443.8,1428.1 L445.8,1428.2 L447.8,1428.2 L449.8,1428.3 L451.8,1428.3 L453.8,1428.3 L455.8,1428.4 L457.8,1428.4 L459.8,1428.4 L461.8,1428.5 L463.8,1428.5 L465.8,1428.5 L467.8,1428.6 L469.8,1428.6 L471.8,1428.6 L473.8,1428.7 L475.8,1428.7 L477.8,1428.8 L479.8,1428.8 L481.8,1428.8 L483.8,1428.9 L485.8,1428.9 L487.8,1428.9 L489.8,1429 L491.8,1429 L493.8,1429 L495.8,1429.1 L497.8,1429.1 L499.8,1429.2 L501.8,1429.2 L503.8,1429.2 L505.8,1429.3 L507.8,1429.3 L509.8,1429.3 L511.8,1429.4 L513.8,1429.4 L515.8,1429.4 L517.8,1429.5 L519.8,1429.5 L521.8,1429.5 L523.8,1429.6 L525.8,1429.6 L527.8,1429.6 L529.8,1429.6 L531.8,1429.7 L533.8,1429.7 L535.8,1429.7 L537.8,1429.7 L539.8,1429.8 L541.8,1429.8 L543.8,1429.8 L545.8,1429.8 L547.8,1429.9 L549.8,1429.9 L551.8,1429.9 L553.8,1429.9 L555.8,1429.9 L557.8,1429.9 L559.8,1430 L561.8,1430 L563.8,1430 L565.8,1430 L567.8,1430 L569.8,1430 L571.8,1430 L573.8,1430 L575.8,1430 L577.8,1430 L579.8,1429.9 L581.8,1429.9 L583.8,1429.9 L585.8,1429.9 L587.8,1429.8 L589.8,1429.8 L591.8,1429.8 L593.8,1429.7 L595.8,1429.7 L597.8,1429.6 L599.8,1429.6 L601.8,1429.5 L603.8,1429.4 L605.8,1429.3 L607.8,1429.2 L609.8,1429.1 L611.8,1429 L613.8,1428.9 L615.8,1428.8 L617.8,1428.7 L619.8,1428.5 L621.8,1428.4 L623.8,1428.2 L625.8,1428 L627.8,1427.8 L629.8,1427.6 L631.8,1427.4 L633.8,1427.2 L635.8,1427 L637.8,1426.7 L639.8,1426.4 L641.8,1426.1 L643.8,1425.8 L645.8,1425.5 L647.8,1425.2 L649.8,1424.8 L651.8,1424.5 L653.8,1424.1 L655.8,1423.7 L657.8,1423.2 L659.8,1422.8 L661.8,1422.3 L663.8,1421.8 L665.8,1421.3 L667.8,1420.8 L669.8,1420.2 L671.8,1419.7 L673.8,1419.1 L675.8,1418.5 L677.8,1417.9 L679.8,1417.2 L681.8,1416.5 L683.8,1415.9 L685.8,1415.2 L687.8,1414.5 L689.8,1413.8 L691.8,1413 L693.8,1412.3 L695.8,1411.6 L697.8,1410.8 L699.8,1410.1 L701.8,1409.4 L703.8,1408.7 L705.8,1408 L707.8,1407.3 L709.8,1406.6 L711.8,1406 L713.8,1405.4 L715.8,1404.9 L717.8,1404.4 L719.8,1404 L721.8,1403.6 L723.8,1403.3 L725.8,1403 L727.8,1402.9 L729.8,1402.8 L731.8,1402.8 L733.8,1402.8 L735.8,1403 L737.8,1403.2 L739.8,1403.6 L741.8,1404 L743.8,1404.5 L745.8,1405 L747.8,1405.7 L749.8,1406.4 L751.8,1407.1 L753.8,1407.9 L755.8,1408.8 L757.8,1409.7 L759.8,1410.6 L761.8,1411.5 L763.8,1412.5 L765.8,1413.5 L767.8,1414.5 L769.8,1415.5 L771.8,1416.6 L773.8,1417.6 L775.8,1418.6 L777.8,1419.6 L779.8,1420.6 L781.8,1421.6 L783.8,1422.6 L785.8,1423.6 L787.8,1424.5 L789.8,1425.5 L791.8,1426.4 L793.8,1427.3 L795.8,1428.2 L797.8,1429 L799.8,1429.9 L801.8,1430.7 L803.8,1431.5 L805.8,1432.3 L807.8,1433 L809.8,1433.7 L811.8,1434.5 L813.8,1435.1 L815.8,1435.8 L817.8,1436.5 L819.8,1437.1 L821.8,1437.7 L823.8,1438.3 L825.8,1438.9 L827.8,1439.4 L829.8,1439.9 L831.8,1440.5 L833.8,1441 L835.8,1441.4 L837.8,1441.9 L839.8,1442.3 L841.8,1442.8 L843.8,1443.2 L845.8,1443.6 L847.8,1444 L849.8,1444.3 L851.8,1444.7 L853.8,1445 L855.8,1445.4 L857.8,1445.7 L859.8,1446 L861.8,1446.3 L863.8,1446.6 L865.8,1446.8 L867.8,1447.1 L869.8,1447.3 L871.8,1447.6 L873.8,1447.8 L875.8,1448 L877.8,1448.2 L879.8,1448.4 L881.8,1448.6 L883.8,1448.7 L885.8,1448.9 L887.8,1449.1 L889.8,1449.2 L891.8,1449.4 L893.8,1449.5 L895.8,1449.7 L897.8,1449.8 L899.8,1449.9 L901.8,1450.1 L903.8,1450.2 L905.8,1450.3 L907.8,1450.4 L909.8,1450.5 L911.8,1450.7 L913.8,1450.8 L915.8,1450.9 L917.8,1451 L919.8,1451.1 L921.8,1451.2 L923.8,1451.3 L925.8,1451.4 L927.8,1451.5 L929.8,1451.6 L931.8,1451.6 L933.8,1451.7 L935.8,1451.8 L937.8,1451.9 L939.8,1452 L941.8,1452.1 L943.8,1452.1 L945.8,1452.2 L947.8,1452.3 L949.8,1452.4 L951.8,1452.4 L953.8,1452.5 L955.8,1452.6 L957.8,1452.7 L959.8,1452.7 L961.8,1452.8 L963.8,1452.9 L965.8,1453 L967.8,1453 L969.8,1453.1 L971.8,1453.2 L973.8,1453.2 L975.8,1453.3 L977.8,1453.4 L979.8,1453.4 L981.8,1453.5 L983.8,1453.6 L985.8,1453.7 L987.8,1453.7 L989.8,1453.8 L991.8,1453.9 L993.8,1453.9 L995.8,1454 L997.8,1454.1 L999.8,1454.2 L1001.8,1454.2 L1003.8,1454.3 L1005.8,1454.4 L1007.8,1454.5 L1009.8,1454.5 L1011.8,1454.6 L1013.8,1454.7 L1015.8,1454.7 L1017.8,1454.8 L1019.8,1454.9 L1021.8,1454.9 L1023.8,1455 L1025.8,1455.1 L1027.8,1455.1 L1029.8,1455.2 L1031.8,1455.3 L1033.8,1455.3 L1035.8,1455.4 L1037.8,1455.4 L1039.8,1455.5 L1041.8,1455.6 L1043.8,1455.6 L1045.8,1455.7 L1047.8,1455.8 L1049.8,1455.8 L1051.8,1455.9 L1053.8,1456 L1055.8,1456 L1057.8,1456.1 L1059.8,1456.2 L1061.8,1456.2 L1063.8,1456.3 L1065.8,1456.4 L1067.8,1456.4 L1069.8,1456.5 L1071.8,1456.6 L1073.8,1456.6 L1075.8,1456.7 L1077.8,1456.8 L1079.8,1456.8 L1081.8,1456.9 L1083.8,1457 L1085.8,1457.1 L1087.8,1457.2 L1089.8,1457.2 L1091.8,1457.3 L1093.8,1457.4 L1095.8,1457.5 L1097.8,1457.6 L1099.8,1457.7 L1101.8,1457.7 L1103.8,1457.8 L1105.8,1457.9 L1107.8,1458 L1109.8,1458.1 L1111.8,1458.2 L1113.8,1458.3 L1115.8,1458.4 L1117.8,1458.5 L1119.8,1458.6 L1121.8,1458.7 L1123.8,1458.9 L1125.8,1459 L1127.8,1459.1 L1129.8,1459.3 L1131.8,1459.4 L1133.8,1459.6 L1135.8,1459.8 L1137.8,1460 L1139.8,1460.2 L1141.8,1460.4 L1143.8,1460.6 L1145.8,1460.9 L1147.8,1461.1 L1149.8,1461.3 L1151.8,1461.6 L1153.8,1461.8 L1155.8,1462.1 L1157.8,1462.3 L1159.8,1462.6 L1161.8,1462.9 L1163.8,1463.1 L1165.8,1463.4 L1167.8,1463.6 L1169.8,1463.9 L1171.8,1464.1 L1173.8,1464.3 L1175.8,1464.6 L1177.8,1464.8 L1179.8,1465 L1181.8,1465.2 L1183.8,1465.4 L1185.8,1465.6 L1187.8,1465.8 L1189.8,1466 L1191.8,1466.2 L1193.8,1466.3 L1195.8,1466.5 L1197.8,1466.7 L1199.8,1466.9 L1201.8,1467 L1203.8,1467.2 L1205.8,1467.4 L1207.8,1467.6 L1209.8,1467.7 L1211.8,1467.9 L1213.8,1468.1 L1215.8,1468.3 L1217.8,1468.5 L1219.8,1468.7 L1221.8,1468.9 L1223.8,1469.1 L1225.8,1469.3 L1227.8,1469.5 L1229.8,1469.7 L1231.8,1469.9 L1233.8,1470.2 L1235.8,1470.4 L1237.8,1470.7 L1239.8,1470.9 L1241.8,1471.2 L1243.8,1471.5 L1245.8,1471.8 L1247.8,1472.1 L1249.8,1472.5 L1251.8,1472.9 L1253.8,1473.2 L1255.8,1473.6 L1257.8,1474 L1259.8,1474.4 L1261.8,1474.9 L1263.8,1475.3 L1265.8,1475.7 L1267.8,1476.1 L1269.8,1476.5 L1271.8,1477 L1273.8,1477.4 L1275.8,1477.8 L1277.8,1478.2 L1279.8,1478.6 L1281.8,1479 L1283.8,1479.5 L1285.8,1479.9 L1287.8,1480.3 L1289.8,1480.7 L1291.8,1481.2 L1293.8,1481.6 L1295.8,1482.1 L1297.8,1482.5 L1299.8,1482.9 L1301.8,1483.4 L1303.8,1483.8 L1305.8,1484.2 L1307.8,1484.7 L1309.8,1485.1 L1311.8,1485.5 L1313.8,1485.9 L1315.8,1486.2 L1317.8,1486.6 L1319.8,1486.9 L1321.8,1487.3 L1323.8,1487.6 L1325.8,1488 L1327.8,1488.4 L1329.8,1488.7 L1331.8,1489.1 L1333.8,1489.4 L1335.8,1489.8 L1337.8,1490.1 L1339.8,1490.4 L1341.8,1490.8 L1343.8,1491.1 L1345.8,1491.3 L1347.8,1491.6 L1349.8,1491.9 L1351.8,1492.1 L1353.8,1492.3 L1355.8,1492.5 L1357.8,1492.6 L1359.8,1492.7 L1361.8,1492.8 L1363.8,1492.9 L1365.8,1493 L1367.8,1493.1 L1369.8,1493.2 L1371.8,1493.3 L1373.8,1493.3 L1375.8,1493.4 L1377.8,1493.5 L1379.8,1493.5 L1381.8,1493.6 L1383.8,1493.6 L1385.8,1493.7 L1387.8,1493.7 L1389.8,1493.8 L1391.8,1493.8 L1393.8,1493.9 L1395.8,1493.9 L1397.8,1493.9 L1399.8,1494 L1401.8,1494 L1403.8,1494 L1405.8,1494.1 L1407.8,1494.1 L1409.8,1494.1 L1411.8,1494.2 L1413.8,1494.2 L1415.8,1494.2 L1417.8,1494.3 L1419.8,1494.3 L1421.8,1494.3 L1423.8,1494.4 L1425.8,1494.4 L1427.8,1494.4 L1429.8,1494.5 L1431.8,1494.5 L1433.8,1494.5 L1435.8,1494.6 L1437.8,1494.6 L1439.8,1494.6 L1441.8,1494.7 L1443.8,1494.7 L1445.8,1494.7 L1447.8,1494.8 L1449.8,1494.8 L1451.8,1494.8 L1453.8,1494.8 L1455.8,1494.9 L1457.8,1494.9 L1459.8,1494.9 L1461.8,1495 L1463.8,1495 L1465.8,1495 L1467.8,1495 L1469.8,1495.1 L1471.8,1495.1 L1473.8,1495.1 L1475.8,1495.2 L1477.8,1495.2 L1479.8,1495.2 L1481.8,1495.2 L1483.8,1495.3 L1485.8,1495.3 L1487.8,1495.3 L1489.8,1495.3 L1491.8,1495.4 L1493.8,1495.4 L1495.8,1495.4 L1497.8,1495.4 L1499.8,1495.5 L1501.8,1495.5 L1503.8,1495.5 L1505.8,1495.5 L1507.8,1495.5 L1509.8,1495.6 L1511.8,1495.6 L1513.8,1495.6 L1515.8,1495.6 L1517.8,1495.7 L1519.8,1495.7 L1521.8,1495.7 L1523.8,1495.7 L1525.8,1495.7 L1527.8,1495.7 L1529.8,1495.8 L1531.8,1495.8 L1533.8,1495.8 L1535.8,1495.8 L1537.8,1495.8 L1539.8,1495.9 L1541.8,1495.9 L1543.8,1495.9 L1545.8,1495.9 L1547.8,1495.9 L1549.8,1495.9 L1551.8,1495.9 L1553.8,1496 L1555.8,1496 L1557.8,1496 L1559.8,1496 L1561.8,1496 L1563.8,1496 L1565.8,1496 L1567.8,1496 L1569.8,1496.1 L1571.8,1496.1 L1573.8,1496.1 L1575.8,1496.1 L1577.8,1496.1 L1579.8,1496.1 L1581.8,1496.1 L1583.8,1496.1 L1585.8,1496.1 L1587.8,1496.1 L1589.8,1496.1 L1591.8,1496.1 L1593.8,1496.1 L1595.8,1496.2 L1597.8,1496.2 L1599.8,1496.2 L1601.8,1496.2 L1603.8,1496.2 L1605.8,1496.2 L1607.8,1496.2 L1609.8,1496.2 L1611.8,1496.2 L1613.2,1496.2" stroke="#0000FF" stroke-width="4"/>
<path d="M413.8,1428.4 L415.8,1428.5 L417.8,1428.5 L419.8,1428.6 L421.8,1428.6 L423.8,1428.6 L425.8,1428.7 L427.8,1428.7 L429.8,1428.8 L431.8,1428.8 L433.8,1428.9 L435.8,1428.9 L437.8,1429 L439.8,1429 L441.8,1429.1 L443.8,1429.1 L445.8,1429.2 L447.8,1429.2 L449.8,1429.3 L451.8,1429.3 L453.8,1429.4 L455.8,1429.4 L457.8,1429.5 L459.8,1429.5 L461.8,1429.6 L463.8,1429.6 L465.8,1429.7 L467.8,1429.7 L469.8,1429.8 L471.8,1429.8 L473.8,1429.9 L475.8,1429.9 L477.8,1430 L479.8,1430.1 L481.8,1430.1 L483.8,1430.2 L485.8,1430.2 L487.8,1430.3 L489.8,1430.3 L491.8,1430.4 L493.8,1430.5 L495.8,1430.5 L497.8,1430.6 L499.8,1430.6 L501.8,1430.7 L503.8,1430.8 L505.8,1430.8 L507.8,1430.9 L509.8,1431 L511.8,1431 L513.8,1431.1 L515.8,1431.2 L517.8,1431.2 L519.8,1431.3 L521.8,1431.3 L523.8,1431.4 L525.8,1431.5 L527.8,1431.5 L529.8,1431.6 L531.8,1431.7 L533.8,1431.7 L535.8,1431.8 L537.8,1431.9 L539.8,1432 L541.8,1432 L543.8,1432.1 L545.8,1432.2 L547.8,1432.2 L549.8,1432.3 L551.8,1432.4 L553.8,1432.4 L555.8,1432.5 L557.8,1432.6 L559.8,1432.7 L561.8,1432.7 L563.8,1432.8 L565.8,1432.9 L567.8,1432.9 L569.8,1433 L571.8,1433.1 L573.8,1433.2 L575.8,1433.2 L577.8,1433.3 L579.8,1433.4 L581.8,1433.5 L583.8,1433.5 L585.8,1433.6 L587.8,1433.7 L589.8,1433.8 L591.8,1433.8 L593.8,1433.9 L595.8,1434 L597.8,1434.1 L599.8,1434.1 L601.8,1434.2 L603.8,1434.3 L605.8,1434.4 L607.8,1434.4 L609.8,1434.5 L611.8,1434.6 L613.8,1434.7 L615.8,1434.8 L617.8,1434.8 L619.8,1434.9 L621.8,1435 L623.8,1435.1 L625.8,1435.2 L627.8,1435.2 L629.8,1435.3 L631.8,1435.4 L633.8,1435.5 L635.8,1435.6 L637.8,1435.6 L639.8,1435.7 L641.8,1435.8 L643.8,1435.9 L645.8,1436 L647.8,1436.1 L649.8,1436.2 L651.8,1436.3 L653.8,1436.3 L655.8,1436.4 L657.8,1436.5 L659.8,1436.6 L661.8,1436.7 L663.8,1436.8 L665.8,1436.9 L667.8,1437 L669.8,1437.1 L671.8,1437.2 L673.8,1437.3 L675.8,1437.4 L677.8,1437.5 L679.8,1437.6 L681.8,1437.7 L683.8,1437.8 L685.8,1437.9 L687.8,1438 L689.8,1438.1 L691.8,1438.2 L693.8,1438.3 L695.8,1438.4 L697.8,1438.5 L699.8,1438.6 L701.8,1438.7 L703.8,1438.8 L705.8,1438.9 L707.8,1439 L709.8,1439.1 L711.8,1439.2 L713.8,1439.4 L715.8,1439.5 L717.8,1439.6 L719.8,1439.7 L721.8,1439.8 L723.8,1439.9 L725.8,1440 L727.8,1440.2 L729.8,1440.3 L731.8,1440.4 L733.8,1440.5 L735.8,1440.6 L737.8,1440.8 L739.8,1440.9 L741.8,1441 L743.8,1441.2 L745.8,1441.3 L747.8,1441.5 L749.8,1441.6 L751.8,1441.8 L753.8,1441.9 L755.8,1442.1 L757.8,1442.2 L759.8,1442.4 L761.8,1442.6 L763.8,1442.7 L765.8,1442.9 L767.8,1443.1 L769.8,1443.2 L771.8,1443.4 L773.8,1443.6 L775.8,1443.8 L777.8,1443.9 L779.8,1444.1 L781.8,1444.3 L783.8,1444.5 L785.8,1444.7 L787.8,1444.9 L789.8,1445 L791.8,1445.2 L793.8,1445.4 L795.8,1445.6 L797.8,1445.8 L799.8,1446 L801.8,1446.1 L803.8,1446.3 L805.8,1446.5 L807.8,1446.7 L809.8,1446.9 L811.8,1447.1 L813.8,1447.2 L815.8,1447.4 L817.8,1447.6 L819.8,1447.8 L821.8,1447.9 L823.8,1448.1 L825.8,1448.3 L827.8,1448.4 L829.8,1448.6 L831.8,1448.8 L833.8,1448.9 L835.8,1449.1 L837.8,1449.3 L839.8,1449.4 L841.8,1449.6 L843.8,1449.7 L845.8,1449.8 L847.8,1450 L849.8,1450.1 L851.8,1450.3 L853.8,1450.4 L855.8,1450.5 L857.8,1450.6 L859.8,1450.8 L861.8,1450.9 L863.8,1451 L865.8,1451.1 L867.8,1451.2 L869.8,1451.3 L871.8,1451.4 L873.8,1451.5 L875.8,1451.5 L877.8,1451.6 L879.8,1451.7 L881.8,1451.7 L883.8,1451.8 L885.8,1451.9 L887.8,1451.9 L889.8,1452 L891.8,1452 L893.8,1452.1 L895.8,1452.1 L897.8,1452.2 L899.8,1452.2 L901.8,1452.3 L903.8,1452.3 L905.8,1452.4 L907.8,1452.4 L909.8,1452.5 L911.8,1452.5 L913.8,1452.5 L915.8,1452.6 L917.8,1452.6 L919.8,1452.7 L921.8,1452.7 L923.8,1452.7 L925.8,1452.8 L927.8,1452.8 L929.8,1452.8 L931.8,1452.8 L933.8,1452.9 L935.8,1452.9 L937.8,1452.9 L939.8,1453 L941.8,1453 L943.8,1453 L945.8,1453 L947.8,1453.1 L949.8,1453.1 L951.8,1453.1 L953.8,1453.1 L955.8,1453.2 L957.8,1453.2 L959.8,1453.2 L961.8,1453.2 L963.8,1453.3 L965.8,1453.3 L967.8,1453.3 L969.8,1453.3 L971.8,1453.3 L973.8,1453.4 L975.8,1453.4 L977.8,1453.4 L979.8,1453.4 L981.8,1453.5 L983.8,1453.5 L985.8,1453.5 L987.8,1453.5 L989.8,1453.6 L991.8,1453.6 L993.8,1453.6 L995.8,1453.6 L997.8,1453.7 L999.8,1453.7 L1001.8,1453.7 L1003.8,1453.7 L1005.8,1453.8 L1007.8,1453.8 L1009.8,1453.8 L1011.8,1453.8 L1013.8,1453.8 L1015.8,1453.9 L1017.8,1453.9 L1019.8,1453.9 L1021.8,1453.9 L1023.8,1453.9 L1025.8,1453.9 L1027.8,1453.9 L1029.8,1453.9 L1031.8,1453.9 L1033.8,1454 L1035.8,1454 L1037.8,1454 L1039.8,1454 L1041.8,1454 L1043.8,1454 L1045.8,1454 L1047.8,1454 L1049.8,1454 L1051.8,1454 L1053.8,1453.9 L1055.8,1453.9 L1057.8,1453.9 L1059.8,1453.9 L1061.8,1453.9 L1063.8,1453.9 L1065.8,1453.9 L1067.8,1453.9 L1069.8,1453.9 L1071.8,1453.8 L1073.8,1453.8 L1075.8,1453.8 L1077.8,1453.8 L1079.8,1453.7 L1081.8,1453.7 L1083.8,1453.7 L1085.8,1453.7 L1087.8,1453.6 L1089.8,1453.6 L1091.8,1453.6 L1093.8,1453.5 L1095.8,1453.5 L1097.8,1453.4 L1099.8,1453.4 L1101.8,1453.3 L1103.8,1453.3 L1105.8,1453.2 L1107.8,1453.2 L1109.8,1453.1 L1111.8,1453 L1113.8,1452.9 L1115.8,1452.9 L1117.8,1452.8 L1119.8,1452.7 L1121.8,1452.6 L1123.8,1452.5 L1125.8,1452.4 L1127.8,1452.3 L1129.8,1452.2 L1131.8,1452.1 L1133.8,1452 L1135.8,1451.9 L1137.8,1451.8 L1139.8,1451.7 L1141.8,1451.6 L1143.8,1451.5 L1145.8,1451.4 L1147.8,1451.2 L1149.8,1451.1 L1151.8,1450.9 L1153.8,1450.7 L1155.8,1450.5 L1157.8,1450.3 L1159.8,1450.1 L1161.8,1449.8 L1163.8,1449.5 L1165.8,1449.1 L1167.8,1448.8 L1169.8,1448.3 L1171.8,1447.9 L1173.8,1447.4 L1175.8,1446.8 L1177.8,1446.2 L1179.8,1445.5 L1181.8,1444.8 L1183.8,1444 L1185.8,1443.2 L1187.8,1442.2 L1189.8,1441.3 L1191.8,1440.2 L1193.8,1439.1 L1195.8,1437.8 L1197.8,1436.6 L1199.8,1435.2 L1201.8,1433.7 L1203.8,1432.2 L1205.8,1430.6 L1207.8,1428.9 L1209.8,1427.2 L1211.8,1425.3 L1213.8,1423.5 L1215.8,1421.6 L1217.8,1419.7 L1219.8,1417.8 L1221.8,1415.9 L1223.8,1414.1 L1225.8,1412.3 L1227.8,1410.7 L1229.8,1409.3 L1231.8,1408 L1233.8,1407 L1235.8,1406.3 L1237.8,1405.8 L1239.8,1405.7 L1241.8,1405.9 L1243.8,1406.4 L1245.8,1407.3 L1247.8,1408.5 L1249.8,1409.9 L1251.8,1411.6 L1253.8,1413.6 L1255.8,1415.7 L1257.8,1418 L1259.8,1420.4 L1261.8,1422.9 L1263.8,1425.4 L1265.8,1427.9 L1267.8,1430.4 L1269.8,1432.9 L1271.8,1435.3 L1273.8,1437.7 L1275.8,1440 L1277.8,1442.2 L1279.8,1444.4 L1281.8,1446.4 L1283.8,1448.4 L1285.8,1450.3 L1287.8,1452.2 L1289.8,1454 L1291.8,1455.7 L1293.8,1457.3 L1295.8,1458.9 L1297.8,1460.4 L1299.8,1461.9 L1301.8,1463.3 L1303.8,1464.6 L1305.8,1465.9 L1307.8,1467.1 L1309.8,1468.3 L1311.8,1469.4 L1313.8,1470.5 L1315.8,1471.5 L1317.8,1472.4 L1319.8,1473.4 L1321.8,1474.3 L1323.8,1475.1 L1325.8,1476 L1327.8,1476.8 L1329.8,1477.6 L1331.8,1478.3 L1333.8,1479.1 L1335.8,1479.8 L1337.8,1480.5 L1339.8,1481.2 L1341.8,1481.8 L1343.8,1482.4 L1345.8,1483 L1347.8,1483.5 L1349.8,1484.1 L1351.8,1484.5 L1353.8,1485 L1355.8,1485.4 L1357.8,1485.8 L1359.8,1486.1 L1361.8,1486.4 L1363.8,1486.7 L1365.8,1487 L1367.8,1487.2 L1369.8,1487.5 L1371.8,1487.7 L1373.8,1487.9 L1375.8,1488.2 L1377.8,1488.4 L1379.8,1488.6 L1381.8,1488.8 L1383.8,1488.9 L1385.8,1489.1 L1387.8,1489.3 L1389.8,1489.4 L1391.8,1489.6 L1393.8,1489.7 L1395.8,1489.9 L1397.8,1490 L1399.8,1490.2 L1401.8,1490.3 L1403.8,1490.4 L1405.8,1490.5 L1407.8,1490.6 L1409.8,1490.8 L1411.8,1490.9 L1413.8,1491 L1415.8,1491.1 L1417.8,1491.2 L1419.8,1491.3 L1421.8,1491.4 L1423.8,1491.5 L1425.8,1491.6 L1427.8,1491.7 L1429.8,1491.8 L1431.8,1491.9 L1433.8,1491.9 L1435.8,1492 L1437.8,1492.1 L1439.8,1492.2 L1441.8,1492.3 L1443.8,1492.4 L1445.8,1492.4 L1447.8,1492.5 L1449.8,1492.6 L1451.8,1492.7 L1453.8,1492.7 L1455.8,1492.8 L1457.8,1492.9 L1459.8,1492.9 L1461.8,1493 L1463.8,1493.1 L1465.8,1493.1 L1467.8,1493.2 L1469.8,1493.2 L1471.8,1493.3 L1473.8,1493.4 L1475.8,1493.4 L1477.8,1493.5 L1479.8,1493.5 L1481.8,1493.6 L1483.8,1493.6 L1485.8,1493.7 L1487.8,1493.7 L1489.8,1493.8 L1491.8,1493.9 L1493.8,1493.9 L1495.8,1493.9 L1497.8,1494 L1499.8,1494 L1501.8,1494.1 L1503.8,1494.1 L1505.8,1494.2 L1507.8,1494.2 L1509.8,1494.3 L1511.8,1494.3 L1513.8,1494.3 L1515.8,1494.4 L1517.8,1494.4 L1519.8,1494.5 L1521.8,1494.5 L1523.8,1494.5 L1525.8,1494.6 L1527.8,1494.6 L1529.8,1494.6 L1531.8,1494.7 L1533.8,1494.7 L1535.8,1494.7 L1537.8,1494.8 L1539.8,1494.8 L1541.8,1494.8 L1543.8,1494.9 L1545.8,1494.9 L1547.8,1494.9 L1549.8,1495 L1551.8,1495 L1553.8,1495 L1555.8,1495 L1557.8,1495.1 L1559.8,1495.1 L1561.8,1495.1 L1563.8,1495.1 L1565.8,1495.2 L1567.8,1495.2 L1569.8,1495.2 L1571.8,1495.2 L1573.8,1495.2 L1575.8,1495.3 L1577.8,1495.3 L1579.8,1495.3 L1581.8,1495.3 L1583.8,1495.3 L1585.8,1495.4 L1587.8,1495.4 L1589.8,1495.4 L1591.8,1495.4 L1593.8,1495.4 L1595.8,1495.4 L1597.8,1495.4 L1599.8,1495.5 L1601.8,1495.5 L1603.8,1495.5 L1605.8,1495.5 L1607.8,1495.5 L1609.8,1495.5 L1611.8,1495.5 L1613.2,1495.5" stroke="#0000FF" stroke-width="4"/>
</g>
<g stroke="#FF8000" stroke-width="4" stroke-linecap="round" stroke-dasharray="19 22.2" fill="none">
<line x1="1280.1" y1="160.6" x2="1306.7" y2="1293"/>
<line x1="1227.9" y1="300.6" x2="1255.3" y2="1432"/>
</g>
<g stroke="#000" stroke-width="6.3" fill="none" stroke-linecap="round">
<path d="M196.3,78.7 H1727.8 V1540.4 H196.3 Z" stroke-linejoin="round"/>
<line x1="196.3" y1="563.9" x2="1727.8" y2="563.9"/>
<line x1="196.3" y1="1052.3" x2="1727.8" y2="1052.3"/>
<line x1="1728" y1="1540.4" x2="1728" y2="1572.0"/>
<line x1="1588.8" y1="1540.4" x2="1588.8" y2="1556.5"/>
<line x1="1449.5" y1="1540.4" x2="1449.5" y2="1572.0"/>
<line x1="1310.3" y1="1540.4" x2="1310.3" y2="1556.5"/>
<line x1="1171" y1="1540.4" x2="1171" y2="1572.0"/>
<line x1="1031.8" y1="1540.4" x2="1031.8" y2="1556.5"/>
<line x1="892.5" y1="1540.4" x2="892.5" y2="1572.0"/>
<line x1="753.3" y1="1540.4" x2="753.3" y2="1556.5"/>
<line x1="614" y1="1540.4" x2="614" y2="1572.0"/>
<line x1="474.8" y1="1540.4" x2="474.8" y2="1556.5"/>
<line x1="335.6" y1="1540.4" x2="335.6" y2="1572.0"/>
<line x1="196.3" y1="1540.4" x2="196.3" y2="1556.5"/>
</g>
<text x="1728" y="1655" font-size="74" text-anchor="middle">840</text>
<text x="1449.5" y="1655" font-size="74" text-anchor="middle">850</text>
<text x="1171" y="1655" font-size="74" text-anchor="middle">860</text>
<text x="892.5" y="1655" font-size="74" text-anchor="middle">870</text>
<text x="614" y="1655" font-size="74" text-anchor="middle">880</text>
<text x="335.6" y="1655" font-size="74" text-anchor="middle">890</text>
<text x="939" y="1756.2" font-size="90.7" text-anchor="middle">B.E.(eV)</text>
<text transform="translate(137,810.1) rotate(-90)" font-size="89.6" text-anchor="middle">Intensity (a.u.)</text>
<text x="1566.6" y="148" font-size="65">C2-1</text>
<text x="1566.6" y="635.5" font-size="65">C2-2</text>
<text x="1566.6" y="1124.8" font-size="65">C2-3</text>
<line x1="214" y1="123.2" x2="341" y2="123.2" stroke="#008000" stroke-width="4.5" stroke-linecap="round"/>
<text x="356.5" y="143.5" font-size="57.3">Satellite peak</text>
</svg></body></html>
